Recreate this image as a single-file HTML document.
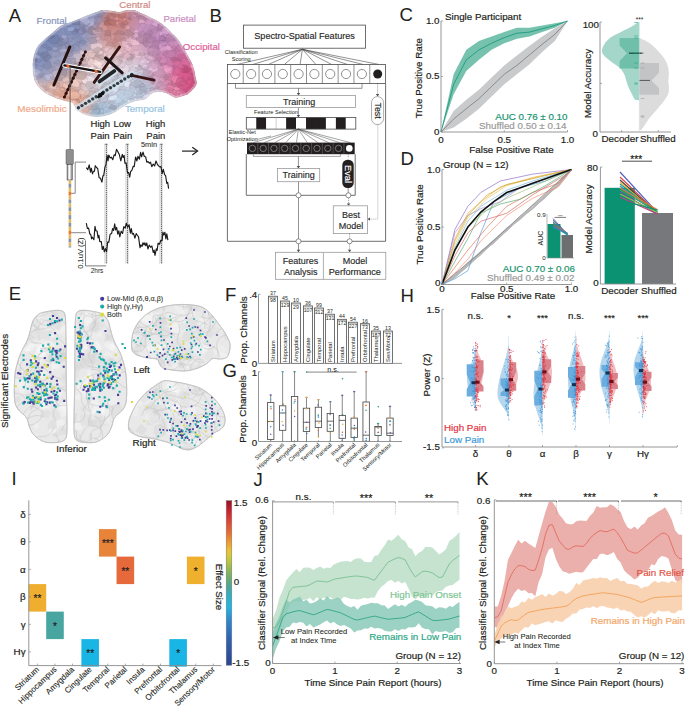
<!DOCTYPE html>
<html><head><meta charset="utf-8"><title>Figure</title>
<style>html,body{margin:0;padding:0;background:#fff;}svg{display:block;}text{font-family:"Liberation Sans", sans-serif;}</style>
</head><body>
<svg width="685" height="706" viewBox="0 0 685 706" font-family='"Liberation Sans", sans-serif'>
<rect width="685" height="706" fill="#fff"/>
<!-- p_b.panel_b -->
<text x="209.4" y="21.8" font-size="18.5" text-anchor="start" fill="#231f20" stroke="#231f20" stroke-width="0.05">B</text>
<line x1="182" y1="151.1" x2="197.3" y2="151.1" stroke="#222" stroke-width="1.2"/>
<path d="M192.3 147.2 L197.6 151.1 L192.3 155" fill="none" stroke="#222" stroke-width="1.2"/>
<rect x="243.4" y="25.1" width="122.2" height="23.1" fill="#fff" stroke="#4a4a4a" stroke-width="0.8"/>
<text x="304.6" y="39.2" font-size="9.1" text-anchor="middle" fill="#2a2a2a" stroke="#2a2a2a" stroke-width="0.158">Spectro-Spatial Features</text>
<text x="241.2" y="54" font-size="5.6" text-anchor="middle" fill="#231f20">Classification</text>
<text x="241.2" y="60.6" font-size="5.6" text-anchor="middle" fill="#231f20">Scoring</text>
<line x1="302.4" y1="49.3" x2="236.81" y2="64.5" stroke="#4a4a4a" stroke-width="0.6"/>
<line x1="302.4" y1="49.3" x2="252.63" y2="64.5" stroke="#4a4a4a" stroke-width="0.6"/>
<line x1="302.4" y1="49.3" x2="268.45" y2="64.5" stroke="#4a4a4a" stroke-width="0.6"/>
<line x1="302.4" y1="49.3" x2="284.27" y2="64.5" stroke="#4a4a4a" stroke-width="0.6"/>
<line x1="302.4" y1="49.3" x2="300.09" y2="64.5" stroke="#4a4a4a" stroke-width="0.6"/>
<line x1="302.4" y1="49.3" x2="315.91" y2="64.5" stroke="#4a4a4a" stroke-width="0.6"/>
<line x1="302.4" y1="49.3" x2="331.73" y2="64.5" stroke="#4a4a4a" stroke-width="0.6"/>
<line x1="302.4" y1="49.3" x2="347.55" y2="64.5" stroke="#4a4a4a" stroke-width="0.6"/>
<line x1="302.4" y1="49.3" x2="363.37" y2="64.5" stroke="#4a4a4a" stroke-width="0.6"/>
<line x1="302.4" y1="49.3" x2="379.19" y2="64.5" stroke="#4a4a4a" stroke-width="0.6"/>
<rect x="227.4" y="64.5" width="158.2" height="19" fill="#fff" stroke="#4a4a4a" stroke-width="0.8"/>
<line x1="243.22" y1="64.5" x2="243.22" y2="83.5" stroke="#4a4a4a" stroke-width="0.6"/>
<line x1="259.04" y1="64.5" x2="259.04" y2="83.5" stroke="#4a4a4a" stroke-width="0.6"/>
<line x1="274.86" y1="64.5" x2="274.86" y2="83.5" stroke="#4a4a4a" stroke-width="0.6"/>
<line x1="290.68" y1="64.5" x2="290.68" y2="83.5" stroke="#4a4a4a" stroke-width="0.6"/>
<line x1="306.5" y1="64.5" x2="306.5" y2="83.5" stroke="#4a4a4a" stroke-width="0.6"/>
<line x1="322.32" y1="64.5" x2="322.32" y2="83.5" stroke="#4a4a4a" stroke-width="0.6"/>
<line x1="338.14" y1="64.5" x2="338.14" y2="83.5" stroke="#4a4a4a" stroke-width="0.6"/>
<line x1="353.96" y1="64.5" x2="353.96" y2="83.5" stroke="#4a4a4a" stroke-width="0.6"/>
<line x1="369.78" y1="64.5" x2="369.78" y2="83.5" stroke="#4a4a4a" stroke-width="0.6"/>
<circle cx="235.31" cy="74" r="4.6" fill="#fff" stroke="#4a4a4a" stroke-width="0.6"/>
<circle cx="251.13" cy="74" r="4.6" fill="#fff" stroke="#4a4a4a" stroke-width="0.6"/>
<circle cx="266.95" cy="74" r="4.6" fill="#fff" stroke="#4a4a4a" stroke-width="0.6"/>
<circle cx="282.77" cy="74" r="4.6" fill="#fff" stroke="#4a4a4a" stroke-width="0.6"/>
<circle cx="298.59" cy="74" r="4.6" fill="#fff" stroke="#4a4a4a" stroke-width="0.6"/>
<circle cx="314.41" cy="74" r="4.6" fill="#fff" stroke="#4a4a4a" stroke-width="0.6"/>
<circle cx="330.23" cy="74" r="4.6" fill="#fff" stroke="#4a4a4a" stroke-width="0.6"/>
<circle cx="346.05" cy="74" r="4.6" fill="#fff" stroke="#4a4a4a" stroke-width="0.6"/>
<circle cx="361.87" cy="74" r="4.6" fill="#fff" stroke="#4a4a4a" stroke-width="0.6"/>
<circle cx="377.69" cy="74" r="4.5" fill="#231f20"/>
<path d="M227.4 83.5 L227.4 241.3 L385.6 241.3 L385.6 83.5" fill="none" stroke="#4a4a4a" stroke-width="0.8"/>
<path d="M235.5 83.5 L235.5 88.3 L362 88.3 L362 83.5" fill="none" stroke="#4a4a4a" stroke-width="0.6"/>
<line x1="298.5" y1="88.3" x2="298.5" y2="93.5" stroke="#4a4a4a" stroke-width="0.6"/>
<path d="M296.8 93 L300.2 93 L298.5 95.5 Z" fill="#4a4a4a"/>
<line x1="377.6" y1="83.5" x2="377.6" y2="94.5" stroke="#4a4a4a" stroke-width="0.6" stroke-dasharray="1 1"/>
<path d="M375.9 94 L379.3 94 L377.6 96.5 Z" fill="#4a4a4a"/>
<rect x="246.3" y="95.5" width="109.2" height="12" fill="#fff" stroke="#9a9a9a" stroke-width="0.8"/>
<text x="299.2" y="104.6" font-size="9" text-anchor="middle" fill="#2a2a2a" stroke="#2a2a2a" stroke-width="0.152">Training</text>
<text x="276" y="113.6" font-size="5.6" text-anchor="middle" fill="#231f20">Feature Selection</text>
<line x1="298.4" y1="107.5" x2="298.4" y2="115.5" stroke="#4a4a4a" stroke-width="0.6"/>
<path d="M296.7 115 L300.1 115 L298.4 117.4 Z" fill="#4a4a4a"/>
<rect x="246.3" y="117.4" width="9.95" height="11.7" fill="#fff"/>
<rect x="256.25" y="117.4" width="9.95" height="11.7" fill="#231f20"/>
<rect x="266.21" y="117.4" width="9.95" height="11.7" fill="#fff"/>
<rect x="276.16" y="117.4" width="9.95" height="11.7" fill="#fff"/>
<rect x="286.12" y="117.4" width="9.95" height="11.7" fill="#231f20"/>
<rect x="296.07" y="117.4" width="9.95" height="11.7" fill="#fff"/>
<rect x="306.03" y="117.4" width="9.95" height="11.7" fill="#231f20"/>
<rect x="315.98" y="117.4" width="9.95" height="11.7" fill="#231f20"/>
<rect x="325.94" y="117.4" width="9.95" height="11.7" fill="#fff"/>
<rect x="335.89" y="117.4" width="9.95" height="11.7" fill="#231f20"/>
<rect x="345.85" y="117.4" width="9.95" height="11.7" fill="#fff"/>
<rect x="246.3" y="117.4" width="109.5" height="11.7" fill="none" stroke="#4a4a4a" stroke-width="0.8"/>
<line x1="276.16" y1="117.4" x2="276.16" y2="129.1" stroke="#888" stroke-width="0.4"/>
<text x="242.2" y="134.4" font-size="5.6" text-anchor="middle" fill="#231f20">Elastic-Net</text>
<text x="242.2" y="140.6" font-size="5.6" text-anchor="middle" fill="#231f20">Optimization</text>
<line x1="298.4" y1="129.1" x2="253.38" y2="142.6" stroke="#4a4a4a" stroke-width="0.5"/>
<line x1="298.4" y1="129.1" x2="264.15" y2="142.6" stroke="#4a4a4a" stroke-width="0.5"/>
<line x1="298.4" y1="129.1" x2="274.93" y2="142.6" stroke="#4a4a4a" stroke-width="0.5"/>
<line x1="298.4" y1="129.1" x2="285.69" y2="142.6" stroke="#4a4a4a" stroke-width="0.5"/>
<line x1="298.4" y1="129.1" x2="296.46" y2="142.6" stroke="#4a4a4a" stroke-width="0.5"/>
<line x1="298.4" y1="129.1" x2="307.24" y2="142.6" stroke="#4a4a4a" stroke-width="0.5"/>
<line x1="298.4" y1="129.1" x2="318" y2="142.6" stroke="#4a4a4a" stroke-width="0.5"/>
<line x1="298.4" y1="129.1" x2="328.77" y2="142.6" stroke="#4a4a4a" stroke-width="0.5"/>
<line x1="298.4" y1="129.1" x2="339.55" y2="142.6" stroke="#4a4a4a" stroke-width="0.5"/>
<line x1="298.4" y1="129.1" x2="350.31" y2="142.6" stroke="#4a4a4a" stroke-width="0.5"/>
<line x1="257.2" y1="139.4" x2="271" y2="136" stroke="#4a4a4a" stroke-width="0.5"/>
<rect x="247" y="142.6" width="107.7" height="11.6" fill="#231f20"/>
<line x1="257.77" y1="142.6" x2="257.77" y2="154.2" stroke="#777" stroke-width="0.5"/>
<line x1="268.54" y1="142.6" x2="268.54" y2="154.2" stroke="#777" stroke-width="0.5"/>
<line x1="279.31" y1="142.6" x2="279.31" y2="154.2" stroke="#777" stroke-width="0.5"/>
<line x1="290.08" y1="142.6" x2="290.08" y2="154.2" stroke="#777" stroke-width="0.5"/>
<line x1="300.85" y1="142.6" x2="300.85" y2="154.2" stroke="#777" stroke-width="0.5"/>
<line x1="311.62" y1="142.6" x2="311.62" y2="154.2" stroke="#777" stroke-width="0.5"/>
<line x1="322.39" y1="142.6" x2="322.39" y2="154.2" stroke="#777" stroke-width="0.5"/>
<line x1="333.16" y1="142.6" x2="333.16" y2="154.2" stroke="#777" stroke-width="0.5"/>
<line x1="343.93" y1="142.6" x2="343.93" y2="154.2" stroke="#777" stroke-width="0.5"/>
<circle cx="252.38" cy="148.4" r="3.2" fill="none" stroke="#aaa" stroke-width="0.6"/>
<circle cx="263.15" cy="148.4" r="3.2" fill="none" stroke="#aaa" stroke-width="0.6"/>
<circle cx="273.93" cy="148.4" r="3.2" fill="none" stroke="#aaa" stroke-width="0.6"/>
<circle cx="284.69" cy="148.4" r="3.2" fill="none" stroke="#aaa" stroke-width="0.6"/>
<circle cx="295.46" cy="148.4" r="3.2" fill="none" stroke="#aaa" stroke-width="0.6"/>
<circle cx="306.24" cy="148.4" r="3.2" fill="none" stroke="#aaa" stroke-width="0.6"/>
<circle cx="317" cy="148.4" r="3.2" fill="none" stroke="#aaa" stroke-width="0.6"/>
<circle cx="327.77" cy="148.4" r="3.2" fill="none" stroke="#aaa" stroke-width="0.6"/>
<circle cx="338.55" cy="148.4" r="3.2" fill="none" stroke="#aaa" stroke-width="0.6"/>
<circle cx="349.31" cy="148.4" r="3.3" fill="#fff"/>
<path d="M246.3 154.2 L246.3 195.3 L355.2 195.3 L355.2 154.2" fill="none" stroke="#4a4a4a" stroke-width="0.8"/>
<path d="M253.3 154.2 L253.3 156.4 L340.4 156.4 L340.4 154.2" fill="none" stroke="#4a4a4a" stroke-width="0.5"/>
<line x1="298.4" y1="156.4" x2="298.4" y2="166.4" stroke="#4a4a4a" stroke-width="0.6"/>
<path d="M296.7 166 L300.1 166 L298.4 168.4 Z" fill="#4a4a4a"/>
<rect x="277.4" y="168.4" width="42.3" height="13.3" fill="#fff" stroke="#9a9a9a" stroke-width="0.8"/>
<text x="298.6" y="178.4" font-size="9" text-anchor="middle" fill="#2a2a2a" stroke="#2a2a2a" stroke-width="0.152">Training</text>
<line x1="348.2" y1="154.2" x2="348.2" y2="158" stroke="#4a4a4a" stroke-width="0.6" stroke-dasharray="1 1"/>
<rect x="342.3" y="159.8" width="11.4" height="28.2" fill="#231f20" rx="5.2"/>
<text x="348.4" y="177.16" font-size="9.2" text-anchor="middle" fill="#fff" transform="rotate(90 348.4 174)" stroke="#fff" stroke-width="0.164">Eval</text>
<line x1="348.2" y1="188" x2="348.2" y2="193" stroke="#4a4a4a" stroke-width="0.6"/>
<line x1="298.5" y1="181.7" x2="298.5" y2="250" stroke="#4a4a4a" stroke-width="0.6"/>
<path d="M296.8 249.8 L300.2 249.8 L298.5 252.3 Z" fill="#4a4a4a"/>
<line x1="348.6" y1="197.8" x2="348.6" y2="204" stroke="#4a4a4a" stroke-width="0.6" stroke-dasharray="1 1"/>
<path d="M346.9 203.4 L350.3 203.4 L348.6 205.8 Z" fill="#4a4a4a"/>
<rect x="333.3" y="205.8" width="34.3" height="27.8" fill="#fff" stroke="#9a9a9a" stroke-width="0.8"/>
<text x="350.9" y="218" font-size="9" text-anchor="middle" fill="#2a2a2a" stroke="#2a2a2a" stroke-width="0.152">Best</text>
<text x="350.9" y="228.8" font-size="9" text-anchor="middle" fill="#2a2a2a" stroke="#2a2a2a" stroke-width="0.152">Model</text>
<rect x="371.5" y="96.6" width="12.1" height="28" fill="#fff" stroke="#8a8a8a" stroke-width="0.7" rx="6"/>
<text x="377.6" y="113.63" font-size="8.8" text-anchor="middle" fill="#231f20" transform="rotate(90 377.6 110.6)" stroke="#231f20" stroke-width="0.139">Test</text>
<path d="M377.8 124.6 L377.8 219.1 L370 219.1" fill="none" stroke="#777" stroke-width="0.6" stroke-dasharray="1 1"/>
<path d="M370 217.4 L370 220.8 L367.6 219.1 Z" fill="#4a4a4a"/>
<line x1="349.6" y1="233.6" x2="349.6" y2="250" stroke="#4a4a4a" stroke-width="0.6" stroke-dasharray="1 1"/>
<path d="M347.9 249.8 L351.3 249.8 L349.6 252.3 Z" fill="#4a4a4a"/>
<circle cx="298.5" cy="195.3" r="2.5" fill="#fff" stroke="#4a4a4a" stroke-width="0.6"/>
<circle cx="348.4" cy="195.3" r="2.5" fill="#fff" stroke="#4a4a4a" stroke-width="0.6"/>
<circle cx="298.5" cy="241.3" r="2.5" fill="#fff" stroke="#4a4a4a" stroke-width="0.6"/>
<circle cx="349.6" cy="241.3" r="2.5" fill="#fff" stroke="#4a4a4a" stroke-width="0.6"/>
<rect x="275.5" y="252.3" width="110.3" height="27" fill="#fff" stroke="#9a9a9a" stroke-width="0.8"/>
<line x1="323.4" y1="252.3" x2="323.4" y2="279.3" stroke="#9a9a9a" stroke-width="0.8"/>
<text x="300.6" y="263.8" font-size="9" text-anchor="middle" fill="#2a2a2a" stroke="#2a2a2a" stroke-width="0.152">Features</text>
<text x="300.8" y="274.6" font-size="9" text-anchor="middle" fill="#2a2a2a" stroke="#2a2a2a" stroke-width="0.152">Analysis</text>
<text x="355" y="263.8" font-size="9" text-anchor="middle" fill="#2a2a2a" stroke="#2a2a2a" stroke-width="0.152">Model</text>
<text x="354.8" y="274.6" font-size="9.1" text-anchor="middle" fill="#2a2a2a" stroke="#2a2a2a" stroke-width="0.158">Performance</text>
<!-- p_cd.panel_c -->
<text x="399.5" y="20.8" font-size="18.5" text-anchor="start" fill="#231f20" stroke="#231f20" stroke-width="0.05">C</text>
<path d="M441 132 L453.65 110.91 L466.3 99.81 L478.95 89.82 L491.6 77.61 L504.25 65.4 L516.9 55.41 L529.55 45.64 L542.2 36.54 L554.85 28.33 L567.5 21 L567.5 21 L554.85 40.98 L542.2 52.08 L529.55 64.29 L516.9 74.28 L504.25 84.27 L491.6 96.48 L478.95 108.69 L466.3 118.68 L453.65 127.56 L441 132 Z" fill="#c9cacb"/>
<path d="M441 132 L453.65 119.01 L466.3 108.69 L478.95 98.7 L491.6 86.49 L504.25 74.28 L516.9 65.4 L529.55 54.86 L542.2 44.31 L554.85 34.32 L567.5 21" fill="none" stroke="#6f7072" stroke-width="0.7"/>
<path d="M441 132 L453.65 74.28 L466.3 49.86 L478.95 40.98 L491.6 36.54 L504.25 32.1 L516.9 27.66 L529.55 27.66 L542.2 25.44 L554.85 23.22 L567.5 21 L567.5 21 L554.85 27.66 L542.2 32.1 L529.55 36.54 L516.9 38.76 L504.25 43.2 L491.6 49.86 L478.95 59.85 L466.3 70.95 L453.65 94.26 L441 132 Z" fill="#77c1af"/>
<path d="M441 132 L453.65 84.27 L466.3 59.85 L478.95 49.86 L491.6 43.2 L504.25 37.65 L516.9 33.21 L529.55 32.1 L542.2 28.77 L554.85 25.44 L567.5 21" fill="none" stroke="#1c9c7d" stroke-width="0.9"/>
<path d="M441 21 L441 132 L567.5 132" fill="none" stroke="#8a8a8a" stroke-width="0.9"/>
<line x1="441" y1="132" x2="443" y2="132" stroke="#8a8a8a" stroke-width="0.7"/>
<line x1="441" y1="132" x2="441" y2="130" stroke="#8a8a8a" stroke-width="0.7"/>
<line x1="441" y1="76.5" x2="443" y2="76.5" stroke="#8a8a8a" stroke-width="0.7"/>
<line x1="504.25" y1="132" x2="504.25" y2="130" stroke="#8a8a8a" stroke-width="0.7"/>
<line x1="441" y1="21" x2="443" y2="21" stroke="#8a8a8a" stroke-width="0.7"/>
<line x1="567.5" y1="132" x2="567.5" y2="130" stroke="#8a8a8a" stroke-width="0.7"/>
<text x="439.5" y="24.27" font-size="9.8" text-anchor="end" fill="#231f20" stroke="#231f20" stroke-width="0.2">1.0</text>
<text x="439.5" y="78.57" font-size="9.8" text-anchor="end" fill="#231f20" stroke="#231f20" stroke-width="0.2">0.5</text>
<text x="439.5" y="134.57" font-size="9.8" text-anchor="end" fill="#231f20" stroke="#231f20" stroke-width="0.2">0</text>
<text x="441" y="142.87" font-size="9.8" text-anchor="middle" fill="#231f20" stroke="#231f20" stroke-width="0.2">0</text>
<text x="504.25" y="142.87" font-size="9.8" text-anchor="middle" fill="#231f20" stroke="#231f20" stroke-width="0.2">0.5</text>
<text x="567.5" y="142.87" font-size="9.8" text-anchor="middle" fill="#231f20" stroke="#231f20" stroke-width="0.2">1.0</text>
<text x="511.5" y="152.97" font-size="9.8" text-anchor="middle" fill="#231f20" stroke="#231f20" stroke-width="0.2">False Positive Rate</text>
<text x="418.7" y="81.57" font-size="9.8" text-anchor="middle" fill="#231f20" transform="rotate(-90 418.7 78.2)" stroke="#231f20" stroke-width="0.2">True Positive Rate</text>
<text x="445" y="19.97" font-size="9.8" text-anchor="start" fill="#231f20" stroke="#231f20" stroke-width="0.2">Single Participant</text>
<text x="567.5" y="119.67" font-size="9.8" text-anchor="end" fill="#17946f" stroke="#17946f" stroke-width="0.2">AUC 0.76 ± 0.10</text>
<text x="566.5" y="128.97" font-size="9.8" text-anchor="end" fill="#9a9a9a" stroke="#9a9a9a" stroke-width="0.2">Shuffled 0.50 ± 0.14</text>
<path d="M638 22.3 C636.95 23.02 634.53 25 631.7 26.6 C628.87 28.2 624.18 30.3 621 31.9 C617.82 33.5 614.9 34.78 612.6 36.2 C610.3 37.62 608.63 38.98 607.2 40.4 C605.77 41.82 604.87 43.1 604 44.7 C603.13 46.3 602.17 48.4 602 50 C601.83 51.6 602.13 52.88 603 54.3 C603.87 55.72 605.6 57.08 607.2 58.5 C608.8 59.92 610.47 61.2 612.6 62.8 C614.73 64.4 618.05 66.15 620 68.1 C621.95 70.05 623.23 72.37 624.3 74.5 C625.37 76.63 625.7 78.78 626.4 80.9 C627.1 83.02 627.62 85.08 628.5 87.2 C629.38 89.32 630.63 91.53 631.7 93.6 C632.77 95.67 633.63 98.45 634.9 99.6 C636.17 100.75 638.57 100.35 639.3 100.5 L639.3 100.5 L639.3 22 Z" fill="#a4d7ca"/>
<path d="M640.2 38.3 C641.62 39.02 646.03 40.83 648.7 42.6 C651.37 44.37 654 46.78 656.2 48.9 C658.4 51.02 660.23 53.17 661.9 55.3 C663.57 57.43 665.13 59.57 666.2 61.7 C667.27 63.83 667.85 65.97 668.3 68.1 C668.75 70.23 668.9 72.37 668.9 74.5 C668.9 76.63 668.3 78.78 668.3 80.9 C668.3 83.02 668.9 85.08 668.9 87.2 C668.9 89.32 669 91.47 668.3 93.6 C667.6 95.73 666.18 97.87 664.7 100 C663.22 102.13 661.18 104.27 659.4 106.4 C657.62 108.53 655.78 110.68 654 112.8 C652.22 114.92 650.28 116.98 648.7 119.1 C647.12 121.22 645.73 123.72 644.5 125.5 C643.27 127.28 642.17 128.88 641.3 129.8 C640.43 130.72 639.63 130.8 639.3 131 L639.3 131 L639.3 38.3 Z" fill="#dcdcdd"/>
<path d="M619.6 38 L639.3 38 L639.3 68.5 L619.6 68.5 L619.6 61 L627 53.2 L619.6 45.5 Z" fill="#6fbfaa"/>
<path d="M639.3 63 L659 63 L659 72.5 L651.5 80.4 L659 88.3 L659 94.7 L639.3 94.7 Z" fill="#c3c4c5"/>
<line x1="629" y1="53.2" x2="642.5" y2="53.2" stroke="#1d4d40" stroke-width="1.3"/>
<line x1="639.3" y1="80.4" x2="650" y2="80.4" stroke="#555" stroke-width="1"/>
<line x1="639.3" y1="22" x2="639.3" y2="131" stroke="#bfe0d7" stroke-width="0.3"/>
<line x1="634.3" y1="22.5" x2="637.8" y2="22.5" stroke="#1fa585" stroke-width="0.6"/>
<line x1="634.3" y1="36" x2="637.8" y2="36" stroke="#1fa585" stroke-width="0.6"/>
<line x1="634.3" y1="38" x2="637.8" y2="38" stroke="#1fa585" stroke-width="0.6"/>
<line x1="634.3" y1="53" x2="637.8" y2="53" stroke="#1fa585" stroke-width="0.6"/>
<line x1="634.3" y1="63" x2="637.8" y2="63" stroke="#1fa585" stroke-width="0.6"/>
<line x1="634.3" y1="68" x2="637.8" y2="68" stroke="#1fa585" stroke-width="0.6"/>
<line x1="634.3" y1="83" x2="637.8" y2="83" stroke="#1fa585" stroke-width="0.6"/>
<line x1="634.3" y1="84" x2="637.8" y2="84" stroke="#1fa585" stroke-width="0.6"/>
<line x1="640.8" y1="53" x2="644.3" y2="53" stroke="#8a8a8a" stroke-width="0.5"/>
<line x1="640.8" y1="63" x2="644.3" y2="63" stroke="#8a8a8a" stroke-width="0.5"/>
<line x1="640.8" y1="68" x2="644.3" y2="68" stroke="#8a8a8a" stroke-width="0.5"/>
<line x1="640.8" y1="98.5" x2="644.3" y2="98.5" stroke="#8a8a8a" stroke-width="0.5"/>
<line x1="640.8" y1="116" x2="644.3" y2="116" stroke="#8a8a8a" stroke-width="0.5"/>
<line x1="640.8" y1="117" x2="644.3" y2="117" stroke="#8a8a8a" stroke-width="0.5"/>
<path d="M600 22 L600 132 L671 132" fill="none" stroke="#8a8a8a" stroke-width="0.9"/>
<line x1="600" y1="22" x2="602" y2="22" stroke="#8a8a8a" stroke-width="0.7"/>
<line x1="600" y1="83.4" x2="602" y2="83.4" stroke="#8a8a8a" stroke-width="0.7"/>
<line x1="621.7" y1="132" x2="621.7" y2="130" stroke="#8a8a8a" stroke-width="0.7"/>
<line x1="658.3" y1="132" x2="658.3" y2="130" stroke="#8a8a8a" stroke-width="0.7"/>
<text x="599" y="27.87" font-size="9.8" text-anchor="end" fill="#231f20" stroke="#231f20" stroke-width="0.2">100</text>
<text x="598" y="136.67" font-size="9.8" text-anchor="end" fill="#231f20" stroke="#231f20" stroke-width="0.2">0</text>
<text x="587.9" y="86.87" font-size="9.8" text-anchor="middle" fill="#231f20" transform="rotate(-90 587.9 83.5)" stroke="#231f20" stroke-width="0.2">Model Accuracy</text>
<text x="601.5" y="142.07" font-size="9.8" text-anchor="start" fill="#231f20" stroke="#231f20" stroke-width="0.2">Decoder</text>
<text x="640" y="142.07" font-size="9.8" text-anchor="start" fill="#231f20" stroke="#231f20" stroke-width="0.2">Shuffled</text>
<text x="639.5" y="22.36" font-size="6.5" text-anchor="middle" fill="#231f20">***</text>
<!-- p_cd.panel_d -->
<text x="400.5" y="165.3" font-size="18.5" text-anchor="start" fill="#231f20" stroke="#231f20" stroke-width="0.05">D</text>
<path d="M442 284.5 L454.95 276.6 L467.9 265.82 L480.85 252.25 L493.8 243.15 L506.75 229.73 L519.7 218.93 L532.65 208.7 L545.6 195.34 L558.55 185.79 L571.5 169.5" fill="none" stroke="#b8b8b8" stroke-width="0.8"/>
<path d="M442 284.5 L454.95 276.15 L467.9 266.16 L480.85 254.57 L493.8 241.69 L506.75 228.52 L519.7 219.93 L532.65 208.02 L545.6 194.85 L558.55 182.02 L571.5 169.5" fill="none" stroke="#b8b8b8" stroke-width="0.8"/>
<path d="M442 284.5 L454.95 275.56 L467.9 264.8 L480.85 250.9 L493.8 243.25 L506.75 228.39 L519.7 219.25 L532.65 208.35 L545.6 196.96 L558.55 184.67 L571.5 169.5" fill="none" stroke="#b8b8b8" stroke-width="0.8"/>
<path d="M442 284.5 L454.95 274.57 L467.9 265.7 L480.85 252.54 L493.8 240.8 L506.75 230.4 L519.7 218.18 L532.65 208.69 L545.6 197.2 L558.55 185.09 L571.5 169.5" fill="none" stroke="#b8b8b8" stroke-width="0.8"/>
<path d="M442 284.5 L454.95 275.13 L467.9 264.67 L480.85 253.64 L493.8 241.02 L506.75 230.07 L519.7 219.2 L532.65 205.66 L545.6 194.55 L558.55 184.93 L571.5 169.5" fill="none" stroke="#b8b8b8" stroke-width="0.8"/>
<path d="M442 284.5 L454.95 275.57 L467.9 264.27 L480.85 251.32 L493.8 240.43 L506.75 230.75 L519.7 216.39 L532.65 208.46 L545.6 195.71 L558.55 182.81 L571.5 169.5" fill="none" stroke="#b8b8b8" stroke-width="0.8"/>
<path d="M442 284.5 L454.95 277.32 L467.9 264.42 L480.85 254.78 L493.8 240.68 L506.75 228.78 L519.7 218.07 L532.65 205.32 L545.6 196.15 L558.55 183.07 L571.5 169.5" fill="none" stroke="#b8b8b8" stroke-width="0.8"/>
<path d="M442 284.5 L454.95 275.48 L467.9 264.04 L480.85 253.06 L493.8 239.97 L506.75 228.03 L519.7 218.48 L532.65 206.2 L545.6 197.19 L558.55 183.04 L571.5 169.5" fill="none" stroke="#b8b8b8" stroke-width="0.8"/>
<path d="M442 284.5 L454.95 275.27 L467.9 262.33 L480.85 251.54 L493.8 242.27 L506.75 230.35 L519.7 217.68 L532.65 208.85 L545.6 195.53 L558.55 185.25 L571.5 169.5" fill="none" stroke="#b8b8b8" stroke-width="0.8"/>
<path d="M442 284.5 L454.95 277.46 L467.9 266.2 L480.85 251.76 L493.8 242.91 L506.75 230.92 L519.7 218.83 L532.65 205.34 L545.6 197.11 L558.55 184.09 L571.5 169.5" fill="none" stroke="#b8b8b8" stroke-width="0.8"/>
<path d="M442 284.5 L454.95 275.67 L467.9 262.79 L480.85 251.55 L493.8 239.87 L506.75 230.79 L519.7 218.73 L532.65 207.46 L545.6 193.78 L558.55 181.98 L571.5 169.5" fill="none" stroke="#b8b8b8" stroke-width="0.8"/>
<path d="M442 284.5 L454.95 277.32 L467.9 265.72 L480.85 253.98 L493.8 242.48 L506.75 229.94 L519.7 218.01 L532.65 207.86 L545.6 197.43 L558.55 184.21 L571.5 169.5" fill="none" stroke="#b8b8b8" stroke-width="0.8"/>
<path d="M442 284.5 L454.95 229.3 L467.9 206.3 L480.85 192.5 L500.27 181 L532.65 174.1 L571.5 169.5" fill="none" stroke="#7e57c2" stroke-width="0.6"/>
<path d="M442 284.5 L454.95 238.5 L467.9 213.2 L480.85 201.7 L500.27 186.75 L532.65 177.55 L571.5 169.5" fill="none" stroke="#f0a030" stroke-width="0.6"/>
<path d="M442 284.5 L454.95 244.25 L467.9 217.8 L487.32 198.25 L506.75 185.6 L539.12 176.4 L571.5 169.5" fill="none" stroke="#e8c040" stroke-width="0.6"/>
<path d="M442 284.5 L454.95 278.75 L467.9 270.7 L480.85 232.75 L493.8 201.7 L519.7 187.9 L545.6 181 L571.5 169.5" fill="none" stroke="#3a8fd0" stroke-width="0.6"/>
<path d="M442 284.5 L454.95 267.25 L467.9 250 L487.32 227 L506.75 206.3 L532.65 192.5 L558.55 183.3 L571.5 169.5" fill="none" stroke="#e06040" stroke-width="0.6"/>
<path d="M442 284.5 L454.95 261.5 L467.9 238.5 L480.85 213.2 L500.27 204 L519.7 199.4 L545.6 185.6 L571.5 169.5" fill="none" stroke="#40a060" stroke-width="0.6"/>
<path d="M442 284.5 L454.95 250 L467.9 227 L487.32 209.75 L506.75 198.25 L532.65 186.75 L571.5 169.5" fill="none" stroke="#90c060" stroke-width="0.6"/>
<path d="M442 284.5 L454.95 255.75 L467.9 232.75 L480.85 221.25 L506.75 213.2 L532.65 194.8 L565.02 175.25 L571.5 169.5" fill="none" stroke="#d05050" stroke-width="0.6"/>
<path d="M442 284.5 L454.95 247.7 L467.9 221.25 L480.85 206.3 L506.75 190.2 L532.65 181 L571.5 169.5" fill="none" stroke="#60b0e0" stroke-width="0.6"/>
<path d="M442 284.5 L454.95 273 L467.9 259.2 L480.85 240.8 L506.75 215.5 L532.65 198.25 L558.55 186.75 L567.62 175.25 L571.5 169.5" fill="none" stroke="#f08060" stroke-width="0.6"/>
<path d="M442 284.5 L454.95 232.75 L467.9 215.5 L480.85 208.6 L500.27 201.7 L519.7 187.9 L571.5 169.5" fill="none" stroke="#a080d0" stroke-width="0.6"/>
<path d="M442 284.5 L454.95 240.8 L467.9 215.5 L487.32 194.8 L506.75 184.45 L532.65 178.7 L571.5 169.5" fill="none" stroke="#c0a020" stroke-width="0.6"/>
<path d="M442 284.5 L454.95 250 L467.9 227 L480.85 212.05 L493.8 201.7 L506.75 192.5 L519.7 187.9 L532.65 183.3 L545.6 178.7 L558.55 174.1 L571.5 169.5" fill="none" stroke="#111" stroke-width="1.6"/>
<path d="M442 284.5 L480.85 252.3 L519.7 216.65 L571.5 169.5" fill="none" stroke="#888" stroke-width="0.8"/>
<path d="M442 169.5 L442 284.5 L571.5 284.5" fill="none" stroke="#8a8a8a" stroke-width="0.9"/>
<line x1="442" y1="284.5" x2="444" y2="284.5" stroke="#8a8a8a" stroke-width="0.7"/>
<line x1="442" y1="284.5" x2="442" y2="282.5" stroke="#8a8a8a" stroke-width="0.7"/>
<line x1="442" y1="227" x2="444" y2="227" stroke="#8a8a8a" stroke-width="0.7"/>
<line x1="506.75" y1="284.5" x2="506.75" y2="282.5" stroke="#8a8a8a" stroke-width="0.7"/>
<line x1="442" y1="169.5" x2="444" y2="169.5" stroke="#8a8a8a" stroke-width="0.7"/>
<line x1="571.5" y1="284.5" x2="571.5" y2="282.5" stroke="#8a8a8a" stroke-width="0.7"/>
<text x="440.5" y="172.77" font-size="9.8" text-anchor="end" fill="#231f20" stroke="#231f20" stroke-width="0.2">1.0</text>
<text x="440.5" y="229.87" font-size="9.8" text-anchor="end" fill="#231f20" stroke="#231f20" stroke-width="0.2">0.5</text>
<text x="440.5" y="286.17" font-size="9.8" text-anchor="end" fill="#231f20" stroke="#231f20" stroke-width="0.2">0</text>
<text x="442" y="291.57" font-size="9.8" text-anchor="middle" fill="#231f20" stroke="#231f20" stroke-width="0.2">0</text>
<text x="506.75" y="291.57" font-size="9.8" text-anchor="middle" fill="#231f20" stroke="#231f20" stroke-width="0.2">0.5</text>
<text x="571.5" y="291.57" font-size="9.8" text-anchor="middle" fill="#231f20" stroke="#231f20" stroke-width="0.2">1.0</text>
<text x="513" y="299.17" font-size="9.8" text-anchor="middle" fill="#231f20" stroke="#231f20" stroke-width="0.2">False Positive Rate</text>
<text x="419.2" y="227.87" font-size="9.8" text-anchor="middle" fill="#231f20" transform="rotate(-90 419.2 224.5)" stroke="#231f20" stroke-width="0.2">True Positive Rate</text>
<text x="443" y="167.57" font-size="9.8" text-anchor="start" fill="#231f20" stroke="#231f20" stroke-width="0.2">Group (N = 12)</text>
<rect x="547.5" y="224" width="13" height="34" fill="#0a9273"/>
<rect x="561.5" y="235" width="11.5" height="23" fill="#6d6e70"/>
<line x1="553" y1="218.45" x2="567.5" y2="234.34" stroke="#4050b0" stroke-width="0.8"/>
<line x1="553" y1="219.77" x2="567.5" y2="234.12" stroke="#6a5acd" stroke-width="0.8"/>
<line x1="553" y1="220.21" x2="567.5" y2="234.41" stroke="#d04040" stroke-width="0.8"/>
<line x1="553" y1="220.73" x2="567.5" y2="234.23" stroke="#3090d0" stroke-width="0.8"/>
<line x1="553" y1="222.03" x2="567.5" y2="234.9" stroke="#20a080" stroke-width="0.8"/>
<line x1="553" y1="222.34" x2="567.5" y2="233.73" stroke="#30a050" stroke-width="0.8"/>
<line x1="553" y1="223.19" x2="567.5" y2="234.94" stroke="#5070c0" stroke-width="0.8"/>
<line x1="553" y1="224.64" x2="567.5" y2="233.1" stroke="#e06040" stroke-width="0.8"/>
<line x1="553" y1="225.78" x2="567.5" y2="235.32" stroke="#2a8fd0" stroke-width="0.8"/>
<line x1="553" y1="226.3" x2="567.5" y2="234.48" stroke="#10a070" stroke-width="0.8"/>
<line x1="553" y1="226.66" x2="567.5" y2="233.04" stroke="#8060c0" stroke-width="0.8"/>
<line x1="553" y1="227.88" x2="567.5" y2="233.14" stroke="#2090b0" stroke-width="0.8"/>
<path d="M547 214 L547 258 L574 258" fill="none" stroke="#8a8a8a" stroke-width="0.6"/>
<text x="545.6" y="217.13" font-size="6.2" text-anchor="end" fill="#231f20">0.9</text>
<text x="545.6" y="260.43" font-size="6.2" text-anchor="end" fill="#231f20">0</text>
<text x="540.6" y="240.41" font-size="7" text-anchor="middle" fill="#231f20" transform="rotate(-90 540.6 238)" stroke="#231f20" stroke-width="0.03">AUC</text>
<line x1="554.5" y1="217.4" x2="566" y2="217.4" stroke="#222" stroke-width="0.6"/>
<text x="560.3" y="218.27" font-size="4" text-anchor="middle" fill="#231f20">***</text>
<text x="575" y="271.57" font-size="9.8" text-anchor="end" fill="#17946f" stroke="#17946f" stroke-width="0.2">AUC 0.70 ± 0.06</text>
<text x="574.5" y="280.97" font-size="9.8" text-anchor="end" fill="#9a9a9a" stroke="#9a9a9a" stroke-width="0.2">Shuffled 0.49 ± 0.02</text>
<rect x="604.6" y="187.8" width="30.2" height="96.2" fill="#0a9273"/>
<rect x="642" y="213" width="31" height="71" fill="#76787b"/>
<line x1="620" y1="172" x2="657.5" y2="212.61" stroke="#5060c0" stroke-width="1.15"/>
<line x1="620" y1="177" x2="657.5" y2="213.21" stroke="#e04040" stroke-width="1.15"/>
<line x1="620" y1="180" x2="657.5" y2="213.48" stroke="#444" stroke-width="1.15"/>
<line x1="620" y1="182" x2="657.5" y2="214.21" stroke="#f0b030" stroke-width="1.15"/>
<line x1="620" y1="184" x2="657.5" y2="213.2" stroke="#20a080" stroke-width="1.15"/>
<line x1="620" y1="186" x2="657.5" y2="214.11" stroke="#3090d0" stroke-width="1.15"/>
<line x1="620" y1="188" x2="657.5" y2="209.65" stroke="#e08030" stroke-width="1.15"/>
<line x1="620" y1="190" x2="657.5" y2="211.83" stroke="#40a060" stroke-width="1.15"/>
<line x1="620" y1="192" x2="657.5" y2="214.22" stroke="#7050b0" stroke-width="1.15"/>
<line x1="620" y1="194" x2="657.5" y2="212.74" stroke="#90c040" stroke-width="1.15"/>
<line x1="620" y1="197" x2="657.5" y2="214" stroke="#c04080" stroke-width="1.15"/>
<line x1="620" y1="200" x2="657.5" y2="210.07" stroke="#109070" stroke-width="1.15"/>
<path d="M600.4 167 L600.4 284 L676 284" fill="none" stroke="#8a8a8a" stroke-width="0.9"/>
<line x1="600.4" y1="167" x2="602.4" y2="167" stroke="#8a8a8a" stroke-width="0.7"/>
<text x="598" y="170.67" font-size="9.8" text-anchor="end" fill="#231f20" stroke="#231f20" stroke-width="0.2">80</text>
<text x="598.8" y="286.37" font-size="9.8" text-anchor="end" fill="#231f20" stroke="#231f20" stroke-width="0.2">0</text>
<text x="589" y="222.37" font-size="9.8" text-anchor="middle" fill="#231f20" transform="rotate(-90 589 219)" stroke="#231f20" stroke-width="0.2">Model Accuracy</text>
<text x="601.2" y="294.17" font-size="9.8" text-anchor="start" fill="#231f20" stroke="#231f20" stroke-width="0.2">Decoder</text>
<text x="641" y="294.17" font-size="9.8" text-anchor="start" fill="#231f20" stroke="#231f20" stroke-width="0.2">Shuffled</text>
<line x1="622" y1="161.2" x2="652" y2="161.2" stroke="#231f20" stroke-width="0.8"/>
<text x="636.3" y="163.08" font-size="10.2" text-anchor="middle" fill="#231f20" stroke="#231f20" stroke-width="0.2">***</text>
<!-- p_fgh.panel_f -->
<text x="225" y="301" font-size="18.5" text-anchor="start" fill="#231f20" stroke="#231f20" stroke-width="0.05">F</text>
<rect x="268.5" y="296.2" width="9" height="67.2" fill="#fff" stroke="#444" stroke-width="0.75"/>
<text x="273" y="295" font-size="5.2" text-anchor="middle" fill="#231f20">37</text>
<text x="273" y="301.8" font-size="5.2" text-anchor="middle" fill="#231f20">98</text>
<line x1="269.1" y1="297.3" x2="276.9" y2="297.3" stroke="#666" stroke-width="0.5"/>
<text x="274.8" y="361.9" font-size="5.8" fill="#231f20" transform="rotate(-90 274.8 361.9)">Striatum</text>
<rect x="280.5" y="301" width="9" height="62.4" fill="#fff" stroke="#444" stroke-width="0.75"/>
<text x="285" y="299.8" font-size="5.2" text-anchor="middle" fill="#231f20">45</text>
<text x="285" y="306.6" font-size="5.2" text-anchor="middle" fill="#231f20">129</text>
<line x1="281.1" y1="302.1" x2="288.9" y2="302.1" stroke="#666" stroke-width="0.5"/>
<text x="286.8" y="361.9" font-size="5.8" fill="#231f20" transform="rotate(-90 286.8 361.9)">Hippocampus</text>
<rect x="291.5" y="303" width="9" height="60.4" fill="#fff" stroke="#444" stroke-width="0.75"/>
<text x="296" y="301.8" font-size="5.2" text-anchor="middle" fill="#231f20">10</text>
<text x="296" y="308.6" font-size="5.2" text-anchor="middle" fill="#231f20">29</text>
<line x1="292.1" y1="304.1" x2="299.9" y2="304.1" stroke="#666" stroke-width="0.5"/>
<text x="297.8" y="361.9" font-size="5.8" fill="#231f20" transform="rotate(-90 297.8 361.9)">Amygdala</text>
<rect x="303.5" y="305.9" width="9" height="57.5" fill="#fff" stroke="#444" stroke-width="0.75"/>
<text x="308" y="304.7" font-size="5.2" text-anchor="middle" fill="#231f20">36</text>
<text x="308" y="311.5" font-size="5.2" text-anchor="middle" fill="#231f20">107</text>
<line x1="304.1" y1="307" x2="311.9" y2="307" stroke="#666" stroke-width="0.5"/>
<text x="309.8" y="361.9" font-size="5.8" fill="#231f20" transform="rotate(-90 309.8 361.9)">Cingulate</text>
<rect x="314.5" y="308" width="9" height="55.4" fill="#fff" stroke="#444" stroke-width="0.75"/>
<text x="319" y="306.8" font-size="5.2" text-anchor="middle" fill="#231f20">99</text>
<text x="319" y="313.6" font-size="5.2" text-anchor="middle" fill="#231f20">312</text>
<line x1="315.1" y1="309.1" x2="322.9" y2="309.1" stroke="#666" stroke-width="0.5"/>
<text x="320.8" y="361.9" font-size="5.8" fill="#231f20" transform="rotate(-90 320.8 361.9)">Temporal</text>
<rect x="325.5" y="314.2" width="9" height="49.2" fill="#fff" stroke="#444" stroke-width="0.75"/>
<text x="330" y="313" font-size="5.2" text-anchor="middle" fill="#231f20">37</text>
<text x="330" y="319.8" font-size="5.2" text-anchor="middle" fill="#231f20">131</text>
<line x1="326.1" y1="315.3" x2="333.9" y2="315.3" stroke="#666" stroke-width="0.5"/>
<text x="331.8" y="361.9" font-size="5.8" fill="#231f20" transform="rotate(-90 331.8 361.9)">Parietal</text>
<rect x="337.5" y="319.3" width="9" height="44.1" fill="#fff" stroke="#444" stroke-width="0.75"/>
<text x="342" y="318.1" font-size="5.2" text-anchor="middle" fill="#231f20">44</text>
<text x="342" y="324.9" font-size="5.2" text-anchor="middle" fill="#231f20">172</text>
<line x1="338.1" y1="320.4" x2="345.9" y2="320.4" stroke="#666" stroke-width="0.5"/>
<text x="343.8" y="361.9" font-size="5.8" fill="#231f20" transform="rotate(-90 343.8 361.9)">Insula</text>
<rect x="348.5" y="322.2" width="9" height="41.2" fill="#fff" stroke="#444" stroke-width="0.75"/>
<text x="353" y="321" font-size="5.2" text-anchor="middle" fill="#231f20">54</text>
<text x="353" y="327.8" font-size="5.2" text-anchor="middle" fill="#231f20">227</text>
<line x1="349.1" y1="323.3" x2="356.9" y2="323.3" stroke="#666" stroke-width="0.5"/>
<text x="354.8" y="361.9" font-size="5.8" fill="#231f20" transform="rotate(-90 354.8 361.9)">Prefrontal</text>
<rect x="360.5" y="323.7" width="9" height="39.7" fill="#fff" stroke="#444" stroke-width="0.75"/>
<text x="365" y="322.5" font-size="5.2" text-anchor="middle" fill="#231f20">16</text>
<text x="365" y="329.3" font-size="5.2" text-anchor="middle" fill="#231f20">73</text>
<line x1="361.1" y1="324.8" x2="368.9" y2="324.8" stroke="#666" stroke-width="0.5"/>
<text x="366.8" y="361.9" font-size="5.8" fill="#231f20" transform="rotate(-90 366.8 361.9)">Orbitofrontal</text>
<rect x="371.5" y="331" width="9" height="32.4" fill="#fff" stroke="#444" stroke-width="0.75"/>
<text x="376" y="329.8" font-size="5.2" text-anchor="middle" fill="#231f20">35</text>
<text x="376" y="336.6" font-size="5.2" text-anchor="middle" fill="#231f20">187</text>
<line x1="372.1" y1="332.1" x2="379.9" y2="332.1" stroke="#666" stroke-width="0.5"/>
<text x="377.8" y="361.9" font-size="5.8" fill="#231f20" transform="rotate(-90 377.8 361.9)">Thalamus</text>
<rect x="383.5" y="331" width="9" height="32.4" fill="#fff" stroke="#444" stroke-width="0.75"/>
<text x="388" y="329.8" font-size="5.2" text-anchor="middle" fill="#231f20">13</text>
<text x="388" y="336.6" font-size="5.2" text-anchor="middle" fill="#231f20">72</text>
<line x1="384.1" y1="332.1" x2="391.9" y2="332.1" stroke="#666" stroke-width="0.5"/>
<text x="389.8" y="361.9" font-size="5.8" fill="#231f20" transform="rotate(-90 389.8 361.9)">Sen/Motor</text>
<path d="M258.5 294.3 L258.5 363.4 L402 363.4" fill="none" stroke="#8a8a8a" stroke-width="0.9"/>
<line x1="258.5" y1="294.3" x2="260.5" y2="294.3" stroke="#8a8a8a" stroke-width="0.7"/>
<text x="257.3" y="298.37" font-size="9.8" text-anchor="end" fill="#231f20" stroke="#231f20" stroke-width="0.2">.4</text>
<text x="257.3" y="366.57" font-size="9.8" text-anchor="end" fill="#231f20" stroke="#231f20" stroke-width="0.2">0</text>
<text x="243.2" y="333.37" font-size="9.8" text-anchor="middle" fill="#231f20" transform="rotate(-90 243.2 330)" stroke="#231f20" stroke-width="0.2">Prop. Channels</text>
<!-- p_fgh.panel_g -->
<text x="222.5" y="377.2" font-size="18.5" text-anchor="start" fill="#231f20" stroke="#231f20" stroke-width="0.05">G</text>
<line x1="270.7" y1="395" x2="270.7" y2="402.6" stroke="#555" stroke-width="0.7"/>
<line x1="270.7" y1="439.5" x2="270.7" y2="441.5" stroke="#555" stroke-width="0.7"/>
<line x1="269.5" y1="395" x2="271.9" y2="395" stroke="#555" stroke-width="0.6"/>
<rect x="267.5" y="402.6" width="6.4" height="36.9" fill="none" stroke="#444" stroke-width="0.8"/>
<line x1="267.5" y1="421.5" x2="273.9" y2="421.5" stroke="#444" stroke-width="0.8"/>
<circle cx="270.89" cy="406.68" r="0.75" fill="#1f9e6e"/>
<circle cx="270.68" cy="426.84" r="0.75" fill="#3a7fd0"/>
<circle cx="270.99" cy="408.87" r="0.75" fill="#e06040"/>
<circle cx="270.71" cy="434.26" r="0.75" fill="#6a55b0"/>
<circle cx="270.44" cy="421.27" r="0.75" fill="#f0a030"/>
<circle cx="270.57" cy="399.74" r="0.75" fill="#40b0e0"/>
<circle cx="270.7" cy="441.5" r="0.8" fill="#f0a030"/>
<circle cx="270.7" cy="395" r="0.8" fill="#6a55b0"/>
<text x="272.5" y="445.3" font-size="5.8" fill="#231f20" text-anchor="end" transform="rotate(-44 272.5 445.3)">Striatum</text>
<line x1="282.63" y1="371.7" x2="282.63" y2="405.8" stroke="#555" stroke-width="0.7"/>
<line x1="282.63" y1="430.3" x2="282.63" y2="441.5" stroke="#555" stroke-width="0.7"/>
<line x1="281.43" y1="371.7" x2="283.83" y2="371.7" stroke="#555" stroke-width="0.6"/>
<rect x="279.43" y="405.8" width="6.4" height="24.5" fill="none" stroke="#444" stroke-width="0.8"/>
<line x1="279.43" y1="413" x2="285.83" y2="413" stroke="#444" stroke-width="0.8"/>
<circle cx="282.92" cy="404.91" r="0.75" fill="#1f9e6e"/>
<circle cx="282.36" cy="409.88" r="0.75" fill="#3a7fd0"/>
<circle cx="283.13" cy="404.09" r="0.75" fill="#e06040"/>
<circle cx="283.01" cy="425.33" r="0.75" fill="#6a55b0"/>
<circle cx="282.16" cy="421.58" r="0.75" fill="#f0a030"/>
<circle cx="282.63" cy="412.83" r="0.75" fill="#40b0e0"/>
<circle cx="282.63" cy="441.5" r="0.8" fill="#1f9e6e"/>
<circle cx="282.63" cy="371.7" r="0.8" fill="#40b0e0"/>
<text x="284.43" y="445.3" font-size="5.8" fill="#231f20" text-anchor="end" transform="rotate(-44 284.43 445.3)">Hippocampus</text>
<line x1="294.56" y1="371.7" x2="294.56" y2="396.5" stroke="#555" stroke-width="0.7"/>
<line x1="294.56" y1="441.5" x2="294.56" y2="441.5" stroke="#555" stroke-width="0.7"/>
<line x1="293.36" y1="371.7" x2="295.76" y2="371.7" stroke="#555" stroke-width="0.6"/>
<rect x="291.36" y="396.5" width="6.4" height="45" fill="none" stroke="#444" stroke-width="0.8"/>
<line x1="291.36" y1="441.5" x2="297.76" y2="441.5" stroke="#444" stroke-width="0.8"/>
<circle cx="294.43" cy="441.5" r="0.75" fill="#1f9e6e"/>
<circle cx="294.88" cy="401.4" r="0.75" fill="#3a7fd0"/>
<circle cx="294.99" cy="399.87" r="0.75" fill="#e06040"/>
<circle cx="294.61" cy="416.61" r="0.75" fill="#6a55b0"/>
<circle cx="294.54" cy="410.99" r="0.75" fill="#f0a030"/>
<circle cx="294.1" cy="403.03" r="0.75" fill="#40b0e0"/>
<circle cx="294.56" cy="441.5" r="0.8" fill="#3a7fd0"/>
<circle cx="294.56" cy="371.7" r="0.8" fill="#1f9e6e"/>
<text x="296.36" y="445.3" font-size="5.8" fill="#231f20" text-anchor="end" transform="rotate(-44 296.36 445.3)">Amygdala</text>
<line x1="306.49" y1="397.4" x2="306.49" y2="408.2" stroke="#555" stroke-width="0.7"/>
<line x1="306.49" y1="431.5" x2="306.49" y2="441.5" stroke="#555" stroke-width="0.7"/>
<line x1="305.29" y1="397.4" x2="307.69" y2="397.4" stroke="#555" stroke-width="0.6"/>
<rect x="303.29" y="408.2" width="6.4" height="23.3" fill="none" stroke="#444" stroke-width="0.8"/>
<line x1="303.29" y1="422.3" x2="309.69" y2="422.3" stroke="#444" stroke-width="0.8"/>
<circle cx="306.2" cy="428.06" r="0.75" fill="#1f9e6e"/>
<circle cx="306.88" cy="433.58" r="0.75" fill="#3a7fd0"/>
<circle cx="306.75" cy="427.32" r="0.75" fill="#e06040"/>
<circle cx="306.72" cy="422.22" r="0.75" fill="#6a55b0"/>
<circle cx="306.47" cy="408.79" r="0.75" fill="#f0a030"/>
<circle cx="306.19" cy="429.43" r="0.75" fill="#40b0e0"/>
<circle cx="306.49" cy="441.5" r="0.8" fill="#3a7fd0"/>
<circle cx="306.49" cy="397.4" r="0.8" fill="#f0a030"/>
<text x="308.29" y="445.3" font-size="5.8" fill="#231f20" text-anchor="end" transform="rotate(-44 308.29 445.3)">Cingulate</text>
<line x1="318.42" y1="399.7" x2="318.42" y2="407.2" stroke="#555" stroke-width="0.7"/>
<line x1="318.42" y1="427.4" x2="318.42" y2="437.1" stroke="#555" stroke-width="0.7"/>
<line x1="317.22" y1="399.7" x2="319.62" y2="399.7" stroke="#555" stroke-width="0.6"/>
<rect x="315.22" y="407.2" width="6.4" height="20.2" fill="none" stroke="#444" stroke-width="0.8"/>
<line x1="315.22" y1="421.2" x2="321.62" y2="421.2" stroke="#444" stroke-width="0.8"/>
<circle cx="318.29" cy="414.93" r="0.75" fill="#1f9e6e"/>
<circle cx="318.31" cy="416.02" r="0.75" fill="#3a7fd0"/>
<circle cx="318.31" cy="430.26" r="0.75" fill="#e06040"/>
<circle cx="318.01" cy="404.9" r="0.75" fill="#6a55b0"/>
<circle cx="318.91" cy="423.01" r="0.75" fill="#f0a030"/>
<circle cx="318.41" cy="417.2" r="0.75" fill="#40b0e0"/>
<circle cx="318.42" cy="437.1" r="0.8" fill="#f0a030"/>
<circle cx="318.42" cy="399.7" r="0.8" fill="#f0a030"/>
<text x="320.22" y="445.3" font-size="5.8" fill="#231f20" text-anchor="end" transform="rotate(-44 320.22 445.3)">Temporal</text>
<line x1="330.35" y1="401.7" x2="330.35" y2="413.4" stroke="#555" stroke-width="0.7"/>
<line x1="330.35" y1="431.3" x2="330.35" y2="441.3" stroke="#555" stroke-width="0.7"/>
<line x1="329.15" y1="401.7" x2="331.55" y2="401.7" stroke="#555" stroke-width="0.6"/>
<rect x="327.15" y="413.4" width="6.4" height="17.9" fill="none" stroke="#444" stroke-width="0.8"/>
<line x1="327.15" y1="421.2" x2="333.55" y2="421.2" stroke="#444" stroke-width="0.8"/>
<circle cx="330.07" cy="428.28" r="0.75" fill="#1f9e6e"/>
<circle cx="330.41" cy="424.95" r="0.75" fill="#3a7fd0"/>
<circle cx="330.03" cy="425.28" r="0.75" fill="#e06040"/>
<circle cx="330.2" cy="414.47" r="0.75" fill="#6a55b0"/>
<circle cx="330.2" cy="432.56" r="0.75" fill="#f0a030"/>
<circle cx="330.16" cy="424.67" r="0.75" fill="#40b0e0"/>
<circle cx="330.35" cy="441.3" r="0.8" fill="#1f9e6e"/>
<circle cx="330.35" cy="401.7" r="0.8" fill="#3a7fd0"/>
<text x="332.15" y="445.3" font-size="5.8" fill="#231f20" text-anchor="end" transform="rotate(-44 332.15 445.3)">Parietal</text>
<line x1="342.28" y1="395.4" x2="342.28" y2="415.5" stroke="#555" stroke-width="0.7"/>
<line x1="342.28" y1="438.3" x2="342.28" y2="441.3" stroke="#555" stroke-width="0.7"/>
<line x1="341.08" y1="395.4" x2="343.48" y2="395.4" stroke="#555" stroke-width="0.6"/>
<rect x="339.08" y="415.5" width="6.4" height="22.8" fill="none" stroke="#444" stroke-width="0.8"/>
<line x1="339.08" y1="420.4" x2="345.48" y2="420.4" stroke="#444" stroke-width="0.8"/>
<circle cx="342.59" cy="414.39" r="0.75" fill="#1f9e6e"/>
<circle cx="342.15" cy="434.88" r="0.75" fill="#3a7fd0"/>
<circle cx="342.46" cy="432.18" r="0.75" fill="#e06040"/>
<circle cx="342.74" cy="438.38" r="0.75" fill="#6a55b0"/>
<circle cx="342.77" cy="424.22" r="0.75" fill="#f0a030"/>
<circle cx="342.37" cy="440.19" r="0.75" fill="#40b0e0"/>
<circle cx="342.28" cy="441.3" r="0.8" fill="#e06040"/>
<circle cx="342.28" cy="395.4" r="0.8" fill="#6a55b0"/>
<text x="344.08" y="445.3" font-size="5.8" fill="#231f20" text-anchor="end" transform="rotate(-44 344.08 445.3)">Insula</text>
<line x1="354.21" y1="391.6" x2="354.21" y2="418.1" stroke="#555" stroke-width="0.7"/>
<line x1="354.21" y1="437.4" x2="354.21" y2="441.3" stroke="#555" stroke-width="0.7"/>
<line x1="353.01" y1="391.6" x2="355.41" y2="391.6" stroke="#555" stroke-width="0.6"/>
<rect x="351.01" y="418.1" width="6.4" height="19.3" fill="none" stroke="#444" stroke-width="0.8"/>
<line x1="351.01" y1="428.2" x2="357.41" y2="428.2" stroke="#444" stroke-width="0.8"/>
<circle cx="354.38" cy="427.91" r="0.75" fill="#1f9e6e"/>
<circle cx="353.96" cy="438.79" r="0.75" fill="#3a7fd0"/>
<circle cx="354.15" cy="429.31" r="0.75" fill="#e06040"/>
<circle cx="354.45" cy="425.41" r="0.75" fill="#6a55b0"/>
<circle cx="354" cy="416.55" r="0.75" fill="#f0a030"/>
<circle cx="354.37" cy="436.69" r="0.75" fill="#40b0e0"/>
<circle cx="354.21" cy="441.3" r="0.8" fill="#1f9e6e"/>
<circle cx="354.21" cy="391.6" r="0.8" fill="#6a55b0"/>
<text x="356.01" y="445.3" font-size="5.8" fill="#231f20" text-anchor="end" transform="rotate(-44 356.01 445.3)">Prefrontal</text>
<line x1="366.14" y1="371.7" x2="366.14" y2="402" stroke="#555" stroke-width="0.7"/>
<line x1="366.14" y1="441.3" x2="366.14" y2="441.3" stroke="#555" stroke-width="0.7"/>
<line x1="364.94" y1="371.7" x2="367.34" y2="371.7" stroke="#555" stroke-width="0.6"/>
<rect x="362.94" y="402" width="6.4" height="39.3" fill="none" stroke="#444" stroke-width="0.8"/>
<line x1="362.94" y1="435.2" x2="369.34" y2="435.2" stroke="#444" stroke-width="0.8"/>
<circle cx="366.03" cy="410.26" r="0.75" fill="#1f9e6e"/>
<circle cx="366.29" cy="438.43" r="0.75" fill="#3a7fd0"/>
<circle cx="365.79" cy="405.62" r="0.75" fill="#e06040"/>
<circle cx="365.69" cy="432" r="0.75" fill="#6a55b0"/>
<circle cx="366.29" cy="405.32" r="0.75" fill="#f0a030"/>
<circle cx="366.12" cy="440.29" r="0.75" fill="#40b0e0"/>
<circle cx="366.14" cy="441.3" r="0.8" fill="#3a7fd0"/>
<circle cx="366.14" cy="371.7" r="0.8" fill="#e06040"/>
<text x="367.94" y="445.3" font-size="5.8" fill="#231f20" text-anchor="end" transform="rotate(-44 367.94 445.3)">Orbitofrontal</text>
<line x1="378.07" y1="423.6" x2="378.07" y2="426.4" stroke="#555" stroke-width="0.7"/>
<line x1="378.07" y1="435.5" x2="378.07" y2="441.3" stroke="#555" stroke-width="0.7"/>
<line x1="376.87" y1="423.6" x2="379.27" y2="423.6" stroke="#555" stroke-width="0.6"/>
<rect x="374.87" y="426.4" width="6.4" height="9.1" fill="none" stroke="#444" stroke-width="0.8"/>
<line x1="374.87" y1="427" x2="381.27" y2="427" stroke="#444" stroke-width="0.8"/>
<circle cx="378.45" cy="435.41" r="0.75" fill="#1f9e6e"/>
<circle cx="378" cy="432.48" r="0.75" fill="#3a7fd0"/>
<circle cx="378.42" cy="432.18" r="0.75" fill="#e06040"/>
<circle cx="378.1" cy="428.05" r="0.75" fill="#6a55b0"/>
<circle cx="378.34" cy="427.57" r="0.75" fill="#f0a030"/>
<circle cx="378.26" cy="423.6" r="0.75" fill="#40b0e0"/>
<circle cx="378.07" cy="441.3" r="0.8" fill="#40b0e0"/>
<circle cx="378.07" cy="423.6" r="0.8" fill="#1f9e6e"/>
<text x="379.87" y="445.3" font-size="5.8" fill="#231f20" text-anchor="end" transform="rotate(-44 379.87 445.3)">Thalamus</text>
<line x1="390" y1="406.4" x2="390" y2="418.1" stroke="#555" stroke-width="0.7"/>
<line x1="390" y1="435.5" x2="390" y2="441.3" stroke="#555" stroke-width="0.7"/>
<line x1="388.8" y1="406.4" x2="391.2" y2="406.4" stroke="#555" stroke-width="0.6"/>
<rect x="386.8" y="418.1" width="6.4" height="17.4" fill="none" stroke="#444" stroke-width="0.8"/>
<line x1="386.8" y1="433.2" x2="393.2" y2="433.2" stroke="#444" stroke-width="0.8"/>
<circle cx="389.83" cy="421.29" r="0.75" fill="#1f9e6e"/>
<circle cx="390.46" cy="420.94" r="0.75" fill="#3a7fd0"/>
<circle cx="390.18" cy="424.95" r="0.75" fill="#e06040"/>
<circle cx="390.31" cy="432.69" r="0.75" fill="#6a55b0"/>
<circle cx="389.64" cy="418.34" r="0.75" fill="#f0a030"/>
<circle cx="389.69" cy="424.39" r="0.75" fill="#40b0e0"/>
<circle cx="390" cy="441.3" r="0.8" fill="#40b0e0"/>
<circle cx="390" cy="406.4" r="0.8" fill="#6a55b0"/>
<text x="391.8" y="445.3" font-size="5.8" fill="#231f20" text-anchor="end" transform="rotate(-44 391.8 445.3)">Sensory/Motor</text>
<circle cx="342.5" cy="378.7" r="0.8" fill="#1f9e6e"/>
<circle cx="378.3" cy="406.7" r="0.8" fill="#1f9e6e"/>
<line x1="306.7" y1="372.1" x2="356.7" y2="372.1" stroke="#555" stroke-width="0.7"/>
<circle cx="306.7" cy="372.1" r="0.8" fill="#1f9e6e"/>
<text x="333" y="371.78" font-size="7.2" text-anchor="middle" fill="#231f20" stroke="#231f20" stroke-width="0.042">n.s.</text>
<path d="M258.5 371.7 L258.5 441.5 L402 441.5" fill="none" stroke="#8a8a8a" stroke-width="0.9"/>
<line x1="258.5" y1="371.7" x2="260.5" y2="371.7" stroke="#8a8a8a" stroke-width="0.7"/>
<line x1="270.7" y1="441.5" x2="270.7" y2="440" stroke="#8a8a8a" stroke-width="0.6"/>
<line x1="282.63" y1="441.5" x2="282.63" y2="440" stroke="#8a8a8a" stroke-width="0.6"/>
<line x1="294.56" y1="441.5" x2="294.56" y2="440" stroke="#8a8a8a" stroke-width="0.6"/>
<line x1="306.49" y1="441.5" x2="306.49" y2="440" stroke="#8a8a8a" stroke-width="0.6"/>
<line x1="318.42" y1="441.5" x2="318.42" y2="440" stroke="#8a8a8a" stroke-width="0.6"/>
<line x1="330.35" y1="441.5" x2="330.35" y2="440" stroke="#8a8a8a" stroke-width="0.6"/>
<line x1="342.28" y1="441.5" x2="342.28" y2="440" stroke="#8a8a8a" stroke-width="0.6"/>
<line x1="354.21" y1="441.5" x2="354.21" y2="440" stroke="#8a8a8a" stroke-width="0.6"/>
<line x1="366.14" y1="441.5" x2="366.14" y2="440" stroke="#8a8a8a" stroke-width="0.6"/>
<line x1="378.07" y1="441.5" x2="378.07" y2="440" stroke="#8a8a8a" stroke-width="0.6"/>
<line x1="390" y1="441.5" x2="390" y2="440" stroke="#8a8a8a" stroke-width="0.6"/>
<text x="257.3" y="375.67" font-size="9.8" text-anchor="end" fill="#231f20" stroke="#231f20" stroke-width="0.2">1</text>
<text x="257.3" y="445.87" font-size="9.8" text-anchor="end" fill="#231f20" stroke="#231f20" stroke-width="0.2">0</text>
<text x="242.6" y="412.37" font-size="9.8" text-anchor="middle" fill="#231f20" transform="rotate(-90 242.6 409)" stroke="#231f20" stroke-width="0.2">Prop. Channels</text>
<!-- p_fgh.panel_h -->
<text x="400.5" y="302" font-size="18.5" text-anchor="start" fill="#231f20" stroke="#231f20" stroke-width="0.05">H</text>
<path d="M475.1 346.6 C475.1 347.13 475.16 348.73 475.1 349.79 C475.04 350.85 474.96 351.92 474.76 352.98 C474.56 354.04 474.22 355.11 473.89 356.17 C473.56 357.23 473.18 358.3 472.79 359.36 C472.4 360.42 471.97 361.49 471.55 362.55 C471.13 363.61 470.69 364.68 470.28 365.74 C469.88 366.8 469.46 367.87 469.1 368.93 C468.74 369.99 468.4 371.06 468.11 372.12 C467.83 373.18 467.59 374.25 467.41 375.31 C467.23 376.37 467.1 377.44 467.04 378.5 C466.99 379.56 466.98 380.63 467.06 381.69 C467.15 382.75 467.31 383.82 467.53 384.88 C467.75 385.94 468.05 387.01 468.39 388.07 C468.73 389.13 469.15 390.2 469.57 391.26 C469.99 392.32 470.46 393.39 470.92 394.45 C471.38 395.51 471.87 396.58 472.31 397.64 C472.75 398.7 473.2 399.77 473.59 400.83 C473.97 401.89 474.36 402.96 474.61 404.02 C474.86 405.08 475.02 406.15 475.1 407.21 C475.18 408.27 475.1 409.87 475.1 410.4 L475.5 410.4 L475.5 346.6 Z" fill="#b4d6ee"/>
<path d="M475.5 364.2 L466.7 364.2 L466.7 374.38 L470.2 382.7 L466.7 388.91 L466.7 396.5 L475.5 396.5 Z" fill="#6badde"/>
<path d="M475.9 341.8 C475.9 342.37 475.78 344.09 475.9 345.23 C476.02 346.37 476.29 347.52 476.61 348.66 C476.94 349.8 477.4 350.95 477.85 352.09 C478.31 353.23 478.83 354.38 479.33 355.52 C479.83 356.66 480.36 357.81 480.83 358.95 C481.3 360.09 481.77 361.24 482.14 362.38 C482.52 363.52 482.85 364.67 483.07 365.81 C483.3 366.95 483.43 368.1 483.49 369.24 C483.54 370.38 483.49 371.53 483.41 372.67 C483.34 373.81 483.22 374.96 483.06 376.1 C482.9 377.24 482.69 378.39 482.45 379.53 C482.21 380.67 481.93 381.82 481.63 382.96 C481.34 384.1 481 385.25 480.67 386.39 C480.33 387.53 479.97 388.68 479.62 389.82 C479.27 390.96 478.9 392.11 478.56 393.25 C478.22 394.39 477.88 395.54 477.57 396.68 C477.26 397.82 476.97 398.97 476.71 400.11 C476.46 401.25 476.19 402.4 476.06 403.54 C475.92 404.68 475.93 405.83 475.9 406.97 C475.87 408.11 475.9 409.83 475.9 410.4 L475.5 410.4 L475.5 341.8 Z" fill="#f1bcc0"/>
<path d="M475.5 360.3 L483.5 360.3 L483.5 372.35 L480 382.2 L483.5 386.43 L483.5 391.6 L475.5 391.6 Z" fill="#d9828b"/>
<path d="M474.8 350.9h0M474.5 390.9h0M472.9 352.5h0M475.2 396.1h0M473.9 362.8h0M474 381.3h0M472.9 377.9h0M475.3 370.4h0M475.2 403h0M473.6 382.9h0M472.9 357.3h0M473.3 404.2h0M475.4 368.9h0M470.7 371.4h0M475.5 406.7h0M472.9 399.5h0M474.1 357.7h0M475.1 398h0M473.1 402.5h0M475.2 383.9h0M474.9 406.1h0M471.8 393.7h0M475.2 393.1h0M474.5 350.9h0M474.1 392.6h0M473.9 397.5h0M474.9 389.8h0M474.7 398.3h0M474.2 360.1h0M472.9 386.6h0M475.4 372.1h0M474.2 391.6h0M475 385.6h0M475 370.9h0M474 379.6h0M474.4 375.6h0M474.8 378.3h0M475.1 348.5h0M475 393.1h0M474.2 350.5h0M474.8 357.4h0M475.3 363.4h0M475.2 377.7h0M473.4 346.9h0M474.5 377.4h0M472.7 398.2h0M474.8 368h0M473.8 352.7h0M473 372.8h0M472.1 400.9h0M475.2 360.1h0M472.5 349.7h0M473.9 379.2h0M475.1 354.6h0M475.5 393.5h0M475.3 367.9h0M471.3 405.6h0M474.9 407.3h0M472.6 350.6h0M471.2 381.7h0M472.6 385.2h0M474.9 388h0M475.1 387.6h0M472.8 391.1h0M474.4 384.4h0M472.9 352.9h0M472.4 379.8h0M475 374.4h0M471.8 378.8h0M474.7 384.7h0M474.1 367.7h0M474.7 398.8h0M474.7 407.3h0M474.2 387.9h0M474.7 391h0M475 390.9h0M474.5 389.4h0M473.4 353.1h0M475.2 391.5h0M473.8 388.1h0M475 393.4h0M474.7 397.2h0M475.1 409.8h0M474.3 367.7h0M474.6 379.9h0M474.9 396.8h0M475.4 405.4h0M472.5 360.5h0M474.9 400.4h0M473.8 391h0M474.2 388.7h0M475.3 389.8h0M475 371.2h0M471.9 398.8h0M475.2 402h0M475 363.5h0M474.2 369.1h0M472.8 391.4h0M474.5 407.4h0M474.2 397.3h0M474.4 385.8h0M474.4 401.6h0M475.2 406h0M473.8 371.5h0M472.1 405.4h0M475.1 351.2h0M471.5 378.1h0M474.6 407.4h0M473.7 358.2h0M470.5 402.8h0M475.1 353.2h0M473.2 371.2h0M475.4 363.2h0M475.1 397h0M474.7 401.6h0M472.2 367.4h0M474.8 360.8h0M472.8 367.3h0M475.1 396.9h0M474.5 375.3h0M474.9 404h0M475.4 363.4h0M473.6 398.8h0M473.6 349h0" stroke="#3d95d5" stroke-width="0.75" stroke-linecap="square" fill="none"/>
<path d="M478 365.7h0M476.9 370.4h0M476.1 410.2h0M475.7 378.7h0M476.5 373.7h0M477.3 392.6h0M476.8 367.5h0M475.8 380.7h0M476.1 400.2h0M477.8 383.8h0M475.8 370h0M476.5 365.8h0M476.6 381.5h0M477.7 391.2h0M476.1 379.4h0M478.6 401.6h0M476.8 368h0M477.2 376h0M476 364.6h0M475.5 374.9h0M475.7 351.1h0M478.9 361.6h0M476.1 366.8h0M476.2 389.8h0M476.9 368.1h0M476.5 407.7h0M475.5 382.4h0M476 371.6h0M478.1 362.1h0M475.5 402.6h0M476.8 382.8h0M475.6 396h0M475.8 377.1h0M476.2 345.3h0M476.8 360.9h0M476.9 374.7h0M477.3 356.8h0M475.7 357.7h0M477.6 346.5h0M476.9 380.8h0M476.7 389.6h0M478.3 405.7h0M475.9 350.3h0M475.8 355.8h0M476.2 399.9h0M478.6 392.2h0M475.8 396h0M476.4 389.7h0M475.8 367.6h0M476.1 398h0M476 343.4h0M475.9 345.5h0M477.1 367.3h0M475.8 380.7h0M477.3 389.1h0M476.1 373.4h0M481 385.2h0M476.6 367.7h0M477.8 390.1h0M477.2 394.8h0M475.7 374h0M476.5 360.5h0M477.4 381.3h0M476 395.1h0M476.8 398.6h0M476.1 384.7h0M476.3 408.1h0M476.7 387.1h0M480.2 406.8h0M477.6 359.6h0M475.9 407.4h0M477.7 382.6h0M476.3 407.9h0M477.5 344.2h0M476.1 380.4h0M476.9 359.9h0M476.9 366.5h0M476.9 405.4h0M476 396.3h0M476.8 394.1h0M476.3 379.2h0M479.1 399.5h0M478.3 388.2h0M476.4 396.9h0M477.9 399.9h0M476.7 366h0M477.4 348.1h0M476 359.6h0M477.8 396.4h0M477.8 347.2h0M476.8 391.1h0M477.4 392.2h0M476 357.2h0M478.7 382.3h0M478.1 399.6h0M476.8 350.6h0M476.1 389.1h0M477 356.5h0M476 409.8h0M477 409.8h0M476.1 396.9h0M477 357.3h0M476.8 401.1h0M476.2 381.4h0M475.5 342.6h0M476.1 384.7h0M475.6 379.1h0M476.3 383h0M475.8 351h0M478.3 372.4h0M475.7 387.8h0M476.1 367.5h0M480.2 405.4h0M475.9 400.6h0M475.9 381.7h0M477.2 373.3h0M478.8 360h0M476.7 350.6h0M478.5 376.3h0M478.1 398.5h0M476.8 391.2h0M475.6 391h0M476.9 359.2h0M475.5 382.8h0M477.4 374h0M476.7 389.6h0" stroke="#e0303c" stroke-width="0.75" stroke-linecap="square" fill="none"/>
<rect x="471.5" y="381.2" width="4.2" height="3" fill="#16324e"/>
<rect x="475.3" y="380.7" width="4.2" height="3" fill="#6e0f1b"/>
<text x="475.5" y="319.37" font-size="9.8" text-anchor="middle" fill="#231f20" stroke="#231f20" stroke-width="0.2">n.s.</text>
<text x="475.5" y="456.87" font-size="9.8" text-anchor="middle" fill="#231f20" stroke="#231f20" stroke-width="0.2">δ</text>
<line x1="475.5" y1="447" x2="475.5" y2="445" stroke="#8a8a8a" stroke-width="0.7"/>
<path d="M508.6 336 C508.6 336.7 508.63 338.8 508.6 340.2 C508.57 341.6 508.58 343 508.43 344.4 C508.29 345.8 508.02 347.2 507.75 348.6 C507.49 350 507.18 351.4 506.85 352.8 C506.52 354.2 506.15 355.6 505.76 357 C505.38 358.4 504.97 359.8 504.56 361.2 C504.14 362.6 503.71 364 503.28 365.4 C502.86 366.8 502.42 368.2 502 369.6 C501.59 371 501.17 372.4 500.79 373.8 C500.41 375.2 500.03 376.6 499.7 378 C499.36 379.4 499.05 380.8 498.78 382.2 C498.52 383.6 498.28 385 498.09 386.4 C497.9 387.8 497.76 389.2 497.66 390.6 C497.56 392 497.41 393.4 497.5 394.8 C497.59 396.2 497.75 397.6 498.21 399 C498.68 400.4 499.46 401.8 500.29 403.2 C501.12 404.6 502.21 406 503.18 407.4 C504.14 408.8 505.24 410.2 506.08 411.6 C506.92 413 507.8 414.4 508.22 415.8 C508.64 417.2 508.54 419.3 508.6 420 L509 420 L509 336 Z" fill="#b4d6ee"/>
<path d="M509 378.6 L500.5 378.6 L500.5 384.87 L504 390 L500.5 392.7 L500.5 396 L509 396 Z" fill="#6badde"/>
<path d="M509.4 349 C509.4 349.45 509.32 350.8 509.4 351.7 C509.48 352.6 509.62 353.5 509.86 354.4 C510.1 355.3 510.48 356.2 510.85 357.1 C511.23 358 511.67 358.9 512.11 359.8 C512.55 360.7 513.04 361.6 513.5 362.5 C513.96 363.4 514.45 364.3 514.89 365.2 C515.33 366.1 515.77 367 516.15 367.9 C516.52 368.8 516.87 369.7 517.14 370.6 C517.41 371.5 517.64 372.4 517.78 373.3 C517.92 374.2 518 375.1 518 376 C518 376.9 517.92 377.8 517.78 378.7 C517.64 379.6 517.41 380.5 517.14 381.4 C516.87 382.3 516.52 383.2 516.15 384.1 C515.77 385 515.33 385.9 514.89 386.8 C514.45 387.7 513.96 388.6 513.5 389.5 C513.04 390.4 512.55 391.3 512.11 392.2 C511.67 393.1 511.23 394 510.85 394.9 C510.48 395.8 510.1 396.7 509.86 397.6 C509.62 398.5 509.48 399.4 509.4 400.3 C509.32 401.2 509.4 402.55 509.4 403 L509 403 L509 349 Z" fill="#f1bcc0"/>
<path d="M509 362.3 L516.2 362.3 L516.2 371.81 L512.7 379.6 L516.2 384.6 L516.2 390.7 L509 390.7 Z" fill="#d9828b"/>
<path d="M507.7 386.2h0M508.7 378.3h0M509 388.3h0M508.3 400.1h0M508.6 395.7h0M507.6 384.4h0M507.9 396.8h0M508.6 399.4h0M505.2 371.5h0M506.2 409.8h0M508.3 393.8h0M507.9 385.9h0M508.2 394.7h0M507.4 384.9h0M504.9 369.2h0M506.1 401.6h0M507.4 367.7h0M508.9 419.8h0M506.6 404.8h0M507.7 392h0M508.1 412.2h0M507.2 374.3h0M506.5 390.8h0M507.2 398.6h0M507.8 386.6h0M507.9 359.2h0M506.9 395h0M507.1 376.1h0M507.1 400.8h0M507.9 386.3h0M506.6 386.1h0M508.2 376h0M509 396.1h0M507.9 402.5h0M508.6 398.8h0M508.5 408h0M505.7 400.3h0M508.9 396.4h0M508.4 398.4h0M505.4 372.5h0M508 414.7h0M508.5 408h0M507.7 415h0M508 403.7h0M508.8 370h0M507.5 400.5h0M508.8 381.9h0M508.6 385.1h0M508.3 390.4h0M508.7 382.2h0M506.4 375.2h0M508.3 384.6h0M507.4 384.9h0M505.5 381.9h0M508.4 397h0M506.9 409.4h0M507.5 391.5h0M508.1 393.2h0M507.8 380.2h0M507.3 385.8h0M507.6 387.8h0M507.9 362.2h0M504.9 366.2h0M506.2 408.2h0M507.4 395.1h0M509 369.6h0M507.5 371.9h0M506.1 389.2h0M508 377h0M508.4 403.9h0M506.7 393h0M508.7 369h0M508.8 386.4h0M508.5 359.5h0M506.1 359.6h0M508.8 384.8h0M508.5 378.7h0M508.9 378.5h0M508.9 401.9h0M507.9 393.5h0M508.6 398.7h0M509 392.6h0M508 365.1h0M508.4 408.4h0M507.3 387.6h0M507 382.1h0M508 415.4h0M506.2 374.4h0M505.4 384.3h0M507.9 399.6h0M508.8 388.3h0M506.1 406.7h0M506.3 404.8h0M505.8 405.5h0M507.7 383.1h0M506.5 396.3h0M508.2 366.7h0M508 381h0M507.7 376.1h0M506.5 382.1h0M506.8 384.4h0M508.5 402.1h0M508 394.7h0M507.6 390.3h0M508.9 387.1h0M508.5 389.6h0M506.8 408.3h0M507.2 390h0M508.9 381.7h0M509 388.1h0M508.4 394.1h0M507.5 373.3h0M508.7 396.6h0M506.7 385.4h0M507.6 383.8h0M504.3 379.1h0M508 402.5h0M506.3 396.5h0M508.9 401.7h0M506.2 390.1h0M506.6 401.3h0M508.9 383.1h0M508.1 386.8h0M508.7 390.8h0M507.3 383h0M508.8 376h0M508.9 371.1h0M505.9 399.8h0M506.6 378.3h0M508.5 374.6h0M507.2 400.2h0M505.3 387.3h0M507.4 393.8h0M507.6 396.8h0M505.7 406.5h0M508.9 387.8h0M507.4 383.1h0M506 386h0M508 390.8h0M507.6 401.1h0M508.2 362.4h0M506.3 379.2h0M507.5 384.2h0M507 382.6h0M508.8 382.1h0M507.7 361.1h0M508.9 390h0M508.3 371.3h0" stroke="#3d95d5" stroke-width="0.75" stroke-linecap="square" fill="none"/>
<path d="M509.8 402.1h0M511.1 352.4h0M510.5 376.2h0M510.3 397.1h0M509.3 378.8h0M509.7 381h0M509.2 369.3h0M509.3 392.1h0M510.5 355.6h0M510.1 367h0M509.1 368.8h0M509.7 377.6h0M510.5 392.4h0M510.1 384.8h0M511.1 383.1h0M509.4 379.6h0M512.1 399.6h0M509.7 375.9h0M513.2 376.4h0M510.5 382.8h0M510.6 368.9h0M510.7 367.4h0M509.7 370.7h0M510.6 356.3h0M510.2 381.5h0M509.5 393.1h0M509 349.2h0M510 364.4h0M509.5 393.8h0M511.4 387.4h0M513.8 384.4h0M510.6 362.8h0M510.7 382.1h0M510.4 398.5h0M510.2 352.4h0M509.5 374.8h0M510.6 400.9h0M510.4 366.4h0M511.4 390h0M510.9 370.1h0M510 384.7h0M509.7 372.1h0M511.5 370.2h0M509.2 387.1h0M509.6 376.2h0M509.9 394.2h0M513.1 385.7h0M511 387.2h0M509.8 390h0M509.1 383.7h0M512.4 368.8h0M509.4 373.3h0M509.4 352.9h0M513.2 388.9h0M509.5 387.5h0M509.6 349.5h0M512.9 391.5h0M510.9 381.9h0M512.3 393.7h0M512.7 364.6h0M510.4 372.4h0M509.1 385.4h0M509 379.5h0M509.6 385.6h0M510 391.7h0M509.7 350.4h0M510.2 392.9h0M511.1 385.2h0M512.6 376.8h0M509.3 381.5h0M509.1 398.5h0M511.1 350.6h0M510.6 394.2h0M510.3 361h0M510.1 381.5h0M509.4 369.5h0M509.7 349.5h0M509.1 370.5h0M511.3 364.1h0M510.9 392.5h0M510 365h0M509.7 360.9h0M510.2 386.3h0M511.9 374.8h0M510.1 400.5h0M509.7 373.6h0M510.3 362.2h0M512.4 385h0M513.1 351.4h0M510 377.7h0M510 358.5h0M510 393h0M510 360.3h0M510.5 369.6h0M510.4 395.4h0M509.5 386.1h0M509.1 397.6h0M510.8 390.7h0M511.1 386.1h0M510.8 390.6h0M510.8 379.2h0M509.5 357.2h0M509.2 356.6h0M512.1 382.9h0M510.3 378.5h0M510.4 395.4h0M510.1 357.5h0M511.1 395.1h0M509.4 387.8h0M510.2 360.4h0M511 374h0" stroke="#e0303c" stroke-width="0.75" stroke-linecap="square" fill="none"/>
<rect x="505" y="388.5" width="4.2" height="3" fill="#16324e"/>
<rect x="508.8" y="378.1" width="4.2" height="3" fill="#6e0f1b"/>
<text x="509" y="320.66" font-size="9.4" text-anchor="middle" fill="#231f20" stroke="#231f20" stroke-width="0.176">*</text>
<text x="509" y="456.87" font-size="9.8" text-anchor="middle" fill="#231f20" stroke="#231f20" stroke-width="0.2">θ</text>
<line x1="509" y1="447" x2="509" y2="445" stroke="#8a8a8a" stroke-width="0.7"/>
<path d="M542.1 341 C542.1 341.78 542.14 344.13 542.1 345.7 C542.06 347.27 542.02 348.83 541.84 350.4 C541.67 351.97 541.37 353.53 541.07 355.1 C540.77 356.67 540.43 358.23 540.07 359.8 C539.71 361.37 539.31 362.93 538.91 364.5 C538.51 366.07 538.09 367.63 537.69 369.2 C537.28 370.77 536.87 372.33 536.49 373.9 C536.1 375.47 535.73 377.03 535.4 378.6 C535.07 380.17 534.76 381.73 534.5 383.3 C534.25 384.87 534.03 386.43 533.87 388 C533.71 389.57 533.59 391.13 533.54 392.7 C533.49 394.27 533.47 395.83 533.58 397.4 C533.69 398.97 533.9 400.53 534.18 402.1 C534.47 403.67 534.87 405.23 535.3 406.8 C535.73 408.37 536.26 409.93 536.78 411.5 C537.3 413.07 537.88 414.63 538.42 416.2 C538.96 417.77 539.53 419.33 540.01 420.9 C540.5 422.47 540.98 424.03 541.33 425.6 C541.68 427.17 541.97 428.73 542.1 430.3 C542.23 431.87 542.1 434.22 542.1 435 L542.5 435 L542.5 341 Z" fill="#b4d6ee"/>
<path d="M542.5 370.8 L534.3 370.8 L534.3 380.81 L537.8 389 L534.3 396.47 L534.3 405.6 L542.5 405.6 Z" fill="#6badde"/>
<path d="M542.9 339.4 C542.9 340 542.78 341.82 542.9 343.02 C543.02 344.23 543.28 345.44 543.61 346.65 C543.94 347.86 544.41 349.07 544.88 350.27 C545.35 351.48 545.9 352.69 546.43 353.9 C546.96 355.11 547.55 356.32 548.08 357.52 C548.61 358.73 549.16 359.94 549.63 361.15 C550.1 362.36 550.55 363.57 550.89 364.77 C551.24 365.98 551.53 367.19 551.72 368.4 C551.9 369.61 551.99 370.82 552 372.02 C552.01 373.23 551.93 374.44 551.81 375.65 C551.68 376.86 551.48 378.07 551.24 379.27 C551 380.48 550.69 381.69 550.36 382.9 C550.02 384.11 549.62 385.32 549.22 386.52 C548.81 387.73 548.36 388.94 547.92 390.15 C547.48 391.36 547.01 392.57 546.57 393.77 C546.13 394.98 545.68 396.19 545.27 397.4 C544.87 398.61 544.47 399.82 544.14 401.02 C543.8 402.23 543.46 403.44 543.25 404.65 C543.05 405.86 542.96 407.07 542.9 408.27 C542.84 409.48 542.9 411.3 542.9 411.9 L542.5 411.9 L542.5 339.4 Z" fill="#f1bcc0"/>
<path d="M542.5 359.2 L551.2 359.2 L551.2 366.13 L547.7 371.8 L551.2 376.84 L551.2 383 L542.5 383 Z" fill="#d9828b"/>
<path d="M541.2 370.5h0M542 427.2h0M542.3 372.5h0M540.1 400.8h0M541.9 402h0M542 407.7h0M540.4 389h0M540.2 392.7h0M539.4 399.4h0M542.2 359.3h0M541.9 428.7h0M541.9 404.3h0M542.1 400h0M542.1 377.6h0M540.6 346.8h0M541.4 392.5h0M542.4 357.5h0M542.2 385.9h0M539.4 374.5h0M541.8 394h0M541.1 396.1h0M542.4 409.3h0M540.9 383.1h0M541 385.7h0M541 368.7h0M541.6 419.7h0M540.5 395.5h0M542.1 368.2h0M541.1 403.8h0M539.2 410.8h0M541.1 419.8h0M541.4 393.8h0M541.1 389.3h0M541.7 388.7h0M542.1 413.7h0M539.7 377.8h0M541.2 351.1h0M540.4 373.5h0M542.2 357.3h0M540.6 390h0M542.3 374.1h0M541.7 391.6h0M542 431.7h0M542 379.6h0M540.2 342.1h0M542 409.2h0M542.3 411.6h0M538.5 421.2h0M539.2 425.2h0M541.9 416.1h0M537 377.3h0M541.6 379.7h0M541.8 381.9h0M542.1 373.1h0M541.3 391.8h0M537.4 351.7h0M542.3 352.1h0M541.2 402.6h0M542.4 386.6h0M542.3 380.7h0M539.6 399.5h0M542.5 365.7h0M541.4 401.1h0M542.5 409.7h0M541.6 343.9h0M541.5 379.1h0M539.5 365.2h0M541.2 393.4h0M540.4 365.3h0M538.5 352.5h0M541.6 374h0M541.7 411.7h0M542.2 368.8h0M541.7 386.2h0M542.3 402.4h0M541.4 394.6h0M539.4 402.3h0M541.6 381.7h0M540.6 410.6h0M538.5 387.8h0M541.5 390.6h0M542.2 385.5h0M541.8 397.5h0M541.1 401.1h0M540.5 341.1h0M541.3 385.7h0M538.2 383.6h0M541.7 385.4h0M541.5 412.7h0M542 403.6h0M541.2 393.3h0M542.5 425.2h0M540.7 390.8h0M542.5 362.4h0M540.6 408.9h0M542.3 394.9h0M541.6 407.5h0M539.4 353.2h0M540.1 358.7h0M542.1 421h0M539.9 388.9h0M541.3 406.5h0M540.4 417.9h0M541.3 397.2h0M542.3 419h0M541.4 373.4h0M542.1 404.5h0M541.6 372.4h0M539.7 396.1h0M541.1 347.9h0M542 369.8h0M541.1 421.9h0M537.8 392.7h0M542 347.2h0M540 402.7h0M540.9 351.2h0M541.4 375.5h0M542.4 352.4h0M540.9 412.1h0M541.1 393.5h0M540.1 387.9h0M538.2 393.9h0M538.5 378.7h0M542.1 406.5h0M541.1 389.7h0M542 355.1h0M540.3 396.7h0M542.4 373.7h0M542.1 381h0M541.9 372.1h0M540.5 410.7h0M540.9 400.6h0M541.4 400.3h0M541.2 412.2h0M540.5 384.6h0" stroke="#3d95d5" stroke-width="0.75" stroke-linecap="square" fill="none"/>
<path d="M544.6 386.6h0M542.9 403.8h0M544.3 377.4h0M542.7 378.1h0M544.8 357.7h0M544.5 348.4h0M543.9 379.9h0M543.4 374.2h0M545.3 379.8h0M543.1 403h0M543.5 366.3h0M543.9 380.7h0M545.3 385.6h0M543.4 360.1h0M544 369.9h0M543.7 389.9h0M544.7 352h0M545.7 373.1h0M543.4 344.5h0M543.9 352.8h0M543 373h0M543.1 384.3h0M543.9 355.7h0M543.9 396.1h0M543.3 360h0M543 383.1h0M547 345.6h0M543.9 371.6h0M543.4 388.4h0M543.1 357h0M543.1 347.5h0M542.8 350.9h0M545.1 364.6h0M543.2 356.5h0M543.2 379.7h0M544.2 350h0M542.6 340.8h0M543.8 345.8h0M543.9 360.3h0M543.6 358.7h0M544.2 358.8h0M543.8 359.6h0M544.3 354.7h0M544.1 383.1h0M543.5 362h0M543.6 375.6h0M543.3 352.3h0M544.5 361.3h0M544.5 405.9h0M544.8 396.4h0M543.7 357h0M544.1 375.8h0M543.1 362.6h0M544.8 398.8h0M542.7 379h0M546.5 397h0M542.8 359.2h0M544.5 368h0M545.7 365.9h0M544.2 372.9h0M545.9 347h0M542.7 347.2h0M542.8 367.9h0M543.5 389.6h0M543.5 374.3h0M544 340.5h0M544.9 388.5h0M542.8 397.9h0M543.9 369.9h0M543 352.9h0M546.9 381.5h0M543.2 382.8h0M544.7 379.3h0M543.4 369.4h0M545.4 378.8h0M543.3 389.2h0M543.5 392.3h0M543 357.4h0M544.4 373.6h0M543.5 395.3h0M545.7 371.9h0M543.4 381h0M543.1 373.4h0M543.1 366.4h0M545.4 378.4h0M545.5 390.3h0M544.7 362.8h0M542.6 374.8h0M544.1 373.9h0M545.3 391.7h0M543.1 363.2h0M543.5 378.8h0M543 342.1h0M543.8 346h0M544 357.7h0M543.1 367.3h0M543 384.9h0M545 353h0M543 354.5h0M545.2 373.9h0M543.2 384.9h0M544.1 381.1h0M542.8 362.7h0M544.2 402.8h0M544.2 387.4h0M543.1 355.8h0M544.7 359.6h0M542.6 364.3h0M545 356.5h0M543 359.9h0M542.5 352.6h0M543.3 381h0M544.6 378h0M544.5 366.5h0M543.4 373h0M544.4 369.1h0M543.2 365.1h0M544 376.8h0M543 398.3h0M544.4 393.1h0M543.5 350.7h0M545.4 349h0M543.6 369.2h0M543 344.8h0M544.9 374.7h0M543 370.2h0M543.5 381.1h0M542.8 356.7h0M544.5 377.2h0M543.6 357.6h0M543.7 374.3h0M543.2 372.3h0M544.7 397.2h0M547.1 389.8h0M543.1 388.7h0M543.1 361.7h0M542.8 384.7h0M544.4 384.9h0M544.6 407.3h0M543 378.5h0M545.9 339.4h0M543.2 379.2h0M544.9 395.8h0M545.3 353.3h0M543.6 356.4h0" stroke="#e0303c" stroke-width="0.75" stroke-linecap="square" fill="none"/>
<rect x="538.5" y="387.5" width="4.2" height="3" fill="#16324e"/>
<rect x="542.3" y="370.3" width="4.2" height="3" fill="#6e0f1b"/>
<text x="542.5" y="320.66" font-size="9.4" text-anchor="middle" fill="#231f20" stroke="#231f20" stroke-width="0.176">***</text>
<text x="542.5" y="456.87" font-size="9.8" text-anchor="middle" fill="#231f20" stroke="#231f20" stroke-width="0.2">α</text>
<line x1="542.5" y1="447" x2="542.5" y2="445" stroke="#8a8a8a" stroke-width="0.7"/>
<path d="M575.6 331.6 C575.6 332.43 575.67 334.91 575.6 336.57 C575.53 338.23 575.42 339.88 575.2 341.54 C574.97 343.2 574.62 344.85 574.27 346.51 C573.92 348.17 573.51 349.82 573.11 351.48 C572.7 353.14 572.25 354.79 571.83 356.45 C571.41 358.11 570.97 359.76 570.57 361.42 C570.18 363.08 569.79 364.73 569.46 366.39 C569.14 368.05 568.84 369.7 568.61 371.36 C568.39 373.02 568.21 374.67 568.11 376.33 C568.01 377.99 567.98 379.64 568.01 381.3 C568.04 382.96 568.14 384.61 568.29 386.27 C568.45 387.93 568.66 389.58 568.92 391.24 C569.18 392.9 569.5 394.55 569.83 396.21 C570.17 397.87 570.56 399.52 570.95 401.18 C571.34 402.84 571.76 404.49 572.16 406.15 C572.56 407.81 572.98 409.46 573.36 411.12 C573.74 412.78 574.11 414.43 574.43 416.09 C574.75 417.75 575.08 419.4 575.27 421.06 C575.47 422.72 575.55 424.37 575.6 426.03 C575.65 427.69 575.6 430.17 575.6 431 L576 431 L576 331.6 Z" fill="#b4d6ee"/>
<path d="M576 367.1 L568 367.1 L568 376.73 L571.5 384.6 L568 390.54 L568 397.8 L576 397.8 Z" fill="#6badde"/>
<path d="M576.4 336 C576.4 336.6 576.35 338.4 576.4 339.6 C576.45 340.8 576.49 342 576.67 343.2 C576.85 344.4 577.16 345.6 577.47 346.8 C577.77 348 578.13 349.2 578.5 350.4 C578.87 351.6 579.28 352.8 579.69 354 C580.1 355.2 580.54 356.4 580.96 357.6 C581.38 358.8 581.82 360 582.22 361.2 C582.62 362.4 583.02 363.6 583.37 364.8 C583.72 366 584.05 367.2 584.33 368.4 C584.6 369.6 584.85 370.8 585.03 372 C585.21 373.2 585.35 374.4 585.42 375.6 C585.5 376.8 585.55 378 585.46 379.2 C585.38 380.4 585.19 381.6 584.91 382.8 C584.63 384 584.23 385.2 583.78 386.4 C583.33 387.6 582.77 388.8 582.22 390 C581.66 391.2 581.03 392.4 580.45 393.6 C579.87 394.8 579.25 396 578.73 397.2 C578.2 398.4 577.68 399.6 577.29 400.8 C576.9 402 576.55 403.2 576.4 404.4 C576.25 405.6 576.4 407.4 576.4 408 L576 408 L576 336 Z" fill="#f1bcc0"/>
<path d="M576 365.9 L585.3 365.9 L585.3 373.16 L581.8 379.1 L585.3 384.23 L585.3 390.5 L576 390.5 Z" fill="#d9828b"/>
<path d="M575.9 400.9h0M575.7 394.8h0M573.4 400.9h0M572.7 379.8h0M573.9 342.6h0M575.4 354.9h0M573.5 401h0M575.7 407.9h0M575.5 411.4h0M575.9 374.9h0M575.8 380.1h0M574.3 419.8h0M573.4 357.3h0M575.1 389.2h0M575.8 390.6h0M574.6 383.4h0M574.2 386.4h0M572.6 379h0M575.1 337.1h0M572.7 362h0M575.3 418.3h0M574.7 371.9h0M573.4 412.8h0M575.2 391.9h0M572.8 416.3h0M574.5 397.7h0M575.4 426.8h0M573.7 384.5h0M572.6 402.8h0M575.9 381.1h0M575.2 376.6h0M575 386.9h0M575.7 351.4h0M575 377.2h0M575.3 378.5h0M575 393.5h0M575.6 411.3h0M574.7 352.4h0M575.5 376.6h0M574.9 385.8h0M575.3 372.4h0M574.8 421.3h0M575.3 355h0M574.7 404.1h0M575.9 365.8h0M573.3 380.9h0M573.6 360.2h0M575.2 350.3h0M574.5 399.6h0M575.1 385.9h0M571.6 367.6h0M573.9 355.4h0M572.2 397.6h0M574.9 348h0M575.2 390.6h0M575.4 385h0M573 385h0M575.5 395.3h0M573.9 410.7h0M574.2 376.1h0M574.5 379h0M574.3 386.5h0M574.3 385.7h0M575 372h0M575.1 375.8h0M574.2 382.3h0M575.3 390.4h0M575.1 390.1h0M573.2 364h0M570.8 378.5h0M574.6 373.3h0M574.7 340.9h0M574.8 353.1h0M573.7 397.7h0M575 391.2h0M574.4 379.5h0M574.3 394.5h0M575.4 384.5h0M575 362.7h0M575.4 370.7h0M575.9 397.2h0M575.6 374.7h0M575.3 363.2h0M575.3 369h0M573.9 359.7h0M574.4 379.4h0M574.6 402.7h0M573.2 391.8h0M575.6 367.7h0M572.5 344h0M575.8 358.5h0M574.9 361h0M575.7 413.5h0M574.7 415.2h0M575.3 364.4h0M573.9 358.2h0M575.4 366.5h0M575.2 407.2h0M576 380.8h0M575.4 413.2h0M573.7 379.6h0M574.3 376.6h0M573.2 355.3h0M570.9 380.2h0M574.3 360.1h0M574.8 401.7h0M572.8 405.3h0M575.5 394.6h0M573.3 372.9h0M575.6 399.7h0M574.5 395.1h0M574.7 376.3h0M575 399.3h0M574.4 416h0M574.2 395.6h0M575.9 360.7h0M574.7 377.6h0M575.4 413.4h0M574.7 366.8h0M575.9 389.8h0M573.7 414.9h0M575.1 353.1h0M574.1 356.1h0M573.9 412.7h0M574.3 370h0M573.3 399.2h0M575.5 346.3h0M573.1 424h0M575.8 394.4h0M574.5 428.9h0M575.3 404h0M575.9 339.4h0M575.5 391.2h0M573.6 401.7h0M575.9 404.9h0M575.8 394.8h0M574.6 349.1h0M575.2 382.4h0M573 401.8h0M572.6 363.6h0M572.6 375.6h0M573.5 376.4h0M573.2 380.2h0M574.5 389.8h0M574.5 388.6h0M573.6 420.8h0" stroke="#3d95d5" stroke-width="0.75" stroke-linecap="square" fill="none"/>
<path d="M578.7 381.1h0M576.2 367.6h0M576.2 367.2h0M576.2 380.1h0M576.6 380.1h0M576.1 399h0M576.4 364.1h0M577 355.9h0M579.4 352.9h0M579.2 377.8h0M576.8 370.5h0M576.9 344.5h0M580 396.6h0M578.5 383.3h0M578.4 355.6h0M576.5 392.1h0M576.8 356.3h0M577 399.5h0M577.8 363.2h0M577.1 367.3h0M578.9 364h0M577.5 363.2h0M577 390.2h0M578.3 390.5h0M576.2 392.8h0M577.3 388.8h0M580.3 390h0M577.9 403.2h0M577.1 397.1h0M577.1 378.8h0M577.7 396.2h0M578.1 388h0M576.9 383.8h0M579.2 398.2h0M579 377.8h0M577.3 394.5h0M576.2 405.8h0M579.4 382.6h0M578.3 363.9h0M576.8 380.9h0M578.2 381.6h0M576.4 394.6h0M577.1 373.3h0M577.6 370.3h0M576.7 386.5h0M577.8 402.4h0M578.2 388h0M576.7 353.2h0M577.9 363.5h0M576.9 407.8h0M578.4 381.2h0M577 398.4h0M576.8 381h0M580.5 383h0M577.7 383.3h0M576.5 383h0M576.3 378.5h0M576.3 362.5h0M578 356.6h0M577.7 353h0M578.6 376.6h0M581.5 371.6h0M576.6 403.7h0M578.1 392.1h0M577.5 394.8h0M577.7 379.9h0M576.7 368.7h0M577 406.3h0M576.9 367.1h0M577.5 373.3h0M578 356h0M576.9 367.2h0M576.1 375.7h0M578.1 385.8h0M576.5 406.4h0M577.1 365.6h0M577.5 367.5h0M576 392.2h0M576.6 402.3h0M578.2 354.7h0M577.6 380.4h0M576.8 388.2h0M578.5 390.4h0M577.4 376.4h0M576.5 395.8h0M576.1 377.4h0M578.2 374.1h0M579.1 391.9h0M578.7 346h0M578 392.1h0M577.5 375.7h0M577.3 370.5h0M577.3 381.1h0M578 359.3h0M576.1 388.9h0M576.2 383.5h0M577.6 385.4h0M576.8 356.5h0M577.5 386.5h0M579.3 399.5h0M576.7 363.6h0M577.8 373.1h0M576.2 373.7h0M576.3 383h0M579.4 389.5h0M576.9 364.6h0M578.4 388.1h0M577.9 366.5h0M576.6 366.7h0M577.7 396.5h0M577.7 380.4h0M576 389.8h0M577.3 353.4h0M578.3 372.7h0M576.3 370.4h0M577.9 354.9h0M577 372.5h0M576.1 366.2h0M576.6 355.1h0M576.1 406h0M577.4 362.3h0M576.5 386.7h0M576.8 375.8h0M577.4 393.6h0M579.4 399.2h0M577.7 376.9h0M576.4 361.8h0M576.1 363.6h0M578.4 372.2h0M576.9 366.1h0M577.7 370.4h0M576.1 393.2h0M576 377.1h0M577.8 398.8h0M577.5 371.6h0M579.6 391.3h0M577.4 400.2h0M576.4 358.7h0M578.3 400.7h0" stroke="#e0303c" stroke-width="0.75" stroke-linecap="square" fill="none"/>
<rect x="572" y="383.1" width="4.2" height="3" fill="#16324e"/>
<rect x="575.8" y="377.6" width="4.2" height="3" fill="#6e0f1b"/>
<text x="576" y="319.37" font-size="9.8" text-anchor="middle" fill="#231f20" stroke="#231f20" stroke-width="0.2">n.s.</text>
<text x="576" y="456.87" font-size="9.8" text-anchor="middle" fill="#231f20" stroke="#231f20" stroke-width="0.2">β</text>
<line x1="576" y1="447" x2="576" y2="445" stroke="#8a8a8a" stroke-width="0.7"/>
<path d="M609.1 331 C609.1 331.77 609.23 334.09 609.1 335.63 C608.97 337.17 608.66 338.72 608.29 340.26 C607.93 341.8 607.43 343.35 606.93 344.89 C606.42 346.43 605.83 347.98 605.26 349.52 C604.68 351.06 604.06 352.61 603.49 354.15 C602.92 355.69 602.34 357.24 601.85 358.78 C601.36 360.32 600.9 361.87 600.54 363.41 C600.19 364.95 599.9 366.5 599.73 368.04 C599.56 369.58 599.5 371.13 599.5 372.67 C599.51 374.21 599.61 375.76 599.76 377.3 C599.91 378.84 600.12 380.39 600.39 381.93 C600.65 383.47 600.98 385.02 601.34 386.56 C601.7 388.1 602.12 389.65 602.54 391.19 C602.97 392.73 603.44 394.28 603.9 395.82 C604.36 397.36 604.85 398.91 605.3 400.45 C605.76 401.99 606.23 403.54 606.64 405.08 C607.06 406.62 607.47 408.17 607.82 409.71 C608.16 411.25 608.51 412.8 608.73 414.34 C608.94 415.88 609.04 417.43 609.1 418.97 C609.16 420.51 609.1 422.83 609.1 423.6 L609.5 423.6 L609.5 331 Z" fill="#b4d6ee"/>
<path d="M609.5 365 L601.5 365 L601.5 369.4 L605 373 L601.5 379.21 L601.5 386.8 L609.5 386.8 Z" fill="#6badde"/>
<path d="M609.9 345 C609.9 345.56 609.85 347.23 609.9 348.35 C609.95 349.47 610.02 350.58 610.2 351.7 C610.39 352.82 610.71 353.93 611.02 355.05 C611.33 356.17 611.69 357.28 612.06 358.4 C612.43 359.52 612.84 360.63 613.23 361.75 C613.62 362.87 614.04 363.98 614.43 365.1 C614.81 366.22 615.2 367.33 615.54 368.45 C615.88 369.57 616.2 370.68 616.46 371.8 C616.73 372.92 616.96 374.03 617.13 375.15 C617.29 376.27 617.41 377.38 617.46 378.5 C617.52 379.62 617.51 380.73 617.43 381.85 C617.36 382.97 617.2 384.08 616.99 385.2 C616.78 386.32 616.49 387.43 616.17 388.55 C615.85 389.67 615.46 390.78 615.07 391.9 C614.67 393.02 614.22 394.13 613.79 395.25 C613.36 396.37 612.91 397.48 612.49 398.6 C612.07 399.72 611.65 400.83 611.29 401.95 C610.93 403.07 610.57 404.18 610.33 405.3 C610.1 406.42 609.97 407.53 609.9 408.65 C609.83 409.77 609.9 411.44 609.9 412 L609.5 412 L609.5 345 Z" fill="#f1bcc0"/>
<path d="M609.5 373 L617.9 373 L617.9 377.68 L614.4 381.5 L617.9 384.88 L617.9 389 L609.5 389 Z" fill="#d9828b"/>
<path d="M609.4 358.2h0M608.8 349.4h0M609.1 336.1h0M608.5 387.9h0M605.7 345.3h0M605.4 355.1h0M606.9 374.5h0M607.6 380.3h0M607.7 405.1h0M608.4 359.7h0M606.4 345.7h0M607.5 362.5h0M608.1 359.1h0M609.1 371.9h0M606.7 361.1h0M607.7 384.7h0M608.9 358.6h0M609.4 386.7h0M605.6 371h0M608.2 382.3h0M608.9 352.7h0M608.3 383.6h0M607.3 343.1h0M609.5 366.3h0M607.4 369.1h0M609.5 377.3h0M609.1 381.2h0M606.8 399.3h0M608.1 379.1h0M608.6 346.5h0M609.4 341.8h0M609.5 361.6h0M609.5 361.8h0M607.7 350.6h0M607.8 377.2h0M608.8 417h0M608 352.9h0M607.2 369h0M608 378.1h0M607.3 379.5h0M606 357.3h0M608.2 406.4h0M607.6 377.9h0M606.7 364.7h0M608.3 382h0M606.5 373.9h0M606.7 365.9h0M609.3 374.7h0M607.9 383.1h0M607.6 365.3h0M609.1 375.7h0M608.5 352.4h0M608.7 383.3h0M609.4 361.7h0M608.9 382.1h0M607.8 396.4h0M608.6 371.5h0M608.4 363.9h0M608 363.5h0M609 355.8h0M606.8 405.2h0M609.2 352.6h0M607 380.3h0M607.5 406.9h0M607.4 371.5h0M607.8 354.8h0M607.7 367.2h0M608.9 381.7h0M608.1 352h0M609.1 381.7h0M608.5 388.1h0M607.2 404.5h0M606.4 412.1h0M605.3 357.1h0M609.3 384.7h0M606.8 375.8h0M606.6 368.5h0M609.3 357.1h0M608.7 397.3h0M605.6 400h0M609.1 357.9h0M608.3 345.7h0M608.1 391.4h0M608.1 343.7h0M609.2 347.5h0M608.8 412.9h0M608.6 374.2h0M606.8 366.3h0M607.1 388h0M609.4 362.4h0M606.1 388.1h0M609.3 374.6h0M608 371h0M609.1 373.8h0M607.3 355.3h0M608.5 386.3h0M605.6 393.3h0M608.9 379.3h0M609.4 383.9h0M608.6 393.1h0M607.9 361h0M606.9 409.8h0M608.4 367.4h0M607.3 386.6h0M607.8 383.5h0M605.8 369.5h0M607.8 385.4h0M607.9 405.2h0M608.8 364.4h0M607.6 368h0M608.5 388.3h0M607.4 374.9h0M608.9 363h0M608.1 352.9h0M607.6 382.6h0M607.7 373h0M607.1 365.9h0M609 376.4h0M609.5 352.6h0M608.3 370.6h0M608.8 403.1h0M608.6 367.3h0M608.3 343h0M605.8 374.2h0M607.2 372.6h0M609.4 377.4h0M608.9 393.5h0M608.4 363.4h0M609 405.3h0M608.7 393.9h0M608.8 372.3h0M607.2 366.3h0M609 375.1h0M605.6 400.5h0M607.4 352.7h0M607 388.9h0M607.8 383.9h0M609 395.7h0M608.5 389.6h0M606.7 356.3h0M608.2 344.5h0M608.9 374.6h0M609 391h0M607.5 361.8h0M609.3 382.6h0M609.3 383.9h0M609.3 375h0M608.5 353.9h0M609.2 394.5h0" stroke="#3d95d5" stroke-width="0.75" stroke-linecap="square" fill="none"/>
<path d="M609.8 387.9h0M610.7 387.6h0M610.1 402.5h0M609.9 393h0M610.4 385.7h0M610.3 386.7h0M612.2 390.6h0M610.4 367h0M610.3 383.2h0M612 392h0M610.6 385.1h0M609.6 376.8h0M609.6 392.8h0M611.1 388.7h0M610.9 387.2h0M609.8 371.6h0M609.9 391.4h0M610.4 380.2h0M610.4 386.4h0M609.5 398.1h0M609.9 379.4h0M609.7 376.9h0M610.3 392.2h0M609.8 379.3h0M610.7 364.7h0M610.1 380.6h0M610.7 361.1h0M610.1 380.7h0M612.1 391.8h0M609.8 384.5h0M611.4 349.5h0M610.8 379.8h0M610.3 371.5h0M609.7 391.9h0M611.8 391h0M612.5 398.6h0M611 385.3h0M611.3 359.7h0M609.8 380.9h0M612.2 366.3h0M610.7 390.2h0M609.9 400h0M610 383.1h0M611.5 376.9h0M612 355.9h0M610.3 362.8h0M612.9 381.2h0M610.2 372.9h0M610.6 384h0M610.3 368.4h0M611 395.4h0M611.4 354.2h0M610.2 397.9h0M612.2 372.7h0M610 369.1h0M610.1 372.5h0M611.3 375h0M611.3 384.1h0M612.4 370.1h0M609.9 381h0M609.9 384.2h0M611.7 392.2h0M612.5 376.8h0M610.7 375.8h0M611 384.5h0M611.3 390.8h0M613.8 384.1h0M609.8 407.2h0M610.1 373.9h0M610.3 375.4h0M610.8 378h0M610.5 395.2h0M609.9 380.4h0M610.5 374.3h0M612.1 371.5h0M609.7 351.7h0M610.9 378.4h0M609.5 380.5h0M610.4 402h0M610.9 384.1h0M610.2 404.4h0M609.5 389.2h0M612.2 379.6h0M611.4 381.7h0M612.9 383.5h0M610.6 378.1h0M611.4 378.8h0M610.9 365.7h0M609.7 380.3h0M610.2 375.9h0M610.5 376.8h0M610.3 374.5h0M609.6 396h0M609.7 395.3h0M609.8 369h0M611.3 362.3h0M610.3 379.5h0M610.5 371.1h0M609.5 373.4h0M610.2 375.2h0M609.7 371.9h0M610.7 381h0M610.2 391.1h0M611.1 354.5h0M609.6 376.3h0M609.6 369.6h0M610.3 369.4h0M610 384h0M612.4 400.7h0M610.8 377.7h0M609.6 366.8h0M611.2 375.6h0M611 378h0M610.1 382.6h0M610.4 392.4h0M609.5 401.7h0M611.4 390.8h0M610.5 401.2h0M611.3 379.7h0M611.8 374.7h0M611.7 397.8h0M610 364.8h0M612 394.1h0M610.8 381.9h0M611 382.6h0M609.8 372.7h0M609.6 379.2h0M610.5 389.7h0M610.3 360.4h0M609.5 376.7h0M609.5 367.7h0M611.3 393.6h0M609.7 389.2h0M610.2 381.2h0M610.6 401.6h0M610.7 387.9h0M611.2 395.8h0M611.3 364.6h0M609.6 390.2h0M611.1 385.7h0M610.5 351.6h0M612.3 381.8h0M610.6 383.1h0M610.4 360.7h0M610.9 398.9h0M610.2 399.9h0M611.9 381.4h0M611 369.6h0" stroke="#e0303c" stroke-width="0.75" stroke-linecap="square" fill="none"/>
<rect x="605.5" y="371.5" width="4.2" height="3" fill="#16324e"/>
<rect x="609.3" y="380" width="4.2" height="3" fill="#6e0f1b"/>
<text x="609.5" y="320.66" font-size="9.4" text-anchor="middle" fill="#231f20" stroke="#231f20" stroke-width="0.176">***</text>
<text x="609.5" y="456.87" font-size="9.8" text-anchor="middle" fill="#231f20" stroke="#231f20" stroke-width="0.2">γ</text>
<line x1="609.5" y1="447" x2="609.5" y2="445" stroke="#8a8a8a" stroke-width="0.7"/>
<path d="M642.6 331 C642.6 331.73 642.74 333.93 642.6 335.39 C642.46 336.85 642.12 338.32 641.74 339.78 C641.36 341.24 640.85 342.71 640.33 344.17 C639.81 345.63 639.2 347.1 638.63 348.56 C638.05 350.02 637.43 351.49 636.88 352.95 C636.33 354.41 635.77 355.88 635.32 357.34 C634.86 358.8 634.45 360.27 634.16 361.73 C633.86 363.19 633.66 364.66 633.56 366.12 C633.46 367.58 633.5 369.05 633.56 370.51 C633.62 371.97 633.75 373.44 633.93 374.9 C634.1 376.36 634.34 377.83 634.61 379.29 C634.88 380.75 635.21 382.22 635.56 383.68 C635.91 385.14 636.31 386.61 636.71 388.07 C637.11 389.53 637.55 391 637.97 392.46 C638.4 393.92 638.84 395.39 639.26 396.85 C639.67 398.31 640.09 399.78 640.46 401.24 C640.84 402.7 641.2 404.17 641.51 405.63 C641.82 407.09 642.14 408.56 642.32 410.02 C642.5 411.48 642.55 412.95 642.6 414.41 C642.65 415.87 642.6 418.07 642.6 418.8 L643 418.8 L643 331 Z" fill="#b4d6ee"/>
<path d="M643 362.2 L635 362.2 L635 366.82 L638.5 370.6 L635 377.08 L635 385 L643 385 Z" fill="#6badde"/>
<path d="M643.4 350 C643.4 350.52 643.35 352.07 643.4 353.1 C643.45 354.13 643.53 355.17 643.72 356.2 C643.91 357.23 644.24 358.27 644.55 359.3 C644.87 360.33 645.24 361.37 645.62 362.4 C645.99 363.43 646.4 364.47 646.8 365.5 C647.2 366.53 647.62 367.57 648.01 368.6 C648.4 369.63 648.78 370.67 649.12 371.7 C649.46 372.73 649.78 373.77 650.04 374.8 C650.3 375.83 650.52 376.87 650.68 377.9 C650.84 378.93 650.94 379.97 650.98 381 C651.02 382.03 651 383.07 650.9 384.1 C650.81 385.13 650.64 386.17 650.42 387.2 C650.2 388.23 649.91 389.27 649.58 390.3 C649.26 391.33 648.87 392.37 648.47 393.4 C648.08 394.43 647.63 395.47 647.21 396.5 C646.78 397.53 646.33 398.57 645.92 399.6 C645.51 400.63 645.1 401.67 644.75 402.7 C644.4 403.73 644.04 404.77 643.81 405.8 C643.59 406.83 643.47 407.87 643.4 408.9 C643.33 409.93 643.4 411.48 643.4 412 L643 412 L643 350 Z" fill="#f1bcc0"/>
<path d="M643 371.8 L651.5 371.8 L651.5 377.52 L648 382.2 L651.5 386.16 L651.5 391 L643 391 Z" fill="#d9828b"/>
<path d="M641.4 350.7h0M638.9 352.4h0M642.6 391.6h0M641.3 338.3h0M642.7 380.6h0M641.8 349.6h0M642.9 366.3h0M642.8 386.5h0M640.2 376.8h0M642.5 371.7h0M640.5 370.3h0M640 353.2h0M642.6 392.2h0M641.1 398.1h0M642.7 414.6h0M641 355.4h0M642.1 365.5h0M640.8 349.3h0M642.9 364.4h0M640 371.8h0M641 380.5h0M642.3 373.3h0M641.4 400.2h0M642 384.2h0M641.9 387.5h0M641.5 390h0M642.3 368.4h0M641.7 354.8h0M642.9 386.2h0M641.5 362.2h0M640.9 371h0M642.3 356.3h0M642 392.5h0M641.4 398.8h0M639.3 377.7h0M643 385.8h0M642.8 384.4h0M641.4 386h0M639.4 365.1h0M642.5 400.8h0M641.4 370h0M642.5 382.2h0M641 361.8h0M642.3 402.2h0M641.5 369.9h0M642.7 366.2h0M642.5 375.3h0M642.4 377.8h0M641.5 385.2h0M642 377.5h0M642.2 383.3h0M642.7 366.5h0M642.2 377.6h0M640.9 364.3h0M641.7 372.6h0M637.9 338.1h0M641.9 360.8h0M642.7 371.7h0M642 375.5h0M641.9 394.3h0M641.4 354.7h0M642.4 416.4h0M642.1 356.9h0M642.2 377.4h0M640 389.8h0M642.2 347.2h0M640.9 373.6h0M641.5 365.1h0M642.6 367h0M642.1 352.7h0M642.7 378.1h0M641.3 370.7h0M639.4 364.4h0M642 369.4h0M642.6 364.9h0M642.7 369.7h0M641.8 392.1h0M642.5 338.5h0M641.4 394.3h0M639.6 369.3h0M642.1 349.5h0M642.5 371.7h0M643 342.3h0M642.2 392.6h0M639.9 366.2h0M641.8 370.5h0M642.1 383.1h0M642.4 392.9h0M641.7 351.9h0M642.3 366.1h0M642.8 407.7h0M642.5 370.5h0M640.4 381.6h0M640.6 376h0M641.3 385.8h0M642.5 359.4h0M642.2 378h0M639.2 412.2h0M641.8 388h0M642.7 359.3h0M640.2 363h0M642.1 380h0M641.8 365h0M641.3 397.5h0M640.2 388.3h0M642.4 363.6h0M642.3 381.9h0M639.3 375.9h0M640.8 358.8h0M640.5 375.6h0M641.3 371.7h0M640.9 393.6h0M641.8 396.3h0M641.8 361.8h0M639.5 378.4h0M639.9 366h0M639.6 352.6h0M641.8 372.8h0M641.7 363.3h0M642.4 364h0M640.6 361.1h0M642.8 384.2h0M642.9 375.8h0M642.9 391.8h0M640.6 384.8h0M641.8 354.7h0M641.1 364.8h0M642.7 346.5h0M641.8 336.6h0M642.1 370.4h0M642.2 369.2h0M642.6 364.7h0M640.8 348.8h0M640.9 375h0M642.3 355h0M642.2 361.6h0M642.6 358.1h0M641.6 367.9h0M641 360.6h0M639.9 392.3h0M641.6 369.7h0M642.4 380.6h0M642.1 374h0M641.1 381.1h0M640.6 366.9h0M642.3 348.2h0M641.7 380.8h0M640.8 371.9h0" stroke="#3d95d5" stroke-width="0.75" stroke-linecap="square" fill="none"/>
<path d="M644.6 375h0M645.2 357.7h0M645.9 394.8h0M644.5 394.7h0M645.5 393h0M645 384.8h0M643.4 384.2h0M644.5 382.3h0M644.9 361.5h0M644.1 391.1h0M643.1 396.2h0M643.7 403.4h0M645.5 410.4h0M645.3 373.5h0M646.2 379.1h0M644.3 376.7h0M644.2 392.6h0M644.7 376.7h0M643.7 374h0M644.3 397.5h0M645.8 403.7h0M643.3 376.9h0M645.1 376.7h0M645.5 380.4h0M643.9 396.9h0M644.5 406.9h0M644 372.9h0M644.4 359.5h0M644.4 373.3h0M643.2 366.7h0M643.8 388.4h0M643.1 357.4h0M643.3 393h0M643.6 377h0M643.3 377.2h0M646.5 386h0M645 377.3h0M643.4 373.5h0M643.9 383.1h0M644.6 398.5h0M643.9 392.1h0M644.8 366h0M643.6 359.3h0M644.8 389.7h0M644.8 374.9h0M644.2 387.8h0M644.2 379.7h0M643.6 389.2h0M644.5 361.9h0M643.2 361h0M644.3 384.5h0M644.2 408.4h0M644.2 361.2h0M644.5 381.2h0M643.1 390.3h0M643.4 412h0M645.7 363.4h0M644.4 370.7h0M644.5 376h0M645.7 372.3h0M643.9 380.1h0M645.3 397.2h0M645.9 361.7h0M643.1 388h0M645 361.5h0M644.3 374.2h0M647.1 370.6h0M644 361.8h0M643.5 361.4h0M643.3 381.2h0M644.7 377.3h0M643.5 360.3h0M643.4 394.5h0M645.9 351.6h0M644.9 387.4h0M643.1 394.2h0M644.4 389h0M648.1 385.5h0M643.6 388.8h0M645 373.5h0M644.8 381h0M644.1 381h0M643.7 369.8h0M645 371.9h0M643.6 386.2h0M644.7 362.6h0M644.2 396.5h0M643.9 372.5h0M643.6 386.5h0M643.2 398h0M643.8 401.6h0M646.4 406.7h0M643.9 363.3h0M643.5 387.5h0M643.2 401.8h0M645.3 392.1h0M644 396.9h0M643.7 393h0M645.5 388.5h0M644.5 380.1h0M644.7 374.1h0M645.1 377.4h0M645.5 394.8h0M643.1 386.5h0M644.4 365.3h0M643.1 370.2h0M644.6 379.5h0M644.8 402.6h0M644 377.1h0M643.2 369.5h0M643.7 410.3h0M644.1 386.6h0M645.4 393.6h0M646.6 377.8h0M644.4 374.3h0M643.7 390.8h0M644.1 361.3h0M644.7 398.5h0M645.1 374.7h0M646.3 393.7h0M646.2 366.4h0M644.7 362.6h0M645.5 371.3h0M647.3 365.2h0M645.5 382.2h0M643.9 394.7h0M645.2 383h0M643.1 374.4h0M644.7 389h0M643.6 376.5h0M644.9 405h0M644.1 367.2h0M643.2 360.1h0M645.3 381.7h0M643.4 376.5h0M643.5 363.8h0M643.6 381.6h0M645.3 362.3h0M645.1 379.2h0M643.9 390.5h0M643.3 391.5h0M644 361.9h0M647.5 365h0M645.4 353.2h0" stroke="#e0303c" stroke-width="0.75" stroke-linecap="square" fill="none"/>
<rect x="639" y="369.1" width="4.2" height="3" fill="#16324e"/>
<rect x="642.8" y="380.7" width="4.2" height="3" fill="#6e0f1b"/>
<text x="643" y="320.66" font-size="9.4" text-anchor="middle" fill="#231f20" stroke="#231f20" stroke-width="0.176">***</text>
<text x="643" y="456.87" font-size="9.8" text-anchor="middle" fill="#231f20" stroke="#231f20" stroke-width="0.2">Hγ</text>
<line x1="643" y1="447" x2="643" y2="445" stroke="#8a8a8a" stroke-width="0.7"/>
<path d="M442 309.3 L442 447 L677.3 447" fill="none" stroke="#8a8a8a" stroke-width="0.9"/>
<line x1="677.3" y1="447" x2="677.3" y2="445" stroke="#8a8a8a" stroke-width="0.7"/>
<line x1="442" y1="309.3" x2="444" y2="309.3" stroke="#8a8a8a" stroke-width="0.7"/>
<line x1="442" y1="378.6" x2="444" y2="378.6" stroke="#8a8a8a" stroke-width="0.7"/>
<line x1="442" y1="447.9" x2="444" y2="447.9" stroke="#8a8a8a" stroke-width="0.7"/>
<text x="440" y="312.97" font-size="9.8" text-anchor="end" fill="#231f20" stroke="#231f20" stroke-width="0.2">1.5</text>
<text x="440" y="381.97" font-size="9.8" text-anchor="end" fill="#231f20" stroke="#231f20" stroke-width="0.2">0</text>
<text x="440" y="449.97" font-size="9.8" text-anchor="end" fill="#231f20" stroke="#231f20" stroke-width="0.2">-1.5</text>
<text x="427" y="378.37" font-size="9.8" text-anchor="middle" fill="#231f20" transform="rotate(-90 427 375)" stroke="#231f20" stroke-width="0.2">Power (Z)</text>
<text x="444" y="430.67" font-size="9.8" text-anchor="start" fill="#e5323f" stroke="#e5323f" stroke-width="0.2">High Pain</text>
<text x="444" y="442.67" font-size="9.8" text-anchor="start" fill="#3d9ad8" stroke="#3d9ad8" stroke-width="0.2">Low Pain</text>
<!-- p_ijk.panel_i -->
<text x="11.5" y="485" font-size="18.5" text-anchor="start" fill="#231f20" stroke="#231f20" stroke-width="0.05">I</text>
<rect x="98.97" y="529.1" width="17.59" height="27.5" fill="#e8833a"/>
<text x="107.76" y="547.07" font-size="10" text-anchor="middle" fill="#222" stroke="#222" stroke-width="0.2">***</text>
<rect x="116.56" y="556.6" width="17.59" height="27.5" fill="#e5693a"/>
<text x="125.35" y="574.57" font-size="10" text-anchor="middle" fill="#222" stroke="#222" stroke-width="0.2">**</text>
<rect x="186.91" y="556.6" width="17.59" height="27.5" fill="#efb02e"/>
<text x="195.71" y="574.57" font-size="10" text-anchor="middle" fill="#222" stroke="#222" stroke-width="0.2">*</text>
<rect x="28.6" y="584.1" width="17.59" height="27.5" fill="#efae2f"/>
<text x="37.4" y="602.07" font-size="10" text-anchor="middle" fill="#222" stroke="#222" stroke-width="0.2">**</text>
<rect x="46.19" y="611.6" width="17.59" height="27.5" fill="#48a5a0"/>
<text x="54.99" y="629.57" font-size="10" text-anchor="middle" fill="#222" stroke="#222" stroke-width="0.2">*</text>
<rect x="81.38" y="639.1" width="17.59" height="27.5" fill="#19b5e5"/>
<text x="90.17" y="657.07" font-size="10" text-anchor="middle" fill="#222" stroke="#222" stroke-width="0.2">**</text>
<rect x="169.32" y="639.1" width="17.59" height="27.5" fill="#19b5e5"/>
<text x="178.12" y="657.07" font-size="10" text-anchor="middle" fill="#222" stroke="#222" stroke-width="0.2">*</text>
<path d="M28.8 500.4 L28.8 665.6 L221.5 665.6" fill="none" stroke="#8a8a8a" stroke-width="0.9"/>
<line x1="28.8" y1="514.4" x2="30.8" y2="514.4" stroke="#8a8a8a" stroke-width="0.7"/>
<text x="25.6" y="517.77" font-size="9.8" text-anchor="end" fill="#231f20" stroke="#231f20" stroke-width="0.2">δ</text>
<line x1="28.8" y1="541.9" x2="30.8" y2="541.9" stroke="#8a8a8a" stroke-width="0.7"/>
<text x="25.6" y="545.27" font-size="9.8" text-anchor="end" fill="#231f20" stroke="#231f20" stroke-width="0.2">θ</text>
<line x1="28.8" y1="569.4" x2="30.8" y2="569.4" stroke="#8a8a8a" stroke-width="0.7"/>
<text x="25.6" y="572.77" font-size="9.8" text-anchor="end" fill="#231f20" stroke="#231f20" stroke-width="0.2">α</text>
<line x1="28.8" y1="596.9" x2="30.8" y2="596.9" stroke="#8a8a8a" stroke-width="0.7"/>
<text x="25.6" y="600.27" font-size="9.8" text-anchor="end" fill="#231f20" stroke="#231f20" stroke-width="0.2">β</text>
<line x1="28.8" y1="624.4" x2="30.8" y2="624.4" stroke="#8a8a8a" stroke-width="0.7"/>
<text x="25.6" y="627.77" font-size="9.8" text-anchor="end" fill="#231f20" stroke="#231f20" stroke-width="0.2">γ</text>
<line x1="28.8" y1="651.9" x2="30.8" y2="651.9" stroke="#8a8a8a" stroke-width="0.7"/>
<text x="25.6" y="655.27" font-size="9.8" text-anchor="end" fill="#231f20" stroke="#231f20" stroke-width="0.2">Hγ</text>
<line x1="37.4" y1="665.6" x2="37.4" y2="663.6" stroke="#8a8a8a" stroke-width="0.7"/>
<text x="39.6" y="670" font-size="8.1" fill="#231f20" text-anchor="end" transform="rotate(-44 39.6 670)" stroke="#231f20" stroke-width="0.097">Striatum</text>
<line x1="54.99" y1="665.6" x2="54.99" y2="663.6" stroke="#8a8a8a" stroke-width="0.7"/>
<text x="57.19" y="670" font-size="8.1" fill="#231f20" text-anchor="end" transform="rotate(-44 57.19 670)" stroke="#231f20" stroke-width="0.097">Hippocampus</text>
<line x1="72.58" y1="665.6" x2="72.58" y2="663.6" stroke="#8a8a8a" stroke-width="0.7"/>
<text x="74.78" y="670" font-size="8.1" fill="#231f20" text-anchor="end" transform="rotate(-44 74.78 670)" stroke="#231f20" stroke-width="0.097">Amygdala</text>
<line x1="90.17" y1="665.6" x2="90.17" y2="663.6" stroke="#8a8a8a" stroke-width="0.7"/>
<text x="92.37" y="670" font-size="8.1" fill="#231f20" text-anchor="end" transform="rotate(-44 92.37 670)" stroke="#231f20" stroke-width="0.097">Cingulate</text>
<line x1="107.76" y1="665.6" x2="107.76" y2="663.6" stroke="#8a8a8a" stroke-width="0.7"/>
<text x="109.96" y="670" font-size="8.1" fill="#231f20" text-anchor="end" transform="rotate(-44 109.96 670)" stroke="#231f20" stroke-width="0.097">Temporal</text>
<line x1="125.35" y1="665.6" x2="125.35" y2="663.6" stroke="#8a8a8a" stroke-width="0.7"/>
<text x="127.55" y="670" font-size="8.1" fill="#231f20" text-anchor="end" transform="rotate(-44 127.55 670)" stroke="#231f20" stroke-width="0.097">Parietal</text>
<line x1="142.94" y1="665.6" x2="142.94" y2="663.6" stroke="#8a8a8a" stroke-width="0.7"/>
<text x="145.14" y="670" font-size="8.1" fill="#231f20" text-anchor="end" transform="rotate(-44 145.14 670)" stroke="#231f20" stroke-width="0.097">Insula</text>
<line x1="160.53" y1="665.6" x2="160.53" y2="663.6" stroke="#8a8a8a" stroke-width="0.7"/>
<text x="162.73" y="670" font-size="8.1" fill="#231f20" text-anchor="end" transform="rotate(-44 162.73 670)" stroke="#231f20" stroke-width="0.097">Prefrontal</text>
<line x1="178.12" y1="665.6" x2="178.12" y2="663.6" stroke="#8a8a8a" stroke-width="0.7"/>
<text x="180.32" y="670" font-size="8.1" fill="#231f20" text-anchor="end" transform="rotate(-44 180.32 670)" stroke="#231f20" stroke-width="0.097">Orbitofrontal</text>
<line x1="195.71" y1="665.6" x2="195.71" y2="663.6" stroke="#8a8a8a" stroke-width="0.7"/>
<text x="197.91" y="670" font-size="8.1" fill="#231f20" text-anchor="end" transform="rotate(-44 197.91 670)" stroke="#231f20" stroke-width="0.097">Thalamus</text>
<line x1="213.3" y1="665.6" x2="213.3" y2="663.6" stroke="#8a8a8a" stroke-width="0.7"/>
<text x="215.5" y="670" font-size="8.1" fill="#231f20" text-anchor="end" transform="rotate(-44 215.5 670)" stroke="#231f20" stroke-width="0.097">Sensory/Motor</text>
<defs><linearGradient id="jet" x1="0" y1="1" x2="0" y2="0"><stop offset="0.000" stop-color="rgb(42, 69, 144)"/><stop offset="0.025" stop-color="rgb(43, 73, 149)"/><stop offset="0.050" stop-color="rgb(44, 78, 154)"/><stop offset="0.075" stop-color="rgb(45, 82, 160)"/><stop offset="0.100" stop-color="rgb(46, 87, 165)"/><stop offset="0.125" stop-color="rgb(47, 91, 170)"/><stop offset="0.150" stop-color="rgb(48, 96, 176)"/><stop offset="0.175" stop-color="rgb(47, 103, 181)"/><stop offset="0.200" stop-color="rgb(47, 111, 187)"/><stop offset="0.225" stop-color="rgb(47, 119, 193)"/><stop offset="0.250" stop-color="rgb(47, 127, 199)"/><stop offset="0.275" stop-color="rgb(46, 136, 205)"/><stop offset="0.300" stop-color="rgb(41, 151, 213)"/><stop offset="0.325" stop-color="rgb(36, 166, 221)"/><stop offset="0.350" stop-color="rgb(32, 181, 229)"/><stop offset="0.375" stop-color="rgb(37, 179, 218)"/><stop offset="0.400" stop-color="rgb(43, 177, 208)"/><stop offset="0.425" stop-color="rgb(50, 175, 195)"/><stop offset="0.450" stop-color="rgb(62, 170, 174)"/><stop offset="0.475" stop-color="rgb(75, 166, 152)"/><stop offset="0.500" stop-color="rgb(89, 168, 133)"/><stop offset="0.525" stop-color="rgb(105, 173, 115)"/><stop offset="0.550" stop-color="rgb(121, 178, 97)"/><stop offset="0.575" stop-color="rgb(139, 184, 85)"/><stop offset="0.600" stop-color="rgb(159, 190, 77)"/><stop offset="0.625" stop-color="rgb(180, 196, 68)"/><stop offset="0.650" stop-color="rgb(200, 200, 60)"/><stop offset="0.675" stop-color="rgb(222, 200, 52)"/><stop offset="0.700" stop-color="rgb(236, 192, 48)"/><stop offset="0.725" stop-color="rgb(238, 172, 48)"/><stop offset="0.750" stop-color="rgb(238, 152, 48)"/><stop offset="0.775" stop-color="rgb(236, 133, 48)"/><stop offset="0.800" stop-color="rgb(233, 113, 48)"/><stop offset="0.825" stop-color="rgb(230, 97, 49)"/><stop offset="0.850" stop-color="rgb(227, 82, 50)"/><stop offset="0.875" stop-color="rgb(224, 67, 52)"/><stop offset="0.900" stop-color="rgb(217, 53, 51)"/><stop offset="0.925" stop-color="rgb(208, 39, 49)"/><stop offset="0.950" stop-color="rgb(195, 29, 45)"/><stop offset="0.975" stop-color="rgb(174, 22, 38)"/><stop offset="1.000" stop-color="rgb(154, 16, 32)"/></linearGradient></defs>
<rect x="226.2" y="500.7" width="5.6" height="164.5" fill="url(#jet)" stroke="#777" stroke-width="0.5"/>
<text x="233.8" y="506.17" font-size="9.8" text-anchor="start" fill="#231f20" stroke="#231f20" stroke-width="0.2">1.5</text>
<text x="233.8" y="585.07" font-size="9.8" text-anchor="start" fill="#231f20" stroke="#231f20" stroke-width="0.2">0</text>
<text x="232.3" y="666.07" font-size="9.8" text-anchor="start" fill="#231f20" stroke="#231f20" stroke-width="0.2">-1.5</text>
<text x="219" y="590.37" font-size="9.8" text-anchor="middle" fill="#222" transform="rotate(90 219 587)" stroke="#222" stroke-width="0.2">Effect Size</text>
<!-- p_ijk.panel_j -->
<text x="253.6" y="486" font-size="18.5" text-anchor="start" fill="#231f20" stroke="#231f20" stroke-width="0.05">J</text>
<path d="M272.6 618.92 L276 610.72 L279.4 597.84 L282.79 590.28 L286.19 580.5 L289.59 576.29 L292.99 572.49 L296.39 569.08 L299.79 572.2 L303.18 567.76 L306.58 567.44 L309.98 567.72 L313.38 570.08 L316.78 567.9 L320.17 566.56 L323.57 568.77 L326.97 567.51 L330.37 568.03 L333.77 564.39 L337.17 563 L340.56 561.77 L343.96 561.33 L347.36 560.9 L350.76 561.93 L354.16 559.16 L357.55 558.19 L360.95 558.46 L364.35 561.87 L367.75 562.2 L371.15 562.1 L374.55 555.79 L377.94 555.16 L381.34 549.82 L384.74 545.3 L388.14 539.55 L391.54 540.63 L394.93 537.91 L398.33 534.74 L401.73 539.2 L405.13 540.91 L408.53 547.25 L411.93 548.93 L415.32 556.2 L418.72 552.71 L422.12 550.92 L425.52 546.8 L428.92 546.95 L432.31 547.38 L435.71 550.73 L439.11 554.56 L442.51 552.13 L445.91 549.3 L449.31 541.02 L452.7 538.71 L456.1 535.83 L459.5 532.1 L459.5 579.71 L456.1 582.34 L452.7 584.92 L449.31 585.45 L445.91 586.71 L442.51 590.62 L439.11 591 L435.71 592.13 L432.31 596.1 L428.92 592.84 L425.52 596.95 L422.12 595.94 L418.72 596.34 L415.32 599.16 L411.93 596.24 L408.53 588.54 L405.13 581.65 L401.73 583.39 L398.33 581.12 L394.93 582.83 L391.54 580.05 L388.14 581 L384.74 584.32 L381.34 586.82 L377.94 590.99 L374.55 597.85 L371.15 597.44 L367.75 598.42 L364.35 597.72 L360.95 599.11 L357.55 599.46 L354.16 598.98 L350.76 599.05 L347.36 597.74 L343.96 596.81 L340.56 599.94 L337.17 599.05 L333.77 599.77 L330.37 597.05 L326.97 598.59 L323.57 597.38 L320.17 600.27 L316.78 596.98 L313.38 601.13 L309.98 597.67 L306.58 599.81 L303.18 599.87 L299.79 602.6 L296.39 601.19 L292.99 602.05 L289.59 605.55 L286.19 615.73 L282.79 621.65 L279.4 634.04 L276 639.26 L272.6 640.49 Z" fill="#c6e3cf"/>
<path d="M272.6 633.05 L276 623.21 L279.4 616.21 L282.79 606.66 L286.19 599.5 L289.59 602.51 L292.99 599.61 L296.39 598.22 L299.79 596.45 L303.18 601.27 L306.58 599.64 L309.98 603.4 L313.38 602.82 L316.78 600.93 L320.17 598.52 L323.57 600.59 L326.97 596.13 L330.37 599.34 L333.77 599.15 L337.17 597.56 L340.56 599.06 L343.96 604.07 L347.36 606.04 L350.76 607.59 L354.16 605.99 L357.55 609.8 L360.95 605.74 L364.35 604.83 L367.75 603.97 L371.15 602.63 L374.55 603.32 L377.94 603.3 L381.34 605.33 L384.74 605.59 L388.14 608.9 L391.54 606.49 L394.93 604.25 L398.33 606.53 L401.73 604.79 L405.13 606.63 L408.53 603.84 L411.93 602.1 L415.32 599.63 L418.72 600.45 L422.12 601.91 L425.52 605.21 L428.92 605.63 L432.31 606.15 L435.71 608.92 L439.11 607.37 L442.51 607.45 L445.91 608.64 L449.31 605.91 L452.7 607.03 L456.1 604.3 L459.5 601.66 L459.5 627.85 L456.1 628.26 L452.7 632.27 L449.31 633.11 L445.91 630.97 L442.51 631.85 L439.11 632.1 L435.71 631.07 L432.31 634.44 L428.92 629.16 L425.52 628.9 L422.12 627.73 L418.72 623.33 L415.32 627.05 L411.93 627.53 L408.53 627.28 L405.13 629.39 L401.73 629.07 L398.33 631 L394.93 629.2 L391.54 631.56 L388.14 631.44 L384.74 630.64 L381.34 628.71 L377.94 628.05 L374.55 628.42 L371.15 626.78 L367.75 628.66 L364.35 628.54 L360.95 630.2 L357.55 630.42 L354.16 632.4 L350.76 628.42 L347.36 626.7 L343.96 625.07 L340.56 626.08 L337.17 624.38 L333.77 621.73 L330.37 623.57 L326.97 620.47 L323.57 622.2 L320.17 624.51 L316.78 626.04 L313.38 627.54 L309.98 624.03 L306.58 626.39 L303.18 622.68 L299.79 622.07 L296.39 623.13 L292.99 622.46 L289.59 626.81 L286.19 627.51 L282.79 631.7 L279.4 641.5 L276 648.63 L272.6 659.42 Z" fill="#86c8b6" fill-opacity="0.82"/>
<path d="M272.6 628.23 L276 626.58 L279.4 622.06 L282.79 612.19 L286.19 601.7 L289.59 590.94 L292.99 587.3 L296.39 586.97 L299.79 586.64 L303.18 586.32 L306.58 585.99 L309.98 584.61 L313.38 582.85 L316.78 581.09 L320.17 581.11 L323.57 581.58 L326.97 582.04 L330.37 580.82 L333.77 579.34 L337.17 578.64 L340.56 578.09 L343.96 577.53 L347.36 577.06 L350.76 576.59 L354.16 576.12 L357.55 576.06 L360.95 576.53 L364.35 577 L367.75 577.46 L371.15 579.17 L374.55 580.21 L377.94 575.64 L381.34 571.06 L384.74 566.49 L388.14 562.15 L391.54 560.49 L394.93 558.82 L398.33 557.53 L401.73 558.34 L405.13 559.88 L408.53 566.17 L411.93 572.46 L415.32 576.96 L418.72 574.32 L422.12 571.67 L425.52 571.14 L428.92 571.82 L432.31 572.91 L435.71 575.22 L439.11 577.54 L442.51 577.04 L445.91 570.49 L449.31 563.93 L452.7 560.44 L456.1 557.98 L459.5 555.51" fill="none" stroke="#62b67f" stroke-width="0.7"/>
<path d="M272.6 645.86 L276 636.82 L279.4 627.43 L282.79 617.4 L286.19 613.74 L289.59 612.82 L292.99 611.89 L296.39 610.97 L299.79 610.63 L303.18 611.68 L306.58 612.73 L309.98 613.78 L313.38 614.83 L316.78 613.66 L320.17 612.25 L323.57 610.83 L326.97 609.42 L330.37 610.03 L333.77 610.94 L337.17 611.86 L340.56 612.79 L343.96 614.45 L347.36 616.1 L350.76 617.76 L354.16 619.42 L357.55 620 L360.95 619.19 L364.35 618.37 L367.75 617.55 L371.15 616.74 L374.55 616.11 L377.94 616.92 L381.34 617.73 L384.74 618.53 L388.14 619.25 L391.54 618.92 L394.93 618.59 L398.33 618.26 L401.73 617.93 L405.13 617.45 L408.53 615.97 L411.93 614.49 L415.32 613.01 L418.72 611.88 L422.12 613.98 L425.52 616.08 L428.92 618.17 L432.31 620.27 L435.71 620.64 L439.11 620.27 L442.51 619.9 L445.91 619.53 L449.31 618.98 L452.7 617.99 L456.1 617 L459.5 616.02" fill="none" stroke="#22a07e" stroke-width="0.8"/>
<path d="M272.6 500.7 L272.6 663.5 L461 663.5" fill="none" stroke="#8a8a8a" stroke-width="0.9"/>
<line x1="272.6" y1="663.5" x2="272.6" y2="661.5" stroke="#8a8a8a" stroke-width="0.7"/>
<text x="272.6" y="673.67" font-size="9.8" text-anchor="middle" fill="#231f20" stroke="#231f20" stroke-width="0.2">0</text>
<line x1="334.9" y1="663.5" x2="334.9" y2="661.5" stroke="#8a8a8a" stroke-width="0.7"/>
<text x="334.9" y="673.67" font-size="9.8" text-anchor="middle" fill="#231f20" stroke="#231f20" stroke-width="0.2">1</text>
<line x1="397.2" y1="663.5" x2="397.2" y2="661.5" stroke="#8a8a8a" stroke-width="0.7"/>
<text x="397.2" y="673.67" font-size="9.8" text-anchor="middle" fill="#231f20" stroke="#231f20" stroke-width="0.2">2</text>
<line x1="459.5" y1="663.5" x2="459.5" y2="661.5" stroke="#8a8a8a" stroke-width="0.7"/>
<text x="459.5" y="673.67" font-size="9.8" text-anchor="middle" fill="#231f20" stroke="#231f20" stroke-width="0.2">3</text>
<line x1="272.6" y1="500.7" x2="274.6" y2="500.7" stroke="#8a8a8a" stroke-width="0.7"/>
<text x="268.8" y="502.97" font-size="9.8" text-anchor="end" fill="#231f20" stroke="#231f20" stroke-width="0.2">0.6</text>
<text x="270.6" y="665.87" font-size="9.8" text-anchor="end" fill="#231f20" stroke="#231f20" stroke-width="0.2">0</text>
<text x="373" y="686.17" font-size="9.8" text-anchor="middle" fill="#231f20" stroke="#231f20" stroke-width="0.2">Time Since Pain Report (hours)</text>
<text x="261.2" y="586.37" font-size="9.8" text-anchor="middle" fill="#231f20" transform="rotate(-90 261.2 583)" stroke="#231f20" stroke-width="0.2">Classifier Signal (Rel. Change)</text>
<path d="M272.6 501.9 L333.4 501.9 L333.4 503" fill="none" stroke="#8a8a8a" stroke-width="0.9"/>
<line x1="333.4" y1="503" x2="333.4" y2="514.6" stroke="#999" stroke-width="0.6" stroke-dasharray="0.8 0.8"/>
<path d="M335 501.9 L395.4 501.9 L395.4 503" fill="none" stroke="#8a8a8a" stroke-width="0.9"/>
<line x1="395.4" y1="503" x2="395.4" y2="514.6" stroke="#999" stroke-width="0.6" stroke-dasharray="0.8 0.8"/>
<path d="M398 501.9 L458 501.9 L458 503" fill="none" stroke="#8a8a8a" stroke-width="0.9"/>
<line x1="458" y1="503" x2="458" y2="514.6" stroke="#999" stroke-width="0.6" stroke-dasharray="0.8 0.8"/>
<text x="303.5" y="499.67" font-size="9.8" text-anchor="middle" fill="#231f20" stroke="#231f20" stroke-width="0.2">n.s.</text>
<text x="366.1" y="501.59" font-size="10.8" text-anchor="middle" fill="#231f20" stroke="#231f20" stroke-width="0.2">***</text>
<text x="429" y="501.89" font-size="10.8" text-anchor="middle" fill="#231f20" stroke="#231f20" stroke-width="0.2">**</text>
<text x="461.3" y="597.67" font-size="9.8" text-anchor="end" fill="#7ec596" stroke="#7ec596" stroke-width="0.2">High Pain Onset</text>
<text x="461.3" y="640.37" font-size="9.8" text-anchor="end" fill="#2ea886" stroke="#2ea886" stroke-width="0.2">Remains in Low Pain</text>
<text x="461" y="659.27" font-size="9.8" text-anchor="end" fill="#231f20" stroke="#231f20" stroke-width="0.2">Group (N = 12)</text>
<text x="314" y="633.91" font-size="7.6" text-anchor="middle" fill="#231f20" stroke="#231f20" stroke-width="0.067">Low Pain Recorded</text>
<text x="313.8" y="642.91" font-size="7.6" text-anchor="middle" fill="#231f20" stroke="#231f20" stroke-width="0.067">at Index Time</text>
<line x1="278" y1="637.5" x2="284.6" y2="637.5" stroke="#231f20" stroke-width="0.6"/>
<path d="M272.8 637.5 L278.4 635.2 L278.4 639.8 Z" fill="#222"/>
<!-- p_ijk.panel_k -->
<text x="476.2" y="485.2" font-size="18.5" text-anchor="start" fill="#231f20" stroke="#231f20" stroke-width="0.05">K</text>
<path d="M494.3 606.53 L497.71 606.55 L501.13 596.27 L504.54 581 L507.96 559.72 L511.37 553.08 L514.79 545.99 L518.2 539.79 L521.62 543.52 L525.03 540.63 L528.45 543.48 L531.86 545.78 L535.27 547.91 L538.69 535.84 L542.1 523.55 L545.52 511.61 L548.93 501.72 L552.35 501.99 L555.76 506.81 L559.18 514.56 L562.59 518.46 L566.01 523.16 L569.42 524.35 L572.83 524.16 L576.25 521.34 L579.66 520.4 L583.08 520.7 L586.49 520.96 L589.91 515.97 L593.32 512.4 L596.74 506.08 L600.15 507.66 L603.57 507.26 L606.98 507.3 L610.39 504.14 L613.81 506.04 L617.22 509.22 L620.64 512 L624.05 521.11 L627.47 527.17 L630.88 529.31 L634.3 526.51 L637.71 529.4 L641.13 525.43 L644.54 523.17 L647.95 517.71 L651.37 516.03 L654.78 513.66 L658.2 511.49 L661.61 509.79 L665.03 507.18 L668.44 513.04 L671.86 519.94 L675.27 530.54 L678.69 534.48 L682.1 534.69 L682.1 582.62 L678.69 582.79 L675.27 580.04 L671.86 569.51 L668.44 558.53 L665.03 556.73 L661.61 555.88 L658.2 559.11 L654.78 565.21 L651.37 564.21 L647.95 570.64 L644.54 571.59 L641.13 573.4 L637.71 577.64 L634.3 579.4 L630.88 576.24 L627.47 573.64 L624.05 570.31 L620.64 562.53 L617.22 559.12 L613.81 552.09 L610.39 553.93 L606.98 555.32 L603.57 553.85 L600.15 553.66 L596.74 558.96 L593.32 558.88 L589.91 563.26 L586.49 567.79 L583.08 572.3 L579.66 572.54 L576.25 571.77 L572.83 572.7 L569.42 573.7 L566.01 572.2 L562.59 571.29 L559.18 566.33 L555.76 558.81 L552.35 547.7 L548.93 549.62 L545.52 557.13 L542.1 574.32 L538.69 582.06 L535.27 596.22 L531.86 593.1 L528.45 593.13 L525.03 589.91 L521.62 590.97 L518.2 588.85 L514.79 592.38 L511.37 598.28 L507.96 606.25 L504.54 612.63 L501.13 624.64 L497.71 628.01 L494.3 626.61 Z" fill="#ebb0ab"/>
<path d="M494.3 635.23 L497.71 624.37 L501.13 616.72 L504.54 612.91 L507.96 606.53 L511.37 608.33 L514.79 606.81 L518.2 605.76 L521.62 601.57 L525.03 602.62 L528.45 597.74 L531.86 599.69 L535.27 597.28 L538.69 595.78 L542.1 594.01 L545.52 597.02 L548.93 593.5 L552.35 595.67 L555.76 594.1 L559.18 591.08 L562.59 591.15 L566.01 594.04 L569.42 592.25 L572.83 588.72 L576.25 583.1 L579.66 584.95 L583.08 580.4 L586.49 579.72 L589.91 579.09 L593.32 577.98 L596.74 578.72 L600.15 577.29 L603.57 578.21 L606.98 578.04 L610.39 581.04 L613.81 579.32 L617.22 577.89 L620.64 581.34 L624.05 580.74 L627.47 583.91 L630.88 583.63 L634.3 584.75 L637.71 585.14 L641.13 588.48 L644.54 586.63 L647.95 586.41 L651.37 583.28 L654.78 580.78 L658.2 582.95 L661.61 581.52 L665.03 581.73 L668.44 583.09 L671.86 580.69 L675.27 582.6 L678.69 580.64 L682.1 578.77 L682.1 610.6 L678.69 610.17 L675.27 613.37 L671.86 613.37 L668.44 610.81 L665.03 611.48 L661.61 611.55 L658.2 610.32 L654.78 614.28 L651.37 611.94 L647.95 615.17 L644.54 617.49 L641.13 616.32 L637.71 617.49 L634.3 615.04 L630.88 611.86 L627.47 611.4 L624.05 609.71 L620.64 610.44 L617.22 607.42 L613.81 608.92 L610.39 608.03 L606.98 607.51 L603.57 605.95 L600.15 606.35 L596.74 608.07 L593.32 606.32 L589.91 607.92 L586.49 607.51 L583.08 608.89 L579.66 609.51 L576.25 613.44 L572.83 613.39 L569.42 616.69 L566.01 618.77 L562.59 621.89 L559.18 621.56 L555.76 620.25 L552.35 623.43 L548.93 621.31 L545.52 622.03 L542.1 623.37 L538.69 624.21 L535.27 625.26 L531.86 623.5 L528.45 627.65 L525.03 627.1 L521.62 630.23 L518.2 633.65 L514.79 632.57 L511.37 634.69 L507.96 634.98 L504.54 636.71 L501.13 638.46 L497.71 641.27 L494.3 648.12 Z" fill="#f7d0ae" fill-opacity="0.92"/>
<path d="M494.3 617.81 L497.71 616.65 L501.13 610.87 L504.54 596.5 L507.96 582.13 L511.37 574.62 L514.79 569 L518.2 565.63 L521.62 565.63 L525.03 566.62 L528.45 569.19 L531.86 570.62 L535.27 570.06 L538.69 559.89 L542.1 548.64 L545.52 534.17 L548.93 525.24 L552.35 524.69 L555.76 532.87 L559.18 540.96 L562.59 544.9 L566.01 548.84 L569.42 549.27 L572.83 546.83 L576.25 545.84 L579.66 546.12 L583.08 546.4 L586.49 543.47 L589.91 538.41 L593.32 535.18 L596.74 532.52 L600.15 530.56 L603.57 531.37 L606.98 531.78 L610.39 530.41 L613.81 529.03 L617.22 532.77 L620.64 537.78 L624.05 543.88 L627.47 550.29 L630.88 551.82 L634.3 553.1 L637.71 552.82 L641.13 550.02 L644.54 547.23 L647.95 544.4 L651.37 541.54 L654.78 538.69 L658.2 536.02 L661.61 533.36 L665.03 533.24 L668.44 535.89 L671.86 545.06 L675.27 554.23 L678.69 558.08 L682.1 559.08" fill="none" stroke="#e0584a" stroke-width="0.7"/>
<path d="M494.3 641.3 L497.71 633.73 L501.13 626.15 L504.54 623.02 L507.96 621 L511.37 619.66 L514.79 620.55 L518.2 620 L521.62 617.28 L525.03 614.57 L528.45 612.41 L531.86 611.66 L535.27 610.92 L538.69 610.17 L542.1 609.43 L545.52 608.96 L548.93 608.54 L552.35 608.11 L555.76 607.69 L559.18 607.21 L562.59 606.74 L566.01 606.27 L569.42 604.2 L572.83 600.81 L576.25 598.5 L579.66 597.12 L583.08 595.87 L586.49 595.31 L589.91 594.75 L593.32 594.19 L596.74 593.64 L600.15 593.08 L603.57 592.79 L606.98 593.2 L610.39 593.6 L613.81 594.01 L617.22 594.53 L620.64 595.38 L624.05 596.23 L627.47 597.08 L630.88 598.16 L634.3 599.57 L637.71 600.98 L641.13 602.39 L644.54 601.22 L647.95 599.81 L651.37 598.39 L654.78 597.5 L658.2 597.29 L661.61 597.08 L665.03 596.86 L668.44 596.67 L671.86 596.49 L675.27 596.31 L678.69 596.13 L682.1 595.95" fill="none" stroke="#f0913c" stroke-width="0.7"/>
<path d="M494.3 499.8 L494.3 663.7 L684 663.7" fill="none" stroke="#8a8a8a" stroke-width="0.9"/>
<line x1="494.3" y1="663.7" x2="494.3" y2="661.7" stroke="#8a8a8a" stroke-width="0.7"/>
<text x="494.3" y="673.67" font-size="9.8" text-anchor="middle" fill="#231f20" stroke="#231f20" stroke-width="0.2">0</text>
<line x1="556.9" y1="663.7" x2="556.9" y2="661.7" stroke="#8a8a8a" stroke-width="0.7"/>
<text x="556.9" y="673.67" font-size="9.8" text-anchor="middle" fill="#231f20" stroke="#231f20" stroke-width="0.2">1</text>
<line x1="619.5" y1="663.7" x2="619.5" y2="661.7" stroke="#8a8a8a" stroke-width="0.7"/>
<text x="619.5" y="673.67" font-size="9.8" text-anchor="middle" fill="#231f20" stroke="#231f20" stroke-width="0.2">2</text>
<line x1="682.1" y1="663.7" x2="682.1" y2="661.7" stroke="#8a8a8a" stroke-width="0.7"/>
<text x="682.1" y="673.67" font-size="9.8" text-anchor="middle" fill="#231f20" stroke="#231f20" stroke-width="0.2">3</text>
<line x1="494.3" y1="499.8" x2="496.3" y2="499.8" stroke="#8a8a8a" stroke-width="0.7"/>
<text x="490.4" y="503.77" font-size="9.8" text-anchor="end" fill="#231f20" stroke="#231f20" stroke-width="0.2">0.6</text>
<text x="492" y="667.27" font-size="9.8" text-anchor="end" fill="#231f20" stroke="#231f20" stroke-width="0.2">0</text>
<text x="595" y="685.87" font-size="9.8" text-anchor="middle" fill="#231f20" stroke="#231f20" stroke-width="0.2">Time Since Pain Report (hours)</text>
<text x="482.6" y="586.37" font-size="9.8" text-anchor="middle" fill="#231f20" transform="rotate(-90 482.6 583)" stroke="#231f20" stroke-width="0.2">Classifier Signal (Rel. Change)</text>
<path d="M495.8 501 L556.5 501 L556.5 502" fill="none" stroke="#444" stroke-width="0.8"/>
<line x1="556.5" y1="502" x2="556.5" y2="514.6" stroke="#999" stroke-width="0.6" stroke-dasharray="0.8 0.8"/>
<path d="M557.8 501 L618.6 501 L618.6 502" fill="none" stroke="#444" stroke-width="0.8"/>
<line x1="618.6" y1="502" x2="618.6" y2="514.6" stroke="#999" stroke-width="0.6" stroke-dasharray="0.8 0.8"/>
<path d="M621 501 L681.2 501 L681.2 502" fill="none" stroke="#444" stroke-width="0.8"/>
<line x1="681.2" y1="502" x2="681.2" y2="514.6" stroke="#999" stroke-width="0.6" stroke-dasharray="0.8 0.8"/>
<text x="525.6" y="501.19" font-size="10.8" text-anchor="middle" fill="#231f20" stroke="#231f20" stroke-width="0.2">***</text>
<text x="589.6" y="501.19" font-size="10.8" text-anchor="middle" fill="#231f20" stroke="#231f20" stroke-width="0.2">***</text>
<text x="655.6" y="501.19" font-size="10.8" text-anchor="middle" fill="#231f20" stroke="#231f20" stroke-width="0.2">*</text>
<text x="684" y="575.87" font-size="9.8" text-anchor="end" fill="#e25545" stroke="#e25545" stroke-width="0.2">Pain Relief</text>
<text x="685" y="624.17" font-size="9.8" text-anchor="end" fill="#f4a668" stroke="#f4a668" stroke-width="0.2">Remains in High Pain</text>
<text x="684.4" y="658.87" font-size="9.8" text-anchor="end" fill="#231f20" stroke="#231f20" stroke-width="0.2">Group (N = 12)</text>
<text x="536.7" y="639.11" font-size="7.6" text-anchor="middle" fill="#231f20" stroke="#231f20" stroke-width="0.067">High Pain Recorded</text>
<text x="537" y="648.41" font-size="7.6" text-anchor="middle" fill="#231f20" stroke="#231f20" stroke-width="0.067">at Index Time</text>
<line x1="498.5" y1="642" x2="505.3" y2="642" stroke="#231f20" stroke-width="0.6"/>
<path d="M494.4 642 L499.6 639.7 L499.6 644.3 Z" fill="#222"/>
<!-- p_a.panel_a -->
<text x="8.8" y="21.6" font-size="18.5" text-anchor="start" fill="#231f20" stroke="#231f20" stroke-width="0.05">A</text>
<defs>
<clipPath id="brainclip"><path d="M32.9 64 C32.76 68.46 32.92 72.1 33.8 76.3 C34.68 80.5 35.2 81.86 37.3 85 C39.4 88.14 40.8 89.54 44.3 92 C47.8 94.46 50.6 95.54 54.8 97.3 C59 99.06 61.8 99.74 65.3 100.8 C68.8 101.86 70.2 101.2 72.3 102.6 C74.4 104 74.4 106.06 75.8 107.8 C77.2 109.54 77.2 109.9 79.3 111.3 C81.4 112.7 83.16 113.74 86.3 114.8 C89.44 115.86 91.5 116.42 95 116.6 C98.5 116.78 100.28 116.42 103.8 115.7 C107.32 114.98 109.44 114.4 112.6 113 C115.76 111.6 116.8 110.44 119.6 108.7 C122.4 106.96 123.44 105.88 126.6 104.3 C129.76 102.72 131.72 101.86 135.4 100.8 C139.08 99.74 141.88 100.42 145 99 C148.12 97.58 148.28 95.2 151 93.7 C153.72 92.2 155.76 91.72 158.6 91.5 C161.44 91.28 162.78 91.84 165.2 92.6 C167.62 93.36 168.52 94.32 170.7 95.3 C172.88 96.28 173.48 97.5 176.1 97.5 C178.72 97.5 181.38 96.06 183.8 95.3 C186.22 94.54 186.22 95.12 188.2 93.7 C190.18 92.28 192.06 90.18 193.7 88.2 C195.34 86.22 196.08 86.22 196.4 83.8 C196.72 81.38 196.06 79.82 195.3 76.1 C194.54 72.38 194.02 69.14 192.6 65.2 C191.18 61.26 189.96 59.68 188.2 56.4 C186.44 53.12 185.78 52.08 183.8 48.8 C181.82 45.52 180.34 42.76 178.3 40 C176.26 37.24 176 37.46 173.6 35 C171.2 32.54 169.22 30.32 166.3 27.7 C163.38 25.08 161.62 23.64 159 21.9 C156.38 20.16 155.82 20.32 153.2 19 C150.58 17.68 148.68 16.6 145.9 15.3 C143.12 14 141.64 13.46 139.3 12.5 C136.96 11.54 136.98 10.9 134.2 10.5 C131.42 10.1 128.32 10.14 125.4 10.5 C122.48 10.86 121.92 12.16 119.6 12.3 C117.28 12.44 116.14 11.56 113.8 11.2 C111.46 10.84 110.16 10.7 107.9 10.5 C105.64 10.3 104.88 9.8 102.5 10.2 C100.12 10.6 99.14 11.38 96 12.5 C92.86 13.62 90.48 14.36 86.8 15.8 C83.12 17.24 81.28 18.26 77.6 19.7 C73.92 21.14 71.82 21.68 68.4 23 C64.98 24.32 63.66 24.32 60.5 26.3 C57.34 28.28 55.76 30.28 52.6 32.9 C49.44 35.52 47.6 36.78 44.7 39.4 C41.8 42.02 40.14 43.08 38.1 46 C36.06 48.92 35.54 50.4 34.5 54 C33.46 57.6 33.04 59.54 32.9 64 Z"/></clipPath>
<filter id="bl6" x="-50%" y="-50%" width="200%" height="200%"><feGaussianBlur stdDeviation="6"/></filter>
<filter id="bl3" x="-50%" y="-50%" width="200%" height="200%"><feGaussianBlur stdDeviation="3"/></filter>
<filter id="bl1" x="-20%" y="-20%" width="140%" height="140%"><feGaussianBlur stdDeviation="0.6"/></filter>
</defs>
<g clip-path="url(#brainclip)">
<path d="M32.9 64 C32.76 68.46 32.92 72.1 33.8 76.3 C34.68 80.5 35.2 81.86 37.3 85 C39.4 88.14 40.8 89.54 44.3 92 C47.8 94.46 50.6 95.54 54.8 97.3 C59 99.06 61.8 99.74 65.3 100.8 C68.8 101.86 70.2 101.2 72.3 102.6 C74.4 104 74.4 106.06 75.8 107.8 C77.2 109.54 77.2 109.9 79.3 111.3 C81.4 112.7 83.16 113.74 86.3 114.8 C89.44 115.86 91.5 116.42 95 116.6 C98.5 116.78 100.28 116.42 103.8 115.7 C107.32 114.98 109.44 114.4 112.6 113 C115.76 111.6 116.8 110.44 119.6 108.7 C122.4 106.96 123.44 105.88 126.6 104.3 C129.76 102.72 131.72 101.86 135.4 100.8 C139.08 99.74 141.88 100.42 145 99 C148.12 97.58 148.28 95.2 151 93.7 C153.72 92.2 155.76 91.72 158.6 91.5 C161.44 91.28 162.78 91.84 165.2 92.6 C167.62 93.36 168.52 94.32 170.7 95.3 C172.88 96.28 173.48 97.5 176.1 97.5 C178.72 97.5 181.38 96.06 183.8 95.3 C186.22 94.54 186.22 95.12 188.2 93.7 C190.18 92.28 192.06 90.18 193.7 88.2 C195.34 86.22 196.08 86.22 196.4 83.8 C196.72 81.38 196.06 79.82 195.3 76.1 C194.54 72.38 194.02 69.14 192.6 65.2 C191.18 61.26 189.96 59.68 188.2 56.4 C186.44 53.12 185.78 52.08 183.8 48.8 C181.82 45.52 180.34 42.76 178.3 40 C176.26 37.24 176 37.46 173.6 35 C171.2 32.54 169.22 30.32 166.3 27.7 C163.38 25.08 161.62 23.64 159 21.9 C156.38 20.16 155.82 20.32 153.2 19 C150.58 17.68 148.68 16.6 145.9 15.3 C143.12 14 141.64 13.46 139.3 12.5 C136.96 11.54 136.98 10.9 134.2 10.5 C131.42 10.1 128.32 10.14 125.4 10.5 C122.48 10.86 121.92 12.16 119.6 12.3 C117.28 12.44 116.14 11.56 113.8 11.2 C111.46 10.84 110.16 10.7 107.9 10.5 C105.64 10.3 104.88 9.8 102.5 10.2 C100.12 10.6 99.14 11.38 96 12.5 C92.86 13.62 90.48 14.36 86.8 15.8 C83.12 17.24 81.28 18.26 77.6 19.7 C73.92 21.14 71.82 21.68 68.4 23 C64.98 24.32 63.66 24.32 60.5 26.3 C57.34 28.28 55.76 30.28 52.6 32.9 C49.44 35.52 47.6 36.78 44.7 39.4 C41.8 42.02 40.14 43.08 38.1 46 C36.06 48.92 35.54 50.4 34.5 54 C33.46 57.6 33.04 59.54 32.9 64 Z" fill="#ead0cc"/>
<g filter="url(#bl3)"><rect x="28" y="3" width="5.6" height="5.6" fill="#9d9bb8"/><rect x="28" y="8" width="5.6" height="5.6" fill="#9a9ab8"/><rect x="28" y="13" width="5.6" height="5.6" fill="#9798b8"/><rect x="28" y="18" width="5.6" height="5.6" fill="#9397b8"/><rect x="28" y="23" width="5.6" height="5.6" fill="#9096b8"/><rect x="28" y="28" width="5.6" height="5.6" fill="#8d94b8"/><rect x="28" y="33" width="5.6" height="5.6" fill="#8b94b9"/><rect x="28" y="38" width="5.6" height="5.6" fill="#8b94b9"/><rect x="28" y="43" width="5.6" height="5.6" fill="#8c96ba"/><rect x="28" y="48" width="5.6" height="5.6" fill="#8c96bc"/><rect x="28" y="53" width="5.6" height="5.6" fill="#8a96bc"/><rect x="28" y="58" width="5.6" height="5.6" fill="#8996bd"/><rect x="28" y="63" width="5.6" height="5.6" fill="#8d98bd"/><rect x="28" y="68" width="5.6" height="5.6" fill="#989dbc"/><rect x="28" y="73" width="5.6" height="5.6" fill="#a7a4bb"/><rect x="28" y="78" width="5.6" height="5.6" fill="#b7abb8"/><rect x="28" y="83" width="5.6" height="5.6" fill="#c4b0b6"/><rect x="28" y="88" width="5.6" height="5.6" fill="#cbb2b4"/><rect x="28" y="93" width="5.6" height="5.6" fill="#ccb3b3"/><rect x="28" y="98" width="5.6" height="5.6" fill="#ccb2b2"/><rect x="28" y="103" width="5.6" height="5.6" fill="#cbb1b1"/><rect x="28" y="108" width="5.6" height="5.6" fill="#cbb0b1"/><rect x="28" y="113" width="5.6" height="5.6" fill="#cbb0b1"/><rect x="28" y="118" width="5.6" height="5.6" fill="#cbb0b1"/><rect x="33" y="3" width="5.6" height="5.6" fill="#9c9ab8"/><rect x="33" y="8" width="5.6" height="5.6" fill="#9899b8"/><rect x="33" y="13" width="5.6" height="5.6" fill="#9497b8"/><rect x="33" y="18" width="5.6" height="5.6" fill="#9095b8"/><rect x="33" y="23" width="5.6" height="5.6" fill="#8b93b8"/><rect x="33" y="28" width="5.6" height="5.6" fill="#8791b8"/><rect x="33" y="33" width="5.6" height="5.6" fill="#8490b8"/><rect x="33" y="38" width="5.6" height="5.6" fill="#8590b8"/><rect x="33" y="43" width="5.6" height="5.6" fill="#8793ba"/><rect x="33" y="48" width="5.6" height="5.6" fill="#8894bc"/><rect x="33" y="53" width="5.6" height="5.6" fill="#8594bd"/><rect x="33" y="58" width="5.6" height="5.6" fill="#8393bd"/><rect x="33" y="63" width="5.6" height="5.6" fill="#8695bd"/><rect x="33" y="68" width="5.6" height="5.6" fill="#939cbe"/><rect x="33" y="73" width="5.6" height="5.6" fill="#a3a3bd"/><rect x="33" y="78" width="5.6" height="5.6" fill="#b8acb9"/><rect x="33" y="83" width="5.6" height="5.6" fill="#ccb4b5"/><rect x="33" y="88" width="5.6" height="5.6" fill="#d1b6b4"/><rect x="33" y="93" width="5.6" height="5.6" fill="#d0b5b3"/><rect x="33" y="98" width="5.6" height="5.6" fill="#cfb3b1"/><rect x="33" y="103" width="5.6" height="5.6" fill="#ceb1b0"/><rect x="33" y="108" width="5.6" height="5.6" fill="#cdb1af"/><rect x="33" y="113" width="5.6" height="5.6" fill="#cdb0af"/><rect x="33" y="118" width="5.6" height="5.6" fill="#cdb0b0"/><rect x="38" y="3" width="5.6" height="5.6" fill="#9a99b8"/><rect x="38" y="8" width="5.6" height="5.6" fill="#9698b8"/><rect x="38" y="13" width="5.6" height="5.6" fill="#9296b8"/><rect x="38" y="18" width="5.6" height="5.6" fill="#8c93b8"/><rect x="38" y="23" width="5.6" height="5.6" fill="#8791b7"/><rect x="38" y="28" width="5.6" height="5.6" fill="#818eb7"/><rect x="38" y="33" width="5.6" height="5.6" fill="#7d8cb7"/><rect x="38" y="38" width="5.6" height="5.6" fill="#7d8cb7"/><rect x="38" y="43" width="5.6" height="5.6" fill="#818fb8"/><rect x="38" y="48" width="5.6" height="5.6" fill="#8693bb"/><rect x="38" y="53" width="5.6" height="5.6" fill="#8493bd"/><rect x="38" y="58" width="5.6" height="5.6" fill="#8192bd"/><rect x="38" y="63" width="5.6" height="5.6" fill="#8494be"/><rect x="38" y="68" width="5.6" height="5.6" fill="#949dbf"/><rect x="38" y="73" width="5.6" height="5.6" fill="#9ca1c0"/><rect x="38" y="78" width="5.6" height="5.6" fill="#b4aaba"/><rect x="38" y="83" width="5.6" height="5.6" fill="#d2b6b4"/><rect x="38" y="88" width="5.6" height="5.6" fill="#d5b7b3"/><rect x="38" y="93" width="5.6" height="5.6" fill="#d3b6b2"/><rect x="38" y="98" width="5.6" height="5.6" fill="#d1b3b0"/><rect x="38" y="103" width="5.6" height="5.6" fill="#d0b1ae"/><rect x="38" y="108" width="5.6" height="5.6" fill="#d0b0ad"/><rect x="38" y="113" width="5.6" height="5.6" fill="#cfb0ad"/><rect x="38" y="118" width="5.6" height="5.6" fill="#ceb0ae"/><rect x="43" y="3" width="5.6" height="5.6" fill="#9998b8"/><rect x="43" y="8" width="5.6" height="5.6" fill="#9497b8"/><rect x="43" y="13" width="5.6" height="5.6" fill="#9095b8"/><rect x="43" y="18" width="5.6" height="5.6" fill="#8a92b8"/><rect x="43" y="23" width="5.6" height="5.6" fill="#848fb7"/><rect x="43" y="28" width="5.6" height="5.6" fill="#7d8cb7"/><rect x="43" y="33" width="5.6" height="5.6" fill="#7989b6"/><rect x="43" y="38" width="5.6" height="5.6" fill="#7889b6"/><rect x="43" y="43" width="5.6" height="5.6" fill="#7b8bb7"/><rect x="43" y="48" width="5.6" height="5.6" fill="#8592ba"/><rect x="43" y="53" width="5.6" height="5.6" fill="#8895bd"/><rect x="43" y="58" width="5.6" height="5.6" fill="#8695bd"/><rect x="43" y="63" width="5.6" height="5.6" fill="#8c98be"/><rect x="43" y="68" width="5.6" height="5.6" fill="#979fc1"/><rect x="43" y="73" width="5.6" height="5.6" fill="#99a0c1"/><rect x="43" y="78" width="5.6" height="5.6" fill="#ada8bb"/><rect x="43" y="83" width="5.6" height="5.6" fill="#d0b5b3"/><rect x="43" y="88" width="5.6" height="5.6" fill="#d4b6b2"/><rect x="43" y="93" width="5.6" height="5.6" fill="#d4b4af"/><rect x="43" y="98" width="5.6" height="5.6" fill="#d4b2ac"/><rect x="43" y="103" width="5.6" height="5.6" fill="#d3b0aa"/><rect x="43" y="108" width="5.6" height="5.6" fill="#d2b0aa"/><rect x="43" y="113" width="5.6" height="5.6" fill="#d1afab"/><rect x="43" y="118" width="5.6" height="5.6" fill="#d0b0ac"/><rect x="48" y="3" width="5.6" height="5.6" fill="#9798b8"/><rect x="48" y="8" width="5.6" height="5.6" fill="#9396b8"/><rect x="48" y="13" width="5.6" height="5.6" fill="#8e94b8"/><rect x="48" y="18" width="5.6" height="5.6" fill="#8992b8"/><rect x="48" y="23" width="5.6" height="5.6" fill="#838fb7"/><rect x="48" y="28" width="5.6" height="5.6" fill="#7c8bb6"/><rect x="48" y="33" width="5.6" height="5.6" fill="#7789b6"/><rect x="48" y="38" width="5.6" height="5.6" fill="#7688b6"/><rect x="48" y="43" width="5.6" height="5.6" fill="#7a8ab6"/><rect x="48" y="48" width="5.6" height="5.6" fill="#8793ba"/><rect x="48" y="53" width="5.6" height="5.6" fill="#929abd"/><rect x="48" y="58" width="5.6" height="5.6" fill="#959cbe"/><rect x="48" y="63" width="5.6" height="5.6" fill="#999fbe"/><rect x="48" y="68" width="5.6" height="5.6" fill="#9da1bf"/><rect x="48" y="73" width="5.6" height="5.6" fill="#a2a3be"/><rect x="48" y="78" width="5.6" height="5.6" fill="#baaab5"/><rect x="48" y="83" width="5.6" height="5.6" fill="#d4b2aa"/><rect x="48" y="88" width="5.6" height="5.6" fill="#d9b3a8"/><rect x="48" y="93" width="5.6" height="5.6" fill="#d8b2a8"/><rect x="48" y="98" width="5.6" height="5.6" fill="#d7b0a5"/><rect x="48" y="103" width="5.6" height="5.6" fill="#d6aea4"/><rect x="48" y="108" width="5.6" height="5.6" fill="#d5aea5"/><rect x="48" y="113" width="5.6" height="5.6" fill="#d4afa7"/><rect x="48" y="118" width="5.6" height="5.6" fill="#d2afaa"/><rect x="53" y="3" width="5.6" height="5.6" fill="#9697b8"/><rect x="53" y="8" width="5.6" height="5.6" fill="#9195b8"/><rect x="53" y="13" width="5.6" height="5.6" fill="#8d94b8"/><rect x="53" y="18" width="5.6" height="5.6" fill="#8992b8"/><rect x="53" y="23" width="5.6" height="5.6" fill="#8590b8"/><rect x="53" y="28" width="5.6" height="5.6" fill="#808db7"/><rect x="53" y="33" width="5.6" height="5.6" fill="#7b8bb6"/><rect x="53" y="38" width="5.6" height="5.6" fill="#7a8ab6"/><rect x="53" y="43" width="5.6" height="5.6" fill="#7f8eb7"/><rect x="53" y="48" width="5.6" height="5.6" fill="#8f98bb"/><rect x="53" y="53" width="5.6" height="5.6" fill="#9ba0bf"/><rect x="53" y="58" width="5.6" height="5.6" fill="#9fa3c1"/><rect x="53" y="63" width="5.6" height="5.6" fill="#a1a4c0"/><rect x="53" y="68" width="5.6" height="5.6" fill="#a8a5bd"/><rect x="53" y="73" width="5.6" height="5.6" fill="#b5a9b7"/><rect x="53" y="78" width="5.6" height="5.6" fill="#ccafad"/><rect x="53" y="83" width="5.6" height="5.6" fill="#dbb3a6"/><rect x="53" y="88" width="5.6" height="5.6" fill="#dcb2a4"/><rect x="53" y="93" width="5.6" height="5.6" fill="#dcaf9f"/><rect x="53" y="98" width="5.6" height="5.6" fill="#dcab9b"/><rect x="53" y="103" width="5.6" height="5.6" fill="#daab9c"/><rect x="53" y="108" width="5.6" height="5.6" fill="#d8aca0"/><rect x="53" y="113" width="5.6" height="5.6" fill="#d6aea4"/><rect x="53" y="118" width="5.6" height="5.6" fill="#d4afa8"/><rect x="58" y="3" width="5.6" height="5.6" fill="#9596b7"/><rect x="58" y="8" width="5.6" height="5.6" fill="#8f94b8"/><rect x="58" y="13" width="5.6" height="5.6" fill="#8a92b9"/><rect x="58" y="18" width="5.6" height="5.6" fill="#8691b9"/><rect x="58" y="23" width="5.6" height="5.6" fill="#8490b9"/><rect x="58" y="28" width="5.6" height="5.6" fill="#8490b8"/><rect x="58" y="33" width="5.6" height="5.6" fill="#8390b8"/><rect x="58" y="38" width="5.6" height="5.6" fill="#8490b8"/><rect x="58" y="43" width="5.6" height="5.6" fill="#8c95ba"/><rect x="58" y="48" width="5.6" height="5.6" fill="#989ebd"/><rect x="58" y="53" width="5.6" height="5.6" fill="#9fa3c1"/><rect x="58" y="58" width="5.6" height="5.6" fill="#a0a5c2"/><rect x="58" y="63" width="5.6" height="5.6" fill="#a2a5c2"/><rect x="58" y="68" width="5.6" height="5.6" fill="#ada8bd"/><rect x="58" y="73" width="5.6" height="5.6" fill="#c0aeb5"/><rect x="58" y="78" width="5.6" height="5.6" fill="#d1b1ac"/><rect x="58" y="83" width="5.6" height="5.6" fill="#dab1a4"/><rect x="58" y="88" width="5.6" height="5.6" fill="#dead9c"/><rect x="58" y="93" width="5.6" height="5.6" fill="#e1a68e"/><rect x="58" y="98" width="5.6" height="5.6" fill="#e1a58d"/><rect x="58" y="103" width="5.6" height="5.6" fill="#dea893"/><rect x="58" y="108" width="5.6" height="5.6" fill="#dbab9b"/><rect x="58" y="113" width="5.6" height="5.6" fill="#d8ada1"/><rect x="58" y="118" width="5.6" height="5.6" fill="#d5afa7"/><rect x="63" y="3" width="5.6" height="5.6" fill="#9496b7"/><rect x="63" y="8" width="5.6" height="5.6" fill="#8d94b8"/><rect x="63" y="13" width="5.6" height="5.6" fill="#8691b9"/><rect x="63" y="18" width="5.6" height="5.6" fill="#818fb9"/><rect x="63" y="23" width="5.6" height="5.6" fill="#808fb9"/><rect x="63" y="28" width="5.6" height="5.6" fill="#8290b9"/><rect x="63" y="33" width="5.6" height="5.6" fill="#8792b9"/><rect x="63" y="38" width="5.6" height="5.6" fill="#8d96ba"/><rect x="63" y="43" width="5.6" height="5.6" fill="#949abb"/><rect x="63" y="48" width="5.6" height="5.6" fill="#9da0be"/><rect x="63" y="53" width="5.6" height="5.6" fill="#a2a4c1"/><rect x="63" y="58" width="5.6" height="5.6" fill="#a1a5c2"/><rect x="63" y="63" width="5.6" height="5.6" fill="#a4a6c1"/><rect x="63" y="68" width="5.6" height="5.6" fill="#b6acbd"/><rect x="63" y="73" width="5.6" height="5.6" fill="#cdb5b7"/><rect x="63" y="78" width="5.6" height="5.6" fill="#d8b7b0"/><rect x="63" y="83" width="5.6" height="5.6" fill="#dcb1a4"/><rect x="63" y="88" width="5.6" height="5.6" fill="#e1a68f"/><rect x="63" y="93" width="5.6" height="5.6" fill="#e5a184"/><rect x="63" y="98" width="5.6" height="5.6" fill="#e4a287"/><rect x="63" y="103" width="5.6" height="5.6" fill="#e0a690"/><rect x="63" y="108" width="5.6" height="5.6" fill="#dcaa99"/><rect x="63" y="113" width="5.6" height="5.6" fill="#d9ada0"/><rect x="63" y="118" width="5.6" height="5.6" fill="#d6b0a7"/><rect x="68" y="3" width="5.6" height="5.6" fill="#9496b7"/><rect x="68" y="8" width="5.6" height="5.6" fill="#8d93b8"/><rect x="68" y="13" width="5.6" height="5.6" fill="#8591b9"/><rect x="68" y="18" width="5.6" height="5.6" fill="#7f8fb9"/><rect x="68" y="23" width="5.6" height="5.6" fill="#7d8eb9"/><rect x="68" y="28" width="5.6" height="5.6" fill="#7f8fb9"/><rect x="68" y="33" width="5.6" height="5.6" fill="#8793ba"/><rect x="68" y="38" width="5.6" height="5.6" fill="#8d96bb"/><rect x="68" y="43" width="5.6" height="5.6" fill="#939abc"/><rect x="68" y="48" width="5.6" height="5.6" fill="#9ea0bd"/><rect x="68" y="53" width="5.6" height="5.6" fill="#a7a6bf"/><rect x="68" y="58" width="5.6" height="5.6" fill="#aaa8c0"/><rect x="68" y="63" width="5.6" height="5.6" fill="#b2acbf"/><rect x="68" y="68" width="5.6" height="5.6" fill="#c8b5bb"/><rect x="68" y="73" width="5.6" height="5.6" fill="#dcbeb8"/><rect x="68" y="78" width="5.6" height="5.6" fill="#e2bfb7"/><rect x="68" y="83" width="5.6" height="5.6" fill="#e0b9ae"/><rect x="68" y="88" width="5.6" height="5.6" fill="#e1aa96"/><rect x="68" y="93" width="5.6" height="5.6" fill="#e3a389"/><rect x="68" y="98" width="5.6" height="5.6" fill="#e3a48b"/><rect x="68" y="103" width="5.6" height="5.6" fill="#e0a792"/><rect x="68" y="108" width="5.6" height="5.6" fill="#ddaa99"/><rect x="68" y="113" width="5.6" height="5.6" fill="#d9aea1"/><rect x="68" y="118" width="5.6" height="5.6" fill="#d6b0a8"/><rect x="73" y="3" width="5.6" height="5.6" fill="#9696b7"/><rect x="73" y="8" width="5.6" height="5.6" fill="#9095b8"/><rect x="73" y="13" width="5.6" height="5.6" fill="#8892b9"/><rect x="73" y="18" width="5.6" height="5.6" fill="#818fb9"/><rect x="73" y="23" width="5.6" height="5.6" fill="#7f8eb9"/><rect x="73" y="28" width="5.6" height="5.6" fill="#8190ba"/><rect x="73" y="33" width="5.6" height="5.6" fill="#8994ba"/><rect x="73" y="38" width="5.6" height="5.6" fill="#8a95bb"/><rect x="73" y="43" width="5.6" height="5.6" fill="#8d97bc"/><rect x="73" y="48" width="5.6" height="5.6" fill="#9d9fbd"/><rect x="73" y="53" width="5.6" height="5.6" fill="#b0aabe"/><rect x="73" y="58" width="5.6" height="5.6" fill="#bbb0bf"/><rect x="73" y="63" width="5.6" height="5.6" fill="#c5b5be"/><rect x="73" y="68" width="5.6" height="5.6" fill="#d5bcbc"/><rect x="73" y="73" width="5.6" height="5.6" fill="#e1c1b9"/><rect x="73" y="78" width="5.6" height="5.6" fill="#e4c2b8"/><rect x="73" y="83" width="5.6" height="5.6" fill="#e2bfb5"/><rect x="73" y="88" width="5.6" height="5.6" fill="#dfb3a5"/><rect x="73" y="93" width="5.6" height="5.6" fill="#e0aa96"/><rect x="73" y="98" width="5.6" height="5.6" fill="#e1a791"/><rect x="73" y="103" width="5.6" height="5.6" fill="#e1a892"/><rect x="73" y="108" width="5.6" height="5.6" fill="#ddab99"/><rect x="73" y="113" width="5.6" height="5.6" fill="#d9afa2"/><rect x="73" y="118" width="5.6" height="5.6" fill="#d4b2ab"/><rect x="78" y="3" width="5.6" height="5.6" fill="#9897b7"/><rect x="78" y="8" width="5.6" height="5.6" fill="#9397b9"/><rect x="78" y="13" width="5.6" height="5.6" fill="#8f95b9"/><rect x="78" y="18" width="5.6" height="5.6" fill="#8993b9"/><rect x="78" y="23" width="5.6" height="5.6" fill="#8792b9"/><rect x="78" y="28" width="5.6" height="5.6" fill="#8a93b9"/><rect x="78" y="33" width="5.6" height="5.6" fill="#8b95bb"/><rect x="78" y="38" width="5.6" height="5.6" fill="#8894bb"/><rect x="78" y="43" width="5.6" height="5.6" fill="#8b96bc"/><rect x="78" y="48" width="5.6" height="5.6" fill="#a2a1bd"/><rect x="78" y="53" width="5.6" height="5.6" fill="#c0b2bf"/><rect x="78" y="58" width="5.6" height="5.6" fill="#cdb9c0"/><rect x="78" y="63" width="5.6" height="5.6" fill="#d1bcc0"/><rect x="78" y="68" width="5.6" height="5.6" fill="#d8bfbf"/><rect x="78" y="73" width="5.6" height="5.6" fill="#dfc1bc"/><rect x="78" y="78" width="5.6" height="5.6" fill="#e1c2bb"/><rect x="78" y="83" width="5.6" height="5.6" fill="#dec1bb"/><rect x="78" y="88" width="5.6" height="5.6" fill="#ddb9b0"/><rect x="78" y="93" width="5.6" height="5.6" fill="#e0ac9a"/><rect x="78" y="98" width="5.6" height="5.6" fill="#e3a68e"/><rect x="78" y="103" width="5.6" height="5.6" fill="#e2a690"/><rect x="78" y="108" width="5.6" height="5.6" fill="#ddab99"/><rect x="78" y="113" width="5.6" height="5.6" fill="#d6b1a7"/><rect x="78" y="118" width="5.6" height="5.6" fill="#d1b5b1"/><rect x="83" y="3" width="5.6" height="5.6" fill="#9898b8"/><rect x="83" y="8" width="5.6" height="5.6" fill="#9499bb"/><rect x="83" y="13" width="5.6" height="5.6" fill="#9299bc"/><rect x="83" y="18" width="5.6" height="5.6" fill="#9297ba"/><rect x="83" y="23" width="5.6" height="5.6" fill="#9496b7"/><rect x="83" y="28" width="5.6" height="5.6" fill="#9597b7"/><rect x="83" y="33" width="5.6" height="5.6" fill="#9297ba"/><rect x="83" y="38" width="5.6" height="5.6" fill="#8f97bb"/><rect x="83" y="43" width="5.6" height="5.6" fill="#989cbc"/><rect x="83" y="48" width="5.6" height="5.6" fill="#bbaebe"/><rect x="83" y="53" width="5.6" height="5.6" fill="#d8bec0"/><rect x="83" y="58" width="5.6" height="5.6" fill="#dec2c1"/><rect x="83" y="63" width="5.6" height="5.6" fill="#dbc2c3"/><rect x="83" y="68" width="5.6" height="5.6" fill="#d9c4c5"/><rect x="83" y="73" width="5.6" height="5.6" fill="#dac5c6"/><rect x="83" y="78" width="5.6" height="5.6" fill="#dac7c8"/><rect x="83" y="83" width="5.6" height="5.6" fill="#d8c8ca"/><rect x="83" y="88" width="5.6" height="5.6" fill="#d9c3c1"/><rect x="83" y="93" width="5.6" height="5.6" fill="#ddb3a5"/><rect x="83" y="98" width="5.6" height="5.6" fill="#e1a893"/><rect x="83" y="103" width="5.6" height="5.6" fill="#dfa995"/><rect x="83" y="108" width="5.6" height="5.6" fill="#d7b0a4"/><rect x="83" y="113" width="5.6" height="5.6" fill="#ceb7b4"/><rect x="83" y="118" width="5.6" height="5.6" fill="#cababc"/><rect x="88" y="3" width="5.6" height="5.6" fill="#9798b9"/><rect x="88" y="8" width="5.6" height="5.6" fill="#919abe"/><rect x="88" y="13" width="5.6" height="5.6" fill="#8f9ac0"/><rect x="88" y="18" width="5.6" height="5.6" fill="#9299bd"/><rect x="88" y="23" width="5.6" height="5.6" fill="#9b98b5"/><rect x="88" y="28" width="5.6" height="5.6" fill="#a298b2"/><rect x="88" y="33" width="5.6" height="5.6" fill="#a39bb5"/><rect x="88" y="38" width="5.6" height="5.6" fill="#a5a0b9"/><rect x="88" y="43" width="5.6" height="5.6" fill="#b6aabc"/><rect x="88" y="48" width="5.6" height="5.6" fill="#d4bbbf"/><rect x="88" y="53" width="5.6" height="5.6" fill="#e4c4c0"/><rect x="88" y="58" width="5.6" height="5.6" fill="#e5c5c0"/><rect x="88" y="63" width="5.6" height="5.6" fill="#e1c7c5"/><rect x="88" y="68" width="5.6" height="5.6" fill="#ddc9cb"/><rect x="88" y="73" width="5.6" height="5.6" fill="#d9cbcf"/><rect x="88" y="78" width="5.6" height="5.6" fill="#d7ccd1"/><rect x="88" y="83" width="5.6" height="5.6" fill="#d7ccd1"/><rect x="88" y="88" width="5.6" height="5.6" fill="#d7cace"/><rect x="88" y="93" width="5.6" height="5.6" fill="#d7c0be"/><rect x="88" y="98" width="5.6" height="5.6" fill="#d6b6ae"/><rect x="88" y="103" width="5.6" height="5.6" fill="#ceb8b5"/><rect x="88" y="108" width="5.6" height="5.6" fill="#c2bfc5"/><rect x="88" y="113" width="5.6" height="5.6" fill="#bec1cb"/><rect x="88" y="118" width="5.6" height="5.6" fill="#c0c1cb"/><rect x="93" y="3" width="5.6" height="5.6" fill="#9998b7"/><rect x="93" y="8" width="5.6" height="5.6" fill="#919abe"/><rect x="93" y="13" width="5.6" height="5.6" fill="#8e9bc1"/><rect x="93" y="18" width="5.6" height="5.6" fill="#9399bc"/><rect x="93" y="23" width="5.6" height="5.6" fill="#a394ac"/><rect x="93" y="28" width="5.6" height="5.6" fill="#ae96a7"/><rect x="93" y="33" width="5.6" height="5.6" fill="#b59dad"/><rect x="93" y="38" width="5.6" height="5.6" fill="#bca5b3"/><rect x="93" y="43" width="5.6" height="5.6" fill="#cab1ba"/><rect x="93" y="48" width="5.6" height="5.6" fill="#dbbec0"/><rect x="93" y="53" width="5.6" height="5.6" fill="#e4c5c1"/><rect x="93" y="58" width="5.6" height="5.6" fill="#e5c7c3"/><rect x="93" y="63" width="5.6" height="5.6" fill="#e4cdcb"/><rect x="93" y="68" width="5.6" height="5.6" fill="#e2d1d2"/><rect x="93" y="73" width="5.6" height="5.6" fill="#dbd0d5"/><rect x="93" y="78" width="5.6" height="5.6" fill="#d7d1d8"/><rect x="93" y="83" width="5.6" height="5.6" fill="#d6cfd6"/><rect x="93" y="88" width="5.6" height="5.6" fill="#d6cdd3"/><rect x="93" y="93" width="5.6" height="5.6" fill="#d2c8cd"/><rect x="93" y="98" width="5.6" height="5.6" fill="#c7c4cb"/><rect x="93" y="103" width="5.6" height="5.6" fill="#b6c7d8"/><rect x="93" y="108" width="5.6" height="5.6" fill="#b0cade"/><rect x="93" y="113" width="5.6" height="5.6" fill="#b2c9dc"/><rect x="93" y="118" width="5.6" height="5.6" fill="#b8c6d6"/><rect x="98" y="3" width="5.6" height="5.6" fill="#a194ae"/><rect x="98" y="8" width="5.6" height="5.6" fill="#9b96b3"/><rect x="98" y="13" width="5.6" height="5.6" fill="#9a95b1"/><rect x="98" y="18" width="5.6" height="5.6" fill="#a98d9e"/><rect x="98" y="23" width="5.6" height="5.6" fill="#b78990"/><rect x="98" y="28" width="5.6" height="5.6" fill="#bc8f96"/><rect x="98" y="33" width="5.6" height="5.6" fill="#c39aa1"/><rect x="98" y="38" width="5.6" height="5.6" fill="#caa4aa"/><rect x="98" y="43" width="5.6" height="5.6" fill="#d2b0b5"/><rect x="98" y="48" width="5.6" height="5.6" fill="#dcbdbf"/><rect x="98" y="53" width="5.6" height="5.6" fill="#e2c6c6"/><rect x="98" y="58" width="5.6" height="5.6" fill="#e6cecd"/><rect x="98" y="63" width="5.6" height="5.6" fill="#ead7d5"/><rect x="98" y="68" width="5.6" height="5.6" fill="#e9d8d7"/><rect x="98" y="73" width="5.6" height="5.6" fill="#ddd5d9"/><rect x="98" y="78" width="5.6" height="5.6" fill="#d6d4dd"/><rect x="98" y="83" width="5.6" height="5.6" fill="#d5d4dd"/><rect x="98" y="88" width="5.6" height="5.6" fill="#d4d1d9"/><rect x="98" y="93" width="5.6" height="5.6" fill="#ceccd5"/><rect x="98" y="98" width="5.6" height="5.6" fill="#bfc9d7"/><rect x="98" y="103" width="5.6" height="5.6" fill="#b0cae0"/><rect x="98" y="108" width="5.6" height="5.6" fill="#adcbe2"/><rect x="98" y="113" width="5.6" height="5.6" fill="#afcae0"/><rect x="98" y="118" width="5.6" height="5.6" fill="#b4c8db"/><rect x="103" y="3" width="5.6" height="5.6" fill="#af8f9f"/><rect x="103" y="8" width="5.6" height="5.6" fill="#b08c99"/><rect x="103" y="13" width="5.6" height="5.6" fill="#ba8488"/><rect x="103" y="18" width="5.6" height="5.6" fill="#c47d77"/><rect x="103" y="23" width="5.6" height="5.6" fill="#c57e78"/><rect x="103" y="28" width="5.6" height="5.6" fill="#c58988"/><rect x="103" y="33" width="5.6" height="5.6" fill="#cc9798"/><rect x="103" y="38" width="5.6" height="5.6" fill="#d29e9f"/><rect x="103" y="43" width="5.6" height="5.6" fill="#d7a8a9"/><rect x="103" y="48" width="5.6" height="5.6" fill="#debcbe"/><rect x="103" y="53" width="5.6" height="5.6" fill="#e5cbcc"/><rect x="103" y="58" width="5.6" height="5.6" fill="#e8d1d2"/><rect x="103" y="63" width="5.6" height="5.6" fill="#ebd9d7"/><rect x="103" y="68" width="5.6" height="5.6" fill="#e9dad9"/><rect x="103" y="73" width="5.6" height="5.6" fill="#dad8df"/><rect x="103" y="78" width="5.6" height="5.6" fill="#d5d6df"/><rect x="103" y="83" width="5.6" height="5.6" fill="#d4d4de"/><rect x="103" y="88" width="5.6" height="5.6" fill="#d2d2db"/><rect x="103" y="93" width="5.6" height="5.6" fill="#cbced9"/><rect x="103" y="98" width="5.6" height="5.6" fill="#c0cbda"/><rect x="103" y="103" width="5.6" height="5.6" fill="#b4cbdf"/><rect x="103" y="108" width="5.6" height="5.6" fill="#afcbe1"/><rect x="103" y="113" width="5.6" height="5.6" fill="#b1cadf"/><rect x="103" y="118" width="5.6" height="5.6" fill="#b6c8db"/><rect x="108" y="3" width="5.6" height="5.6" fill="#bb8a92"/><rect x="108" y="8" width="5.6" height="5.6" fill="#bf8689"/><rect x="108" y="13" width="5.6" height="5.6" fill="#c4807d"/><rect x="108" y="18" width="5.6" height="5.6" fill="#c67c74"/><rect x="108" y="23" width="5.6" height="5.6" fill="#c77e77"/><rect x="108" y="28" width="5.6" height="5.6" fill="#c98a87"/><rect x="108" y="33" width="5.6" height="5.6" fill="#d29695"/><rect x="108" y="38" width="5.6" height="5.6" fill="#d69895"/><rect x="108" y="43" width="5.6" height="5.6" fill="#d79e9c"/><rect x="108" y="48" width="5.6" height="5.6" fill="#e0bbbc"/><rect x="108" y="53" width="5.6" height="5.6" fill="#e9ced1"/><rect x="108" y="58" width="5.6" height="5.6" fill="#e9d1d3"/><rect x="108" y="63" width="5.6" height="5.6" fill="#e5d4d7"/><rect x="108" y="68" width="5.6" height="5.6" fill="#dbd9df"/><rect x="108" y="73" width="5.6" height="5.6" fill="#d2dce6"/><rect x="108" y="78" width="5.6" height="5.6" fill="#d1d9e4"/><rect x="108" y="83" width="5.6" height="5.6" fill="#d0d5e0"/><rect x="108" y="88" width="5.6" height="5.6" fill="#cdd2de"/><rect x="108" y="93" width="5.6" height="5.6" fill="#c7cfdd"/><rect x="108" y="98" width="5.6" height="5.6" fill="#c1cddd"/><rect x="108" y="103" width="5.6" height="5.6" fill="#bbccdd"/><rect x="108" y="108" width="5.6" height="5.6" fill="#b7cadd"/><rect x="108" y="113" width="5.6" height="5.6" fill="#b7c9dc"/><rect x="108" y="118" width="5.6" height="5.6" fill="#bac8d9"/><rect x="113" y="3" width="5.6" height="5.6" fill="#c3888c"/><rect x="113" y="8" width="5.6" height="5.6" fill="#c68483"/><rect x="113" y="13" width="5.6" height="5.6" fill="#c9817d"/><rect x="113" y="18" width="5.6" height="5.6" fill="#c9817b"/><rect x="113" y="23" width="5.6" height="5.6" fill="#c9837f"/><rect x="113" y="28" width="5.6" height="5.6" fill="#cc8e8d"/><rect x="113" y="33" width="5.6" height="5.6" fill="#d49796"/><rect x="113" y="38" width="5.6" height="5.6" fill="#d69794"/><rect x="113" y="43" width="5.6" height="5.6" fill="#d79c99"/><rect x="113" y="48" width="5.6" height="5.6" fill="#dfb6b8"/><rect x="113" y="53" width="5.6" height="5.6" fill="#e7cccf"/><rect x="113" y="58" width="5.6" height="5.6" fill="#e8cfd2"/><rect x="113" y="63" width="5.6" height="5.6" fill="#e0d1d7"/><rect x="113" y="68" width="5.6" height="5.6" fill="#d7d7e0"/><rect x="113" y="73" width="5.6" height="5.6" fill="#d1dae5"/><rect x="113" y="78" width="5.6" height="5.6" fill="#ced7e4"/><rect x="113" y="83" width="5.6" height="5.6" fill="#cdd6e2"/><rect x="113" y="88" width="5.6" height="5.6" fill="#c8d3e0"/><rect x="113" y="93" width="5.6" height="5.6" fill="#c0d1e1"/><rect x="113" y="98" width="5.6" height="5.6" fill="#bdd0e1"/><rect x="113" y="103" width="5.6" height="5.6" fill="#bdcedf"/><rect x="113" y="108" width="5.6" height="5.6" fill="#bdcbdc"/><rect x="113" y="113" width="5.6" height="5.6" fill="#bdc9da"/><rect x="113" y="118" width="5.6" height="5.6" fill="#bec7d8"/><rect x="118" y="3" width="5.6" height="5.6" fill="#c6878a"/><rect x="118" y="8" width="5.6" height="5.6" fill="#ca8381"/><rect x="118" y="13" width="5.6" height="5.6" fill="#cc817a"/><rect x="118" y="18" width="5.6" height="5.6" fill="#cc817b"/><rect x="118" y="23" width="5.6" height="5.6" fill="#cb8684"/><rect x="118" y="28" width="5.6" height="5.6" fill="#cd9093"/><rect x="118" y="33" width="5.6" height="5.6" fill="#d39a9c"/><rect x="118" y="38" width="5.6" height="5.6" fill="#d79e9f"/><rect x="118" y="43" width="5.6" height="5.6" fill="#d9a6ab"/><rect x="118" y="48" width="5.6" height="5.6" fill="#ddb2ba"/><rect x="118" y="53" width="5.6" height="5.6" fill="#e0c0c7"/><rect x="118" y="58" width="5.6" height="5.6" fill="#e1cad1"/><rect x="118" y="63" width="5.6" height="5.6" fill="#decfd8"/><rect x="118" y="68" width="5.6" height="5.6" fill="#dad3dd"/><rect x="118" y="73" width="5.6" height="5.6" fill="#d3d5e1"/><rect x="118" y="78" width="5.6" height="5.6" fill="#ced6e3"/><rect x="118" y="83" width="5.6" height="5.6" fill="#ccd5e2"/><rect x="118" y="88" width="5.6" height="5.6" fill="#c4d2e1"/><rect x="118" y="93" width="5.6" height="5.6" fill="#bbd1e3"/><rect x="118" y="98" width="5.6" height="5.6" fill="#bad1e3"/><rect x="118" y="103" width="5.6" height="5.6" fill="#bccfe1"/><rect x="118" y="108" width="5.6" height="5.6" fill="#bfccdd"/><rect x="118" y="113" width="5.6" height="5.6" fill="#c0c9da"/><rect x="118" y="118" width="5.6" height="5.6" fill="#c1c7d7"/><rect x="123" y="3" width="5.6" height="5.6" fill="#c7888f"/><rect x="123" y="8" width="5.6" height="5.6" fill="#c98587"/><rect x="123" y="13" width="5.6" height="5.6" fill="#cb8280"/><rect x="123" y="18" width="5.6" height="5.6" fill="#cb8381"/><rect x="123" y="23" width="5.6" height="5.6" fill="#ca888c"/><rect x="123" y="28" width="5.6" height="5.6" fill="#cd929a"/><rect x="123" y="33" width="5.6" height="5.6" fill="#d39ea7"/><rect x="123" y="38" width="5.6" height="5.6" fill="#d9a7b2"/><rect x="123" y="43" width="5.6" height="5.6" fill="#dcadbb"/><rect x="123" y="48" width="5.6" height="5.6" fill="#ddafbd"/><rect x="123" y="53" width="5.6" height="5.6" fill="#ddb8c3"/><rect x="123" y="58" width="5.6" height="5.6" fill="#ddc7d1"/><rect x="123" y="63" width="5.6" height="5.6" fill="#e0d0db"/><rect x="123" y="68" width="5.6" height="5.6" fill="#e1d3dd"/><rect x="123" y="73" width="5.6" height="5.6" fill="#d9d3de"/><rect x="123" y="78" width="5.6" height="5.6" fill="#d0d3e0"/><rect x="123" y="83" width="5.6" height="5.6" fill="#cbd3e1"/><rect x="123" y="88" width="5.6" height="5.6" fill="#c3d1e1"/><rect x="123" y="93" width="5.6" height="5.6" fill="#bcd1e2"/><rect x="123" y="98" width="5.6" height="5.6" fill="#bbd1e2"/><rect x="123" y="103" width="5.6" height="5.6" fill="#bdcfe0"/><rect x="123" y="108" width="5.6" height="5.6" fill="#c0ccdd"/><rect x="123" y="113" width="5.6" height="5.6" fill="#c2c9d9"/><rect x="123" y="118" width="5.6" height="5.6" fill="#c3c6d6"/><rect x="128" y="3" width="5.6" height="5.6" fill="#c68a98"/><rect x="128" y="8" width="5.6" height="5.6" fill="#c68998"/><rect x="128" y="13" width="5.6" height="5.6" fill="#c58a9b"/><rect x="128" y="18" width="5.6" height="5.6" fill="#c58a9c"/><rect x="128" y="23" width="5.6" height="5.6" fill="#c78c9d"/><rect x="128" y="28" width="5.6" height="5.6" fill="#cb94a5"/><rect x="128" y="33" width="5.6" height="5.6" fill="#d19eaf"/><rect x="128" y="38" width="5.6" height="5.6" fill="#d8a9b8"/><rect x="128" y="43" width="5.6" height="5.6" fill="#dcaebd"/><rect x="128" y="48" width="5.6" height="5.6" fill="#ddafbe"/><rect x="128" y="53" width="5.6" height="5.6" fill="#dbb5c3"/><rect x="128" y="58" width="5.6" height="5.6" fill="#dcc5d1"/><rect x="128" y="63" width="5.6" height="5.6" fill="#dfd0db"/><rect x="128" y="68" width="5.6" height="5.6" fill="#e0d3dd"/><rect x="128" y="73" width="5.6" height="5.6" fill="#d5d3e0"/><rect x="128" y="78" width="5.6" height="5.6" fill="#ced3e1"/><rect x="128" y="83" width="5.6" height="5.6" fill="#c9d1e0"/><rect x="128" y="88" width="5.6" height="5.6" fill="#c4cfe0"/><rect x="128" y="93" width="5.6" height="5.6" fill="#c0cfe0"/><rect x="128" y="98" width="5.6" height="5.6" fill="#bfcee0"/><rect x="128" y="103" width="5.6" height="5.6" fill="#c0cdde"/><rect x="128" y="108" width="5.6" height="5.6" fill="#c2cadb"/><rect x="128" y="113" width="5.6" height="5.6" fill="#c4c7d8"/><rect x="128" y="118" width="5.6" height="5.6" fill="#c5c4d5"/><rect x="133" y="3" width="5.6" height="5.6" fill="#c58c9f"/><rect x="133" y="8" width="5.6" height="5.6" fill="#c48ca1"/><rect x="133" y="13" width="5.6" height="5.6" fill="#c38ca4"/><rect x="133" y="18" width="5.6" height="5.6" fill="#c38ca4"/><rect x="133" y="23" width="5.6" height="5.6" fill="#c58ea8"/><rect x="133" y="28" width="5.6" height="5.6" fill="#c894b1"/><rect x="133" y="33" width="5.6" height="5.6" fill="#cc9bb5"/><rect x="133" y="38" width="5.6" height="5.6" fill="#d3a4b9"/><rect x="133" y="43" width="5.6" height="5.6" fill="#d9abbc"/><rect x="133" y="48" width="5.6" height="5.6" fill="#daafbf"/><rect x="133" y="53" width="5.6" height="5.6" fill="#d9b5c5"/><rect x="133" y="58" width="5.6" height="5.6" fill="#d8c1d0"/><rect x="133" y="63" width="5.6" height="5.6" fill="#d9cbd9"/><rect x="133" y="68" width="5.6" height="5.6" fill="#d5d1de"/><rect x="133" y="73" width="5.6" height="5.6" fill="#cdd5e3"/><rect x="133" y="78" width="5.6" height="5.6" fill="#cbd5e3"/><rect x="133" y="83" width="5.6" height="5.6" fill="#c5d0e1"/><rect x="133" y="88" width="5.6" height="5.6" fill="#c0d0e2"/><rect x="133" y="93" width="5.6" height="5.6" fill="#c1cee0"/><rect x="133" y="98" width="5.6" height="5.6" fill="#c2ccde"/><rect x="133" y="103" width="5.6" height="5.6" fill="#c3c9db"/><rect x="133" y="108" width="5.6" height="5.6" fill="#c4c7d9"/><rect x="133" y="113" width="5.6" height="5.6" fill="#c5c4d6"/><rect x="133" y="118" width="5.6" height="5.6" fill="#c6c2d4"/><rect x="138" y="3" width="5.6" height="5.6" fill="#c58ea3"/><rect x="138" y="8" width="5.6" height="5.6" fill="#c48da4"/><rect x="138" y="13" width="5.6" height="5.6" fill="#c38ca5"/><rect x="138" y="18" width="5.6" height="5.6" fill="#c48da9"/><rect x="138" y="23" width="5.6" height="5.6" fill="#c591b5"/><rect x="138" y="28" width="5.6" height="5.6" fill="#c694bd"/><rect x="138" y="33" width="5.6" height="5.6" fill="#c896bc"/><rect x="138" y="38" width="5.6" height="5.6" fill="#cd9dbb"/><rect x="138" y="43" width="5.6" height="5.6" fill="#d2a4bd"/><rect x="138" y="48" width="5.6" height="5.6" fill="#d4abc0"/><rect x="138" y="53" width="5.6" height="5.6" fill="#d5b2c5"/><rect x="138" y="58" width="5.6" height="5.6" fill="#d4bbcd"/><rect x="138" y="63" width="5.6" height="5.6" fill="#d3c3d4"/><rect x="138" y="68" width="5.6" height="5.6" fill="#d0cadb"/><rect x="138" y="73" width="5.6" height="5.6" fill="#ccd0e0"/><rect x="138" y="78" width="5.6" height="5.6" fill="#c8d0e0"/><rect x="138" y="83" width="5.6" height="5.6" fill="#c2cee1"/><rect x="138" y="88" width="5.6" height="5.6" fill="#bfd0e2"/><rect x="138" y="93" width="5.6" height="5.6" fill="#c0cee0"/><rect x="138" y="98" width="5.6" height="5.6" fill="#c3c9dc"/><rect x="138" y="103" width="5.6" height="5.6" fill="#c5c5d8"/><rect x="138" y="108" width="5.6" height="5.6" fill="#c6c3d6"/><rect x="138" y="113" width="5.6" height="5.6" fill="#c7c1d4"/><rect x="138" y="118" width="5.6" height="5.6" fill="#c8bfd2"/><rect x="143" y="3" width="5.6" height="5.6" fill="#c58fa7"/><rect x="143" y="8" width="5.6" height="5.6" fill="#c58fa8"/><rect x="143" y="13" width="5.6" height="5.6" fill="#c58fab"/><rect x="143" y="18" width="5.6" height="5.6" fill="#c591b3"/><rect x="143" y="23" width="5.6" height="5.6" fill="#c693be"/><rect x="143" y="28" width="5.6" height="5.6" fill="#c693c1"/><rect x="143" y="33" width="5.6" height="5.6" fill="#c694bf"/><rect x="143" y="38" width="5.6" height="5.6" fill="#c897bd"/><rect x="143" y="43" width="5.6" height="5.6" fill="#cb9cbd"/><rect x="143" y="48" width="5.6" height="5.6" fill="#cfa2bf"/><rect x="143" y="53" width="5.6" height="5.6" fill="#d0aac3"/><rect x="143" y="58" width="5.6" height="5.6" fill="#d1b2c8"/><rect x="143" y="63" width="5.6" height="5.6" fill="#d0b8cd"/><rect x="143" y="68" width="5.6" height="5.6" fill="#cebbd0"/><rect x="143" y="73" width="5.6" height="5.6" fill="#ccbdd3"/><rect x="143" y="78" width="5.6" height="5.6" fill="#c6c5d9"/><rect x="143" y="83" width="5.6" height="5.6" fill="#c1cce0"/><rect x="143" y="88" width="5.6" height="5.6" fill="#c1cbdf"/><rect x="143" y="93" width="5.6" height="5.6" fill="#c3c8db"/><rect x="143" y="98" width="5.6" height="5.6" fill="#c6c3d7"/><rect x="143" y="103" width="5.6" height="5.6" fill="#c7c0d4"/><rect x="143" y="108" width="5.6" height="5.6" fill="#c8bed2"/><rect x="143" y="113" width="5.6" height="5.6" fill="#c9bcd0"/><rect x="143" y="118" width="5.6" height="5.6" fill="#c9bbcf"/><rect x="148" y="3" width="5.6" height="5.6" fill="#c691ab"/><rect x="148" y="8" width="5.6" height="5.6" fill="#c691ad"/><rect x="148" y="13" width="5.6" height="5.6" fill="#c691b1"/><rect x="148" y="18" width="5.6" height="5.6" fill="#c692b8"/><rect x="148" y="23" width="5.6" height="5.6" fill="#c693be"/><rect x="148" y="28" width="5.6" height="5.6" fill="#c693c0"/><rect x="148" y="33" width="5.6" height="5.6" fill="#c592be"/><rect x="148" y="38" width="5.6" height="5.6" fill="#c591bc"/><rect x="148" y="43" width="5.6" height="5.6" fill="#c793bc"/><rect x="148" y="48" width="5.6" height="5.6" fill="#ca99bd"/><rect x="148" y="53" width="5.6" height="5.6" fill="#cda0bf"/><rect x="148" y="58" width="5.6" height="5.6" fill="#cfa7c3"/><rect x="148" y="63" width="5.6" height="5.6" fill="#cfabc6"/><rect x="148" y="68" width="5.6" height="5.6" fill="#cfaac5"/><rect x="148" y="73" width="5.6" height="5.6" fill="#cfa6c2"/><rect x="148" y="78" width="5.6" height="5.6" fill="#ccaec8"/><rect x="148" y="83" width="5.6" height="5.6" fill="#c5c2d7"/><rect x="148" y="88" width="5.6" height="5.6" fill="#c7c0d5"/><rect x="148" y="93" width="5.6" height="5.6" fill="#c9bdd1"/><rect x="148" y="98" width="5.6" height="5.6" fill="#cabcd0"/><rect x="148" y="103" width="5.6" height="5.6" fill="#cabacf"/><rect x="148" y="108" width="5.6" height="5.6" fill="#cab9ce"/><rect x="148" y="113" width="5.6" height="5.6" fill="#cbb7cd"/><rect x="148" y="118" width="5.6" height="5.6" fill="#cbb6cc"/><rect x="153" y="3" width="5.6" height="5.6" fill="#c692af"/><rect x="153" y="8" width="5.6" height="5.6" fill="#c692b1"/><rect x="153" y="13" width="5.6" height="5.6" fill="#c692b5"/><rect x="153" y="18" width="5.6" height="5.6" fill="#c692b9"/><rect x="153" y="23" width="5.6" height="5.6" fill="#c592bc"/><rect x="153" y="28" width="5.6" height="5.6" fill="#c490bd"/><rect x="153" y="33" width="5.6" height="5.6" fill="#c28dbc"/><rect x="153" y="38" width="5.6" height="5.6" fill="#c18bbc"/><rect x="153" y="43" width="5.6" height="5.6" fill="#c38dbb"/><rect x="153" y="48" width="5.6" height="5.6" fill="#c891bb"/><rect x="153" y="53" width="5.6" height="5.6" fill="#cc95bb"/><rect x="153" y="58" width="5.6" height="5.6" fill="#ce9bbd"/><rect x="153" y="63" width="5.6" height="5.6" fill="#d0a1bf"/><rect x="153" y="68" width="5.6" height="5.6" fill="#d0a3bf"/><rect x="153" y="73" width="5.6" height="5.6" fill="#d1a0be"/><rect x="153" y="78" width="5.6" height="5.6" fill="#d0a3bf"/><rect x="153" y="83" width="5.6" height="5.6" fill="#ccb1c9"/><rect x="153" y="88" width="5.6" height="5.6" fill="#ccb8cc"/><rect x="153" y="93" width="5.6" height="5.6" fill="#ccb8cc"/><rect x="153" y="98" width="5.6" height="5.6" fill="#cdb6cc"/><rect x="153" y="103" width="5.6" height="5.6" fill="#cdb4ca"/><rect x="153" y="108" width="5.6" height="5.6" fill="#cdb3ca"/><rect x="153" y="113" width="5.6" height="5.6" fill="#cdb2c9"/><rect x="153" y="118" width="5.6" height="5.6" fill="#cdb2c8"/><rect x="158" y="3" width="5.6" height="5.6" fill="#c793b2"/><rect x="158" y="8" width="5.6" height="5.6" fill="#c792b4"/><rect x="158" y="13" width="5.6" height="5.6" fill="#c792b6"/><rect x="158" y="18" width="5.6" height="5.6" fill="#c692b9"/><rect x="158" y="23" width="5.6" height="5.6" fill="#c590bb"/><rect x="158" y="28" width="5.6" height="5.6" fill="#c38ebc"/><rect x="158" y="33" width="5.6" height="5.6" fill="#c18bbc"/><rect x="158" y="38" width="5.6" height="5.6" fill="#c08abb"/><rect x="158" y="43" width="5.6" height="5.6" fill="#c28bbb"/><rect x="158" y="48" width="5.6" height="5.6" fill="#c88cb9"/><rect x="158" y="53" width="5.6" height="5.6" fill="#cc8cb7"/><rect x="158" y="58" width="5.6" height="5.6" fill="#cf8fb7"/><rect x="158" y="63" width="5.6" height="5.6" fill="#d095b9"/><rect x="158" y="68" width="5.6" height="5.6" fill="#d19cbb"/><rect x="158" y="73" width="5.6" height="5.6" fill="#d19fbd"/><rect x="158" y="78" width="5.6" height="5.6" fill="#d1a1be"/><rect x="158" y="83" width="5.6" height="5.6" fill="#d2a5c0"/><rect x="158" y="88" width="5.6" height="5.6" fill="#d0aec5"/><rect x="158" y="93" width="5.6" height="5.6" fill="#cfb1c7"/><rect x="158" y="98" width="5.6" height="5.6" fill="#d0aec6"/><rect x="158" y="103" width="5.6" height="5.6" fill="#d0acc5"/><rect x="158" y="108" width="5.6" height="5.6" fill="#cfacc4"/><rect x="158" y="113" width="5.6" height="5.6" fill="#cfacc4"/><rect x="158" y="118" width="5.6" height="5.6" fill="#ceacc5"/><rect x="163" y="3" width="5.6" height="5.6" fill="#c793b4"/><rect x="163" y="8" width="5.6" height="5.6" fill="#c793b6"/><rect x="163" y="13" width="5.6" height="5.6" fill="#c792b8"/><rect x="163" y="18" width="5.6" height="5.6" fill="#c791ba"/><rect x="163" y="23" width="5.6" height="5.6" fill="#c690bb"/><rect x="163" y="28" width="5.6" height="5.6" fill="#c58ebc"/><rect x="163" y="33" width="5.6" height="5.6" fill="#c38dbc"/><rect x="163" y="38" width="5.6" height="5.6" fill="#c28bbb"/><rect x="163" y="43" width="5.6" height="5.6" fill="#c68aba"/><rect x="163" y="48" width="5.6" height="5.6" fill="#cb88b6"/><rect x="163" y="53" width="5.6" height="5.6" fill="#cd86b4"/><rect x="163" y="58" width="5.6" height="5.6" fill="#cf85b1"/><rect x="163" y="63" width="5.6" height="5.6" fill="#d187b0"/><rect x="163" y="68" width="5.6" height="5.6" fill="#d38eb2"/><rect x="163" y="73" width="5.6" height="5.6" fill="#d493b5"/><rect x="163" y="78" width="5.6" height="5.6" fill="#d793b4"/><rect x="163" y="83" width="5.6" height="5.6" fill="#dc8dae"/><rect x="163" y="88" width="5.6" height="5.6" fill="#de8bac"/><rect x="163" y="93" width="5.6" height="5.6" fill="#da94b2"/><rect x="163" y="98" width="5.6" height="5.6" fill="#d69cb9"/><rect x="163" y="103" width="5.6" height="5.6" fill="#d3a1bc"/><rect x="163" y="108" width="5.6" height="5.6" fill="#d2a3be"/><rect x="163" y="113" width="5.6" height="5.6" fill="#d1a5bf"/><rect x="163" y="118" width="5.6" height="5.6" fill="#d0a7c0"/><rect x="168" y="3" width="5.6" height="5.6" fill="#c893b5"/><rect x="168" y="8" width="5.6" height="5.6" fill="#c893b7"/><rect x="168" y="13" width="5.6" height="5.6" fill="#c892b9"/><rect x="168" y="18" width="5.6" height="5.6" fill="#c791bb"/><rect x="168" y="23" width="5.6" height="5.6" fill="#c791bc"/><rect x="168" y="28" width="5.6" height="5.6" fill="#c791be"/><rect x="168" y="33" width="5.6" height="5.6" fill="#c791bf"/><rect x="168" y="38" width="5.6" height="5.6" fill="#c790be"/><rect x="168" y="43" width="5.6" height="5.6" fill="#ca8bb9"/><rect x="168" y="48" width="5.6" height="5.6" fill="#cd86b5"/><rect x="168" y="53" width="5.6" height="5.6" fill="#cd84b3"/><rect x="168" y="58" width="5.6" height="5.6" fill="#d17dac"/><rect x="168" y="63" width="5.6" height="5.6" fill="#d47aa8"/><rect x="168" y="68" width="5.6" height="5.6" fill="#d57ca6"/><rect x="168" y="73" width="5.6" height="5.6" fill="#d780a8"/><rect x="168" y="78" width="5.6" height="5.6" fill="#db84a8"/><rect x="168" y="83" width="5.6" height="5.6" fill="#e182a6"/><rect x="168" y="88" width="5.6" height="5.6" fill="#e281a5"/><rect x="168" y="93" width="5.6" height="5.6" fill="#e085a8"/><rect x="168" y="98" width="5.6" height="5.6" fill="#db8eae"/><rect x="168" y="103" width="5.6" height="5.6" fill="#d795b4"/><rect x="168" y="108" width="5.6" height="5.6" fill="#d49ab8"/><rect x="168" y="113" width="5.6" height="5.6" fill="#d29eba"/><rect x="168" y="118" width="5.6" height="5.6" fill="#d1a1bc"/><rect x="173" y="3" width="5.6" height="5.6" fill="#c893b6"/><rect x="173" y="8" width="5.6" height="5.6" fill="#c892b8"/><rect x="173" y="13" width="5.6" height="5.6" fill="#c892b9"/><rect x="173" y="18" width="5.6" height="5.6" fill="#c891bb"/><rect x="173" y="23" width="5.6" height="5.6" fill="#c891bd"/><rect x="173" y="28" width="5.6" height="5.6" fill="#c892bf"/><rect x="173" y="33" width="5.6" height="5.6" fill="#c893c1"/><rect x="173" y="38" width="5.6" height="5.6" fill="#c892c0"/><rect x="173" y="43" width="5.6" height="5.6" fill="#ca8cba"/><rect x="173" y="48" width="5.6" height="5.6" fill="#ce84b3"/><rect x="173" y="53" width="5.6" height="5.6" fill="#d07dad"/><rect x="173" y="58" width="5.6" height="5.6" fill="#d572a3"/><rect x="173" y="63" width="5.6" height="5.6" fill="#d670a0"/><rect x="173" y="68" width="5.6" height="5.6" fill="#d96b9a"/><rect x="173" y="73" width="5.6" height="5.6" fill="#da6c99"/><rect x="173" y="78" width="5.6" height="5.6" fill="#db749d"/><rect x="173" y="83" width="5.6" height="5.6" fill="#df7ba1"/><rect x="173" y="88" width="5.6" height="5.6" fill="#e17ea3"/><rect x="173" y="93" width="5.6" height="5.6" fill="#df81a5"/><rect x="173" y="98" width="5.6" height="5.6" fill="#dc86a9"/><rect x="173" y="103" width="5.6" height="5.6" fill="#d88cae"/><rect x="173" y="108" width="5.6" height="5.6" fill="#d692b2"/><rect x="173" y="113" width="5.6" height="5.6" fill="#d497b6"/><rect x="173" y="118" width="5.6" height="5.6" fill="#d29bb8"/><rect x="178" y="3" width="5.6" height="5.6" fill="#c993b7"/><rect x="178" y="8" width="5.6" height="5.6" fill="#c992b8"/><rect x="178" y="13" width="5.6" height="5.6" fill="#c992b9"/><rect x="178" y="18" width="5.6" height="5.6" fill="#c991bb"/><rect x="178" y="23" width="5.6" height="5.6" fill="#c891bd"/><rect x="178" y="28" width="5.6" height="5.6" fill="#c892bf"/><rect x="178" y="33" width="5.6" height="5.6" fill="#c892c0"/><rect x="178" y="38" width="5.6" height="5.6" fill="#c891bf"/><rect x="178" y="43" width="5.6" height="5.6" fill="#cb8bb9"/><rect x="178" y="48" width="5.6" height="5.6" fill="#d080af"/><rect x="178" y="53" width="5.6" height="5.6" fill="#d475a5"/><rect x="178" y="58" width="5.6" height="5.6" fill="#d66fa1"/><rect x="178" y="63" width="5.6" height="5.6" fill="#d8699a"/><rect x="178" y="68" width="5.6" height="5.6" fill="#dc5d8e"/><rect x="178" y="73" width="5.6" height="5.6" fill="#dc5d8e"/><rect x="178" y="78" width="5.6" height="5.6" fill="#db6391"/><rect x="178" y="83" width="5.6" height="5.6" fill="#db6491"/><rect x="178" y="88" width="5.6" height="5.6" fill="#dc6a96"/><rect x="178" y="93" width="5.6" height="5.6" fill="#dc749c"/><rect x="178" y="98" width="5.6" height="5.6" fill="#da7ca2"/><rect x="178" y="103" width="5.6" height="5.6" fill="#d884a8"/><rect x="178" y="108" width="5.6" height="5.6" fill="#d68bad"/><rect x="178" y="113" width="5.6" height="5.6" fill="#d491b1"/><rect x="178" y="118" width="5.6" height="5.6" fill="#d396b5"/><rect x="183" y="3" width="5.6" height="5.6" fill="#c993b7"/><rect x="183" y="8" width="5.6" height="5.6" fill="#c992b8"/><rect x="183" y="13" width="5.6" height="5.6" fill="#c991b9"/><rect x="183" y="18" width="5.6" height="5.6" fill="#c991ba"/><rect x="183" y="23" width="5.6" height="5.6" fill="#c990bc"/><rect x="183" y="28" width="5.6" height="5.6" fill="#c991bd"/><rect x="183" y="33" width="5.6" height="5.6" fill="#c990be"/><rect x="183" y="38" width="5.6" height="5.6" fill="#ca8ebc"/><rect x="183" y="43" width="5.6" height="5.6" fill="#cd88b5"/><rect x="183" y="48" width="5.6" height="5.6" fill="#d17eac"/><rect x="183" y="53" width="5.6" height="5.6" fill="#d475a5"/><rect x="183" y="58" width="5.6" height="5.6" fill="#d66e9f"/><rect x="183" y="63" width="5.6" height="5.6" fill="#da6394"/><rect x="183" y="68" width="5.6" height="5.6" fill="#dd5a8b"/><rect x="183" y="73" width="5.6" height="5.6" fill="#dd5a8b"/><rect x="183" y="78" width="5.6" height="5.6" fill="#da5a8b"/><rect x="183" y="83" width="5.6" height="5.6" fill="#da5687"/><rect x="183" y="88" width="5.6" height="5.6" fill="#da598a"/><rect x="183" y="93" width="5.6" height="5.6" fill="#da6491"/><rect x="183" y="98" width="5.6" height="5.6" fill="#d9719b"/><rect x="183" y="103" width="5.6" height="5.6" fill="#d87ca2"/><rect x="183" y="108" width="5.6" height="5.6" fill="#d685a9"/><rect x="183" y="113" width="5.6" height="5.6" fill="#d58cae"/><rect x="183" y="118" width="5.6" height="5.6" fill="#d492b1"/><rect x="188" y="3" width="5.6" height="5.6" fill="#ca93b7"/><rect x="188" y="8" width="5.6" height="5.6" fill="#ca92b7"/><rect x="188" y="13" width="5.6" height="5.6" fill="#ca91b8"/><rect x="188" y="18" width="5.6" height="5.6" fill="#ca90b9"/><rect x="188" y="23" width="5.6" height="5.6" fill="#ca90ba"/><rect x="188" y="28" width="5.6" height="5.6" fill="#ca8fba"/><rect x="188" y="33" width="5.6" height="5.6" fill="#ca8eba"/><rect x="188" y="38" width="5.6" height="5.6" fill="#cc8bb7"/><rect x="188" y="43" width="5.6" height="5.6" fill="#ce85b2"/><rect x="188" y="48" width="5.6" height="5.6" fill="#d17dab"/><rect x="188" y="53" width="5.6" height="5.6" fill="#d476a4"/><rect x="188" y="58" width="5.6" height="5.6" fill="#d76e9d"/><rect x="188" y="63" width="5.6" height="5.6" fill="#da6494"/><rect x="188" y="68" width="5.6" height="5.6" fill="#dc5d8e"/><rect x="188" y="73" width="5.6" height="5.6" fill="#db5c8d"/><rect x="188" y="78" width="5.6" height="5.6" fill="#da5889"/><rect x="188" y="83" width="5.6" height="5.6" fill="#da5587"/><rect x="188" y="88" width="5.6" height="5.6" fill="#d95788"/><rect x="188" y="93" width="5.6" height="5.6" fill="#d95f8e"/><rect x="188" y="98" width="5.6" height="5.6" fill="#d96b97"/><rect x="188" y="103" width="5.6" height="5.6" fill="#d8779f"/><rect x="188" y="108" width="5.6" height="5.6" fill="#d680a5"/><rect x="188" y="113" width="5.6" height="5.6" fill="#d588ab"/><rect x="188" y="118" width="5.6" height="5.6" fill="#d48eaf"/><rect x="193" y="3" width="5.6" height="5.6" fill="#ca93b6"/><rect x="193" y="8" width="5.6" height="5.6" fill="#ca92b7"/><rect x="193" y="13" width="5.6" height="5.6" fill="#ca91b7"/><rect x="193" y="18" width="5.6" height="5.6" fill="#cb90b8"/><rect x="193" y="23" width="5.6" height="5.6" fill="#cb8fb8"/><rect x="193" y="28" width="5.6" height="5.6" fill="#cb8db8"/><rect x="193" y="33" width="5.6" height="5.6" fill="#cc8bb7"/><rect x="193" y="38" width="5.6" height="5.6" fill="#cd88b4"/><rect x="193" y="43" width="5.6" height="5.6" fill="#cf83b0"/><rect x="193" y="48" width="5.6" height="5.6" fill="#d17daa"/><rect x="193" y="53" width="5.6" height="5.6" fill="#d477a4"/><rect x="193" y="58" width="5.6" height="5.6" fill="#d6709e"/><rect x="193" y="63" width="5.6" height="5.6" fill="#d96897"/><rect x="193" y="68" width="5.6" height="5.6" fill="#da6393"/><rect x="193" y="73" width="5.6" height="5.6" fill="#da6090"/><rect x="193" y="78" width="5.6" height="5.6" fill="#da5c8c"/><rect x="193" y="83" width="5.6" height="5.6" fill="#d9598a"/><rect x="193" y="88" width="5.6" height="5.6" fill="#d95b8b"/><rect x="193" y="93" width="5.6" height="5.6" fill="#d9618f"/><rect x="193" y="98" width="5.6" height="5.6" fill="#d86b96"/><rect x="193" y="103" width="5.6" height="5.6" fill="#d7759e"/><rect x="193" y="108" width="5.6" height="5.6" fill="#d67ea4"/><rect x="193" y="113" width="5.6" height="5.6" fill="#d585a9"/><rect x="193" y="118" width="5.6" height="5.6" fill="#d48cad"/><rect x="198" y="3" width="5.6" height="5.6" fill="#ca92b6"/><rect x="198" y="8" width="5.6" height="5.6" fill="#cb91b6"/><rect x="198" y="13" width="5.6" height="5.6" fill="#cb90b6"/><rect x="198" y="18" width="5.6" height="5.6" fill="#cb8fb6"/><rect x="198" y="23" width="5.6" height="5.6" fill="#cc8eb6"/><rect x="198" y="28" width="5.6" height="5.6" fill="#cc8cb6"/><rect x="198" y="33" width="5.6" height="5.6" fill="#cd8ab4"/><rect x="198" y="38" width="5.6" height="5.6" fill="#ce87b2"/><rect x="198" y="43" width="5.6" height="5.6" fill="#d083ae"/><rect x="198" y="48" width="5.6" height="5.6" fill="#d27eaa"/><rect x="198" y="53" width="5.6" height="5.6" fill="#d478a5"/><rect x="198" y="58" width="5.6" height="5.6" fill="#d673a0"/><rect x="198" y="63" width="5.6" height="5.6" fill="#d76d9b"/><rect x="198" y="68" width="5.6" height="5.6" fill="#d86897"/><rect x="198" y="73" width="5.6" height="5.6" fill="#d96593"/><rect x="198" y="78" width="5.6" height="5.6" fill="#d96190"/><rect x="198" y="83" width="5.6" height="5.6" fill="#d9608f"/><rect x="198" y="88" width="5.6" height="5.6" fill="#d96190"/><rect x="198" y="93" width="5.6" height="5.6" fill="#d86693"/><rect x="198" y="98" width="5.6" height="5.6" fill="#d86e98"/><rect x="198" y="103" width="5.6" height="5.6" fill="#d7769e"/><rect x="198" y="108" width="5.6" height="5.6" fill="#d67ea4"/><rect x="198" y="113" width="5.6" height="5.6" fill="#d584a8"/><rect x="198" y="118" width="5.6" height="5.6" fill="#d48aac"/></g>
<g stroke="#6a3a6a" stroke-opacity="0.2" stroke-width="0.5"><path d="M141.9 9.5L136.8 10L136.4 8L137.8 5.3L142.3 6.9Z" fill="#ca91a7" fill-opacity="0.60"/><path d="M104.6 34.2L111 35.8L110.1 37.9L103.3 40.9L99.9 36Z" fill="#cc9697" fill-opacity="0.79"/><path d="M91.4 66.9L93.3 65.1L97.2 66L98.8 69.2L94.1 72.2L91 70.4Z" fill="#cbb9b9" fill-opacity="0.78"/><path d="M142.5 77.4L138 76.6L137.1 73.7L140.8 73.4L142.3 74.1Z" fill="#b8bcca" fill-opacity="0.52"/><path d="M187.2 106.7L187.5 105.6L189.2 103.8L192.5 102.9L192.9 105.2L192.1 108L190.9 107.4Z" fill="#b86688" fill-opacity="0.67"/><path d="M163 52.7L164.5 51.1L166.1 52.8L167.3 54.4L165.4 55.1L164.2 54.9L162.4 54.8Z" fill="#d48cbb" fill-opacity="0.79"/><path d="M160.6 62.1L161.5 63.3L160.1 65.9L157.4 64.7L157.7 63.3L157.6 61.1Z" fill="#e3aecf" fill-opacity="0.53"/><path d="M72.7 68.8L73.4 69.2L72 71.4L71 72.3L67.9 71.2L68.3 69.5L70.2 68.6Z" fill="#cdb9c0" fill-opacity="0.58"/><path d="M181.5 58.5L180.9 56.4L184.4 55.4L185.6 59.1Z" fill="#b36089" fill-opacity="0.53"/><path d="M143.9 31.5L142.1 31.6L141.2 29.5L143.3 28.3L145.2 27.7L146.4 28.3L145 30.7Z" fill="#ad81a8" fill-opacity="0.64"/><path d="M49.7 26.4L50.4 22.9L59.2 25.6L54.1 29.9Z" fill="#727da0" fill-opacity="0.62"/><path d="M69.5 51L67.2 52.5L65.3 53.1L63.7 51.6L64.7 50.5L65.7 50L67.6 50.3Z" fill="#9193ae" fill-opacity="0.47"/><path d="M113.9 109.5L111.9 114.3L108.3 111.7L111.1 108.1Z" fill="#b8cadd" fill-opacity="0.67"/><path d="M101.7 74.7L98.2 74.9L97.6 71.9L100.9 70L105.1 68.9L103.7 73.3Z" fill="#ccbebf" fill-opacity="0.54"/><path d="M187.6 110.6L181.7 108.8L185.3 102.8L190.6 102.1L192.6 106.3L191.2 109.2Z" fill="#f098bd" fill-opacity="0.71"/><path d="M56.9 39.2L53.8 39.6L54.6 36.7L55.6 35.6L57.9 34.9L58.8 38Z" fill="#8091be" fill-opacity="0.64"/><path d="M100.4 5.1L102.2 4.8L105.6 5L104.1 8.2L101.2 7Z" fill="#958396" fill-opacity="0.49"/><path d="M164.9 105.4L164.2 108.5L161.5 108.7L158.5 105.2L161.7 103.6Z" fill="#d9aec9" fill-opacity="0.54"/><path d="M59.2 82.6L59.6 87.1L54.8 87L54.4 84.9Z" fill="#c9a498" fill-opacity="0.75"/><path d="M193.5 34.1L195.1 32.6L199 35.7L196 39.1L194.1 40.2L190.4 38.6L191.5 35.7Z" fill="#e6a9d2" fill-opacity="0.52"/><path d="M35.6 58.4L34 54.4L39.1 51.7L40.9 54.2L39.8 57.6Z" fill="#7886ac" fill-opacity="0.49"/><path d="M97.3 111.1L101.7 110.1L106.6 113.3L102 116.7L98.3 114.7Z" fill="#a7c3d9" fill-opacity="0.77"/><path d="M166.6 25.7L165.5 26.8L164.1 25.3L163.7 22.9L165.9 22.7L167.9 24.1Z" fill="#cd95c2" fill-opacity="0.58"/><path d="M97.8 17.5L102.5 23.1L96.6 26.7L94.4 22.2Z" fill="#988da6" fill-opacity="0.64"/><path d="M121.6 38.5L126.4 37.6L130.7 39.9L129.1 42.2L128.2 45L121.8 44.6L120.7 41.8Z" fill="#b78e97" fill-opacity="0.55"/><path d="M78.3 43.6L74.5 44.5L72.1 41.1L74.6 37.9L81 40.3Z" fill="#a9b4d9" fill-opacity="0.46"/><path d="M178.5 75L175.5 71.2L177 68.1L181.9 68.7L183.4 70.1L183.1 73.5Z" fill="#ee7ba8" fill-opacity="0.70"/><path d="M178.8 108.2L177.3 113.5L168.5 111.9L169.3 107.9Z" fill="#cc90ad" fill-opacity="0.57"/><path d="M180.6 39.7L173 40.6L173 36.3L178 32.2L184.3 32.2L183 35.8L183.4 38.4Z" fill="#cc96c5" fill-opacity="0.65"/><path d="M63.7 81.6L69.1 82.9L72.5 85L66.9 89.6L62.6 86.5Z" fill="#f9d1c5" fill-opacity="0.52"/><path d="M132.1 99.2L134.1 101.7L132.2 102.4L129 102.6L126.7 100.5L130.2 98.9Z" fill="#ddecfd" fill-opacity="0.67"/><path d="M168.4 83.3L171.7 82.8L174.2 85.7L175.3 88.4L170.7 89.2L166.8 86.8Z" fill="#e684a9" fill-opacity="0.57"/><path d="M115 38.5L117.4 42.2L118.9 44.3L114 46L109.3 43.2L111.4 39.6Z" fill="#cf928e" fill-opacity="0.73"/><path d="M42.8 27.4L48.4 25.8L50.2 30.5L48.1 33.1L44.1 34.6L40.1 31.1Z" fill="#9eacd5" fill-opacity="0.69"/><path d="M65.3 90.2L64.5 91.5L61.3 91.5L60.6 90.6L59.4 87.7L64.4 87.4Z" fill="#be9180" fill-opacity="0.45"/><path d="M77.7 61.9L75 60.8L78.6 57L82.6 59.3Z" fill="#e1d3dd" fill-opacity="0.48"/><path d="M72.6 65.4L76.1 68.3L74.2 71.8L69.8 72.6L67.7 68.5Z" fill="#c9b7be" fill-opacity="0.54"/><path d="M48.5 32.5L45.3 34.9L39.3 34.3L39.7 30.4L46.9 29.4Z" fill="#7d8cb8" fill-opacity="0.68"/><path d="M191.5 53.1L192.1 55.1L186.4 56.8L185.6 54.1L188.1 50.2Z" fill="#ef98c5" fill-opacity="0.63"/><path d="M113.9 13.1L115.5 12.6L116.3 14.9L116.1 15.6L112.6 15.8L112.2 14.4L112.1 13.3Z" fill="#b37573" fill-opacity="0.80"/><path d="M100.9 103.1L99 97.9L101.3 95.5L107.5 93.7L109.3 96.7L109.1 99.6L103.9 102.8Z" fill="#c0c6d3" fill-opacity="0.80"/><path d="M138.1 66.8L141.2 65.5L144 66.1L145.9 69.4L140.8 69.1Z" fill="#d3c5d7" fill-opacity="0.73"/><path d="M152.4 42.5L150.8 41.9L148.7 41.6L148.5 40.3L148.9 39.1L151.8 39.7L152.6 40.3Z" fill="#e0afd8" fill-opacity="0.63"/><path d="M177.6 105.8L176.1 105.6L177.7 102.1L180.4 101.3L182.2 103L183.3 105L181.3 107.3Z" fill="#f0a1c2" fill-opacity="0.79"/><path d="M76.4 51.1L71.5 52.8L66.6 53.3L65.1 48.4L65.5 47.4L71.4 43.8L75.6 47.6Z" fill="#979bb8" fill-opacity="0.61"/><path d="M155.9 54L151.8 55.4L149.1 53.5L151.1 48.7L157.5 50.4Z" fill="#e3b3d6" fill-opacity="0.62"/><path d="M124.9 76.3L124.5 77.7L119.9 77.6L118 75.7L119.1 74.2L123 74Z" fill="#b7b7c2" fill-opacity="0.64"/><path d="M123.5 94.8L128.1 94.4L129 97.3L124.3 98Z" fill="#d7eafb" fill-opacity="0.61"/><path d="M82.1 67.3L80 69.5L77.9 70.3L77.2 67.6L77.5 66.6L79.7 65.8Z" fill="#ad9b9e" fill-opacity="0.74"/><path d="M103.7 3.9L99.2 10.8L92.3 9.5L94.3 3.6Z" fill="#8a87a2" fill-opacity="0.71"/><path d="M162.5 82.4L162.2 85L158.8 83.9L158.3 81.5Z" fill="#b78ea7" fill-opacity="0.50"/><path d="M123.4 113L126.9 116.6L123.1 119.4L120.4 120.9L116.2 117.9L120.2 113.1Z" fill="#e0e8f8" fill-opacity="0.79"/><path d="M167.6 50.6L162.6 46.2L166.8 42.7L172.8 47.1Z" fill="#c184b1" fill-opacity="0.67"/><path d="M186.8 39.8L193 41.3L192.9 43.9L187.3 43.6Z" fill="#b67aa2" fill-opacity="0.64"/><path d="M90.3 44L95.9 42.1L102 43.8L102.8 47.4L100 50.7L95.4 51.6L90.7 47.7Z" fill="#ecd3d8" fill-opacity="0.68"/><path d="M46.5 38.5L39.4 39.6L35.1 41.5L35.9 35.6L38.3 32.3L43.2 31.6L46.6 34.1Z" fill="#98a5cc" fill-opacity="0.66"/><path d="M77.4 112.4L82 116.3L80.5 122.3L77.3 121.9L72.1 120.2L73.6 116.5Z" fill="#cca9a0" fill-opacity="0.58"/><path d="M131.4 54.4L134.2 56.3L132.8 59.8L128 56.8Z" fill="#bb9ea9" fill-opacity="0.70"/><path d="M109.1 109.1L105 110.7L101.9 108.1L103.4 106.1L107.1 105.7Z" fill="#c9e2f6" fill-opacity="0.68"/><path d="M163.4 85.9L164.2 88.2L162.2 89.5L159.7 90.8L157.8 88.2L158.8 87.4L160.4 85.2Z" fill="#c39cb4" fill-opacity="0.50"/><path d="M34.6 116.3L36.9 111.5L42.6 112.9L42.2 116.8Z" fill="#c9aba8" fill-opacity="0.50"/><path d="M114.4 103.6L111.4 105.2L108.1 102.8L109.5 100.4L113 99.6L114.2 102.1Z" fill="#acb9c8" fill-opacity="0.72"/><path d="M184.7 44.8L187 44L188.9 45.3L188.1 47L184.7 47.4Z" fill="#dfa0c9" fill-opacity="0.65"/><path d="M42.6 9.2L46.8 10.1L46.4 13.1L42.5 12.4Z" fill="#8688a6" fill-opacity="0.69"/><path d="M114.4 81.2L114 83.6L112.1 83.1L111.1 83L111.1 81.3L112.2 80.4L114.3 80.1Z" fill="#c0c8d3" fill-opacity="0.59"/><path d="M159 52.9L158.6 57.3L155.1 56.9L152 53.2Z" fill="#cd95bb" fill-opacity="0.74"/><path d="M183 16.4L183.5 10.8L188.6 10.4L192.4 14.8L186.7 18.3Z" fill="#dca9cd" fill-opacity="0.57"/><path d="M195.2 80.7L190.1 80.3L190.3 77.6L195.5 77.7Z" fill="#e45f92" fill-opacity="0.61"/><path d="M189.6 68.1L191.6 69.5L188.9 72.5L185.3 73.2L182.6 69.7L183.6 66.4Z" fill="#ba4c76" fill-opacity="0.75"/><path d="M172 73L172.8 72.1L177.7 74L179.6 76.1L176.6 78.6L172.9 79.2L172.5 75.9Z" fill="#dd6e9b" fill-opacity="0.46"/><path d="M147 120.5L146.3 116.9L149.2 115.6L153.8 118L152.2 121.5Z" fill="#b6a4b7" fill-opacity="0.75"/><path d="M191.6 73.8L196.3 72.7L196.6 75.3L192.2 75.5Z" fill="#cc5986" fill-opacity="0.73"/><path d="M165.1 79.3L171.3 79.9L173.7 85.6L164.8 84.1Z" fill="#bd7694" fill-opacity="0.48"/><path d="M171.9 12.6L177 15.3L177.8 19.8L167.5 18.9Z" fill="#cf97c0" fill-opacity="0.47"/><path d="M92.9 84.2L98.1 83.9L97.7 91.7L93.3 92.7L86.8 89.7L86.5 84.2Z" fill="#d0c6cb" fill-opacity="0.60"/><path d="M61.5 28.9L57 31.9L55.1 29.6L54.1 27.9L56.5 24.6L60.4 26.8Z" fill="#a2aed4" fill-opacity="0.74"/><path d="M175.2 112.7L178.7 110.6L182.8 108.9L184.8 110.9L183.5 112.5L180.3 115.3L178.6 115Z" fill="#cc87a6" fill-opacity="0.45"/><path d="M47.4 36.3L45 38.1L38.7 36.1L36.3 34.6L42.2 32L45.5 31.5L48.1 32.7Z" fill="#7b8bb7" fill-opacity="0.53"/><path d="M103.1 82.2L100.2 83.3L98.9 82.6L97.8 80.1L100.4 80.2L102.9 80.7Z" fill="#dedde6" fill-opacity="0.67"/><path d="M159.2 92.1L158.6 87.3L164 88.1L163.5 90.3Z" fill="#d9aec8" fill-opacity="0.78"/><path d="M34.9 31.7L32.1 25.9L36.8 23.8L42.8 29.5Z" fill="#717999" fill-opacity="0.68"/><path d="M77.3 94.3L80.1 95.8L81.5 97.6L78.7 100.1L75 98.6L71.7 97.6L73.8 95.4Z" fill="#be8f7e" fill-opacity="0.68"/><path d="M80.6 77.8L76.9 74.9L78.1 71.8L83.4 72.6L85.3 73.3L85.7 76.2L82 76.4Z" fill="#dcc2c0" fill-opacity="0.72"/><path d="M33 14.1L30.9 13L33.8 9.3L37.4 10.1L40.4 13L39.3 17.4Z" fill="#7c7e98" fill-opacity="0.52"/><path d="M116.7 108.2L120.8 108.3L120 110.1L119.1 111.3L115.2 111.7L114.8 108.9Z" fill="#deecfc" fill-opacity="0.68"/><path d="M153.7 65.9L154.6 68.9L151.6 69.9L149.6 69.9L148.6 67.8L149.5 66.2Z" fill="#e3c2da" fill-opacity="0.64"/><path d="M130.1 13.8L130.7 12.5L135.6 12.7L137 14.5L136.7 17.3L134 16.9L131.1 15.9Z" fill="#deaac0" fill-opacity="0.47"/><path d="M54.2 21L53 23.7L51.5 24.2L48.8 22.8L48.8 21.1L50.6 20.3Z" fill="#8791b7" fill-opacity="0.65"/><path d="M63.3 72.5L62.8 76L61.3 81.1L54.8 80.8L52.8 76.8L56.2 72.6Z" fill="#b09da2" fill-opacity="0.78"/><path d="M108.5 98L108.4 95.3L112.5 94.9L116.3 97.4L114.1 100.4L111.2 101.9Z" fill="#becad8" fill-opacity="0.49"/><path d="M74.3 20.3L69.9 21.3L68.2 18.6L69.2 16.3L74.5 16.6Z" fill="#7d8bb4" fill-opacity="0.63"/><path d="M113.1 40L113.8 39.6L115.5 38.4L116.9 40L117.3 41.5L115.5 42.6L112.7 41.8Z" fill="#c78d89" fill-opacity="0.59"/><path d="M123.6 29.7L124.7 24.2L129.5 26L130.3 29Z" fill="#e9aeb6" fill-opacity="0.65"/><path d="M89 22.4L89 19.2L93.1 18L95.8 20.3L95.1 22.9L91.5 25.6L90.1 24.2Z" fill="#adb3d3" fill-opacity="0.64"/><path d="M149.3 43.2L143.6 40.3L148.9 35.2L152.9 36.7L157.7 40L152.5 42.3Z" fill="#a4799d" fill-opacity="0.62"/><path d="M120.8 90.2L117.1 90.3L115.8 90.3L113.3 86.9L117.5 83.4L124.7 85.2L122.6 88.4Z" fill="#aeb7c2" fill-opacity="0.52"/><path d="M89.4 80.2L88.6 83.8L82.9 84.3L81.8 81.3L81.1 78.2L85.6 78.5Z" fill="#f6e4e4" fill-opacity="0.79"/><path d="M159.1 90.7L157 86.2L155.9 84.5L160.3 81.1L166.9 83.8L164.9 87.3L164.4 89.5Z" fill="#c397b0" fill-opacity="0.60"/><path d="M75.7 59.6L76 61.6L73.9 62.6L70.6 61.1L70.9 59.5L74.1 58.6Z" fill="#c8c2d3" fill-opacity="0.45"/><path d="M118.8 113.2L120.2 110L124.5 110L126.9 110.3L128.1 113.5L123.8 114L121.5 113.4Z" fill="#dce7f7" fill-opacity="0.80"/><path d="M100.2 57.8L105.5 61.9L100.6 67.5L93.2 65L91.3 58.9L96.2 58.7Z" fill="#c4adab" fill-opacity="0.51"/><path d="M109 32.1L111.3 33.3L109.8 37L107.5 36.1L105.8 34.8L105.8 33.6Z" fill="#b88585" fill-opacity="0.54"/><path d="M65.9 89.7L69.5 88.1L75.3 89.9L76.5 93.1L67.9 97.2L63.7 93.4Z" fill="#e5a991" fill-opacity="0.78"/><path d="M95.2 34.8L91.1 34.9L86.9 32.2L88.7 28.3L90.1 25.4L95.9 28.7L99.3 30.5Z" fill="#8c8093" fill-opacity="0.65"/><path d="M41.6 70.9L36.9 70.4L35.5 66.4L40.6 65.9L44 66.6Z" fill="#8a96bc" fill-opacity="0.65"/><path d="M145.7 38.9L146.2 39.8L146.9 41.8L143.4 41.3L142.9 40.2L142.6 38.9Z" fill="#d39fc6" fill-opacity="0.79"/><path d="M134.3 53.5L131.9 51.7L140.5 50.1L143.6 51.7L144.8 55.2L145.8 57.6L135.8 57.9Z" fill="#f4cfe2" fill-opacity="0.61"/><path d="M152.6 56.1L148 53.9L148.7 51.7L154.6 51L154.2 54.7Z" fill="#b488a7" fill-opacity="0.49"/><path d="M37.3 77.1L29.8 73.8L36.3 71.1L39.5 74.7Z" fill="#bbbed9" fill-opacity="0.65"/><path d="M127.7 98.4L123.6 94.5L124 89.4L134.8 92L132 96.4Z" fill="#b9c9da" fill-opacity="0.79"/><path d="M188.3 79.1L192.6 78.6L194.3 82.2L190.4 85.1L187.8 84.3L185.2 81.8Z" fill="#d55585" fill-opacity="0.59"/><path d="M74.3 40.9L75.3 42.5L74.9 44.6L72.6 44.3L70.6 43.7L71.1 42.2L73.3 41.3Z" fill="#adb6da" fill-opacity="0.46"/><path d="M192.1 114.7L191.4 116.1L190.3 117.1L187.8 117.5L187 116L188.1 113.9L190.4 113.5Z" fill="#df90b4" fill-opacity="0.56"/><path d="M63.6 39.3L67.2 40.3L65.9 41.9L63.6 42.7L62.1 40.8Z" fill="#acb5d7" fill-opacity="0.57"/><path d="M155.3 61.5L155 59.7L158.2 56.5L166.1 59.4L165.9 62.2L164.1 64.5L159.4 63.6Z" fill="#b27d9e" fill-opacity="0.67"/><path d="M39 24.1L38.6 22L40.5 21.2L42.2 21L44 21.8L42.8 23.5L41.2 24.9Z" fill="#a4abce" fill-opacity="0.77"/><path d="M46.1 15.1L49.3 14.9L50.6 16.9L49.4 18.3L45.4 17.6Z" fill="#787d9b" fill-opacity="0.80"/><path d="M138.1 8.6L138.4 6.3L142.7 5.6L145.3 8.4L143.9 10L141.1 10.8L135.8 9.8Z" fill="#bd889e" fill-opacity="0.47"/><path d="M43.4 114.1L39.3 113.4L41.1 106.3L47.5 110.9Z" fill="#ceaeaa" fill-opacity="0.65"/><path d="M173.1 78.6L178.2 81.4L176.8 84.1L176.8 86.5L172.5 86.5L170.5 82.5L172.6 81.2Z" fill="#c86f92" fill-opacity="0.80"/><path d="M115.2 49.7L110.2 48.8L109.6 47L108.8 43.8L114.4 42.7L117.4 43.3L121.2 45.8Z" fill="#cd9593" fill-opacity="0.72"/><path d="M51.2 16.1L47.2 18.6L45.1 15.8L42.7 14.6L46.1 12.1L49.6 13.3L51.7 14.3Z" fill="#7d82a0" fill-opacity="0.54"/><path d="M73.9 22.5L73.5 21.1L76 19.5L77.2 20.8L79.1 22.9L75.9 24.1Z" fill="#9ba8cf" fill-opacity="0.57"/><path d="M84.5 103.2L82.7 98.8L85.1 95.4L92.4 96.7L90.8 102.9Z" fill="#cc9f8f" fill-opacity="0.55"/><path d="M158.1 44.1L165.9 41.4L170.3 46.6L165.6 50.4L157.4 49.8Z" fill="#daa4cf" fill-opacity="0.59"/><path d="M114.8 76.2L117.9 77.4L117.4 79.3L112.6 79.9L111.1 77.5Z" fill="#c1cad5" fill-opacity="0.76"/><path d="M119.5 76.8L122.5 76L123.3 79.2L120.5 80.9L119.8 78.8Z" fill="#bac0cb" fill-opacity="0.63"/><path d="M114.7 74.5L115 71.2L117.2 68.5L119.3 67.5L122.7 69.3L121.2 73.7L119.4 75.7Z" fill="#d1d1db" fill-opacity="0.57"/><path d="M45.2 89.9L42.9 86.3L47.9 86L49.2 89.5Z" fill="#b89e9a" fill-opacity="0.51"/><path d="M122.3 113.8L125.4 112.5L128.1 114.6L127 115.7L126.4 116.9L122.7 117.3L121.4 115.3Z" fill="#bec5d6" fill-opacity="0.58"/><path d="M58.5 17.1L61.4 14.6L65.2 13.7L69.3 17.2L66.5 20.2L63.4 20.6L61.6 20.3Z" fill="#7984a9" fill-opacity="0.51"/><path d="M144.4 62.6L148.8 60L150.8 64L150 65.6L145.3 66.8Z" fill="#d1b1ca" fill-opacity="0.75"/><path d="M194.7 60.2L193.8 62.2L191.1 62.9L190.7 61.9L189.5 60L190.1 58.9L192.4 58.6Z" fill="#e072a4" fill-opacity="0.72"/><path d="M120.6 17L122.8 16.5L125.5 16.3L125.5 18.6L123.5 19.3L121.5 20.1Z" fill="#ac6d68" fill-opacity="0.75"/><path d="M51.9 96.8L53.5 99.1L50.4 101.1L47.9 100.1L47.7 98L49.9 96.5Z" fill="#d5afa6" fill-opacity="0.78"/><path d="M124.5 108.3L118.9 113.6L114.5 113.2L111.3 107.5L119.4 103.9Z" fill="#c2d2e3" fill-opacity="0.62"/><path d="M131.7 38.1L129.4 39.2L124.5 38.4L124.4 35.9L125.4 32.9L129.4 34.1L132.3 35.6Z" fill="#d9a4b2" fill-opacity="0.75"/><path d="M160.3 51.3L163.9 47.6L171.9 48.5L169.9 54.8L165.5 55.7Z" fill="#e1a3ce" fill-opacity="0.46"/><path d="M188.5 25.3L186.1 24.9L184.8 22.6L186.1 21.2L188.3 19.3L190.7 21.3L192.5 24Z" fill="#b380a6" fill-opacity="0.68"/><path d="M146.4 3.5L149.4 2.4L154.5 4L150.5 8L147.8 6.7Z" fill="#dbaac2" fill-opacity="0.49"/><path d="M91.2 37.8L94.8 37L95.8 39.5L93.6 42.6L88.5 39.6Z" fill="#a699ad" fill-opacity="0.53"/><path d="M180.6 23.1L179.5 21.6L180.2 19.7L183.2 19.5L184.1 20.9L185.1 22.7L183.7 23Z" fill="#b07fa4" fill-opacity="0.59"/><path d="M134.8 96.3L138.3 91.2L146.7 93.4L142.3 97.4L137 98.7Z" fill="#b3c0d1" fill-opacity="0.69"/><path d="M155.6 114.1L164.9 111.3L163.6 116.3L155.7 118.4Z" fill="#c3a4bb" fill-opacity="0.59"/><path d="M138.1 68.3L136.5 65.6L139.8 64.6L141.5 68.2Z" fill="#b2a8b5" fill-opacity="0.69"/><path d="M156 101L156 103.8L152.4 102.8L152.8 101.4Z" fill="#a896a8" fill-opacity="0.62"/><path d="M93.6 68L86.5 69.4L85.5 64L87.6 61.3L90.3 59.9L92.7 64.6Z" fill="#d7bcbb" fill-opacity="0.58"/><path d="M116.6 67.4L118.3 68.2L119.3 71.3L115.4 72L110.7 71.8L110.5 68.6Z" fill="#b3b2ba" fill-opacity="0.73"/><path d="M149 81.1L148.9 79.5L153 77.7L155.1 80.1L150.9 83.5Z" fill="#ad8ea5" fill-opacity="0.61"/><path d="M81.6 101.7L80.6 104.2L77.1 104.9L74.1 103.4L73.7 101.2L78 100L79.2 99.9Z" fill="#c9947f" fill-opacity="0.57"/><path d="M172.5 100.6L177.3 105.6L170.6 109.7L165.3 103.7Z" fill="#ba7e99" fill-opacity="0.55"/><path d="M34.6 26.5L38.6 28.9L43.9 29.9L42.5 33.7L36.8 37.2L34.1 33.9L30.9 30.5Z" fill="#8894bd" fill-opacity="0.71"/><path d="M85 37.4L83.4 38L82.3 36.1L83.5 34.1L86.3 35.5Z" fill="#aab1d3" fill-opacity="0.48"/><path d="M167.2 42.7L160.6 40.4L166.3 37.6L173 38.3Z" fill="#ab7ba4" fill-opacity="0.78"/><path d="M172.1 69L172.3 65.5L178.4 69.2L175.3 71.9Z" fill="#da6e9e" fill-opacity="0.68"/><path d="M134.8 33.7L128.3 37.5L122.5 33.7L127 29.6Z" fill="#ae838f" fill-opacity="0.77"/><path d="M101.7 86.4L104.5 85.8L106.3 88.5L106 90.1L104.1 91.2L101.4 89.5L100.6 88.1Z" fill="#bbbac2" fill-opacity="0.76"/><path d="M124.1 78L119.6 81.5L114.2 76.7L118.8 74.5Z" fill="#bec4cf" fill-opacity="0.53"/><path d="M179.2 93.6L182 93.3L183.3 93.2L185.4 94.4L185.4 95.3L183 96.7L180.4 95.3Z" fill="#f089b1" fill-opacity="0.75"/><path d="M63.9 69.6L63.8 76.2L59.8 76.2L53.2 74.2L55.9 71.5L59.8 70.3Z" fill="#a298a5" fill-opacity="0.53"/><path d="M120.5 1.9L126.7 6.4L121.9 7.8L115.7 6.5L114 3.4Z" fill="#b87e81" fill-opacity="0.48"/><path d="M149.5 83.7L144.3 80.7L147.8 77.7L150.3 76.6L155.7 80.9L151.6 83.5Z" fill="#c9b4cd" fill-opacity="0.51"/><path d="M84.6 84.2L82.1 86.9L79.9 85.5L82 81.5Z" fill="#c4ada9" fill-opacity="0.65"/><path d="M186.6 24.9L184.1 18.4L189.8 16.7L192.2 20.1L193.7 24.1Z" fill="#bb85ac" fill-opacity="0.73"/><path d="M156.4 10.7L155.8 12.3L153.4 13.3L148.4 11.8L149.7 9.7L149.2 7.8L153.6 8.1Z" fill="#e3b1ce" fill-opacity="0.48"/><path d="M53.8 51.3L55.2 45.9L62.3 44.9L61.9 49.4Z" fill="#848bac" fill-opacity="0.79"/><path d="M96.9 66.4L102 64.6L103.5 68.6L102.8 70.6L95.4 72.4L95.5 68.9Z" fill="#cebebc" fill-opacity="0.67"/><path d="M193.9 59.3L194.4 58.1L196 57.7L197.2 58.5L198.2 59.8L196.6 61.5L195.4 61.7Z" fill="#b56087" fill-opacity="0.68"/><path d="M162 50L167.2 48.6L172.5 52.5L169.1 56.2L165.1 57.3Z" fill="#d48bbb" fill-opacity="0.63"/><path d="M185.3 99.3L178.5 100.5L179.8 96.2L181.5 92.2L188.7 94.4Z" fill="#dc6f9a" fill-opacity="0.74"/><path d="M78.8 112.2L69.6 112.8L71.4 107.7L77.7 106.2Z" fill="#efc0b0" fill-opacity="0.49"/><path d="M58.3 69.2L58.1 73L52 71.9L53.1 67.3Z" fill="#a8a6be" fill-opacity="0.46"/><path d="M80.3 23L79.9 24.9L72.7 24.8L72 23.7L73.6 20L76.9 17.6L80.3 18Z" fill="#6f7b9f" fill-opacity="0.79"/><path d="M102.4 99.1L106.1 97.8L107.8 98.4L107.5 100.2L105.9 101.6L103.7 101.9L102 100.1Z" fill="#bfc9d8" fill-opacity="0.51"/><path d="M176 28L177.5 26L181.3 27.5L179.6 29.1Z" fill="#ba88b1" fill-opacity="0.66"/><path d="M57.5 107L57.2 104.4L58.1 103.5L64.2 102.4L63.7 104.7L62.3 107.2Z" fill="#e2aa96" fill-opacity="0.63"/><path d="M181.7 114.5L181 116.2L177.5 119.3L172.8 118.8L172.6 116.8L173.9 114.3L177.5 112.1Z" fill="#e8b0cc" fill-opacity="0.59"/><path d="M43.8 62.5L47.3 60.3L50.2 61.7L51.3 64.6L47.6 68.6L44.3 65.3Z" fill="#8a95b9" fill-opacity="0.53"/><path d="M37 99.3L42.8 98.6L44.1 101.7L42.8 104.8L39.5 107.8L36.3 107.6L34.2 104Z" fill="#e3c7c5" fill-opacity="0.77"/><path d="M142.6 68.1L138.5 62.8L143.7 57.8L149.9 61.6L148.3 64.6Z" fill="#e9d2e5" fill-opacity="0.60"/><path d="M184.1 44.2L186.7 47.8L185.7 50L179.7 52L177.6 49.3L175.1 47.3L179 45.5Z" fill="#c17ea9" fill-opacity="0.65"/><path d="M184.8 54.8L187.7 56.6L186.2 59.1L182 58.7L181.5 56Z" fill="#df77aa" fill-opacity="0.48"/><path d="M133 79.8L132.1 77.7L131.7 75L135.2 74.7L137.5 77.4L136.9 79.5L135.6 80.3Z" fill="#ccd5e3" fill-opacity="0.51"/><path d="M167.7 39.8L168.2 37.2L170.7 37.5L174.1 38.9L172.6 39.9L168.9 41.1Z" fill="#a4779d" fill-opacity="0.63"/><path d="M54.1 83.5L58.1 85.7L53.5 90.8L50.9 91.3L46.5 88.2L46.6 84.6L48.8 82.5Z" fill="#d9b4aa" fill-opacity="0.56"/><path d="M139.3 81.8L140.6 79.7L144.4 79.2L146.3 81.7L142.3 84.5Z" fill="#b7bdce" fill-opacity="0.59"/><path d="M56.2 72.9L50.1 67.4L54.4 65.6L55.9 63.8L60.9 66.7L61.9 68.4L57.5 71.7Z" fill="#9e9fb7" fill-opacity="0.48"/><path d="M56.6 11.6L58.3 8.3L59 6.8L63.3 7.7L61.4 11.2L59 11.7Z" fill="#8589aa" fill-opacity="0.49"/><path d="M100.7 52.9L103.1 54.7L105.1 58.7L99.9 61.1L93.1 60.9L94 56.9L95 54.6Z" fill="#bda4a2" fill-opacity="0.69"/><path d="M174 117.8L172.9 118.7L169.9 118L170 116L171.2 114.4L173.9 115.5L175.6 116.5Z" fill="#b3849d" fill-opacity="0.68"/><path d="M74.7 49.1L71.2 46.9L67.4 45.2L67.9 43.1L69.9 40.8L74.6 42.1L77.1 44.3Z" fill="#8e96b9" fill-opacity="0.58"/><path d="M171.8 15.4L167.9 17.5L167.4 16.5L164.9 14.7L167.3 10.7L171.5 11.5L173 13.8Z" fill="#cb95bb" fill-opacity="0.61"/><path d="M84.2 103.2L83.1 99.9L85.1 98.1L88.5 97.4L92.4 97L92.9 101.9L89.7 102.5Z" fill="#f6cabb" fill-opacity="0.62"/><path d="M165.3 88.7L170.1 87.6L174.1 89.9L173 91.5L167.6 93.6L165.3 91.4Z" fill="#d87b9d" fill-opacity="0.68"/><path d="M188.3 19.6L195.5 17.4L196.4 22.5L192 24.3Z" fill="#ac7a9d" fill-opacity="0.68"/><path d="M139.7 42.8L139.3 45.3L130.8 45.7L129.5 45L127 39.8L129.9 37.7L137.7 38.6Z" fill="#f4c8d7" fill-opacity="0.67"/><path d="M67 74.8L65.8 78.2L64 79.5L60.4 77.8L61.2 75.3L65.4 74Z" fill="#d2b7b8" fill-opacity="0.76"/><path d="M118 106.3L121.5 103.7L123.5 106.6L120.8 108.3Z" fill="#d4e5f5" fill-opacity="0.69"/><path d="M81.9 93.3L79.6 93.7L78.7 92.5L77.6 90.9L78.6 90.1L81.6 90.5L83.3 91.8Z" fill="#caa69c" fill-opacity="0.64"/><path d="M36 31.1L37.7 33.6L35.8 36.5L30.7 38.4L29.7 35.7L28.9 32.9L29.5 31.1Z" fill="#8089ac" fill-opacity="0.60"/><path d="M130.6 20L128.9 23L121.5 23.2L119 19.4L121.4 16.7L126.3 18.1Z" fill="#d28681" fill-opacity="0.63"/><path d="M189.5 66.2L189.1 63.3L194.1 61.5L198.9 64.4L194.1 70.2Z" fill="#ed84b0" fill-opacity="0.79"/><path d="M34.9 81.6L33 85.7L29.2 84.4L26.5 81.1L32.5 79.3Z" fill="#d2c4cd" fill-opacity="0.61"/><path d="M40.8 106.7L38 109.6L34.8 109.8L36.9 105.5Z" fill="#c4a8a6" fill-opacity="0.49"/><path d="M119 80.8L121.4 81.4L125 84.2L128.7 86.7L122.5 90.5L119 89.1L114.8 86.1Z" fill="#c2cad7" fill-opacity="0.46"/><path d="M145 62.5L150.5 65.3L145.8 70.7L141.2 66.8Z" fill="#dac5da" fill-opacity="0.60"/><path d="M100.7 83.6L94.2 84.4L92.6 81.1L98.2 77.4L100.7 80.3Z" fill="#f3eff7" fill-opacity="0.64"/><path d="M122.7 18.4L123.6 17.1L125.1 17.7L126.6 19L125.9 19.7L124 20.4L122.7 20.7Z" fill="#e39e99" fill-opacity="0.75"/><path d="M188.6 121.5L184.9 118.2L188.9 117.2L191.1 120.1Z" fill="#d58fb0" fill-opacity="0.77"/><path d="M81.3 53.8L88.9 54L88 56.6L84.9 60.8L81.3 58.9L78.8 56.6Z" fill="#c4aeb0" fill-opacity="0.62"/><path d="M107.7 97.7L102.8 94.6L104.3 91.8L108.5 93.7Z" fill="#adaeb7" fill-opacity="0.46"/><path d="M116 6.4L120.6 5.7L120.9 9.9L118.5 11.2L112.7 11L113 8.2L114 6.9Z" fill="#b87c7c" fill-opacity="0.45"/><path d="M69.7 112.5L76.8 114.8L72 119L64.7 119.9L63.4 115.7Z" fill="#c19b8f" fill-opacity="0.54"/><path d="M64.8 83.5L65.1 81.8L67.3 78.1L72.7 80.4L73.7 83.5L70.3 84.7Z" fill="#d2b1a9" fill-opacity="0.66"/><path d="M178.7 14L182 11.7L185.6 12.9L184.8 14.8L182.3 16.6Z" fill="#b181a3" fill-opacity="0.52"/><path d="M90.1 88.4L89.8 86L92.9 85.5L93.7 87.5L92.9 89.4Z" fill="#b8b0b4" fill-opacity="0.63"/><path d="M177.6 21.8L181 19.2L184.7 20.9L182.6 23.3L180.1 23.7Z" fill="#c18cb5" fill-opacity="0.53"/><path d="M97.4 19.6L103.1 17.7L102.8 21.9L100.7 23.8L96.7 23.9Z" fill="#c4acbd" fill-opacity="0.69"/><path d="M173 72.9L173.3 75.8L167.9 75.7L167.1 73.4Z" fill="#dc83ab" fill-opacity="0.60"/><path d="M101 110.1L98.2 108.7L95.8 104.5L100 103.3L101.8 102L106.9 103.2L107.4 107.4Z" fill="#a6bfd3" fill-opacity="0.52"/><path d="M147.1 95.7L151.9 92.8L154.7 95.3L149.9 98.5Z" fill="#c6b9cd" fill-opacity="0.65"/><path d="M130.5 120L130.8 117.4L134.7 116.7L138.3 119L134.4 122.6Z" fill="#c9c7d9" fill-opacity="0.71"/><path d="M102.6 84.8L105.3 83.1L107.5 83.9L108.4 87.2L104.4 87.1Z" fill="#d4d4de" fill-opacity="0.48"/><path d="M79.2 45.8L80.6 49.1L77.5 51.2L72.7 50.7L69.3 49.1L73.1 44.4L74.8 43.5Z" fill="#8f96b7" fill-opacity="0.69"/><path d="M137.3 81.5L135.5 85.5L131.9 83L132.6 79.8Z" fill="#e5eefc" fill-opacity="0.64"/><path d="M157.9 67.9L158.3 71.8L152.2 71.9L150.4 70L150.1 67.9L156.5 65.9Z" fill="#edc5e0" fill-opacity="0.76"/><path d="M163.3 68.7L168.4 67.5L171.2 67.9L171.5 70.1L172.9 73.2L165.5 74.7L165 73.2Z" fill="#f1a5cb" fill-opacity="0.63"/><path d="M29.2 101.6L30.3 99.2L33.5 99.4L33 102.2Z" fill="#d5baba" fill-opacity="0.78"/><path d="M63.6 88.2L65.6 90.5L62.6 91.4L58.8 89.5L61.1 87.4Z" fill="#e9b4a0" fill-opacity="0.64"/><path d="M41.7 59.1L40.7 60.7L38.3 63.9L35 64.2L32.9 62L32.3 57.7L36 57.5Z" fill="#9eaed6" fill-opacity="0.72"/><path d="M105.5 17L110.1 16.8L111.1 19.4L108.9 21.2L105 21.6L103.5 18.7Z" fill="#ae6e68" fill-opacity="0.70"/><path d="M90.6 101.3L94.6 100.6L96.7 103.3L93.9 105.1L90.1 104.9Z" fill="#beb8bd" fill-opacity="0.45"/><path d="M102.1 16L106.8 19.5L104.1 22.7L99.3 24.3L96.3 21.3L97.5 18.2Z" fill="#b08690" fill-opacity="0.78"/><path d="M71.5 6.1L74.9 5.8L76.4 6.7L74.5 9.1L72.4 9.2Z" fill="#8d8fb0" fill-opacity="0.78"/><path d="M172.9 74.4L176.9 75.4L181.4 76.2L182.3 79.5L178.6 82.2L173.7 83.4L171.5 79.5Z" fill="#f88bb6" fill-opacity="0.59"/><path d="M64.6 7L64.5 8.8L62.3 12.5L58.2 8.5L56.3 5.1L60.6 4.6Z" fill="#7e819f" fill-opacity="0.68"/><path d="M177.9 42L178.7 39.9L180.8 37.5L183.6 40.3L183 43.1L180.1 42.3Z" fill="#e5b1dd" fill-opacity="0.64"/><path d="M126.2 56.7L127.3 54.3L133.1 54.4L134.3 56.3L133.3 58.6L129.5 62.3L127.2 60.4Z" fill="#b49aa5" fill-opacity="0.77"/><path d="M192 58L192.6 59.4L192.5 61L191.8 61.7L188.9 61.2L189.5 60L189.9 58.4Z" fill="#e98bb6" fill-opacity="0.66"/><path d="M144.5 37.1L143.1 34.9L148.2 33.3L151.2 35L151.1 36.6L148 39Z" fill="#a87da2" fill-opacity="0.54"/><path d="M154.5 88.4L151.7 90.9L148.7 90.2L149.6 88L152.8 87.2Z" fill="#b3acbf" fill-opacity="0.59"/><path d="M124.8 23.4L127 26.2L124.7 29.6L120.3 28.2L115.5 26.6L117.9 21.1Z" fill="#c38281" fill-opacity="0.69"/><path d="M83.1 39.6L87 42L83.5 44.5L76.8 41.8Z" fill="#7b85a7" fill-opacity="0.60"/><path d="M32.3 94.1L36.9 95.6L36.1 97.9L34.1 98.6L30.6 99.7L26.7 94.9L30.9 94.4Z" fill="#d1b6b5" fill-opacity="0.70"/><path d="M165.3 17.8L167.3 19.4L167.8 21.2L163.6 21.6L161.2 20.3L162.7 18.4Z" fill="#b886ab" fill-opacity="0.71"/><path d="M81.6 101.3L77.1 104.5L71.4 103.1L74.3 97.9L79.7 95.6Z" fill="#f2bda9" fill-opacity="0.53"/><path d="M153.8 84.5L151.6 83.3L148.9 81.3L148.3 79.1L151.2 76.6L154.5 79.1L155.9 80.7Z" fill="#ab8aa1" fill-opacity="0.67"/><path d="M101.4 61.8L99.3 65.2L91.1 64L92.2 59.6L95.6 58.2L101.1 58.9Z" fill="#f8ddda" fill-opacity="0.73"/><path d="M40.7 73.5L42.5 77.1L38.6 78.7L35.4 74.9Z" fill="#9ca0be" fill-opacity="0.78"/><path d="M123.3 65.8L126.7 64.7L130.1 69.5L126.8 72.9L120.9 73.3L119.9 67.9Z" fill="#fff2fc" fill-opacity="0.75"/><path d="M96.9 75.7L102.5 72.8L106.4 75L104.1 80.1L97.8 83.1L94.8 79.1Z" fill="#f8f3fa" fill-opacity="0.56"/><path d="M84 25.9L86.2 32.3L80 34.8L75.7 31.1Z" fill="#7880a0" fill-opacity="0.54"/><path d="M184.9 35.3L180.4 36.5L178.9 34.2L178.7 31.8L181.7 30.6L183.7 32.9Z" fill="#d098c7" fill-opacity="0.65"/><path d="M48.1 7.7L49.6 11.5L43.7 16.4L38.2 13.3L40.1 10.5L42.4 8.1Z" fill="#9395b6" fill-opacity="0.56"/><path d="M153.7 22.6L152.8 24L147.8 25.2L145.1 25L144.1 21L146.2 19.8L151 18.8Z" fill="#cf9ac4" fill-opacity="0.62"/><path d="M64.6 53.5L59.1 51.3L60.3 48.6L65.3 48.2L68.6 51Z" fill="#b3b6d1" fill-opacity="0.51"/><path d="M85.2 99.7L87.3 97L91.9 97.4L93.4 100.8L89.4 102.4Z" fill="#eecbc1" fill-opacity="0.55"/><path d="M91.8 97.3L90.7 99.4L87.7 100L85.9 97.8L86.7 96.4L88.3 94.6L89.6 95.8Z" fill="#c6a399" fill-opacity="0.73"/><path d="M139.7 13.1L132.3 13.5L131.1 10.7L137.8 8.6Z" fill="#e3adc1" fill-opacity="0.63"/><path d="M152.2 111.7L148 109.1L148.4 106.3L153.9 107.5Z" fill="#afa0b3" fill-opacity="0.57"/><path d="M91.6 74.2L93.6 77.3L92.5 78.2L89.3 78.6L86.4 76.5L87.5 75.7Z" fill="#f6e9ec" fill-opacity="0.66"/><path d="M133.5 32.6L134.7 30L138.2 29.1L138.7 31.7L137.7 33.6Z" fill="#e2b2cf" fill-opacity="0.77"/><path d="M100 114.2L98.7 110.1L103.5 105L109.4 107.9L106.9 111.8Z" fill="#a5c1d7" fill-opacity="0.78"/><path d="M185.5 113.6L180.9 114.2L179.4 112.2L180.3 109.8L184.9 110.6Z" fill="#ce86a7" fill-opacity="0.63"/><path d="M130.1 87.5L129 85.3L132.3 84.6L136.4 85.1L136 89.1L135.5 89.9L129 88.9Z" fill="#bfc9d9" fill-opacity="0.56"/><path d="M105.1 30.8L110.6 30.3L110.7 35.3L104.7 35.7Z" fill="#a97979" fill-opacity="0.49"/><path d="M101 105.7L106.8 101.7L111.1 104.8L112 108.1L105.7 111Z" fill="#afc2d5" fill-opacity="0.60"/><path d="M131.3 11.6L132.6 9.2L138 8.3L137.8 12.5L134.3 13.3Z" fill="#bb8599" fill-opacity="0.76"/><path d="M182 104.2L183.6 105.6L184.7 106.3L183.4 108.2L180.6 108.4L178.9 106.1Z" fill="#c97a9c" fill-opacity="0.58"/><path d="M164.4 112.7L159.2 112.5L155.6 107.6L160.4 107.4L166.5 110.1Z" fill="#aa8da1" fill-opacity="0.72"/><path d="M29.5 60.7L34.9 60.1L35.7 64.2L30.4 66Z" fill="#7a87ab" fill-opacity="0.67"/><path d="M166.5 27.2L172.6 27.6L172 31L167.8 30.5Z" fill="#ad7ea5" fill-opacity="0.69"/><path d="M137.9 84.4L138 87.2L130.6 88.2L129.5 82.1L134.9 82.4Z" fill="#c0c9d9" fill-opacity="0.49"/><path d="M175.4 40.9L179.8 41.4L178.3 45.1L174.1 46.3L173 42.1Z" fill="#c991bf" fill-opacity="0.56"/><path d="M116.1 117.4L121 116.4L122 120.2L120.3 121.4L116.9 121.3Z" fill="#d5dcea" fill-opacity="0.71"/><path d="M63 78.4L62.3 75.4L66.9 72.5L68.8 76.9Z" fill="#bca6a7" fill-opacity="0.45"/><path d="M148.4 39.7L150 46.9L145 46.4L143 43.5Z" fill="#c192b5" fill-opacity="0.75"/><path d="M184.7 53.8L187.4 59.8L180.3 62.5L177.2 54.7Z" fill="#c66896" fill-opacity="0.79"/><path d="M71.6 6.8L80.4 3.6L82.9 8.4L81.9 11.5L74.3 11.3Z" fill="#8d8faf" fill-opacity="0.78"/><path d="M67.9 38.1L69.3 39.5L66.4 41.3L64 38.7Z" fill="#8a92b6" fill-opacity="0.72"/><path d="M57.2 108.3L50.7 106.2L51.3 103.9L58.2 100.9L61.3 104.8Z" fill="#b99286" fill-opacity="0.72"/><path d="M155.8 10.7L151.8 7.6L155.1 5L159.4 6.1L160.2 10.5Z" fill="#af819c" fill-opacity="0.57"/><path d="M80 20.5L85.2 17.5L86.1 19.4L86.6 23L84.6 23.8L79.6 23.9Z" fill="#aeb3d4" fill-opacity="0.67"/><path d="M149.5 53.7L152.2 56L148.8 58.6L146.6 59.5L143.9 55.8L144.8 53.9Z" fill="#d6adc9" fill-opacity="0.61"/><path d="M74.6 27.9L74.9 33.7L68.1 34.7L65.9 33.9L64.4 29.2L67.7 25.9Z" fill="#808fba" fill-opacity="0.49"/><path d="M43 98.8L46.4 94.8L50.2 96.5L52.7 99.5L49.4 101.8L43.2 101Z" fill="#f3d2cb" fill-opacity="0.65"/><path d="M88.5 82.1L91.1 84.1L88.6 86.3L85.7 85Z" fill="#cabfc3" fill-opacity="0.66"/><path d="M142.8 73.4L144.2 68.7L150.7 70.4L150.2 72.5L150.5 76.5L144.3 77.5Z" fill="#b4a1b5" fill-opacity="0.69"/><path d="M90.4 69.5L89.2 74.9L83.4 75.3L77.5 73.2L81 68.5L86 65Z" fill="#b29fa0" fill-opacity="0.65"/><path d="M196.2 19.9L193.4 18.1L195.8 15.1L199.6 17.7Z" fill="#b17ea1" fill-opacity="0.58"/><path d="M188.7 102.3L185.4 103.2L183.4 101.1L186 99.5L189.6 100.7Z" fill="#eb8db2" fill-opacity="0.66"/><path d="M100 28L98.2 26.2L100.7 22.2L103.6 21.6L105 25.2L106.3 26.6L103 29Z" fill="#dca5a5" fill-opacity="0.48"/><path d="M147.9 68.2L149.4 63.4L157.5 60.5L159.5 63.3L156.6 68.6L154.2 69.2Z" fill="#e2bad5" fill-opacity="0.61"/><path d="M113.6 60.8L111.5 60.1L114.6 56.3L118.8 56.1L122.1 57.4L122.2 60.9L119.5 63.1Z" fill="#bfaaad" fill-opacity="0.62"/><path d="M56.8 17L51.7 16.7L46.5 15.7L47.3 11.7L53.7 11L56.8 13.5Z" fill="#a9aece" fill-opacity="0.75"/><path d="M90 13.3L91.3 15.1L88.1 16.3L85 15.6L86.3 13.8Z" fill="#aab3d5" fill-opacity="0.47"/><path d="M105.6 61.5L103.9 58.8L108 55.8L113.4 59.2L109.4 63.2Z" fill="#c2adaf" fill-opacity="0.77"/><path d="M137.4 116.9L134.8 114.6L136.9 111.7L141 112.6L141.7 114.4L139.5 117Z" fill="#c3bfd2" fill-opacity="0.69"/><path d="M169.9 4.4L172.8 5.7L171.9 7.6L168.3 7.2Z" fill="#b182a1" fill-opacity="0.66"/><path d="M48.4 116.3L49.2 114.2L50.5 113.7L53.4 114.5L52.4 116.5Z" fill="#f3cfc8" fill-opacity="0.72"/><path d="M152.4 84.9L145.9 84.9L141.1 83.5L144.4 79L150.9 77.2L151.6 81.9Z" fill="#bfbbd0" fill-opacity="0.50"/><path d="M159.1 28L163.2 28L166.8 30L164.8 32.5L158 33.5L156.2 32.4L157 27.6Z" fill="#bf8ab7" fill-opacity="0.78"/><path d="M106.1 55.7L115.9 51.5L120.4 56.7L112.5 59.8Z" fill="#dbc1c3" fill-opacity="0.67"/><path d="M197.6 17.2L192.7 17.9L190.5 17.7L188.3 14.4L194.2 12L195.4 14.1Z" fill="#cc92ba" fill-opacity="0.71"/><path d="M49 28.6L51.2 23.9L58.1 25.6L55.8 29.1L54.2 31.8Z" fill="#6c7799" fill-opacity="0.49"/><path d="M166.5 79.8L171.1 81.1L171.7 83.8L165.3 83.7L164.8 81.1Z" fill="#dc8eb0" fill-opacity="0.77"/><path d="M170.2 12.8L172.5 17.8L167 18.8L164.5 13.4Z" fill="#cc95bd" fill-opacity="0.56"/><path d="M196.3 69.5L197.7 70.5L197.7 73.2L194.1 72.7L194.5 70.4Z" fill="#b9547c" fill-opacity="0.75"/><path d="M137 94.8L134.2 96.2L132.7 96L132 94L132.8 93.6L134.4 92.8L135.5 93.7Z" fill="#c6d4e6" fill-opacity="0.66"/><path d="M151.4 76.9L149.4 75.7L150.4 74.1L153.8 74L154.9 75.1L152.6 76.9Z" fill="#b78fa8" fill-opacity="0.73"/><path d="M147.2 118.3L144.7 118.4L142.2 115.7L147.8 113.6L148.8 115.4Z" fill="#c6b8cc" fill-opacity="0.51"/><path d="M34.7 62.6L37.1 62.9L37.3 65.5L34.4 65.4L31.9 63.5Z" fill="#7c8ab1" fill-opacity="0.53"/><path d="M110.7 63.9L105.6 63.1L105.6 58.8L111.3 57.1L115.9 59.7Z" fill="#d3bdbf" fill-opacity="0.49"/><path d="M114.2 50.3L113.7 55.6L109.2 58.3L105.6 52.7L108.3 49.3Z" fill="#ffe8ea" fill-opacity="0.66"/><path d="M172.5 40.1L165.6 37.3L170 32.5L174.1 35L177 39.8Z" fill="#c28ebb" fill-opacity="0.60"/><path d="M92.5 99.9L93.6 94.6L100.6 98.2L99.4 101.8Z" fill="#aca8af" fill-opacity="0.62"/><path d="M85.8 85.3L81.9 89.1L75.8 85.4L81.8 83.3Z" fill="#dec3bf" fill-opacity="0.58"/><path d="M146.6 63.5L149.3 63.6L150.3 66.7L147.5 68.6L144.9 67.3L144.4 66.3Z" fill="#c7acc2" fill-opacity="0.46"/><path d="M96 82.2L88.7 83L86.5 77.6L92.7 75.1L96.5 78.9Z" fill="#f0e7ec" fill-opacity="0.63"/><path d="M99.3 11.4L99.5 8.7L102.4 9L105.9 9.8L105.4 13.4L101.9 13.1L99.2 13Z" fill="#877c91" fill-opacity="0.76"/><path d="M80.8 115.7L79.1 117.6L77.1 116.2L76.7 113.1L79.4 113.2L80.7 114.8Z" fill="#bd9a8f" fill-opacity="0.46"/><path d="M162.6 103.2L162.1 99.8L166.9 97.1L169.3 99.5L171.3 101.9L167.2 103.5Z" fill="#cf95b1" fill-opacity="0.79"/><path d="M163.5 10.1L163 11.7L162 13.4L156.9 11.8L158.3 10.6L160.3 7.6L162 8.2Z" fill="#af819f" fill-opacity="0.70"/><path d="M140.8 117.5L142.8 115.6L144.1 116.1L145.5 117.1L146.2 118.3L142.3 119.2L140.8 118.5Z" fill="#b6acbe" fill-opacity="0.78"/><path d="M196 72.9L193.9 72L195.2 70.3L197.1 69.4L198.6 69.9L198.7 71.6L197.8 73.4Z" fill="#ea80ab" fill-opacity="0.52"/><path d="M48.9 101.9L44.6 106.3L39.3 104.5L42.9 98.6Z" fill="#c8a8a3" fill-opacity="0.59"/><path d="M33.9 42L36.7 44.9L33.1 46.7L29.7 47.6L28 45.9L28.6 43.9L31 42.8Z" fill="#858fb3" fill-opacity="0.75"/><path d="M204.6 15.4L198.8 17.2L192.1 15.8L193.2 13.1L194 8.9L197.8 7L202.8 12.2Z" fill="#c88fb4" fill-opacity="0.61"/><path d="M36.3 6.9L35.1 8.4L32.7 6L31.8 4.1L34.5 2.7L36 3.1L37.2 5Z" fill="#a09ebd" fill-opacity="0.79"/><path d="M170.3 45.5L174.9 50.1L167.8 50.6L164.8 46.4Z" fill="#e6a6d2" fill-opacity="0.57"/><path d="M78.8 62.8L85.3 65.7L81.2 71.2L75.5 68.4L73.5 63.3Z" fill="#b09ea3" fill-opacity="0.65"/><path d="M170.6 2.3L172.8 5.1L174 9L168.3 9.6L164.4 7.4L167.1 3.5Z" fill="#ce98bb" fill-opacity="0.73"/><path d="M102.9 109.5L103.5 111.9L99.1 111.9L98.7 109.8L100.9 109.1Z" fill="#c4e0f5" fill-opacity="0.53"/><path d="M175.4 23.5L173.6 22L172.8 20.6L176.4 19.7L179 20.7Z" fill="#c891bb" fill-opacity="0.61"/><path d="M185.4 6.7L188.8 9.4L185 12.2L180.4 10.8Z" fill="#e6b1d5" fill-opacity="0.78"/><path d="M84.2 24.5L88.7 20.3L94.2 21.6L93.6 25L89.2 27.1Z" fill="#b5b6d5" fill-opacity="0.77"/><path d="M171 59.8L171.5 57.2L176.1 56.8L181.4 59.5L175.9 62.1Z" fill="#b6648e" fill-opacity="0.72"/><path d="M147.5 69.3L148.8 67.2L151 68L153 68.8L151.5 70.9L147.8 70.6Z" fill="#ebcbe3" fill-opacity="0.58"/><path d="M29 83.2L27.8 81.7L31.8 80L37.8 80L38.5 81.3L35.6 85.4L30.1 84.6Z" fill="#d6c7cf" fill-opacity="0.70"/><path d="M78.8 82.7L81.5 85L81.3 90.6L77.2 89.5L74.6 88.3L74.3 85.6Z" fill="#fcdad2" fill-opacity="0.46"/><path d="M160 99.6L157.3 103.6L152.9 101.4L155.4 96.8Z" fill="#e0ccdf" fill-opacity="0.52"/><path d="M143.4 60L146.9 61.5L143.5 63L141.2 64.3L140.5 61.7L139.7 59.7Z" fill="#e5cddf" fill-opacity="0.76"/><path d="M54.3 55.5L55.6 52.2L58.6 52.1L61.2 53.8L61.2 55.3L57.8 57.3L55.7 57.6Z" fill="#9094af" fill-opacity="0.46"/><path d="M38.3 98.9L42.5 101.4L37.6 103L34.8 101.4Z" fill="#bea3a1" fill-opacity="0.48"/><path d="M149.5 104.9L146.8 107L144.8 105.3L145.2 103.3L148.6 103.6Z" fill="#bbb3c6" fill-opacity="0.65"/><path d="M162.1 15.7L164.5 14.3L170.2 14.6L174 16.9L172 19.5L166.2 19.4Z" fill="#b585a8" fill-opacity="0.65"/><path d="M161.1 74.9L169.9 73.3L170.4 78.2L162.5 80Z" fill="#c283a2" fill-opacity="0.68"/><path d="M81.5 49.9L84.8 50.5L86.1 51.5L86.2 54.6L82.6 54.6L80.1 54.4L79.5 51.4Z" fill="#dbcedb" fill-opacity="0.70"/><path d="M41.8 30.3L38.3 30.2L37.9 27L39.4 25.3L44.6 27.8Z" fill="#7681a4" fill-opacity="0.66"/><path d="M99.5 15.9L101.6 18.7L99.1 19.8L97.7 19.1L97.3 16.7Z" fill="#9594b3" fill-opacity="0.68"/><path d="M39.4 84.2L41.2 92.2L34.4 91L34.6 86.1Z" fill="#eed4d2" fill-opacity="0.70"/><path d="M47.6 16.1L55.7 15.1L57.7 19.1L54.7 22.5Z" fill="#8087a9" fill-opacity="0.65"/><path d="M97.4 92.7L94.8 92.9L94.3 90.6L94.2 88.9L96.2 88.6L98.6 90.2L99.9 91.9Z" fill="#b8b1b7" fill-opacity="0.62"/><path d="M96.5 36.8L96.9 43.2L90.7 43.9L86.8 38.4Z" fill="#a397aa" fill-opacity="0.73"/><path d="M57.6 106.7L52.3 108.1L47.1 108.9L44.7 107.4L45.6 103.7L48.7 99.8L55.7 101.2Z" fill="#c29d94" fill-opacity="0.48"/><path d="M162.9 56.8L167.6 59.4L166.8 62.6L163.4 66.2L158.4 63.5L159.1 61.6Z" fill="#d28db6" fill-opacity="0.67"/><path d="M164.2 22.7L159.4 21.1L162.6 17.6L167 18.1L167.7 20.8L167.2 23.3Z" fill="#b282a7" fill-opacity="0.69"/><path d="M168.9 98.5L167.6 96.3L169 96.1L171.6 94.7L172.3 96.1L172.7 97.8L170.4 98.4Z" fill="#e088aa" fill-opacity="0.66"/><path d="M58.8 115.4L54 117.6L53.1 115L54.9 112.3Z" fill="#eac5bc" fill-opacity="0.54"/><path d="M155.1 46.9L158.4 46.5L159.8 48.8L158.3 51.1L152.6 50.9Z" fill="#b884ae" fill-opacity="0.69"/><path d="M110 5.8L109.7 7.6L107.1 7.5L106.1 6.4L106.9 4.3L108.6 4.1Z" fill="#ba8f9a" fill-opacity="0.73"/><path d="M150.1 99.6L148.3 98.2L149.1 97.4L150.3 96L152 97.5L152.9 98.1L151.8 98.9Z" fill="#a89cae" fill-opacity="0.49"/><path d="M175.7 104.7L174.1 101.9L171.8 99.5L175.6 96.1L181 99.1L183.8 102L179.8 103.3Z" fill="#bd708f" fill-opacity="0.53"/><path d="M38.7 38.1L36 40L32.1 36.9L30.3 34.9L33.5 32.3L37.3 31.9L42 35.2Z" fill="#9faace" fill-opacity="0.65"/><path d="M137.1 28.5L141.7 24L150.3 31.1L143.9 34.6Z" fill="#cb97c4" fill-opacity="0.59"/><path d="M136.6 115.1L131.2 118.8L125.3 117L127.6 112.7L133.3 111.1Z" fill="#e0e5f5" fill-opacity="0.80"/><path d="M184.7 94.2L186.6 97.6L183.5 98L182 96.4Z" fill="#eb86ad" fill-opacity="0.59"/><path d="M31.9 31.8L30.7 30.8L29.3 27.6L32 26L35.1 26.1L37.1 29.6L36.5 31.7Z" fill="#858db1" fill-opacity="0.65"/><path d="M98.8 93.2L98 89.4L103.9 87.7L107.3 91.9L102 96.1Z" fill="#bfbdc4" fill-opacity="0.60"/><path d="M183 58.5L186.3 58.4L187.3 61.4L183.6 62L181.6 60.3Z" fill="#de73a6" fill-opacity="0.73"/><path d="M93.1 74.5L88.2 75.5L84.3 70.3L93.4 68.8Z" fill="#d2c1c4" fill-opacity="0.68"/><path d="M140.2 40.7L131 38.9L133 33.7L137.2 32.7L141.8 36.2Z" fill="#c091ac" fill-opacity="0.68"/><path d="M156.3 85.6L158.3 87.4L159.1 88.3L157.1 91.3L155.6 90L154.1 88.2Z" fill="#b7a2b5" fill-opacity="0.74"/><path d="M177 68L174.4 68.9L173.6 67.8L173.5 66.7L175.1 65.4L177.8 65.9L177.7 66.8Z" fill="#ed8cb8" fill-opacity="0.60"/><path d="M105.1 62.6L101.5 66.4L95.8 64.2L97.7 61.9L97.9 59.1L103.3 60.1Z" fill="#ebd4d3" fill-opacity="0.76"/><path d="M47.4 74.3L51.3 73.7L53.5 75.8L51.9 79.4L48.8 81L46.8 77.7L44.5 75.8Z" fill="#c2c3dc" fill-opacity="0.74"/><path d="M139.3 86.8L146.5 87L150.2 89.1L146.6 92.8L139.9 90Z" fill="#aab5c6" fill-opacity="0.47"/><path d="M33.9 108.9L30.4 107.6L30.3 105.9L33.8 103.7L37.4 106.9Z" fill="#dfc6c5" fill-opacity="0.72"/><path d="M124.8 104.1L131.3 106.5L126.7 110.6L118.1 109.1Z" fill="#dcebfb" fill-opacity="0.74"/><path d="M39.9 15L40.9 19.3L35.4 19.2L33.1 16.6L34.3 13.3Z" fill="#8b8faf" fill-opacity="0.60"/><path d="M160.7 36.5L155.8 33.8L157.8 30.8L162.9 29.4L164.6 32.9L166.1 36.6Z" fill="#dcaad6" fill-opacity="0.78"/><path d="M123.8 86.4L115.6 86.1L111 86.7L113.9 82.8L117.6 78.5L123.2 79.4L123.9 82Z" fill="#d4ddeb" fill-opacity="0.68"/><path d="M117.3 36.6L122.7 37.3L120.9 39.9L119.4 42L114.6 40.3L115.1 37.9Z" fill="#c58e8d" fill-opacity="0.73"/><path d="M146.8 94.7L138.7 97L136.3 92.2L140 89.8Z" fill="#bbcadc" fill-opacity="0.71"/><path d="M56.4 12.8L53.5 8.9L52.4 7.6L57.4 4.6L60.9 4.7L61.6 8.9Z" fill="#999cbf" fill-opacity="0.61"/><path d="M193.7 102.5L191 95.3L198 93L201.8 95.7L201.2 102.4Z" fill="#c95f88" fill-opacity="0.48"/><path d="M149.5 101.3L149 98.7L153.2 99.3L151.9 102.6Z" fill="#c9bacf" fill-opacity="0.67"/><path d="M200.3 81.1L203.7 84L204.5 88.4L200.6 87.6L194 87.5L194.8 82.2L198.6 79.5Z" fill="#cd5986" fill-opacity="0.49"/><path d="M126.6 11.3L125.4 10.4L125.9 7.9L128.6 8.2L129.2 9.1L128.1 10.8Z" fill="#c5858b" fill-opacity="0.47"/><path d="M40.6 59.3L40.9 61.5L38.4 62.8L36.1 62.5L33.4 61L34.1 58.6L38.1 58Z" fill="#7382a9" fill-opacity="0.59"/><path d="M119.4 110.6L124.9 110.5L127.9 115.2L126.7 117.9L120.9 119.8L118.2 115.4Z" fill="#bfc8d8" fill-opacity="0.52"/><path d="M112.8 107.5L112 110.5L109.6 109.1L108.8 107.4L111.2 106.2Z" fill="#d6e7f8" fill-opacity="0.57"/><path d="M61.4 10L58.6 9.6L57.7 7.6L58.6 5.2L61.9 4.4L63.3 7.1L64.3 8.9Z" fill="#8689a8" fill-opacity="0.59"/><path d="M90.9 48.8L84.3 52.3L78.2 46.4L85.9 44.7Z" fill="#a3a1ba" fill-opacity="0.47"/><path d="M32.1 82.3L28.9 78.1L36.5 74.3L38.9 78Z" fill="#aea9bd" fill-opacity="0.52"/><path d="M186.8 46.9L194.1 45.1L201.4 45.6L200.7 52L193 53.8Z" fill="#c97ca7" fill-opacity="0.66"/><path d="M170.7 47.8L174.1 46.1L175.9 48.1L174.3 50.2L170.4 50.1Z" fill="#c280ac" fill-opacity="0.66"/><path d="M190.6 37.7L193.7 37.6L196.4 40.7L194.4 44.5L190.7 43.8L187.5 41.2Z" fill="#a87094" fill-opacity="0.45"/><path d="M60.1 64.5L62.5 67.7L65.6 68.8L60.9 73L57 73.1L55.1 68.7L54.4 66.7Z" fill="#acabc5" fill-opacity="0.45"/><path d="M109.3 109.3L111.6 112.2L110.5 115.6L106.4 114.3L104.3 110.4Z" fill="#95a8b9" fill-opacity="0.62"/><path d="M151.6 75.5L150 75.9L147.5 75.6L148.1 74.3L148.8 72.9L150.3 72.5L152.5 74.8Z" fill="#d7b0cc" fill-opacity="0.55"/><path d="M173.5 4.9L177.7 3.3L181.6 8.7L178.1 12.4L171.9 10.4L168.1 7.2Z" fill="#c38fb2" fill-opacity="0.47"/><path d="M150.9 14L145.5 10.4L150 7.5L153.4 4.6L156.7 9L156.5 10.6L154.1 13Z" fill="#bc8aa6" fill-opacity="0.46"/><path d="M169.8 114.3L165.3 116.1L158.5 111.2L165.1 108.1L171.1 110.8Z" fill="#d0a3bd" fill-opacity="0.48"/><path d="M39.9 5.7L44 8.5L39.9 10.6L38 9Z" fill="#b2b3d0" fill-opacity="0.59"/><path d="M129.9 53.5L134.1 49.4L141.1 51.4L138.3 55.7Z" fill="#d9b0bf" fill-opacity="0.49"/><path d="M35 84.4L35.9 88.8L30.7 89.4L29.2 87.5L29.6 84Z" fill="#c4aeb0" fill-opacity="0.68"/><path d="M93.5 74.2L89.5 73.9L86.2 70.8L89.4 69L96.3 71.7Z" fill="#d0c0c2" fill-opacity="0.52"/><path d="M66.4 113.6L60.4 113.1L58.9 107.9L61.9 106.5L66 107.1L70.4 111.5Z" fill="#d6a492" fill-opacity="0.77"/><path d="M138.1 88.7L134.4 86.4L136.2 83.3L141.4 83L141.2 84.6Z" fill="#a7b1c0" fill-opacity="0.55"/><path d="M67.1 71.2L64.5 75.4L57 74.2L61.7 69.5Z" fill="#a197a3" fill-opacity="0.54"/><path d="M46.3 102.5L45 99.8L48.1 98.6L49.4 102.2Z" fill="#caa9a2" fill-opacity="0.70"/><path d="M51.2 108.2L47.1 108.1L48.5 106L50.8 105L53.4 106.4Z" fill="#c4a097" fill-opacity="0.47"/><path d="M168.1 108.8L162.7 107.4L158.7 105.5L162.1 101.9L166.3 101.4L169.4 103.2L170.7 107.9Z" fill="#cd9cb7" fill-opacity="0.54"/><path d="M98.1 114.2L95 112.1L96.9 108L103.1 108.9Z" fill="#9bb6ca" fill-opacity="0.48"/><path d="M153.7 37.3L158.4 35.9L162.9 38.3L159.8 41.4L155.8 41Z" fill="#c38cbe" fill-opacity="0.58"/><path d="M45.5 100L46.8 101.7L44 104.3L40.4 101.6Z" fill="#e7c9c4" fill-opacity="0.69"/><path d="M84.2 85.7L78.2 90.3L73.5 90.4L70.7 85.4L73.4 81.2L78.5 82.1Z" fill="#c8a9a1" fill-opacity="0.71"/><path d="M109.4 59.6L112.9 61.8L116.5 65.4L114.4 66.9L109.2 67.7L107.1 65.3L108.3 62.5Z" fill="#f8e7e9" fill-opacity="0.74"/><path d="M88.6 50.2L92.2 51.2L91.3 53.1L88 58.2L84.5 57L82.7 52.7L84.3 51.1Z" fill="#f5dcdd" fill-opacity="0.47"/><path d="M93.7 58.3L96.5 57.7L99.3 58.9L98.4 59.8L95.6 62L94.4 61.6L92.3 59.6Z" fill="#d5b8b5" fill-opacity="0.45"/><path d="M88.8 111.9L82.3 112.3L81.6 107.6L88.4 106.9Z" fill="#ddb2a4" fill-opacity="0.51"/><path d="M128.2 42.3L125.9 42.2L125.2 39.4L127.8 37.8L129.5 38.7L130.3 40.9L129.1 42.6Z" fill="#e0aebc" fill-opacity="0.70"/><path d="M76.3 78.5L76.7 73.2L83.6 71.5L86.6 74.6L84.1 79.9Z" fill="#c1a8a3" fill-opacity="0.76"/><path d="M123.8 80.4L123.4 82.3L120.1 83.2L119.2 81.2L120.5 80.4Z" fill="#abb2bd" fill-opacity="0.46"/><path d="M139.4 80L140.4 81L141.1 84.6L138 85.6L135.9 85L133.5 81.5Z" fill="#abb4c2" fill-opacity="0.74"/><path d="M174.8 26.1L171.1 25.8L171.7 23.6L174.6 24Z" fill="#ce96c3" fill-opacity="0.76"/><path d="M119.4 56.7L118 54.7L123.2 54.7L121.8 56.9Z" fill="#bea4aa" fill-opacity="0.60"/><path d="M197.9 46.5L196 43.7L197.1 41.9L200.5 42.9Z" fill="#cc83ae" fill-opacity="0.52"/><path d="M67.1 70.8L59.3 69.4L63.2 64.2L71.5 65.8Z" fill="#9897ae" fill-opacity="0.67"/><path d="M41.1 105.7L39.5 110.1L38.1 110.6L32.9 108.7L33.6 105.3L37.4 103.6L39.3 104Z" fill="#e8ccca" fill-opacity="0.56"/><path d="M172.5 61.7L170.1 59.7L172.3 58.3L176.6 58.7L178.9 60L176.6 61.6L175.2 62.7Z" fill="#b8648e" fill-opacity="0.52"/><path d="M35.7 108.4L40.8 108.8L42.5 112L38 113.8L36.2 115.5L33.1 112.3L31.7 108.6Z" fill="#d2b4b2" fill-opacity="0.54"/><path d="M141.8 88.1L143.4 85.5L148.8 86L152.9 87.9L150.1 88.6L147.2 91.9L144.3 90.6Z" fill="#b7c0d3" fill-opacity="0.61"/><path d="M55.9 31.3L53.1 28.4L56.3 24L60.6 26L60.9 29.3Z" fill="#8490b9" fill-opacity="0.60"/><path d="M52.6 117.4L52.5 113.8L55.9 112.4L58.4 112.5L60.7 114.2L58.8 116.7L55.4 116.9Z" fill="#f1cac0" fill-opacity="0.45"/><path d="M181.4 88.4L179.9 89.9L177.1 91.9L175.1 90.5L173.3 88.3L174.8 87.3L176.9 86.8Z" fill="#f99bbe" fill-opacity="0.70"/><path d="M114.8 57.1L118.9 59.5L118.8 64.9L111.7 63.2Z" fill="#e9d1d5" fill-opacity="0.54"/><path d="M110.8 84L107.3 85.5L103.8 84.8L105.6 82.1L108.7 80.5Z" fill="#bdbfc8" fill-opacity="0.56"/><path d="M194.9 77.1L197 80L198.5 82.3L194.2 83L191.6 83.2L192.5 79.8Z" fill="#bd4f79" fill-opacity="0.62"/><path d="M45.2 92L47.4 90.7L48.9 92.8L49 96L46.3 96.2L45.2 96L43.4 93.4Z" fill="#eed0cb" fill-opacity="0.59"/><path d="M140.5 77.4L137 79.5L131.3 78.1L135.6 74.2L141.1 72.3Z" fill="#d0dae8" fill-opacity="0.73"/><path d="M33.6 25.3L38.5 25.5L40.6 26.5L43.9 29.8L38 34.1L33.2 32.6L33.8 30.2Z" fill="#7c86aa" fill-opacity="0.57"/><path d="M52.1 57.2L46.1 61.9L43.2 59.7L43.2 53.8L49.6 53.9Z" fill="#717c9b" fill-opacity="0.67"/><path d="M195.4 41.9L191.9 45.3L184.4 42.2L188.3 37.6Z" fill="#e9a9d4" fill-opacity="0.62"/><path d="M141.8 86.9L139.4 86.2L140 84.1L140.6 83.3L143.5 83.6L145.2 85.6L143.8 86.7Z" fill="#a5afc0" fill-opacity="0.68"/><path d="M72.7 31.5L67.3 31.3L67.3 27.6L75.2 26.4Z" fill="#9faed7" fill-opacity="0.68"/><path d="M147.7 114L142 115.2L139.2 113.6L137.7 111L141.5 108.2L145.2 107.8L148.9 110.8Z" fill="#b1aabc" fill-opacity="0.49"/><path d="M43.5 12L51.7 14.7L46.8 17.2L43.4 19L38.9 12.7Z" fill="#8489a8" fill-opacity="0.58"/><path d="M150.5 97.9L144.3 100.4L142.1 96.9L145 94.3L149.2 94.1Z" fill="#dbdef0" fill-opacity="0.74"/><path d="M34.2 44.9L32.6 41.2L35.8 37.6L40.9 41.2Z" fill="#737da0" fill-opacity="0.70"/><path d="M177.9 111.6L175 114.3L170.3 113.3L172.9 111.3Z" fill="#c78daa" fill-opacity="0.60"/><path d="M106.2 45L110.3 41.5L113.2 45.3L109.1 47.8Z" fill="#eab5b3" fill-opacity="0.75"/><path d="M147.2 58.6L147.9 56L151.7 55.4L154.2 58.1L151.8 60Z" fill="#e6bdd9" fill-opacity="0.58"/><path d="M198.3 84.4L196 85.9L194.7 81.7L199.6 81.7Z" fill="#cd5683" fill-opacity="0.46"/><path d="M67.3 58L75.1 58.5L76.3 63.5L70.5 64.2L66.6 61.8Z" fill="#9391a4" fill-opacity="0.48"/><path d="M110.6 79.5L115 80.2L116.3 83.6L109.4 84.2Z" fill="#bcc4cf" fill-opacity="0.49"/><path d="M80.7 88.8L81 83.2L86.6 84.4L90.8 88.2L85.7 91.7Z" fill="#e2d0d1" fill-opacity="0.52"/><path d="M146.8 18.5L145.3 22.1L138.5 19.9L136.1 16.2L142.2 15.5Z" fill="#b28199" fill-opacity="0.79"/><path d="M56.3 120.3L53.9 116.6L57.4 113.8L63.5 115.6L61.6 120Z" fill="#d3aba1" fill-opacity="0.52"/><path d="M47.9 100.9L45.8 101.6L44.4 98.7L47.1 97.1L49.3 98.6Z" fill="#d8b5ae" fill-opacity="0.51"/><path d="M101.9 114L108.9 109.6L111.1 111.7L111 117.3L104.9 116.5Z" fill="#9aafc1" fill-opacity="0.80"/><path d="M103 11.8L99.7 7.8L102.7 3.6L106.9 8.8Z" fill="#c0a9bb" fill-opacity="0.55"/><path d="M46.5 115.3L49.6 118.7L45.8 119.1L43.4 117.4Z" fill="#bd9f9a" fill-opacity="0.54"/><path d="M47.7 13.4L44.6 12.6L43.7 10.4L44.8 9.1L47.4 7.6L49 9.5L49.6 11.1Z" fill="#b2b5d4" fill-opacity="0.67"/><path d="M89.8 90.1L96.5 92L97.4 93.7L95.4 98.7L91.3 97.3L86.7 95.6L89 93.4Z" fill="#b4a8aa" fill-opacity="0.48"/><path d="M157.6 114.7L152.9 114.7L152 111.9L155.6 112.6Z" fill="#c6aec4" fill-opacity="0.69"/><path d="M143.4 64.2L147.4 64.8L146.4 67.5L142.3 67.9Z" fill="#e5d0e4" fill-opacity="0.76"/><path d="M118.8 71.6L121.5 73.1L123.3 77.3L117.8 77.9L115.8 75.8Z" fill="#b4b6c0" fill-opacity="0.77"/><path d="M71.4 70.1L66.8 67.4L73.6 61.9L78.4 69.7Z" fill="#baadb9" fill-opacity="0.76"/><path d="M185.8 110.3L186.1 106.2L192.4 105.7L192.3 109.2Z" fill="#d0789d" fill-opacity="0.48"/><path d="M119.6 23.1L118.9 24.1L116.8 25.2L115.4 23.3L115.4 21L117 21.2L118.7 21.9Z" fill="#e3a09b" fill-opacity="0.70"/><path d="M49.3 36.3L50.4 36.2L51 38.3L50.3 39.6L47 39.7L45.8 38.7L47.1 36.2Z" fill="#97a7d2" fill-opacity="0.75"/><path d="M97.4 18.4L94.7 18.4L94.8 16L97.4 16.8Z" fill="#8a95b9" fill-opacity="0.55"/><path d="M43 58.7L40.3 54.3L42.6 51.9L48 51.3L48.2 55.8Z" fill="#7682a5" fill-opacity="0.80"/><path d="M128.8 79.2L128.7 77.4L130.9 75L133.6 77.8L131.2 81.1Z" fill="#b9bcc8" fill-opacity="0.60"/><path d="M40.5 55.7L38.4 54L40.1 53L43.2 53.7Z" fill="#7682a7" fill-opacity="0.62"/><path d="M183.3 17.9L181.6 17.3L183.5 14.8L185.5 14.8L187.4 16.1L187.4 17.5L185.5 18.4Z" fill="#e2aed4" fill-opacity="0.50"/><path d="M157.5 21L151.7 20.2L152.3 17.4L158.2 15.7L159.4 18.1Z" fill="#bb8aae" fill-opacity="0.70"/><path d="M186.5 89.2L184.5 94.1L183 97.7L178.8 94L175.9 90.3L180.1 89.8Z" fill="#d96893" fill-opacity="0.73"/><path d="M149.1 92.6L144.7 91L146.1 88.5L150.1 88.6Z" fill="#c9cde2" fill-opacity="0.76"/><path d="M163.6 61.6L160.7 57.8L161 55.8L164.4 54.6L170.9 57.8L169.1 60.3Z" fill="#d088b6" fill-opacity="0.54"/><path d="M169.2 65.2L171.6 64.8L171.5 66L170.8 67.7L168.5 67.9L168.3 67.3Z" fill="#dc80af" fill-opacity="0.55"/><path d="M73.2 2L78.4 5.5L73.9 9.6L69.5 7.5Z" fill="#8284a1" fill-opacity="0.67"/><path d="M173.5 51.5L172.9 50.8L174.9 48.3L177.2 47.2L178.3 50L178.8 51.1L176.9 53.6Z" fill="#ad6f96" fill-opacity="0.48"/><path d="M68.8 104.7L75.4 108L72.7 112.7L65.1 112.3Z" fill="#f9c8b7" fill-opacity="0.50"/><path d="M160.4 30.4L167.9 37.4L158.9 38.4L153.9 35.7Z" fill="#dba8d6" fill-opacity="0.74"/><path d="M78.9 58.6L82.2 58.1L86.1 59.4L85.8 61.7L82.4 62.3L79.2 61.3Z" fill="#bba7ab" fill-opacity="0.76"/><path d="M91.3 105.8L96.6 103.4L99.9 105.5L96.5 112Z" fill="#98a9b8" fill-opacity="0.47"/><path d="M53.2 52L58.4 51.7L58 55L53.9 56.9L51.4 53.7Z" fill="#9fa4c5" fill-opacity="0.48"/><path d="M29.2 114.6L27.8 111.7L29 110.4L32.6 112L33.8 113.6Z" fill="#b19a9b" fill-opacity="0.58"/><path d="M81.6 51.9L86 49.1L87.9 51L89.1 54.5L86 56.4L83.6 58L78.5 54.8Z" fill="#dfcdd5" fill-opacity="0.53"/><path d="M43.5 47.9L41.3 45.4L47 44.3L46.2 47.9Z" fill="#7987b0" fill-opacity="0.74"/><path d="M124.2 110L127.7 113.7L124.3 113.9L120.3 112.4L121.2 109.5Z" fill="#a2abb9" fill-opacity="0.74"/><path d="M179.6 11.6L173.7 8.8L177.8 6.5L182.8 8.4Z" fill="#c18db0" fill-opacity="0.70"/><path d="M105.9 80.2L103.4 79.8L103.2 77.9L108 78.2Z" fill="#d2d4dc" fill-opacity="0.74"/><path d="M189.1 61.3L192.4 64.6L186.4 66.2L184.6 65.9L179.7 61.5L184.4 60.6L188 59.3Z" fill="#db6c9d" fill-opacity="0.59"/><path d="M96.1 12.8L92 14.1L91.9 12.3L93 10L95.4 8.1L97.6 9.4L96.9 12Z" fill="#818bac" fill-opacity="0.79"/><path d="M130.6 69.9L122.3 73.6L121.7 67.5L126.8 66.2Z" fill="#d1c3cd" fill-opacity="0.50"/><path d="M141.1 42.5L145.9 39L148.3 43.8L146.2 47.8Z" fill="#ab829f" fill-opacity="0.67"/><path d="M191.5 28.6L195.5 31.1L193.6 34.4L189.8 33.9L189.4 31Z" fill="#e2aad2" fill-opacity="0.60"/><path d="M186.4 94.2L182.9 97.7L180 95.5L179.2 92.3L183.8 91.1Z" fill="#f48db5" fill-opacity="0.62"/><path d="M107.1 26.3L103.3 24.6L107.4 22.1L111.6 24.6Z" fill="#c97e76" fill-opacity="0.50"/><path d="M48.2 71.2L49 70.1L51.5 68.1L53.1 69.1L52.8 71L50.6 72.4Z" fill="#9fa3c0" fill-opacity="0.68"/><path d="M159.8 35.5L150.1 35.8L151 29.5L160.2 31.5Z" fill="#bb89b5" fill-opacity="0.64"/><path d="M172.5 17L170.8 19L166 19.4L167.4 15.4Z" fill="#c08cb2" fill-opacity="0.55"/><path d="M36 26.1L31.2 22.7L35.4 20.2L38.8 21.9L39.4 26.3Z" fill="#9097bd" fill-opacity="0.54"/><path d="M139.8 15.9L138.5 16L136.5 15.4L135 15.2L136 12.7L138.3 13.2L140.5 14.5Z" fill="#bf89a1" fill-opacity="0.72"/><path d="M197.7 50.3L200.3 53.1L197.3 57.4L193.3 60.6L187.9 57.8L190.7 54.2L192.9 49.6Z" fill="#cd73a0" fill-opacity="0.56"/><path d="M168.6 83.2L164.6 85.2L162.5 82.5L164.9 80.7Z" fill="#de99b9" fill-opacity="0.72"/><path d="M134.1 29.7L132.7 31.2L129.6 31L129.5 28.2L132.8 27.7Z" fill="#be8a9e" fill-opacity="0.57"/><path d="M126.4 63.5L123.8 67.8L118.4 66.8L120.2 61Z" fill="#e1d1db" fill-opacity="0.70"/><path d="M189.6 107L191.6 109.9L188.4 111.3L188 108.4Z" fill="#cd799d" fill-opacity="0.65"/><path d="M36.1 36.3L40.7 38.7L38.1 41.3L32.1 41L31.7 36.4Z" fill="#7c87ad" fill-opacity="0.78"/><path d="M160.4 65.9L160.9 63.4L162.1 61.9L163.1 60.4L166.3 63.5L164.4 65.2Z" fill="#b57a9d" fill-opacity="0.65"/><path d="M105.6 66.7L106.8 67.6L104.5 70.7L101.9 71.6L101.1 70.1L99.8 67.6L101.7 65.7Z" fill="#ffefed" fill-opacity="0.67"/><path d="M77.9 69.3L72.3 71.5L68.1 68.4L74.1 63.9L78 64.2Z" fill="#ead7dc" fill-opacity="0.67"/><path d="M161 29.2L156.5 25.7L161.4 22.5L166.5 23L166.2 29Z" fill="#c48fba" fill-opacity="0.49"/><path d="M108.3 74.9L104.7 74.1L106.4 73L108.7 71.8L110.6 72.6L110.3 74.2Z" fill="#f1f2f9" fill-opacity="0.67"/><path d="M104.7 20.7L107.9 21.5L111.1 24.4L106.4 25.1L104 24Z" fill="#a96a63" fill-opacity="0.66"/><path d="M122.9 61.8L125 65.5L119.3 69.6L116.4 66L120.2 61.2Z" fill="#dbcbd4" fill-opacity="0.55"/><path d="M159.2 60.5L160.6 64.2L156.5 64.2L153.4 64.3L153.5 62.7L154.6 59.5L157.3 58.7Z" fill="#ba8baa" fill-opacity="0.56"/><path d="M46.7 50L46.3 49L47.5 46.8L50.5 46.8L52 50.1L49 50.4Z" fill="#717da1" fill-opacity="0.56"/><path d="M163 46.9L162.9 46L163.5 44.5L167.1 44.8L166.6 46.6L165 48Z" fill="#a8769e" fill-opacity="0.55"/><path d="M128 104L136.1 101.9L136.9 107.3L131.7 109.1Z" fill="#afb6c6" fill-opacity="0.49"/><path d="M102.2 73L109.4 69.9L110.7 74.6L107.9 77.2L101.8 76.3Z" fill="#b5b5ba" fill-opacity="0.68"/><path d="M40.2 19.4L37.5 17.1L38.2 13.4L43.3 12.2L49 15.3L46.3 17.4Z" fill="#9196b9" fill-opacity="0.46"/><path d="M39.7 5.2L41.1 5.9L38.6 8.6L37 7.1L36.5 5.8L38 4.9Z" fill="#818099" fill-opacity="0.56"/><path d="M75.2 87L71.6 85.7L69.6 81.4L74.4 78.8L77.3 80.8L79.9 82.7L78.8 87.5Z" fill="#ffdfd6" fill-opacity="0.56"/><path d="M152.9 28.1L156.3 28.8L157.4 32.4L155.9 33L152.2 33.2L151.4 30.4Z" fill="#be8cb7" fill-opacity="0.57"/><path d="M168.1 89.5L171.6 90.5L170.5 94.5L168.6 96.9L164.2 93.2L166.1 90.9Z" fill="#cb7796" fill-opacity="0.51"/><path d="M79.3 106.3L78.6 102.9L84.6 102L86.1 106.3L83.2 108.6Z" fill="#d19a85" fill-opacity="0.52"/><path d="M98 57.4L94.4 55.4L94.3 54L96.6 51.9L99.3 52.5L101.4 54.7L98.7 56.4Z" fill="#bda4a2" fill-opacity="0.46"/><path d="M77.2 11.6L77.1 13.2L74 14.6L73.3 12.7L73.6 10.9Z" fill="#9198be" fill-opacity="0.55"/><path d="M31.7 21.4L34.2 22.2L35.6 26L34.6 31.2L28 29.9L24.2 29.7L27.7 23.8Z" fill="#969dc1" fill-opacity="0.45"/><path d="M88.6 60L89.2 58.2L91.1 58.1L92 60.7L90.2 61.5Z" fill="#d3b5b1" fill-opacity="0.62"/><path d="M88.1 70.7L83.8 66.2L88.8 63.2L94 65.7L95.1 67.4L90.2 70Z" fill="#fce6e6" fill-opacity="0.75"/><path d="M138.9 19.6L142 19.1L145.8 21.7L144.4 23.2L138.8 23.3Z" fill="#e0adca" fill-opacity="0.80"/><path d="M182.8 22.3L182.8 27.5L181.8 29L174.7 28.5L173.6 23.9L179.9 19.9Z" fill="#b584ab" fill-opacity="0.79"/><path d="M110.6 83.8L113.2 81.1L117.2 82L117.2 85.4L113 85.5Z" fill="#c7cfdb" fill-opacity="0.45"/><path d="M88.5 102.9L87.3 100L89.5 99.7L92.8 99.8L91.8 102.2Z" fill="#b6978e" fill-opacity="0.53"/><path d="M106.7 46.2L106 45L108.3 41.9L113.7 43.2L116.6 45.8L113.6 47.6L109.4 49.1Z" fill="#b68785" fill-opacity="0.65"/><path d="M140.2 69.6L137.1 70.9L134.6 69.6L131.9 67.3L134.3 64.7L137 64.5L139.1 66.7Z" fill="#f0e7f4" fill-opacity="0.73"/><path d="M131.5 49.3L129 51.3L124.6 49.7L126 46.6L126.5 43.5L131.4 44.8Z" fill="#f1c6d4" fill-opacity="0.65"/><path d="M146.6 102.4L149.3 104.4L147.5 106.6L144.9 105.5Z" fill="#cfc5db" fill-opacity="0.78"/><path d="M169.1 76.8L167.6 78.4L163.2 76.8L166.9 75.2Z" fill="#b77a98" fill-opacity="0.59"/><path d="M200.8 94.9L202.3 99.4L199.1 102.1L193.2 102.9L190.9 100.8L194.1 95.9Z" fill="#c45f87" fill-opacity="0.68"/><path d="M189 63.4L189.8 60.7L191 59.6L194.7 58.1L197.5 59.4L196.5 64L192 64.8Z" fill="#b95d86" fill-opacity="0.76"/><path d="M106.1 7.4L104.8 6.1L107.5 3.6L110.9 5L108.9 7.6Z" fill="#bf939f" fill-opacity="0.56"/><path d="M100.5 109.9L100.3 112.9L96.6 113.3L92.7 112.3L92.1 109.4L96.2 108L97.5 106.2Z" fill="#9bb4c8" fill-opacity="0.68"/><path d="M118.9 83.4L117.5 85.9L112.4 85.9L112.4 81.6L114.5 80.3Z" fill="#b0b7c2" fill-opacity="0.75"/><path d="M46.7 90.5L45.8 96.7L39.2 93.9L39.7 90.2Z" fill="#c0a5a2" fill-opacity="0.52"/><path d="M64.6 99.7L57.8 101.2L54.4 99.4L56.4 94.5L61.8 97Z" fill="#e4ad99" fill-opacity="0.79"/><path d="M151.4 64.9L154.4 63.5L155.6 65.1L155.2 67.4L152.9 67.1Z" fill="#e2bbd5" fill-opacity="0.55"/><path d="M53.6 32.5L50.7 34.6L46.9 35.2L46.2 31.8L48.8 28.9L53.1 28.6Z" fill="#707fa7" fill-opacity="0.67"/><path d="M119.4 105.7L124.1 103.3L126 106.5L124.3 110.3L119.4 111.1L118.7 108.8Z" fill="#d3e2f2" fill-opacity="0.65"/><path d="M139.4 101.9L135.7 103.4L130.7 105.9L130.3 101.8L129.2 98.7L136.2 97.7Z" fill="#b0baca" fill-opacity="0.75"/><path d="M192.7 6.5L195.3 5.6L197.3 6L196.4 8.9L194.3 8.6Z" fill="#c08bae" fill-opacity="0.76"/><path d="M198.6 46.3L199.8 47.4L197.5 50L195.9 48.5L193.3 46.9L195.5 46.4L196.6 45.2Z" fill="#bc759d" fill-opacity="0.56"/><path d="M128.9 105.4L132.7 103.7L138.5 107.7L133 111.5L127.8 108.5Z" fill="#c8d1e3" fill-opacity="0.78"/><path d="M161.1 40.9L158.3 39.3L161.2 35.3L163.5 34L167.4 39.2L166 41.4Z" fill="#a576a1" fill-opacity="0.70"/><path d="M162.6 7.8L164.5 7.7L166.4 8L165.6 10.2L165.1 11.5L161.4 11.4L161.9 9.2Z" fill="#b0819f" fill-opacity="0.51"/><path d="M107.3 10.7L106.9 12.6L103.4 14L101.5 11.9L100.7 9L104.8 8.2Z" fill="#c4afc2" fill-opacity="0.71"/><path d="M172.1 66.2L173.4 69.6L168.8 71.8L163.3 73L163.4 67.2L162.5 64.5Z" fill="#f0a6cc" fill-opacity="0.48"/><path d="M75.4 67.6L74.7 69.8L71.1 68.8L68.8 68.4L69.8 64.8L72.4 65.7L73.7 66Z" fill="#b3a6b0" fill-opacity="0.67"/><path d="M123.7 54.8L121.3 52.3L125.9 49.4L127.6 53Z" fill="#dfb3c0" fill-opacity="0.50"/><path d="M136.1 12.4L132.7 11.8L133 8.5L138.6 10.5Z" fill="#a27385" fill-opacity="0.75"/><path d="M173.7 68.8L172.6 66.7L174.1 65.6L176.6 67L175.9 69.1Z" fill="#b9618a" fill-opacity="0.56"/><path d="M159.9 43.1L161.9 42.4L166.9 40.5L167.5 42L165.8 46L162.1 46Z" fill="#c18aba" fill-opacity="0.57"/><path d="M65.1 101L63.5 100.1L66.5 98.8L68.9 100.4L67.8 102.3Z" fill="#f9bca3" fill-opacity="0.63"/><path d="M37.8 62.6L35 59.2L35 56.1L37.9 56.6L43.3 58L44.4 60L40.3 61.2Z" fill="#8091bb" fill-opacity="0.48"/><path d="M91.2 63.8L89.4 61.6L88.3 59.7L90.1 58.4L93 58.9L93.9 59.4L93.5 61.6Z" fill="#debfbb" fill-opacity="0.76"/><path d="M67.1 27.4L60.5 28.3L61.1 25.9L62.6 22.4L66.5 25.3Z" fill="#9eacd2" fill-opacity="0.77"/><path d="M181.3 42.6L187.6 44.9L187.4 48.5L183.4 49.1L180.1 45.8Z" fill="#c080ac" fill-opacity="0.61"/><path d="M172.1 35L175.9 37.7L174.1 39.3L169.4 41.1L168.4 37.8Z" fill="#ae7fa7" fill-opacity="0.70"/><path d="M75.2 96.4L73.6 94L75.5 92.5L77.5 92.1L80.1 91.8L81.2 95.4L79.1 95.9Z" fill="#dead9c" fill-opacity="0.67"/><path d="M45 38.2L46.3 36.2L47.8 36.5L49 37.3L49.1 39L46.1 39.1Z" fill="#7788b6" fill-opacity="0.46"/><path d="M181.8 65.2L184.5 67.2L183.3 68.6L180.7 68.7L179.2 68.8L179 65.8L180.4 65.2Z" fill="#f183b0" fill-opacity="0.80"/><path d="M153.8 16.6L157.4 17.7L154.7 21.5L151.9 18.2Z" fill="#cb96bc" fill-opacity="0.76"/><path d="M38.6 20.9L32 20.1L32.6 15.8L34.6 12L38.3 14L41.4 17Z" fill="#8084a1" fill-opacity="0.62"/><path d="M54.9 77.4L53.3 79.3L50.8 79L50.1 76.9L53.4 76.3Z" fill="#b6abba" fill-opacity="0.51"/><path d="M77.4 31.6L79.2 30.1L80.9 28.3L84.9 31L84.1 32.4L82.4 33.8L79.4 34.8Z" fill="#8e97bd" fill-opacity="0.57"/><path d="M95 17.8L96.8 16.4L102.4 17.9L102.5 20.6L99.6 23.4L94.6 23L94.2 20.9Z" fill="#9092b1" fill-opacity="0.53"/><path d="M135.2 9.7L139.3 6.4L141.6 10L139.2 12L134.3 12.4Z" fill="#a6778a" fill-opacity="0.70"/><path d="M181.7 93.1L184.5 89.9L188.3 94.1L183.3 97.2Z" fill="#c85882" fill-opacity="0.53"/><path d="M154.8 111.4L156.2 113.4L154.9 114.2L152 112.9Z" fill="#aa95a8" fill-opacity="0.71"/><path d="M169.7 45.8L172.4 49.5L171 51L164.9 51.2L164.2 48.8L166.3 45.2Z" fill="#e3a4cf" fill-opacity="0.72"/><path d="M104 93L100.7 92.3L98 91.7L100.1 88.6L103.7 88.1L103.9 89.4L105.2 91.3Z" fill="#c5c3cb" fill-opacity="0.64"/><path d="M49 26.3L52 27.9L55 31.3L52 34.6L45.5 36.4L44.2 30.9L42.8 27Z" fill="#7988b2" fill-opacity="0.74"/><path d="M158.5 14L155.3 13.1L157.1 10.8L159.6 8.1L163 10.2L163.9 11.9L162.1 14.6Z" fill="#c28faf" fill-opacity="0.75"/><path d="M197.2 15.2L197.6 13.2L201.1 12.4L201 15.2Z" fill="#b17e9f" fill-opacity="0.73"/><path d="M118.6 90.2L115.3 94.9L112.4 93.9L108.3 91.5L109.3 90.4L112.6 87.1L116.2 89.7Z" fill="#cad2df" fill-opacity="0.62"/><path d="M67.7 46.5L63.6 45.4L59.3 41L64.3 38.7L69 41.8Z" fill="#8b91b3" fill-opacity="0.48"/><path d="M135.8 74.7L133.1 73.1L136 71.2L138.9 72.4L137.1 75.2Z" fill="#d2d6e4" fill-opacity="0.52"/><path d="M131.5 19.6L127.2 17.3L128.5 14.7L132.5 15.5L133.9 18.5Z" fill="#c98da0" fill-opacity="0.62"/><path d="M62.8 93.9L60.3 97.7L52.5 99.2L53.8 90.8Z" fill="#d3a18f" fill-opacity="0.62"/><path d="M79.4 94.1L78.2 92.4L79.4 89.8L83.8 89.8L85.3 92.4L84.4 94.3L81.6 94.7Z" fill="#eecbc1" fill-opacity="0.69"/><path d="M128.4 53.3L127.6 56.5L121.6 57.4L123.4 53.3Z" fill="#ceabb5" fill-opacity="0.78"/><path d="M201.7 27.3L200.3 29.6L195.5 28.4L196.4 26.8L200 25.8Z" fill="#d191bc" fill-opacity="0.54"/><path d="M141.7 117L140.8 120.6L133.8 121.3L133.8 118.6L133.2 114.7L135.7 111.5L138.2 113.1Z" fill="#dddaeb" fill-opacity="0.47"/><path d="M141 11.5L141 13.5L137 13.5L135 12.1L136.5 10L139.8 9.8Z" fill="#b8849a" fill-opacity="0.74"/><path d="M141.7 8.9L147.3 10.7L146.7 14.7L139.6 16.5L139.4 13Z" fill="#b6839b" fill-opacity="0.57"/><path d="M128.8 87L128.1 87.7L124.4 86.5L123.8 85.3L124.6 82.2L129.9 81.4L131 83.3Z" fill="#e8eefc" fill-opacity="0.75"/><path d="M155.9 88.2L158.3 88.1L161.3 89L159.4 91.1L156.2 91.9L153.9 91.2L153.4 89.1Z" fill="#c4aec2" fill-opacity="0.67"/><path d="M175.3 14L169.8 13.6L166.9 10.1L164.6 7L170.7 4.4L174.5 5.8L175.7 8.8Z" fill="#b484a4" fill-opacity="0.77"/><path d="M114.6 76.4L117.7 75.6L121.4 75.5L120.3 78.2L120 79.7L116.7 79.5L114.4 77.8Z" fill="#c7cfda" fill-opacity="0.52"/><path d="M33.2 95.7L37.1 96.1L37.4 98.3L37.8 100.5L33 102L30.9 98.2L30.8 96.9Z" fill="#cdb2b1" fill-opacity="0.66"/><path d="M60.3 23.7L59.9 26.8L57.1 25.8L55.7 23.2L57.6 21.8Z" fill="#808bb1" fill-opacity="0.68"/><path d="M64.8 26.5L60.8 26.4L62.7 22.7L65.6 22.8L67.9 25.4Z" fill="#8594bf" fill-opacity="0.77"/><path d="M139.2 104.3L140.6 98.3L147.3 97.4L145.9 104.2Z" fill="#c1c2d5" fill-opacity="0.57"/><path d="M143.9 115.1L146.4 116.6L144.9 118.7L142.6 117.4L142.1 116.3Z" fill="#bfb4c7" fill-opacity="0.57"/><path d="M139.9 52.2L142.9 52.6L144.4 53.2L145 55.1L141.7 56.8L138.6 55.2L138.9 53.2Z" fill="#b696a7" fill-opacity="0.63"/><path d="M143.5 8.8L143.8 4.9L146.4 1.7L150.1 2.9L152.6 6.8L147.9 8.7L146.9 9.7Z" fill="#cf96b1" fill-opacity="0.75"/><path d="M44.4 11L41.1 8.1L39.3 5.7L41.8 2L49.2 3L48.8 5.9Z" fill="#8b8ba7" fill-opacity="0.74"/><path d="M120.2 26.4L119.9 23L125.4 24.8L124.2 27.9Z" fill="#ae7372" fill-opacity="0.50"/><path d="M111.5 104.9L116.7 105.4L117.3 107.3L116.8 108.7L114.8 111.2L109.9 109.3L109.2 106.9Z" fill="#9facbb" fill-opacity="0.77"/><path d="M157.4 52.4L160.2 52.7L159.4 54.5L157 55.4L155.2 54.9L156 53.1Z" fill="#c98fb8" fill-opacity="0.53"/><path d="M187.5 40.4L183.5 36L186.4 33.8L191.1 33.5L193 37.3Z" fill="#ca8ebb" fill-opacity="0.79"/><path d="M84.4 32.4L82.3 31.4L81.8 29.9L83.7 28.8L85.7 29.5L86.8 30.9Z" fill="#7e829f" fill-opacity="0.75"/><path d="M115.9 68.8L111.8 66.9L112.4 65.6L112.6 63.8L115.7 64.5L117.9 65.4L117.7 67.1Z" fill="#c2b7bc" fill-opacity="0.57"/><path d="M101.6 119.1L103.6 118.3L105.7 118.3L105.2 119.6L103 121.3L102.3 120.5Z" fill="#c8dced" fill-opacity="0.71"/><path d="M102.6 48.7L103.6 53.5L99.7 56.1L95.3 55.2L94.1 52.5L93.3 49.2L97.5 46.9Z" fill="#c0a7a7" fill-opacity="0.76"/><path d="M96.3 2.8L99.8 1.8L101.8 4.1L102.3 6L98.4 9.5L95.5 9.2L94.5 5.3Z" fill="#9d97b4" fill-opacity="0.51"/><path d="M137.8 78.9L143.9 83.6L135.5 87L128.8 84.5Z" fill="#aeb7c5" fill-opacity="0.78"/><path d="M187.4 44.1L182.2 42.8L186.3 38.7L188.9 41.6Z" fill="#cb8cb9" fill-opacity="0.57"/><path d="M190.8 22.4L184.8 27.2L183.8 22.7L186.4 20.8Z" fill="#d095c1" fill-opacity="0.49"/><path d="M159.2 79.8L161.1 75.5L164.8 78.9L164.5 83.2Z" fill="#d49fbd" fill-opacity="0.60"/><path d="M162.2 12.5L167.9 15.5L164.7 20.3L157.8 18.3Z" fill="#be8cb0" fill-opacity="0.70"/><path d="M156.6 94L155.7 92.6L154.7 90.8L156.7 88.8L161.4 90.4L162 92.5L159 94.2Z" fill="#d4bcd2" fill-opacity="0.69"/><path d="M57.3 96.2L58.9 98.4L57.2 98.7L54.8 99.3L53.8 96.8L54.9 95.2Z" fill="#facbbb" fill-opacity="0.68"/><path d="M131.9 60.8L133 62.8L130.7 64.5L127.7 65L126.9 63.9L125 61.3L129.9 59.1Z" fill="#cdbcc7" fill-opacity="0.61"/><path d="M184.6 106.6L192.2 107.7L188 111.9L179.8 112.5L181.5 108.4Z" fill="#ea9dbe" fill-opacity="0.61"/><path d="M117.7 30L123.3 31.1L124.5 34.2L117.9 35.8L112.5 34.5Z" fill="#af7d7f" fill-opacity="0.77"/><path d="M115.2 12.6L115.9 10.7L118.4 10.4L120.2 10.5L121.2 12.5L120.3 14.2L117 14.6Z" fill="#ac6f6c" fill-opacity="0.76"/><path d="M167 26.6L166.7 30.2L161.9 31.4L157.4 30.1L156.8 26.5L159.9 23.2L165.6 23.8Z" fill="#a87aa0" fill-opacity="0.71"/><path d="M54.4 7L58.8 3.2L63.2 2.3L67.6 3.9L64.9 6.4L63.1 9.1L57.7 10.2Z" fill="#8e90b0" fill-opacity="0.69"/><path d="M190 33.2L184.3 32.2L181.5 30.6L186.3 25.3L191.3 25.7L193.9 28.1Z" fill="#c28ab5" fill-opacity="0.75"/><path d="M82.7 19.6L85.8 21.7L85.3 23.8L81 24.1L79.1 21.5L80 19.9Z" fill="#a6adcf" fill-opacity="0.52"/><path d="M139.7 37.3L138.8 32.9L143.9 30.5L145.5 36.3Z" fill="#b184aa" fill-opacity="0.56"/><path d="M112.2 83.9L114.6 88.8L109.4 90.7L108.9 88.2Z" fill="#bec3ce" fill-opacity="0.64"/><path d="M102.2 39.9L101.6 37.2L105.5 35.5L107.7 38.1Z" fill="#cc9a9c" fill-opacity="0.72"/><path d="M76.4 68.9L71 67.6L73.2 64L77.8 64.6Z" fill="#ac9fa8" fill-opacity="0.56"/><path d="M68.3 48.1L66.7 48.1L66.1 45.6L67.9 44.5L71.6 46.2L71.5 47.1Z" fill="#7d819c" fill-opacity="0.63"/><path d="M163.4 93.1L168.7 92.9L170.7 95.2L167 97.8L163.1 98.6L160.9 95.4Z" fill="#ebabc7" fill-opacity="0.60"/><path d="M72 54.1L79.9 53.1L83.4 59.2L77.2 59.6L73.6 57.6Z" fill="#cfc6d5" fill-opacity="0.46"/><path d="M65.8 52.5L69.1 52.3L72.5 54.5L68.8 56.9L66.4 55.3Z" fill="#8d8ea5" fill-opacity="0.56"/><path d="M48.8 60.5L52.2 66.6L47.2 69.8L41.6 66.2Z" fill="#848cac" fill-opacity="0.78"/><path d="M67.8 47L65.7 48.3L65.6 46.8L64.9 45.4L66.5 43.7L68 43.2L69.8 45.6Z" fill="#9297b7" fill-opacity="0.51"/><path d="M65.1 110.3L71.8 112.3L69.5 114.5L67 116.7L61.6 116.8L59.8 111.1Z" fill="#ca9f91" fill-opacity="0.78"/><path d="M172.1 59.5L165.8 57.2L164.8 54.6L172.4 49.6L176.1 50.6L175.7 55.4Z" fill="#c881af" fill-opacity="0.50"/><path d="M112.9 7.4L113 10.4L110.7 13.9L104.6 9L108.8 7Z" fill="#d6a5a9" fill-opacity="0.49"/><path d="M59.8 60.7L59.9 63.6L57.1 63.8L53.4 63.3L54.6 61.9L57.7 59.6Z" fill="#8b8ea8" fill-opacity="0.46"/><path d="M188.1 14.6L182.1 19.9L175.1 15.3L179.4 11.8Z" fill="#e3afd4" fill-opacity="0.54"/><path d="M77.4 66.9L83.3 63.8L92.2 64.8L86.2 70Z" fill="#b8a5a6" fill-opacity="0.59"/><path d="M179.8 14.5L183.7 16L183.6 19.4L179.5 19.9L178 17Z" fill="#ad7da0" fill-opacity="0.71"/><path d="M176.6 88.9L180.8 92.8L174.2 94.7L169.4 91.3Z" fill="#f79dbe" fill-opacity="0.52"/><path d="M174.6 117.8L176 113.8L179.8 114.7L180.1 118L178.3 120.2Z" fill="#e5adc9" fill-opacity="0.61"/><path d="M51.9 104.7L45.7 106.2L43.1 106.3L41.1 103L44.6 98.7L49.9 100.8Z" fill="#f3d1ca" fill-opacity="0.48"/><path d="M179.8 65.9L175.8 66.2L173 62.1L177.3 60.2L180.4 61.2Z" fill="#d26d9e" fill-opacity="0.69"/><path d="M198.5 22.7L201.9 22.5L203.2 24.9L199.9 25.8L196.7 26.1Z" fill="#bf86ac" fill-opacity="0.59"/><path d="M119.7 55.2L118 56.6L113.6 54.7L115.4 50.2L118.8 50.6L123.2 51.8Z" fill="#ecc8ce" fill-opacity="0.73"/><path d="M187.6 36.8L184.6 33.4L187.7 28.7L192.7 28.3L195.6 33.1L196.5 35.5L191.1 35.4Z" fill="#ad799f" fill-opacity="0.56"/><path d="M47.2 80.9L44.9 78.1L44 74.3L46.6 74.8L50.7 76L50.1 78L49.9 79.9Z" fill="#b9bdd9" fill-opacity="0.69"/><path d="M168.2 94.3L163.3 93.5L162.9 90.6L166.9 90.5Z" fill="#b87893" fill-opacity="0.49"/><path d="M156.8 98.9L161.7 98.5L166 99.7L164.4 105L160.1 105.4L154.3 103.6Z" fill="#e5c4db" fill-opacity="0.62"/><path d="M138.9 70L134.1 72.3L131.9 74.6L128.6 71.4L129.9 67.2L134.5 66.2L136 66.9Z" fill="#d1c7d3" fill-opacity="0.61"/><path d="M173.8 7.3L177 5.5L180.9 7.3L179.8 11.7L176.2 11.6L173.9 10.5L174.1 8.2Z" fill="#bf8caf" fill-opacity="0.47"/><path d="M108.1 121.5L105.6 120.4L104.6 117.3L110.2 116.5L111.4 118.8Z" fill="#bed1e5" fill-opacity="0.74"/><path d="M66.8 99L70.1 98.9L71 101.8L66.5 102Z" fill="#fcbfa6" fill-opacity="0.71"/><path d="M195.6 41.2L195.2 43.3L193.5 44.4L191.8 43.1L190.2 40.8L192.8 40.5Z" fill="#d48dba" fill-opacity="0.64"/><path d="M96.3 109.5L97.4 108.5L99.1 110.2L98.3 112L97.5 113.2L94.6 112.2Z" fill="#a5c1d7" fill-opacity="0.73"/><path d="M57.6 35L60.3 38.8L58.1 43.2L53.3 44.8L47.8 40.4L47.5 36.4L54 35.5Z" fill="#7080a9" fill-opacity="0.77"/><path d="M186.7 44.2L185.7 40.9L187.2 38.7L193.4 41.3L191.1 43.2Z" fill="#e1a5ce" fill-opacity="0.53"/><path d="M85.2 86.3L86.6 81.7L94.3 81L95.4 86.6L88.7 88.8Z" fill="#c6bcc0" fill-opacity="0.75"/><path d="M53 82L55.3 81.6L58 82.3L56.5 84.4L55.4 85.3L53.3 84.2Z" fill="#d5b0a6" fill-opacity="0.76"/><path d="M193.3 20.5L195.2 22.8L191.3 23.8L189.3 24.4L187.5 21.7L190.8 17.7Z" fill="#e9b1d9" fill-opacity="0.74"/><path d="M38.4 114.9L33.4 115.1L30.1 114.1L30.8 110.8L33.9 108.5L41.1 110.2Z" fill="#c7abaa" fill-opacity="0.51"/><path d="M94.1 34.5L91.9 30L101.4 29.2L102.3 32.6Z" fill="#d6b4bf" fill-opacity="0.64"/><path d="M32.3 48.5L32.5 49.6L31.9 50.5L28.4 50.6L28.4 48.8L30.6 47.3Z" fill="#a9b2d5" fill-opacity="0.51"/><path d="M58.1 98.9L57.2 101L53.7 99.3L54.6 97.4Z" fill="#bf9688" fill-opacity="0.48"/><path d="M67.6 22.5L66.5 24.7L63.5 26.4L59.2 24.4L57.8 20.9L62.4 19.7Z" fill="#7985ac" fill-opacity="0.77"/><path d="M188.6 93.7L190.3 101.8L182.6 101.5L182.1 94.9Z" fill="#c55f87" fill-opacity="0.50"/><path d="M157.5 40.1L155 37.9L159.4 35.7L164.7 36.6L165 39.6L161.6 40.6L157.6 41.2Z" fill="#bf8abb" fill-opacity="0.77"/><path d="M126.1 79.2L120.3 80.8L116.6 76.3L124.6 75.2Z" fill="#b6bac5" fill-opacity="0.58"/><path d="M150.4 109.1L150.7 110.3L148.3 110.9L146.9 109.4L148.1 107.3Z" fill="#a699ab" fill-opacity="0.53"/><path d="M171.2 95.3L172.2 99L174.2 103.2L166.7 104.7L161.9 103.8L163.9 99.4L167.2 95.3Z" fill="#c485a1" fill-opacity="0.69"/><path d="M102.1 50.1L103.7 53L100.9 54.9L98.3 53.4L99.1 51.3Z" fill="#f8dcde" fill-opacity="0.62"/><path d="M67.9 42L65.2 44.8L58.9 45.9L55.8 43.1L58.8 39.7L60.8 37.1Z" fill="#7881a3" fill-opacity="0.63"/><path d="M37 57.8L37.6 61.1L34.7 61.6L33.4 59.5Z" fill="#6c7a9e" fill-opacity="0.78"/><path d="M162.6 26.6L160.3 28.6L158.8 28.6L158.6 25.9L159 23.9L162.1 25.5Z" fill="#c791bd" fill-opacity="0.57"/><path d="M150 6.9L153.8 5.5L155.2 7.4L153.3 9.7L148.5 9.5Z" fill="#b5859f" fill-opacity="0.46"/><path d="M181.1 82.6L183.5 82.4L185.3 84.5L183 85.5Z" fill="#f47ba9" fill-opacity="0.78"/><path d="M143 35.1L145.8 38.2L140.7 40.8L136.3 39.7L136 37.1L135.2 35.1L141.4 34.6Z" fill="#b589a8" fill-opacity="0.51"/><path d="M152.3 54.9L154.5 52.5L158.8 54.6L155.6 57Z" fill="#c08cb0" fill-opacity="0.71"/><path d="M102.8 47.7L106.8 46.7L110.3 49.8L107.1 52.7L104 52.1L101.2 48.9Z" fill="#ceacae" fill-opacity="0.56"/><path d="M94.1 62.4L94 59.7L92.5 58L95.3 56.3L99.1 57.3L101.7 59.3L99.8 61.9Z" fill="#ceb3b0" fill-opacity="0.71"/><path d="M127.9 24.6L122.5 25.3L121.9 22L126.5 20.1L128.2 22.5Z" fill="#ac7172" fill-opacity="0.47"/><path d="M37.2 106.1L37.8 110.5L37.7 115.2L29.9 115.5L26.8 109.9L31 106.4Z" fill="#b9a0a0" fill-opacity="0.49"/><path d="M126.9 110.3L125.2 110.9L123.4 109.4L123.6 107.7L123.3 106.4L126.9 107.6L128.7 107.4Z" fill="#b7c5d6" fill-opacity="0.62"/><path d="M164.7 71.1L165.6 77.2L157.9 76.8L152.3 73.5L157.8 70L159.5 68.6Z" fill="#c494b0" fill-opacity="0.50"/><path d="M196.1 99.9L192.7 97.7L195.1 93.2L200.9 91.3L202.5 94.9L203.4 99.5Z" fill="#f285b0" fill-opacity="0.46"/><path d="M82.4 27L78.8 26.9L80.1 21.6L84 21.9L90.3 23.3L89 25.2Z" fill="#8388a8" fill-opacity="0.52"/><path d="M107.3 45.6L114.8 47.1L114.2 50.1L110.1 54L106.6 52.4L103.5 49.6Z" fill="#f8d2d3" fill-opacity="0.48"/><path d="M148.2 41.2L143.4 44L138.9 42.2L143.1 39.5Z" fill="#ab829e" fill-opacity="0.70"/><path d="M158.7 49.1L149.2 47.4L153.7 41.4L159.6 40.5Z" fill="#ab7ba5" fill-opacity="0.71"/><path d="M39.3 16.6L42.3 11.6L48.1 14.4L45.2 20.6Z" fill="#8c90b2" fill-opacity="0.70"/><path d="M106.9 89.9L109.6 86.3L114.5 88.8L111.6 91.2Z" fill="#d9dde9" fill-opacity="0.52"/><path d="M172.2 90L174.7 90.1L177.5 90.5L176.9 93.2L175 95L172.7 94.5L172.3 92.5Z" fill="#d07698" fill-opacity="0.71"/><path d="M137.1 99.4L137 101.1L134.8 101.1L133.7 99.4L132.4 98.2L134.8 96.9L137 97.6Z" fill="#cbd7e9" fill-opacity="0.56"/><path d="M197.4 23L204.7 24.9L200.1 30L195.5 27.3Z" fill="#b07a9e" fill-opacity="0.71"/><path d="M91.9 115.7L90.3 113.4L95.5 108.7L99.6 109.5L99.1 114.5L96.7 117.6Z" fill="#9cb1c3" fill-opacity="0.62"/><path d="M57.9 105.2L51.3 104L49.5 99.6L53.7 95.4L59.6 97.4L61.3 101.7Z" fill="#c59786" fill-opacity="0.78"/><path d="M165.2 51.9L167.5 51.2L168.9 52.6L168.2 53.9L165.9 54L164.5 53.2Z" fill="#a96f95" fill-opacity="0.58"/><path d="M69.7 110.4L72.5 110.4L77.5 113.6L74.7 118.1L69.3 117L66.2 113.3Z" fill="#dbad9e" fill-opacity="0.73"/><path d="M65.8 70.9L70.9 67L75.7 65.9L79.5 71.7L75.5 73.1L67.5 73.5Z" fill="#b7a5a9" fill-opacity="0.50"/><path d="M172.1 13.6L171.6 11.3L175.6 8.8L176.9 13.1Z" fill="#deaccf" fill-opacity="0.68"/><path d="M191.8 71.4L196 73.1L193.3 76.2L190.8 74.4Z" fill="#bd517b" fill-opacity="0.46"/><path d="M141.9 91.1L142.3 91.9L142.8 93.2L140.7 94.5L139.7 94.5L138.2 93.1L139.6 91.9Z" fill="#a0adbd" fill-opacity="0.56"/><path d="M105.5 19.5L109.1 18.1L113.6 19.4L116.6 20.1L116 25.1L112.5 25.9L108.7 23.4Z" fill="#a76862" fill-opacity="0.50"/><path d="M121.7 112.5L120.4 115.1L117.7 115.3L116 113.3L115.7 111.4L120.5 111.2Z" fill="#a3adbb" fill-opacity="0.77"/><path d="M77.5 34L74.3 35.3L70.9 32.1L76.9 29.6Z" fill="#7985aa" fill-opacity="0.71"/><path d="M148.6 8.3L146.9 9.3L143.8 10.3L139.5 8.3L137.6 5.7L143.5 2.4L146.6 5.1Z" fill="#a27589" fill-opacity="0.67"/><path d="M138.6 37.7L135.2 37.9L133.6 36.5L133.7 34.8L135.7 32.5L138.3 33.7L138.3 35.3Z" fill="#e0b3cc" fill-opacity="0.71"/><path d="M182 24.6L182.5 28.7L182.2 30.4L175.6 31.6L174.2 28.6L176.5 26Z" fill="#af7fa6" fill-opacity="0.57"/><path d="M118.7 87.7L118.6 90.6L115.1 92.9L111 88.7L109.1 85.8L114.5 83.7L119.8 84.4Z" fill="#e8f0fc" fill-opacity="0.56"/><path d="M92 72.2L93.3 68.8L96.6 68.4L96.4 71.1Z" fill="#c0b2b3" fill-opacity="0.50"/><path d="M113 116.8L103 116.9L103.5 110.8L104.5 107.5L114.4 109.2Z" fill="#b7d0e6" fill-opacity="0.55"/><path d="M34.5 71.4L32.3 71.1L32.4 68.9L34 67.4L37 70.3Z" fill="#afb7d7" fill-opacity="0.70"/><path d="M155.5 27.1L154.5 31.2L152.3 30.9L148.8 28.3L149.9 25.9L153.8 25.7Z" fill="#b385ad" fill-opacity="0.48"/><path d="M89.7 96.7L93.6 95.7L95.7 99L95 101.9L91.1 102L87.4 98.8Z" fill="#cbb7b6" fill-opacity="0.64"/><path d="M89.4 57.7L85.9 53L90.2 52.5L96.5 52.9L94.2 57.6Z" fill="#e0c0bc" fill-opacity="0.74"/><path d="M58.4 94.5L60.5 98L57.5 98.9L55.1 97.5L54.6 94.9Z" fill="#e7b29f" fill-opacity="0.69"/><path d="M160.1 60.6L162.8 58.6L167.2 59.7L166.1 62.5L164.2 63.2L160.5 63Z" fill="#d78db9" fill-opacity="0.76"/><path d="M192.5 93.7L197.6 95.9L196.2 101L192.5 98.1Z" fill="#c55a84" fill-opacity="0.52"/><path d="M172.7 82.7L173.1 84.3L171.2 84.9L169.4 84.7L168.3 82.9L170 82.2L171.3 82.1Z" fill="#cc7899" fill-opacity="0.46"/><path d="M144.8 105.5L148.4 100.9L152.4 103.7L149.8 107.3Z" fill="#aa9fb1" fill-opacity="0.54"/><path d="M41.3 33.6L45.8 30.5L51.7 31.2L45.8 36.4Z" fill="#7382ac" fill-opacity="0.45"/><path d="M56.1 104.9L53.1 109L48 107.8L48.1 104.7L49.3 101.9L53 99.3L55.8 101.2Z" fill="#cca59a" fill-opacity="0.69"/><path d="M199.5 14.7L194.6 17.5L192.7 15.7L190.7 12L196.5 11.8Z" fill="#c18aaf" fill-opacity="0.70"/><path d="M182.2 17.8L183.1 15.1L187.9 16.1L186.6 18.3Z" fill="#b683a7" fill-opacity="0.65"/><path d="M99.2 12.8L100.9 10.9L101.8 10.8L104.1 11.8L103.6 14.6L100.5 14.7Z" fill="#bfb3cc" fill-opacity="0.68"/><path d="M131.1 19.6L128.5 19.5L127.5 17.7L129.2 16.5L131.3 16.9Z" fill="#ab757f" fill-opacity="0.77"/><path d="M174.2 97.7L174.1 95.4L177 95.7L179.6 95.9L179.8 97.3L177.8 99.9L175.8 98.7Z" fill="#df82a6" fill-opacity="0.59"/><path d="M142.9 114.5L136.7 115.5L131.6 116.9L130.5 113.5L133.3 108.6L135.7 108.4L143 111.2Z" fill="#c8c8da" fill-opacity="0.71"/><path d="M55.1 75L53.9 71.5L59.6 72.2L58.3 75.9Z" fill="#aba2b1" fill-opacity="0.73"/><path d="M190 39.1L190.3 41.8L184.8 43.2L181.6 41.6L181.6 37.7L185 37.2Z" fill="#cf92c1" fill-opacity="0.79"/><path d="M123.1 75.6L123.5 76.9L120.6 77.4L117.9 77.3L118.6 75.2L121 74.4Z" fill="#d2d5e1" fill-opacity="0.68"/><path d="M63.5 80L59.3 77.9L56.7 75L58.3 71.8L64.2 72.7L67.7 76.4Z" fill="#b4a1a7" fill-opacity="0.76"/><path d="M170.6 47L169.9 49L168.2 50.6L164.5 49.1L163.3 47.1L167.3 45.3Z" fill="#e7a8d4" fill-opacity="0.64"/><path d="M174.6 64.8L170.1 66.6L167.7 65.3L166.2 63.5L169.6 61.9L172.4 62.7Z" fill="#cf7aa7" fill-opacity="0.54"/><path d="M166.3 112.3L165.4 116.2L159.3 112.1L160.3 109.6L166.7 108Z" fill="#ecc5dd" fill-opacity="0.57"/><path d="M70.9 10.7L68.1 9.2L65.6 6.9L71.5 3.2L73.4 7.7Z" fill="#8285a4" fill-opacity="0.59"/><path d="M72.2 79.9L64 76.1L70.1 71.1L75.3 70.7L76.1 76.8Z" fill="#bfa49f" fill-opacity="0.76"/><path d="M174.9 92.9L172.9 92.1L172.3 91.5L173.8 89.8L175.5 90.3L177.4 91.2Z" fill="#e783a8" fill-opacity="0.51"/><path d="M99.1 32.2L95.6 31.2L94 29.4L97.9 27L102.4 28.3L101.6 31.1Z" fill="#ab8892" fill-opacity="0.62"/><path d="M151.7 111.8L151.2 109.7L151.5 107.9L154.6 108L154.8 109.4L153.9 110.7Z" fill="#b5a2b5" fill-opacity="0.70"/><path d="M59.9 78L57.9 79.9L52.6 78.6L53.4 74.9L56.9 73.2L58.9 74.2Z" fill="#bdadb9" fill-opacity="0.72"/><path d="M194.5 113.1L193.8 114.4L192.1 114.7L190.5 115.6L190.1 113.5L190.2 111.2L193.1 111.8Z" fill="#f1a3c6" fill-opacity="0.54"/><path d="M26.9 102.4L30.3 99.7L35.6 104.1L31.1 106.9Z" fill="#dfc7c7" fill-opacity="0.61"/><path d="M105.7 84.5L108.8 84.6L113.3 87.7L107.1 90.1L103 87.9Z" fill="#cecfd9" fill-opacity="0.79"/><path d="M190.5 42.5L194 43.6L193.6 46.9L191.9 48.6L188.8 49.2L186.4 46.6L187.1 44.1Z" fill="#b5759c" fill-opacity="0.46"/><path d="M102.5 77.2L104.7 76.8L106.7 79L104.1 80.4L101.4 78.5Z" fill="#cbcad2" fill-opacity="0.47"/><path d="M186.4 112.6L184.7 105.4L188.5 105L196.2 105.7L199 107.7L191.2 111.1Z" fill="#c67295" fill-opacity="0.56"/><path d="M118.8 7.1L116.7 8.1L114.2 7.8L114 5.8L115.4 4L118.9 4.8Z" fill="#ce8d90" fill-opacity="0.60"/><path d="M122.6 80.6L118 85.4L112.6 81.1L116 77.9Z" fill="#b4bcc8" fill-opacity="0.67"/><path d="M79 29.4L77.9 32.4L74.8 31.3L75.5 28.3Z" fill="#6b7698" fill-opacity="0.47"/><path d="M175.7 37.8L173.1 35.7L175.6 31.8L180.6 34.4Z" fill="#ba89b4" fill-opacity="0.61"/><path d="M190.1 69.8L194.7 67.9L196.2 70.8L196.2 74.6L192.3 73.5L188.9 72Z" fill="#d55c8c" fill-opacity="0.62"/><path d="M154.2 46.1L160.5 50.6L159.5 55.1L151.8 54.7L147.7 53.7L148 48Z" fill="#bf8db2" fill-opacity="0.57"/><path d="M45 21.8L47.7 23.9L43.3 27.8L40.1 23.6Z" fill="#7b84a7" fill-opacity="0.62"/><path d="M196.7 112.5L197.5 110.3L200 109.3L202.2 111.6L202.1 114.6Z" fill="#b06987" fill-opacity="0.64"/><path d="M118 14.3L118.5 20.6L108.9 19.2L110 12.7L114.9 12.8Z" fill="#e19f9c" fill-opacity="0.57"/><path d="M37.7 68.7L44.4 74.3L35.5 76.8L31.3 69.7Z" fill="#b2b8d5" fill-opacity="0.55"/><path d="M38.4 75.1L40.8 72.6L44.1 74.1L41.3 77.9Z" fill="#8c92b0" fill-opacity="0.68"/><path d="M164.7 49.9L170.8 50.8L175.6 51.3L174.1 57.4L166.8 58L163.4 53.7Z" fill="#bc7aa5" fill-opacity="0.53"/><path d="M116.6 49.7L116 53.2L112.2 55.1L106.3 55.8L107.9 50.6L112.7 47.3Z" fill="#d6b8ba" fill-opacity="0.70"/><path d="M84 17.3L86.5 18.6L87.6 20.1L87.3 20.9L84.6 22.5L83.9 22L81.6 20Z" fill="#8488a8" fill-opacity="0.52"/><path d="M60.6 7.9L61.6 7.9L62.6 10.2L61.5 10.7L58.6 10.6L58.5 9Z" fill="#adb2d3" fill-opacity="0.80"/><path d="M130.1 75.8L132.9 72L136.9 73.9L135.6 78.4Z" fill="#e2e7f4" fill-opacity="0.62"/><path d="M183.8 111L185.4 115L174.7 115.9L173.4 110.7L178.4 109.2Z" fill="#be7e9c" fill-opacity="0.53"/><path d="M171.5 32.4L169.8 34.2L167.6 33L169.8 30.5Z" fill="#c992c0" fill-opacity="0.56"/><path d="M124.9 9.5L133.2 4.9L138.3 8.4L137.6 13.8L131 15.1Z" fill="#b57f90" fill-opacity="0.54"/><path d="M114.5 19.3L109.9 20.4L106.4 15.8L110 12.9L116.7 13.3L115.6 16.8Z" fill="#ab6e6a" fill-opacity="0.49"/><path d="M191.4 113.8L191.8 115.8L188.2 116.2L186.9 115.6L188 113.9L190.4 113.2Z" fill="#c87fa0" fill-opacity="0.52"/><path d="M195.5 87.3L190.9 93.3L183 90L191.3 84.6Z" fill="#c94f7d" fill-opacity="0.59"/><path d="M160.7 20L154.9 19.4L153.2 18.3L155 14.7L160.7 14.2L162.4 16.1L161.5 18.2Z" fill="#a57a98" fill-opacity="0.61"/><path d="M25.8 41.5L35.8 41.6L37.6 43.6L34.1 49.9L30 49.2L22.4 46.6Z" fill="#919bc1" fill-opacity="0.57"/><path d="M136.2 12.6L133.7 11L132 5.4L138.2 4.3L143.3 6.9L142.7 10.5Z" fill="#e4adc1" fill-opacity="0.79"/><path d="M95.8 63.8L94.3 66.8L88.4 65.5L87.3 62.5L87.8 61.4L90.5 57.5L94.1 59.8Z" fill="#f6dad7" fill-opacity="0.53"/><path d="M78.9 98.6L80.2 103.1L75.5 104.3L72.9 99.4Z" fill="#bc8b78" fill-opacity="0.77"/><path d="M105.1 82.4L99.4 83.4L98 79.1L103.1 79.4Z" fill="#bab8c0" fill-opacity="0.78"/><path d="M179.7 30.7L183.6 32.2L186.2 33.8L183.3 36.9L178.6 33.7Z" fill="#e8b3df" fill-opacity="0.45"/><path d="M114 37.3L117.5 32.9L123 35L125.7 38.1L117.8 40.6Z" fill="#bf8a8a" fill-opacity="0.67"/><path d="M184.5 85.6L182.9 88.7L180.1 89.1L177.2 87.5L177.7 85.5L180.2 84.5L182 84.8Z" fill="#cd5b86" fill-opacity="0.79"/><path d="M77 16.9L78.2 17L79.3 18.8L75.4 19.7L75 18Z" fill="#8894bc" fill-opacity="0.69"/><path d="M102.2 31.3L102.9 26L106.3 25.3L108.1 27.3L106.6 30.4Z" fill="#dea19e" fill-opacity="0.47"/><path d="M110.7 40L107.9 41.7L104 38.7L105 36L109.4 35.1L111.5 37.3Z" fill="#c6908e" fill-opacity="0.51"/><path d="M65.4 107.4L69 107.5L69.4 109.1L67.7 110.4L65.2 110.3Z" fill="#d8a592" fill-opacity="0.56"/><path d="M100.1 17.6L92 11.6L98.5 7.4L104.7 12.9Z" fill="#8185a3" fill-opacity="0.62"/><path d="M118.1 22L118.8 20.9L121.2 21.2L122.2 22.5L121.3 23.7L118.6 23.7L118.1 23Z" fill="#cd837e" fill-opacity="0.76"/><path d="M81.9 103.1L84.9 100.6L88.7 101.4L88.9 105.7L84.2 106Z" fill="#ffc8b3" fill-opacity="0.48"/><path d="M147.1 119.7L144.1 118.6L143.8 115.7L147 114.2L148.8 117.4Z" fill="#baadc0" fill-opacity="0.53"/><path d="M55.2 99.3L49.8 102.2L45.1 100.8L48.4 94.8L52.5 94.6Z" fill="#b6968d" fill-opacity="0.65"/><path d="M191.1 36.2L191.4 38.3L185.5 39.7L184.4 37.6L185.2 35.2L186.6 34.8Z" fill="#dfaad3" fill-opacity="0.52"/><path d="M84.5 13.3L81.1 15.5L75.4 13L76.9 9.7L82.1 10.4Z" fill="#888cac" fill-opacity="0.51"/><path d="M38.8 27.6L36.9 28L31.5 29L30.4 24.9L33.5 20.8L41 21.2L43.2 25.5Z" fill="#acb4d8" fill-opacity="0.76"/><path d="M61.1 118.5L58.2 122.2L55.2 121.9L52.2 117.8L55.5 116.8Z" fill="#c6a39c" fill-opacity="0.64"/><path d="M189.7 103.9L188.7 106.7L186.6 108.1L184.5 105.5L186.2 103.9Z" fill="#d4779e" fill-opacity="0.53"/><path d="M51.6 112.2L48.1 109.5L51 107.2L55.3 108.6Z" fill="#ecc7be" fill-opacity="0.52"/><path d="M161.6 28.5L169.1 26.7L170 30.4L168.3 34.6L162.6 33.4Z" fill="#d8a7d1" fill-opacity="0.72"/><path d="M143.8 108L144.4 103L149 99.3L153.5 105Z" fill="#c5bbcf" fill-opacity="0.58"/><path d="M168.9 90.3L164.7 94.5L161.3 93.3L159.4 90L163.8 87.2Z" fill="#d594b1" fill-opacity="0.55"/><path d="M116.4 92.9L117.3 91.5L119.7 92.1L121.7 92.6L119.4 95.2L117.6 94.5Z" fill="#c6d9ea" fill-opacity="0.55"/><path d="M57 49.6L55.1 50.7L52.6 49.6L53.6 47.3L54 46.4L56.8 47.5L58 48.1Z" fill="#a4aed2" fill-opacity="0.65"/><path d="M137.5 96.4L133.1 97L132.8 95.5L135.4 93.3L136.8 95Z" fill="#c9d6e9" fill-opacity="0.79"/><path d="M134.6 67.9L138.9 65.9L141.8 66.5L143.7 69.4L137.8 70.2Z" fill="#b7afbd" fill-opacity="0.65"/><path d="M148 90.3L145.7 92L140.3 89.7L139.3 87.3L144.8 86.3Z" fill="#a0abbb" fill-opacity="0.59"/><path d="M191.3 76.3L192.6 76.8L192.6 78.8L190.3 79.4L187.1 78.1L188.8 77.3Z" fill="#cc5583" fill-opacity="0.59"/><path d="M78.7 35.5L82 39L78.1 42.9L71.5 38.3Z" fill="#848fb4" fill-opacity="0.74"/><path d="M42.2 83.9L41.2 86.4L38.7 83.9L40.4 82.3Z" fill="#e7cfcf" fill-opacity="0.49"/><path d="M158.1 100.3L149.4 101.3L149.1 95.2L156 93.8Z" fill="#cebacf" fill-opacity="0.52"/><path d="M69.1 51.9L67.7 53.2L62.8 52.2L63.9 48.9L68.8 50.4Z" fill="#bfc1dd" fill-opacity="0.75"/><path d="M167.6 87.2L161.3 89.7L157.4 88.6L161.8 85.6Z" fill="#d59eba" fill-opacity="0.77"/><path d="M71.9 52.5L68.4 51.1L69.1 47.9L70.7 46.1L73.6 45L74.1 47.6L73.8 49.6Z" fill="#8386a1" fill-opacity="0.63"/><path d="M161.6 40.8L158.9 39.6L159.9 35.7L163.4 36.2L165.9 38Z" fill="#a677a2" fill-opacity="0.53"/><path d="M79.8 43.2L79 44.7L76.6 46L74.1 44.2L75.3 42.6L77 42.1Z" fill="#838eb2" fill-opacity="0.73"/><path d="M34.5 85.3L36.4 82.5L38.4 82.3L40.3 84.9L38.1 87.2Z" fill="#d8bdbd" fill-opacity="0.59"/><path d="M150.7 14.7L143.5 16.6L140.6 12.4L143.3 9.4L152.4 10Z" fill="#bb88a2" fill-opacity="0.65"/><path d="M181 79.2L177.6 78.3L178.8 71.3L185.7 72.8L190.3 73.9L186.9 81.1Z" fill="#d85989" fill-opacity="0.59"/><path d="M70 80.6L63.8 82.5L61.9 79.1L68 75.5Z" fill="#eacec9" fill-opacity="0.55"/><path d="M53.9 5.3L61.8 1.9L67.5 4.5L65.6 9.1L59.9 10.6L55.1 9.2Z" fill="#9396b8" fill-opacity="0.71"/><path d="M147.2 120.7L143.4 120.6L141.4 119L141.9 115.4L147.9 115.4L150.3 118.1Z" fill="#e6daed" fill-opacity="0.76"/><path d="M48.2 106.9L42.8 101.9L48.2 97.8L54.7 98.7L52.6 103.5Z" fill="#b69790" fill-opacity="0.72"/><path d="M192.4 11.2L192.2 8.3L194.7 5.4L197.8 7L196.9 10.3Z" fill="#e4afd2" fill-opacity="0.71"/><path d="M176 117.9L177.5 120.2L170.5 121.2L165.4 118.9L167.1 115.6L173.1 113.3Z" fill="#c895b1" fill-opacity="0.54"/><path d="M161.9 47L164.1 45.6L166.4 46.5L166.8 50.9L163.5 51.3L161 52.2L158.9 50.2Z" fill="#dba3cc" fill-opacity="0.59"/><path d="M52.3 71.4L58.2 69.4L58.3 71.5L57.9 75.8L54.1 77.5L52.4 74Z" fill="#c4bfd2" fill-opacity="0.72"/><path d="M117.6 11.8L119.9 14.4L119.9 16.1L114.8 17.5L110.4 15.1L112.1 11.5Z" fill="#af726f" fill-opacity="0.67"/><path d="M60.2 70.8L64 69.6L66.9 71.2L66.6 73.1L66.4 75.1L59.9 74.3L59.6 71.8Z" fill="#9d94a1" fill-opacity="0.50"/><path d="M33.8 91.8L39.3 94.2L40 97.4L38.2 99.7L33.6 101.9L29.2 97.7L30.7 94.6Z" fill="#c5acab" fill-opacity="0.48"/><path d="M52.6 114.6L48.7 114.2L50.3 110.9L55.5 109.4L55 112.4Z" fill="#ba978e" fill-opacity="0.58"/><path d="M71.1 56.7L66.4 56.4L63.8 54.6L64.5 50.7L67.7 50.8L74.1 54.1Z" fill="#9596af" fill-opacity="0.50"/><path d="M93.9 65.3L94.2 59.1L102.7 62.8L100.4 69.1Z" fill="#fee8e6" fill-opacity="0.71"/><path d="M118.9 63.6L114.4 69.4L110.5 63.7L115.8 60.5Z" fill="#feecf0" fill-opacity="0.60"/><path d="M128.4 49.1L122.4 46.2L121 42.2L123 40.8L128.1 41.5L132.9 41.7L129.5 46.2Z" fill="#edc3d0" fill-opacity="0.66"/><path d="M147.8 54.8L152.3 51.4L157.8 52.7L155.3 58.1Z" fill="#be90b0" fill-opacity="0.45"/><path d="M123.6 19.2L118.3 17.3L119.4 11.5L125.4 11.3L125.8 15Z" fill="#b7746f" fill-opacity="0.65"/><path d="M158.5 66.8L154.2 68.9L151.1 65.4L151.9 60.8L157.3 62.1Z" fill="#d0a3c1" fill-opacity="0.55"/><path d="M125.7 5L124.6 8L120.9 8.2L120.6 5.1Z" fill="#b3787b" fill-opacity="0.79"/><path d="M137.1 37L143.8 37.4L142.7 43.4L136.4 40.9Z" fill="#bd90ad" fill-opacity="0.51"/><path d="M179.8 50L183 48.6L184.5 50.3L184.7 53.8L179.9 53.3Z" fill="#d17dad" fill-opacity="0.62"/><path d="M118.9 103.1L120.6 100.9L123.5 100.4L127.4 102.6L126.6 105.4L124.7 106.7L118.1 106.3Z" fill="#aec2d2" fill-opacity="0.69"/><path d="M175.1 84.3L176.5 80.8L176.8 78.8L182.8 76.6L184.8 79.8L186.9 83.6L181 85.8Z" fill="#c05880" fill-opacity="0.57"/><path d="M167.1 34.5L173.6 36.6L174.5 40.3L167.1 43.3L165.3 39Z" fill="#ba86b2" fill-opacity="0.54"/><path d="M146.6 108.7L148.8 109.6L148.1 111.4L146 112.1L144.2 111.4L143.3 109.3Z" fill="#aba1b2" fill-opacity="0.75"/><path d="M185.5 19.1L185.2 17.1L189.4 14L194 14.1L193.6 18.4L191.2 19.3Z" fill="#b884a8" fill-opacity="0.67"/><path d="M183.2 105.1L180.9 110.2L173.6 109.8L177.4 104.7Z" fill="#b3728f" fill-opacity="0.74"/><path d="M67.4 42L66.2 42.3L63.5 41.5L61.7 39.9L65.4 38.6L67.8 38.4L67.8 39.8Z" fill="#8e97bb" fill-opacity="0.78"/><path d="M58.9 104.1L59.6 106.7L53.4 109.5L50.7 106.7L52.7 102.6L56.8 101.7Z" fill="#d3a596" fill-opacity="0.55"/><path d="M46.8 103.6L47.1 100.2L52.5 99.2L57.2 100.9L55.6 103.5L51.7 105.4Z" fill="#c39d92" fill-opacity="0.75"/><path d="M49.1 85.7L53.8 82.4L56.4 83.3L56.5 87L56.3 89.8L48.5 88.3Z" fill="#eecabe" fill-opacity="0.60"/><path d="M90.9 22.4L86 25.2L79.1 20.2L86.6 15.3Z" fill="#afb4d5" fill-opacity="0.74"/><path d="M164.8 106.6L163.9 104L167.5 103.2L167.9 105.3Z" fill="#cf9bb7" fill-opacity="0.67"/><path d="M89 75.1L93.2 73.1L99.7 74.5L98.9 79.6L95.4 78.7Z" fill="#cac2c7" fill-opacity="0.63"/><path d="M157.9 23L157.3 27.2L153.7 25.6L151 24.1L154.5 21.4Z" fill="#dfaed5" fill-opacity="0.68"/><path d="M138.3 75.7L137.8 77.8L134.9 77.8L134.7 75.1Z" fill="#c0c9d6" fill-opacity="0.70"/><path d="M139.8 26L140.9 23.6L144.1 23.5L146.9 25.7L145.3 27L141.7 27.8Z" fill="#ca96bf" fill-opacity="0.61"/><path d="M187.8 71.1L183 72.9L181.4 72.2L178.3 69.8L180.6 66.3L183.8 64.7L187.4 65.3Z" fill="#b64c75" fill-opacity="0.51"/><path d="M58 109.2L63.3 113.7L59.7 118.7L53.5 117.6L51.9 113.9Z" fill="#bb978e" fill-opacity="0.68"/><path d="M146.9 35.1L144.3 33.7L148.3 29.3L152.3 31.9L152.2 34.8Z" fill="#a3799e" fill-opacity="0.57"/><path d="M174.1 68.9L177 65.9L182.4 69.8L181.6 71.5L179.8 73.7L174.9 77L171.2 72.4Z" fill="#d46290" fill-opacity="0.49"/><path d="M116.8 109.4L111.5 109.2L109.3 107.7L113.4 106.2L115.2 106.9Z" fill="#9daab8" fill-opacity="0.72"/><path d="M108 97.8L110.8 96L115.9 94.6L117.6 96.7L118.2 99.6L113.7 100.7L108.2 100.5Z" fill="#e1effe" fill-opacity="0.72"/><path d="M62.5 34.1L65 35.3L67.5 34.9L66.9 37.4L64.6 40.3L62.6 37.9L60.9 37.6Z" fill="#a2abce" fill-opacity="0.71"/><path d="M131.1 47L128.7 45.9L127.1 44.1L128.9 42.8L130.9 43.3L132.2 45.4Z" fill="#bc94a1" fill-opacity="0.59"/><path d="M139.6 90.9L136.7 90.9L135.9 88.9L137.3 86.8L139 88.1Z" fill="#b4c4d5" fill-opacity="0.50"/><path d="M65.1 21.9L59.8 22.4L55.5 22L57.4 17.3L59.2 16.2L62.8 16.4L64.3 17.8Z" fill="#8994bc" fill-opacity="0.68"/><path d="M82.5 65.9L79.8 66.5L77.6 64.7L80.6 62.8L82.1 63.6L83.7 65.1Z" fill="#ae9c9f" fill-opacity="0.74"/><path d="M63.2 99.3L68.8 99.8L67 104.3L63.4 107.3L59 106.7L59.2 101.4Z" fill="#c08b76" fill-opacity="0.79"/><path d="M46.8 35.8L50.1 34.6L53 35.5L54.7 36.7L51.4 38.6L48.3 38Z" fill="#66759c" fill-opacity="0.66"/><path d="M107.9 68.2L113.3 67.2L113.5 69.5L112.6 70.7L108.9 71.1Z" fill="#f6f1f6" fill-opacity="0.57"/><path d="M74.5 107.8L70.7 105.4L73.7 99.1L79.6 103.4Z" fill="#fac5b0" fill-opacity="0.67"/><path d="M89.7 109.8L90.4 106.4L96.5 105.9L96.2 109.5Z" fill="#a2a8b1" fill-opacity="0.73"/><path d="M109.3 3.6L110 5.1L107.4 7.3L106.9 5.1Z" fill="#ac848e" fill-opacity="0.72"/><path d="M40.8 22.5L45.5 21.3L50.1 22.8L43.3 26.9Z" fill="#818bb0" fill-opacity="0.52"/><path d="M35.7 54.1L39.3 55.8L41.2 58.1L38.8 58.5L36.9 58.8L35.6 58L34.6 56.3Z" fill="#a0afd6" fill-opacity="0.69"/><path d="M108.8 85.7L109.2 88.8L103.8 88L100.6 87.3L103.4 83.3L105 82.7L109.9 82.9Z" fill="#b2b3bb" fill-opacity="0.65"/><path d="M123.2 99.9L121.2 102.7L115.8 103.7L116.5 102.1L114.6 99.5L118.6 96.9L122 99.4Z" fill="#c3daed" fill-opacity="0.54"/><path d="M65.5 92.1L70.4 90.5L72.6 91.4L72.6 94.5L70.1 97L66.3 95Z" fill="#fcc1a9" fill-opacity="0.72"/><path d="M120.9 64.2L117.2 61.9L119.2 59.8L122.6 60.9Z" fill="#bfadb3" fill-opacity="0.53"/><path d="M77.7 14.2L76.1 12L75.4 8.8L78.9 8.1L81.3 9.6L82.9 12.7Z" fill="#7b7e9b" fill-opacity="0.74"/><path d="M80.4 107.2L74.5 110.9L71.9 108.4L71.2 105.2L76.9 104.4Z" fill="#f2c0ad" fill-opacity="0.67"/><path d="M45.9 117.3L39.9 112.3L47.4 106.8L50.5 111.6Z" fill="#b39690" fill-opacity="0.79"/><path d="M198.4 87.3L197.5 92.3L191.6 93L191 90.4L190.6 86.9L194.9 86.3Z" fill="#d45685" fill-opacity="0.77"/><path d="M129.7 54.8L131.4 56.1L128 58.3L123.3 58.3L123.9 56.1L125 53.5L128 51.9Z" fill="#e1bac7" fill-opacity="0.78"/><path d="M118.5 58.8L120.9 62.5L119.8 65.5L113.6 66.3L110.8 62.6L113.7 61.3Z" fill="#d3bfc4" fill-opacity="0.70"/><path d="M78.2 98.3L73.7 99.1L69.2 98.6L69.1 94L70.4 92.1L76.3 91.4L80.3 94.8Z" fill="#f3bfac" fill-opacity="0.68"/><path d="M96.6 37L98.6 37.4L100.2 38.2L99.7 39.5L97.7 39.9L96.1 40.1L96 38.6Z" fill="#e0c2cd" fill-opacity="0.57"/><path d="M164 101.2L159.6 102.3L155.9 102L156.9 99.1L160.6 96.2Z" fill="#c2a6bc" fill-opacity="0.50"/><path d="M195 66.5L195.8 63.4L202.6 64.8L199.4 69.4Z" fill="#c8638e" fill-opacity="0.71"/></g>
<path d="M32.9 64 C32.76 68.46 32.92 72.1 33.8 76.3 C34.68 80.5 35.2 81.86 37.3 85 C39.4 88.14 40.8 89.54 44.3 92 C47.8 94.46 50.6 95.54 54.8 97.3 C59 99.06 61.8 99.74 65.3 100.8 C68.8 101.86 70.2 101.2 72.3 102.6 C74.4 104 74.4 106.06 75.8 107.8 C77.2 109.54 77.2 109.9 79.3 111.3 C81.4 112.7 83.16 113.74 86.3 114.8 C89.44 115.86 91.5 116.42 95 116.6 C98.5 116.78 100.28 116.42 103.8 115.7 C107.32 114.98 109.44 114.4 112.6 113 C115.76 111.6 116.8 110.44 119.6 108.7 C122.4 106.96 123.44 105.88 126.6 104.3 C129.76 102.72 131.72 101.86 135.4 100.8 C139.08 99.74 141.88 100.42 145 99 C148.12 97.58 148.28 95.2 151 93.7 C153.72 92.2 155.76 91.72 158.6 91.5 C161.44 91.28 162.78 91.84 165.2 92.6 C167.62 93.36 168.52 94.32 170.7 95.3 C172.88 96.28 173.48 97.5 176.1 97.5 C178.72 97.5 181.38 96.06 183.8 95.3 C186.22 94.54 186.22 95.12 188.2 93.7 C190.18 92.28 192.06 90.18 193.7 88.2 C195.34 86.22 196.08 86.22 196.4 83.8 C196.72 81.38 196.06 79.82 195.3 76.1 C194.54 72.38 194.02 69.14 192.6 65.2 C191.18 61.26 189.96 59.68 188.2 56.4 C186.44 53.12 185.78 52.08 183.8 48.8 C181.82 45.52 180.34 42.76 178.3 40 C176.26 37.24 176 37.46 173.6 35 C171.2 32.54 169.22 30.32 166.3 27.7 C163.38 25.08 161.62 23.64 159 21.9 C156.38 20.16 155.82 20.32 153.2 19 C150.58 17.68 148.68 16.6 145.9 15.3 C143.12 14 141.64 13.46 139.3 12.5 C136.96 11.54 136.98 10.9 134.2 10.5 C131.42 10.1 128.32 10.14 125.4 10.5 C122.48 10.86 121.92 12.16 119.6 12.3 C117.28 12.44 116.14 11.56 113.8 11.2 C111.46 10.84 110.16 10.7 107.9 10.5 C105.64 10.3 104.88 9.8 102.5 10.2 C100.12 10.6 99.14 11.38 96 12.5 C92.86 13.62 90.48 14.36 86.8 15.8 C83.12 17.24 81.28 18.26 77.6 19.7 C73.92 21.14 71.82 21.68 68.4 23 C64.98 24.32 63.66 24.32 60.5 26.3 C57.34 28.28 55.76 30.28 52.6 32.9 C49.44 35.52 47.6 36.78 44.7 39.4 C41.8 42.02 40.14 43.08 38.1 46 C36.06 48.92 35.54 50.4 34.5 54 C33.46 57.6 33.04 59.54 32.9 64 Z" fill="none" stroke="#ffffff" stroke-width="3.5" stroke-opacity="0.35"/>
</g>
<path d="M32.9 64 C32.76 68.46 32.92 72.1 33.8 76.3 C34.68 80.5 35.2 81.86 37.3 85 C39.4 88.14 40.8 89.54 44.3 92 C47.8 94.46 50.6 95.54 54.8 97.3 C59 99.06 61.8 99.74 65.3 100.8 C68.8 101.86 70.2 101.2 72.3 102.6 C74.4 104 74.4 106.06 75.8 107.8 C77.2 109.54 77.2 109.9 79.3 111.3 C81.4 112.7 83.16 113.74 86.3 114.8 C89.44 115.86 91.5 116.42 95 116.6 C98.5 116.78 100.28 116.42 103.8 115.7 C107.32 114.98 109.44 114.4 112.6 113 C115.76 111.6 116.8 110.44 119.6 108.7 C122.4 106.96 123.44 105.88 126.6 104.3 C129.76 102.72 131.72 101.86 135.4 100.8 C139.08 99.74 141.88 100.42 145 99 C148.12 97.58 148.28 95.2 151 93.7 C153.72 92.2 155.76 91.72 158.6 91.5 C161.44 91.28 162.78 91.84 165.2 92.6 C167.62 93.36 168.52 94.32 170.7 95.3 C172.88 96.28 173.48 97.5 176.1 97.5 C178.72 97.5 181.38 96.06 183.8 95.3 C186.22 94.54 186.22 95.12 188.2 93.7 C190.18 92.28 192.06 90.18 193.7 88.2 C195.34 86.22 196.08 86.22 196.4 83.8 C196.72 81.38 196.06 79.82 195.3 76.1 C194.54 72.38 194.02 69.14 192.6 65.2 C191.18 61.26 189.96 59.68 188.2 56.4 C186.44 53.12 185.78 52.08 183.8 48.8 C181.82 45.52 180.34 42.76 178.3 40 C176.26 37.24 176 37.46 173.6 35 C171.2 32.54 169.22 30.32 166.3 27.7 C163.38 25.08 161.62 23.64 159 21.9 C156.38 20.16 155.82 20.32 153.2 19 C150.58 17.68 148.68 16.6 145.9 15.3 C143.12 14 141.64 13.46 139.3 12.5 C136.96 11.54 136.98 10.9 134.2 10.5 C131.42 10.1 128.32 10.14 125.4 10.5 C122.48 10.86 121.92 12.16 119.6 12.3 C117.28 12.44 116.14 11.56 113.8 11.2 C111.46 10.84 110.16 10.7 107.9 10.5 C105.64 10.3 104.88 9.8 102.5 10.2 C100.12 10.6 99.14 11.38 96 12.5 C92.86 13.62 90.48 14.36 86.8 15.8 C83.12 17.24 81.28 18.26 77.6 19.7 C73.92 21.14 71.82 21.68 68.4 23 C64.98 24.32 63.66 24.32 60.5 26.3 C57.34 28.28 55.76 30.28 52.6 32.9 C49.44 35.52 47.6 36.78 44.7 39.4 C41.8 42.02 40.14 43.08 38.1 46 C36.06 48.92 35.54 50.4 34.5 54 C33.46 57.6 33.04 59.54 32.9 64 Z" fill="none" stroke="#b8a8b8" stroke-width="0.4" stroke-opacity="0.6"/>
<line x1="114.3" y1="71" x2="99.5" y2="81.5" stroke="#d6e8f1" stroke-width="7.5" stroke-linecap="round" stroke-opacity="0.7"/>
<line x1="131.9" y1="74.5" x2="78.4" y2="107.8" stroke="#d3e6f0" stroke-width="7" stroke-linecap="round" stroke-opacity="0.75"/><circle cx="131.9" cy="74.5" r="1.7" fill="#363c44"/><circle cx="128.33" cy="76.72" r="1.7" fill="#363c44"/><circle cx="124.77" cy="78.94" r="1.7" fill="#363c44"/><circle cx="121.2" cy="81.16" r="1.7" fill="#363c44"/><circle cx="117.63" cy="83.38" r="1.7" fill="#363c44"/><circle cx="114.07" cy="85.6" r="1.7" fill="#363c44"/><circle cx="110.5" cy="87.82" r="1.7" fill="#363c44"/><circle cx="106.93" cy="90.04" r="1.7" fill="#363c44"/><circle cx="103.37" cy="92.26" r="1.7" fill="#363c44"/><circle cx="99.8" cy="94.48" r="1.7" fill="#363c44"/><circle cx="96.23" cy="96.7" r="1.7" fill="#363c44"/><circle cx="92.67" cy="98.92" r="1.7" fill="#363c44"/><circle cx="89.1" cy="101.14" r="1.7" fill="#363c44"/><circle cx="85.53" cy="103.36" r="1.7" fill="#363c44"/><circle cx="81.97" cy="105.58" r="1.7" fill="#363c44"/><circle cx="78.4" cy="107.8" r="1.7" fill="#363c44"/>
<circle cx="100.3" cy="95.5" r="2" fill="#111"/>
<circle cx="102.5" cy="93.5" r="1.8" fill="#111"/>
<line x1="98.5" y1="97" x2="102.5" y2="93" stroke="#111" stroke-width="2.6" stroke-linecap="round"/>
<line x1="69.8" y1="47" x2="53.9" y2="85" stroke="#24100f" stroke-width="3" stroke-linecap="round"/>
<line x1="85.4" y1="51.8" x2="64.4" y2="97" stroke="#3a1010" stroke-width="2" stroke-opacity="0.85"/>
<circle cx="85.4" cy="51.8" r="1.55" fill="#2a1212"/><circle cx="83.65" cy="55.57" r="1.55" fill="#2a1212"/><circle cx="81.9" cy="59.33" r="1.55" fill="#2a1212"/><circle cx="80.15" cy="63.1" r="1.55" fill="#2a1212"/><circle cx="78.4" cy="66.87" r="1.55" fill="#2a1212"/><circle cx="76.65" cy="70.63" r="1.55" fill="#2a1212"/><circle cx="74.9" cy="74.4" r="1.55" fill="#2a1212"/><circle cx="73.15" cy="78.17" r="1.55" fill="#2a1212"/><circle cx="71.4" cy="81.93" r="1.55" fill="#2a1212"/><circle cx="69.65" cy="85.7" r="1.55" fill="#2a1212"/><circle cx="67.9" cy="89.47" r="1.55" fill="#2a1212"/><circle cx="66.15" cy="93.23" r="1.55" fill="#2a1212"/><circle cx="64.4" cy="97" r="1.55" fill="#2a1212"/>
<line x1="119.6" y1="47" x2="94.2" y2="82.4" stroke="#351414" stroke-width="2.9" stroke-linecap="round"/>
<line x1="105.6" y1="57.9" x2="122.2" y2="72.8" stroke="#1c1416" stroke-width="3" stroke-linecap="round"/>
<line x1="114.3" y1="71" x2="99.5" y2="81.5" stroke="#26262a" stroke-width="3.8" stroke-linecap="round"/>
<line x1="131.9" y1="75.4" x2="154" y2="80.1" stroke="#3a1418" stroke-width="2.8" stroke-linecap="round"/>
<circle cx="131.5" cy="75.5" r="1.9" fill="#1e2226"/>
<line x1="64.4" y1="65.4" x2="100.3" y2="71.9" stroke="#ffffff" stroke-width="4.4" stroke-linecap="round"/>
<line x1="64.4" y1="65.4" x2="100.3" y2="71.9" stroke="#1c1416" stroke-width="2.4" stroke-linecap="round"/>
<circle cx="67.9" cy="66.1" r="1.6" fill="#f0652a"/>
<circle cx="96" cy="71.4" r="1.6" fill="#f0652a"/>
<line x1="70.1" y1="67" x2="70.1" y2="149.6" stroke="#5a5a5a" stroke-width="1"/>
<rect x="104" y="144" width="3.7" height="119.7" fill="#e3e4e5"/>
<line x1="106.45" y1="144.5" x2="106.45" y2="263.7" stroke="#222" stroke-width="0.8" stroke-dasharray="0.9 1"/>
<line x1="104.85" y1="144.2" x2="107.65" y2="144.2" stroke="#333" stroke-width="0.6"/>
<rect x="124.9" y="144" width="4" height="119.7" fill="#e3e4e5"/>
<line x1="127.5" y1="144.5" x2="127.5" y2="263.7" stroke="#222" stroke-width="0.8" stroke-dasharray="0.9 1"/>
<line x1="125.9" y1="144.2" x2="128.7" y2="144.2" stroke="#333" stroke-width="0.6"/>
<rect x="158.9" y="144" width="4" height="119.7" fill="#e3e4e5"/>
<line x1="161.5" y1="144.5" x2="161.5" y2="263.7" stroke="#222" stroke-width="0.8" stroke-dasharray="0.9 1"/>
<line x1="159.9" y1="144.2" x2="162.7" y2="144.2" stroke="#333" stroke-width="0.6"/>
<path d="M86.3 167.7L87.8 169.7L89.2 164.9L90.5 172.1L91.3 168.2L92.5 173.8L93.5 171.4L94.4 171.3L95.3 165.7L96.7 167.8L97.7 168.5L99.1 177.7L100.4 178.1L101.9 182.1L102.9 175.8L103.7 175.7L105 166.9L106 164.4L107.1 155.4L108 161L108.8 155L110.1 158L111.3 157.1L112.8 159.7L114.1 154.8L115.2 155.6L116.5 149.4L117.9 151.8L119.4 154.8L120.8 160.8L122.3 154.3L123.2 157.5L124.1 155.4L124.9 163.2L126.1 162.9L127.5 172.6L128.6 172.5L129.7 177.2L130.6 171.6L132 170.1L133.1 166.3L134.2 166.6L135.6 157L136.9 161L137.9 156.4L139.4 159.1L140.6 152.4L141.6 156.8L143 152.1L144.3 156.5L145.6 156.7L146.8 162.1L148.1 161.6L149.3 163.2L150.5 162.2L151.8 166.7L153.2 164.1L154.6 166L156 161L157.4 164.4L158.6 165.9L159.7 166.9L161 166.6L162.2 173.6L163.3 169.4L164.6 174.6L165.6 175.7L166.8 183.3L167.7 182.4L168.6 188.7" fill="none" stroke="#1a1a1a" stroke-width="1.15" stroke-linejoin="round"/>
<path d="M86.3 223.2L87.4 228.5L88.6 228.1L89.7 233.7L90.8 234.7L91.6 238.8L92.4 237.2L93.9 239.7L95 226.3L95.9 230.8L97.1 231.1L98.1 237.9L98.9 235.3L99.8 241.6L101.3 241.5L102.3 249.5L103.3 246.3L104.3 251.9L105.5 248.6L106.6 251.8L107.7 242L108.8 242.3L110.1 234.3L111.6 233.6L112.6 228.5L113.6 230.4L114.7 223.8L115.6 230L116.6 227.4L117.8 234.2L118.8 230.8L119.8 236.8L121.2 231.2L122.6 233.5L123.8 226.7L125.2 228.2L126.3 223.2L127.7 227.3L129.1 224.8L130.4 233.2L131.3 228.6L132.3 234.1L133.5 233.4L134.9 238.2L136.2 233.6L137.7 235.8L138.5 236.6L140 247.7L140.9 244.9L142.1 246.4L143 242.7L144.1 244.9L144.9 242.8L145.8 245.8L146.8 243L147.9 249L149.2 245.1L150.6 247.3L151.9 246L153.2 252.5L154.1 250.1L155 255.3L156.3 248.8L157.1 250.5L158.1 243.2L159.5 244.2L160.8 240.3L162.1 240.7L162.9 232.1L163.8 235L164.9 232.3L165.9 238.9L166.8 233.9L167.9 240.1" fill="none" stroke="#1a1a1a" stroke-width="1.15" stroke-linejoin="round"/>
<rect x="66" y="149.5" width="7.4" height="14.8" fill="#8f8f90" stroke="#555" stroke-width="0.5" rx="0.8"/>
<defs><linearGradient id="cyl" x1="0" x2="1"><stop offset="0" stop-color="#9a9a9a"/><stop offset="0.45" stop-color="#ffffff"/><stop offset="1" stop-color="#8a8a8a"/></linearGradient></defs>
<rect x="67.1" y="164.3" width="5.1" height="15.7" fill="url(#cyl)" stroke="#333" stroke-width="0.6"/>
<rect x="68.6" y="180" width="2.6" height="3.9" fill="#e2ba62"/>
<rect x="68.6" y="183.9" width="2.6" height="3.9" fill="#8a93a3"/>
<rect x="68.6" y="187.8" width="2.6" height="3.9" fill="#e2ba62"/>
<rect x="68.6" y="191.7" width="2.6" height="3.9" fill="#e8782a"/>
<rect x="68.6" y="195.6" width="2.6" height="3.9" fill="#e2ba62"/>
<rect x="68.6" y="199.5" width="2.6" height="3.9" fill="#8a93a3"/>
<rect x="68.6" y="203.4" width="2.6" height="3.9" fill="#e2ba62"/>
<rect x="68.6" y="207.3" width="2.6" height="3.9" fill="#8a93a3"/>
<rect x="68.6" y="211.2" width="2.6" height="3.9" fill="#e2ba62"/>
<rect x="68.6" y="215.1" width="2.6" height="3.9" fill="#8a93a3"/>
<rect x="68.6" y="219" width="2.6" height="3.9" fill="#e2ba62"/>
<rect x="68.6" y="222.9" width="2.6" height="3.9" fill="#8a93a3"/>
<rect x="68.6" y="226.8" width="2.6" height="3.9" fill="#e2ba62"/>
<rect x="68.6" y="230.7" width="2.6" height="3.9" fill="#e8782a"/>
<rect x="68.6" y="234.6" width="2.6" height="3.9" fill="#e2ba62"/>
<rect x="68.6" y="238.5" width="2.6" height="3.9" fill="#8a93a3"/>
<rect x="68.6" y="242.4" width="2.6" height="3.9" fill="#e2ba62"/>
<rect x="68.6" y="246.3" width="2.6" height="1.2" fill="#8a93a3"/>
<path d="M71.2 193.3 L75.2 193.3 L75.2 162.1 L86 162.1" fill="none" stroke="#555" stroke-width="0.7"/>
<line x1="71.2" y1="232.7" x2="86" y2="232.7" stroke="#555" stroke-width="0.7"/>
<path d="M85.5 240.4 L85.5 265.9 L106.2 265.9" fill="none" stroke="#444" stroke-width="0.7"/>
<text x="80.7" y="255.58" font-size="7.5" text-anchor="middle" fill="#231f20" transform="rotate(-90 80.7 253)" stroke="#231f20" stroke-width="0.061">0.1uV (Z)</text>
<text x="97" y="272.8" font-size="6.5" text-anchor="middle" fill="#231f20">2hrs</text>
<text x="90.6" y="127.3" font-size="9.5" text-anchor="start" fill="#231f20" stroke="#231f20" stroke-width="0.182">High</text>
<text x="113.5" y="127.3" font-size="9.5" text-anchor="start" fill="#231f20" stroke="#231f20" stroke-width="0.182">Low</text>
<text x="145.8" y="127.3" font-size="9.5" text-anchor="start" fill="#231f20" stroke="#231f20" stroke-width="0.182">High</text>
<text x="90.6" y="139.1" font-size="9.5" text-anchor="start" fill="#231f20" stroke="#231f20" stroke-width="0.182">Pain</text>
<text x="113.2" y="139.1" font-size="9.5" text-anchor="start" fill="#231f20" stroke="#231f20" stroke-width="0.182">Pain</text>
<text x="146.3" y="139.1" font-size="9.5" text-anchor="start" fill="#231f20" stroke="#231f20" stroke-width="0.182">Pain</text>
<text x="141" y="146.5" font-size="7.4" text-anchor="start" fill="#231f20" stroke="#231f20" stroke-width="0.055">5min</text>
<text x="36.6" y="24" font-size="9.7" text-anchor="start" fill="#8594bb" stroke="#8594bb" stroke-width="0.194">Frontal</text>
<text x="119.3" y="7.6" font-size="9.7" text-anchor="start" fill="#cf8a84" stroke="#cf8a84" stroke-width="0.194">Central</text>
<text x="163.4" y="21.9" font-size="9.6" text-anchor="start" fill="#cc8dbf" stroke="#cc8dbf" stroke-width="0.188">Parietal</text>
<text x="182.8" y="49.9" font-size="9.7" text-anchor="start" fill="#e0609a" stroke="#e0609a" stroke-width="0.194">Occipital</text>
<text x="17.3" y="112.2" font-size="9.9" text-anchor="start" fill="#f0aa8c" stroke="#f0aa8c" stroke-width="0.2">Mesolimbic</text>
<text x="124.9" y="112.2" font-size="9.7" text-anchor="start" fill="#96c3e1" stroke="#96c3e1" stroke-width="0.194">Temporal</text>
<!-- p_e.panel_e -->
<text x="8.8" y="300.4" font-size="18.5" text-anchor="start" fill="#231f20" stroke="#231f20" stroke-width="0.05">E</text>
<path d="M35.5 317 C36.7 315.68 38.59 314.04 40.5 313.2 C42.41 312.36 46.03 311.82 48.2 311.4 C50.38 310.98 53.08 310.52 55 310.4 C56.92 310.28 59.59 310.21 61 310.6 C62.41 310.99 63.71 311.59 64.4 313 C65.09 314.41 65.36 315.95 65.6 320 C65.84 324.05 65.89 330.25 66 340 C66.11 349.75 66.15 373.15 66.3 385 C66.45 396.85 66.97 411.35 67 419 C67.03 426.65 67.1 432.7 66.5 436 C65.9 439.3 64.72 440.01 63 441 C61.27 441.99 57.59 442.42 55 442.6 C52.41 442.78 48.25 442.81 45.7 442.2 C43.15 441.58 40.05 439.95 38 438.5 C35.95 437.05 33.38 434.52 32 432.5 C30.62 430.48 29.5 427.02 28.8 425 C28.1 422.98 28.1 420.57 27.3 419 C26.5 417.43 24.82 415.85 23.5 414.5 C22.18 413.15 19.73 411.57 18.5 410 C17.27 408.43 15.93 406.25 15.3 404 C14.67 401.75 14.44 397.85 14.3 395 C14.17 392.15 14.25 388.45 14.4 385 C14.55 381.55 14.81 375.45 15.3 372 C15.79 368.55 16.84 364.93 17.7 362 C18.55 359.07 19.91 355.05 21 352.5 C22.09 349.95 23.91 347.25 25 345 C26.09 342.75 27.48 339.82 28.3 337.5 C29.12 335.18 29.87 331.82 30.5 329.5 C31.13 327.18 31.75 323.88 32.5 322 C33.25 320.12 34.3 318.32 35.5 317 Z" fill="#e9e9e9" stroke="#c2c2c2" stroke-width="0.7"/>
<defs><clipPath id="cl101"><path d="M35.5 317 C36.7 315.68 38.59 314.04 40.5 313.2 C42.41 312.36 46.03 311.82 48.2 311.4 C50.38 310.98 53.08 310.52 55 310.4 C56.92 310.28 59.59 310.21 61 310.6 C62.41 310.99 63.71 311.59 64.4 313 C65.09 314.41 65.36 315.95 65.6 320 C65.84 324.05 65.89 330.25 66 340 C66.11 349.75 66.15 373.15 66.3 385 C66.45 396.85 66.97 411.35 67 419 C67.03 426.65 67.1 432.7 66.5 436 C65.9 439.3 64.72 440.01 63 441 C61.27 441.99 57.59 442.42 55 442.6 C52.41 442.78 48.25 442.81 45.7 442.2 C43.15 441.58 40.05 439.95 38 438.5 C35.95 437.05 33.38 434.52 32 432.5 C30.62 430.48 29.5 427.02 28.8 425 C28.1 422.98 28.1 420.57 27.3 419 C26.5 417.43 24.82 415.85 23.5 414.5 C22.18 413.15 19.73 411.57 18.5 410 C17.27 408.43 15.93 406.25 15.3 404 C14.67 401.75 14.44 397.85 14.3 395 C14.17 392.15 14.25 388.45 14.4 385 C14.55 381.55 14.81 375.45 15.3 372 C15.79 368.55 16.84 364.93 17.7 362 C18.55 359.07 19.91 355.05 21 352.5 C22.09 349.95 23.91 347.25 25 345 C26.09 342.75 27.48 339.82 28.3 337.5 C29.12 335.18 29.87 331.82 30.5 329.5 C31.13 327.18 31.75 323.88 32.5 322 C33.25 320.12 34.3 318.32 35.5 317 Z"/></clipPath></defs>
<g clip-path="url(#cl101)"><path d="M36.9 337.4L41.8 330.5L50.5 331.5L53.7 338.4L44.3 341.8Z" fill="#cfcfcf" fill-opacity="0.22"/><path d="M35.2 356.3L35.5 348.9L42 348.6L46.5 354.2L40.4 358.6Z" fill="#ffffff" fill-opacity="0.30"/><path d="M34.6 429.7L33.8 423.1L38.3 423.1L39.3 427.5Z" fill="#ffffff" fill-opacity="0.29"/><path d="M56.4 363.7L47.7 362.1L46.9 355.3L53.5 353.8L59 357Z" fill="#cfcfcf" fill-opacity="0.24"/><path d="M59.9 395.3L62.2 398.7L61.7 405.5L55.3 406.6L52.7 400.9L52.7 395.5Z" fill="#ffffff" fill-opacity="0.26"/><path d="M49.2 353.9L52.7 354.3L53.7 358.5L49.9 361.3L47.6 357.2Z" fill="#cfcfcf" fill-opacity="0.19"/><path d="M8.6 360.5L14.6 356.1L20.1 359.2L20 365.8L15.5 369.3L9 365.9Z" fill="#ffffff" fill-opacity="0.19"/><path d="M19.8 333.3L16.4 333.9L13.2 329.5L17 326.8L21.1 328.1Z" fill="#ffffff" fill-opacity="0.21"/><path d="M27.8 422.6L31.5 425.4L30.2 429.6L25.2 429.9L24.8 425.4Z" fill="#cfcfcf" fill-opacity="0.27"/><path d="M57.4 317.9L50.7 315.4L54.3 307.1L59.5 304.3L66.2 308.7L65.3 316.3Z" fill="#cfcfcf" fill-opacity="0.18"/><path d="M48.9 369.2L47.4 362.3L55 362.7L56.3 368.8Z" fill="#cfcfcf" fill-opacity="0.19"/><path d="M23.7 432.2L26.9 438.9L25.1 447.1L19.6 446.1L13.9 442.9L17.6 434.1Z" fill="#ffffff" fill-opacity="0.26"/><path d="M57.9 393.1L57.7 389.2L61.9 388.3L63.5 391.5L61.4 395.2Z" fill="#ffffff" fill-opacity="0.32"/><path d="M60.7 403.7L67.7 406.4L68.5 414.7L60.6 417.2L56.7 410.4Z" fill="#ffffff" fill-opacity="0.33"/><path d="M37.3 316.3L32.2 320.6L27 317.6L28.7 311.4L34.6 311.1Z" fill="#cfcfcf" fill-opacity="0.32"/><path d="M20.9 399.8L19 402.5L15.1 401.7L13.7 398.7L15.9 396.5L19.8 396.3Z" fill="#cfcfcf" fill-opacity="0.30"/><path d="M35 353.2L44.7 356.4L40.2 367L31.4 362.6Z" fill="#ffffff" fill-opacity="0.26"/><path d="M46.2 313.3L48.6 306.6L56.5 306L58.7 313.9L51.6 318.1Z" fill="#cfcfcf" fill-opacity="0.16"/><path d="M51.8 351.2L46.1 350.8L44.9 344.4L50.5 340.8L55.5 345Z" fill="#ffffff" fill-opacity="0.30"/><path d="M47 316.3L43 316.3L40.1 312.3L42.5 307.9L46.7 309.1L48.7 311.8Z" fill="#cfcfcf" fill-opacity="0.25"/><path d="M61.1 336.3L61.9 332.5L67 330.6L68.4 335.3L66 338.2Z" fill="#cfcfcf" fill-opacity="0.18"/><path d="M50 434.9L48.6 428.4L54.4 427.1L56.4 432.4Z" fill="#ffffff" fill-opacity="0.34"/><path d="M72.4 330.2L71.1 338L63.5 336.9L58.5 332.4L62.2 327L69 323.3Z" fill="#ffffff" fill-opacity="0.31"/><path d="M24.6 395.4L25 389.4L30 385.3L35.8 388.4L36.1 394.1L30.6 397.2Z" fill="#cfcfcf" fill-opacity="0.19"/><path d="M58.4 418.2L63.7 420L66.5 427.8L58.4 429.6L55.3 423.8Z" fill="#ffffff" fill-opacity="0.33"/><path d="M48.5 359.8L49 353.6L53.3 354L53.3 358.3Z" fill="#cfcfcf" fill-opacity="0.19"/><path d="M69.2 381.2L64.4 384.4L60.5 380.7L61.1 376.1L65.5 375.1L69.7 376.8Z" fill="#cfcfcf" fill-opacity="0.24"/><path d="M18.2 357.3L7.8 352.1L17 343.4L23.6 350.7Z" fill="#ffffff" fill-opacity="0.29"/><path d="M35.6 349.8L40.3 343.1L49.3 346.7L43.3 352.8Z" fill="#ffffff" fill-opacity="0.24"/><path d="M49.5 366.1L52.3 361.7L56.1 365.4L52.9 370.9Z" fill="#ffffff" fill-opacity="0.33"/><path d="M65.1 359L55.3 362.7L55 349.9L64.1 348.9Z" fill="#cfcfcf" fill-opacity="0.28"/><path d="M34.5 392.7L38.9 396.2L39.4 400.6L36.5 403.7L30.9 402.5L29.9 396.8Z" fill="#cfcfcf" fill-opacity="0.25"/><path d="M33.6 376.1L38.4 376.4L41.9 381.1L39 384.9L33.8 385.3L30.5 381.6Z" fill="#cfcfcf" fill-opacity="0.29"/><path d="M24.5 340.6L17.8 340.5L17.9 335L24.8 333.5Z" fill="#cfcfcf" fill-opacity="0.30"/><path d="M29.9 346.3L31 350.8L26.9 352L22.8 350.4L24.9 346Z" fill="#ffffff" fill-opacity="0.32"/><path d="M33.5 313.2L33.5 323.4L23.1 320.8L25.1 311.4Z" fill="#cfcfcf" fill-opacity="0.31"/><path d="M47.6 409.5L42.8 410.5L40.3 406.7L42.6 402L46.2 402.1L49.3 405.6Z" fill="#ffffff" fill-opacity="0.24"/><path d="M26.1 350.9L25.5 345.6L28.8 343L34.6 345.1L32.9 351Z" fill="#ffffff" fill-opacity="0.28"/><path d="M71.8 355.8L67.9 358.7L63 357.4L61 353.9L65.4 351L69.6 351.4Z" fill="#cfcfcf" fill-opacity="0.29"/><path d="M57 431.4L59.8 436L53.8 437.6L51 433.7Z" fill="#cfcfcf" fill-opacity="0.31"/><path d="M69.5 374L69.4 378.8L63 379.6L61.1 374.6L65.1 370.7Z" fill="#cfcfcf" fill-opacity="0.23"/><path d="M44.8 319.1L45 327.9L39.3 334.4L33.5 327.4L36.2 318.5Z" fill="#cfcfcf" fill-opacity="0.18"/><path d="M59 386.2L65.5 385L65.8 391.8L60.2 391.4Z" fill="#cfcfcf" fill-opacity="0.32"/><path d="M39 369.7L45.2 369.6L48.2 373.5L43.8 377.5L38.1 375.2Z" fill="#ffffff" fill-opacity="0.22"/><path d="M41.4 404L40.5 399.1L44.7 396.1L48.7 399.9L45.7 404.6Z" fill="#ffffff" fill-opacity="0.33"/><path d="M34 339.9L25.8 348.3L20.4 339.4L26.5 333.2Z" fill="#cfcfcf" fill-opacity="0.16"/><path d="M51 412.6L48.1 418.6L42.2 416.9L39.9 413.9L41.9 409.7L47.2 408.2Z" fill="#cfcfcf" fill-opacity="0.32"/><path d="M51.6 368.8L53 362.2L60.1 363.8L58.3 369.7Z" fill="#ffffff" fill-opacity="0.30"/><path d="M61.8 363.7L56.7 358.2L58.5 352.4L62.6 351.7L67.3 352.9L67.7 359.1Z" fill="#cfcfcf" fill-opacity="0.35"/><path d="M18 347.6L10 344.1L10.2 335.9L17.3 334.5L20.2 340.5Z" fill="#ffffff" fill-opacity="0.29"/><path d="M57.9 338.4L50.1 339L50.8 331.8L58.7 330.1Z" fill="#ffffff" fill-opacity="0.29"/><path d="M44.8 308.5L39.5 319.7L28 314.6L33.3 305.3Z" fill="#ffffff" fill-opacity="0.32"/><path d="M67 434.4L58.4 435.3L58.6 426.3L65.4 425.2Z" fill="#cfcfcf" fill-opacity="0.31"/><path d="M56.7 317L62.6 323.1L58.9 330.3L50.4 325.3Z" fill="#cfcfcf" fill-opacity="0.32"/><path d="M37.6 347.1L28.5 346.7L28.7 338.5L37 338.2Z" fill="#ffffff" fill-opacity="0.29"/><path d="M56.4 389.7L60.8 393.8L60.1 402.4L52.3 401.6L47.2 397.4L49.6 391.5Z" fill="#ffffff" fill-opacity="0.26"/><path d="M35.8 371.1L44.2 373.9L40.8 384.2L32.7 380.5Z" fill="#ffffff" fill-opacity="0.30"/><path d="M22.3 395.8L26.6 385.5L34 391.2L32.2 398.5Z" fill="#cfcfcf" fill-opacity="0.19"/><path d="M48.3 325.5L45.9 329.3L40.1 328.9L39.7 325.1L41.1 320.6L45.8 320.2Z" fill="#ffffff" fill-opacity="0.21"/><path d="M35.7 350.5L41.9 343.5L47.1 348.2L44 356.2Z" fill="#ffffff" fill-opacity="0.25"/><path d="M56.2 401L58.8 395.4L63.8 398.1L61.6 404.4Z" fill="#cfcfcf" fill-opacity="0.20"/><path d="M41.8 408.5L30.4 408.5L29.9 395.7L40.9 397.2Z" fill="#cfcfcf" fill-opacity="0.21"/><path d="M50 410L44.8 411.1L40.7 409L41.7 402.9L46.8 401.3L50.7 405.3Z" fill="#ffffff" fill-opacity="0.20"/><path d="M61.9 413.2L59.9 420.3L54 420.7L50.6 415.3L51.8 408.4L58.3 409.6Z" fill="#cfcfcf" fill-opacity="0.18"/><path d="M36.5 340.9L43.6 338.6L48.8 341.2L48.9 348.9L44.3 353.7L36.3 348.2Z" fill="#ffffff" fill-opacity="0.24"/><path d="M37 403.4L41.1 399L47.1 402.9L44.2 407L39.2 409.2Z" fill="#ffffff" fill-opacity="0.27"/><path d="M20.6 380.6L30 384.5L33.3 392L24.8 394.3L18.5 390.9Z" fill="#ffffff" fill-opacity="0.32"/><path d="M69.6 403.7L69.5 408L65.4 411.8L59.9 407.9L60.3 403.1L65.7 402.1Z" fill="#ffffff" fill-opacity="0.30"/><path d="M46.2 324.8L46.7 320.4L50.6 320.3L54.1 322.8L51.9 325.3L49.3 327.7Z" fill="#cfcfcf" fill-opacity="0.34"/><path d="M19.5 418.6L16 416.5L17.7 413.9L20.8 412.6L22.7 414.2L22 418.2Z" fill="#cfcfcf" fill-opacity="0.16"/><path d="M59 337.5L57.5 342.9L51.5 340.7L54.4 335.5Z" fill="#cfcfcf" fill-opacity="0.20"/><path d="M41 341L29.8 340.6L28.9 331.4L38.4 329.4Z" fill="#cfcfcf" fill-opacity="0.22"/><path d="M9.4 388.2L8.4 379.2L16.1 376.7L21.6 379.6L22.2 385.5L17 389.4Z" fill="#ffffff" fill-opacity="0.30"/><path d="M33.8 444.8L29.2 438L37.9 433.2L41.7 442.5Z" fill="#ffffff" fill-opacity="0.15"/><path d="M28.7 439.3L24.9 439.6L22.5 436L25.9 432.4L29.6 432.3L30.3 436.5Z" fill="#ffffff" fill-opacity="0.27"/><path d="M48.2 423.4L51.5 419.5L56 421L57.1 426.8L54 429.8L47.4 428.9Z" fill="#cfcfcf" fill-opacity="0.29"/><path d="M42.2 348.3L46 353.6L44.1 358.9L39.1 362.3L35.3 356.4L35.6 351.3Z" fill="#ffffff" fill-opacity="0.19"/><path d="M40 329.76 C38.48 328.68 37.68 326.9 34.3 325.7 C30.92 324.5 30.92 324.71 27.31 325.26 C23.71 325.8 24.34 326.71 20.77 327.75 C17.2 328.79 15.74 328.78 13.91 329.15" fill="none" stroke="#c8c8c8" stroke-width="0.6"/><path d="M31.21 439.46 C32.93 438.73 34.07 437.55 37.65 436.71 C41.23 435.87 41.14 437.32 44.64 436.3 C48.13 435.28 48.27 435.46 50.74 432.88 C53.22 430.31 53.08 428.31 53.93 426.65" fill="none" stroke="#c8c8c8" stroke-width="0.6"/><path d="M55.53 433.93 C56.25 435.66 57.2 436.83 58.22 440.39 C59.24 443.96 57.73 444.15 59.36 447.3 C61 450.45 61.21 450.44 64.34 452.22 C67.48 454 69.31 453.51 71.12 453.98" fill="none" stroke="#c8c8c8" stroke-width="0.6"/><path d="M40.18 368.16 C39.96 370.01 39.06 371.46 39.35 375.11 C39.63 378.76 39.95 378.36 41.27 381.84 C42.59 385.32 43.61 384.6 44.3 388.15 C45 391.69 43.99 393.27 43.87 395.14" fill="none" stroke="#c8c8c8" stroke-width="0.6"/><path d="M45.32 368.44 C43.74 367.44 41.29 367.52 39.41 364.68 C37.54 361.83 37.67 361.23 38.3 357.77 C38.93 354.3 39.29 354.35 41.76 351.68 C44.23 349.01 46.01 348.8 47.55 347.75" fill="none" stroke="#c8c8c8" stroke-width="0.6"/><path d="M36.99 379.06 C36.89 380.93 35.78 382.58 36.62 386.05 C37.47 389.53 37.42 389.98 40.17 392.09 C42.91 394.2 43.47 392.58 46.91 393.97 C50.35 395.35 51.43 396.41 53.07 397.3" fill="none" stroke="#c8c8c8" stroke-width="0.6"/><path d="M19.9 408.83 C18.6 410.16 17.74 411.29 15.02 413.84 C12.3 416.39 11.5 415.36 9.71 418.4 C7.92 421.45 9.11 421.62 8.3 425.26 C7.5 428.91 7.13 430.26 6.7 432.07" fill="none" stroke="#c8c8c8" stroke-width="0.6"/><path d="M49.43 310.7 C50.97 311.76 52.31 312.31 55.19 314.67 C58.07 317.03 57.34 317.18 60.22 319.54 C63.1 321.89 62.76 321.67 65.99 323.5 C69.23 325.33 70.66 325.64 72.36 326.41" fill="none" stroke="#c8c8c8" stroke-width="0.6"/><path d="M49.41 342.37 C48.97 344.18 49.8 346.38 47.77 349.17 C45.75 351.97 44.8 350.63 41.81 352.85 C38.83 355.06 38.11 354.39 36.57 357.49 C35.03 360.58 36.18 362.6 36.04 364.47" fill="none" stroke="#c8c8c8" stroke-width="0.6"/><path d="M26.43 379.32 C28.28 379.51 29.69 379.54 33.39 380.04 C37.09 380.53 36.68 381.44 40.3 381.17 C43.92 380.9 43.65 380.66 46.96 379.02 C50.27 377.38 51.17 376.08 52.7 375.01" fill="none" stroke="#c8c8c8" stroke-width="0.6"/><path d="M60.43 440.15 C58.85 441.15 57.91 442.5 54.5 443.88 C51.1 445.26 51.31 445.31 47.65 445.32 C44 445.33 44.46 443.95 40.79 443.93 C37.13 443.9 35.75 444.89 33.92 445.24" fill="none" stroke="#c8c8c8" stroke-width="0.6"/><path d="M26.77 359.14 C25.24 360.2 22.79 360.2 21 363.1 C19.22 366.01 21.78 367.01 20.08 370.04 C18.39 373.07 17.2 371.78 14.66 374.47 C12.12 377.16 11.65 378.62 10.55 380.13" fill="none" stroke="#c8c8c8" stroke-width="0.6"/><path d="M40.18 348.72 C42.04 348.59 43.74 347.34 47.16 348.23 C50.59 349.13 49.6 350.87 53.02 352.07 C56.44 353.27 56.56 351.55 59.99 352.74 C63.42 353.92 64.31 355.5 65.88 356.51" fill="none" stroke="#c8c8c8" stroke-width="0.6"/><path d="M37.38 343.1 C35.55 342.75 33.34 343.7 30.51 341.77 C27.68 339.84 29.51 338.1 26.77 335.86 C24.02 333.62 23.11 335.51 20.23 333.36 C17.34 331.22 17.1 329.29 15.96 327.81" fill="none" stroke="#c8c8c8" stroke-width="0.6"/><path d="M37.47 329.19 C36.41 327.66 34.6 326.84 33.48 323.44 C32.36 320.04 34.27 319.93 33.28 316.45 C32.3 312.96 32.21 313.11 29.78 310.39 C27.34 307.66 25.65 307.33 24.15 306.22" fill="none" stroke="#c8c8c8" stroke-width="0.6"/><path d="M16.06 320.84 C17.83 320.24 19.22 319.95 22.69 318.57 C26.15 317.18 25.51 316.13 29.05 315.65 C32.59 315.18 32.3 316.92 35.96 316.78 C39.62 316.65 40.95 315.59 42.77 315.16" fill="none" stroke="#c8c8c8" stroke-width="0.6"/><path d="M36.82 363.43 C35.6 364.84 34.64 365.86 32.23 368.72 C29.83 371.58 30.64 371.82 27.81 374.15 C24.99 376.48 25.16 376.54 21.65 377.46 C18.14 378.38 16.52 377.56 14.65 377.6" fill="none" stroke="#c8c8c8" stroke-width="0.6"/><path d="M34.07 367.31 C32.26 367.77 30.06 366.99 27.29 369.04 C24.51 371.1 24.11 371.64 23.65 375.03 C23.2 378.42 25.43 378.13 25.58 381.76 C25.74 385.39 24.6 386.8 24.24 388.63" fill="none" stroke="#c8c8c8" stroke-width="0.6"/><path d="M22.62 324.61 C23.19 322.84 23.82 321.56 24.78 317.96 C25.74 314.36 26.65 314.62 26.23 311.11 C25.81 307.6 23.49 308.28 23.2 304.8 C22.9 301.32 24.61 299.86 25.13 298.07" fill="none" stroke="#c8c8c8" stroke-width="0.6"/><path d="M26.77 327.01 C25.77 325.43 23.5 324.47 23.02 321.1 C22.53 317.73 22.88 317.2 24.96 314.38 C27.04 311.56 27.81 312.75 30.81 310.53 C33.81 308.32 34.77 307.27 36.21 306.08" fill="none" stroke="#c8c8c8" stroke-width="0.6"/><path d="M54.71 331.02 C53.39 329.71 52.89 327.82 49.74 326.09 C46.6 324.37 46.26 326.05 42.91 324.56 C39.57 323.07 39.03 323.43 37.2 320.51 C35.37 317.59 36.35 315.45 36.04 313.61" fill="none" stroke="#c8c8c8" stroke-width="0.6"/><path d="M43.04 414.2 C42.03 415.77 41.78 417.42 39.25 420.08 C36.72 422.74 36.86 422.5 33.57 424.17 C30.29 425.85 29.38 424.05 26.93 426.37 C24.48 428.7 25.06 431.16 24.38 432.89" fill="none" stroke="#c8c8c8" stroke-width="0.6"/><path d="M25.42 400.07 C23.9 401.16 22.43 401.61 19.71 404.13 C17 406.64 18.28 407.87 15.23 409.51 C12.18 411.14 11.45 408.74 8.27 410.26 C5.1 411.78 4.64 413.89 3.32 415.2" fill="none" stroke="#c8c8c8" stroke-width="0.6"/><path d="M14.5 318.55 C13.78 316.83 11.73 315.51 11.79 312.1 C11.85 308.69 12.97 309.04 14.73 305.75 C16.49 302.46 17.55 303.23 18.37 299.77 C19.2 296.32 17.97 294.66 17.82 292.79" fill="none" stroke="#c8c8c8" stroke-width="0.6"/><path d="M20.41 426.46 C21.12 424.73 20.62 422.38 23.08 419.99 C25.53 417.59 26.08 418.67 29.62 417.49 C33.16 416.31 32.71 415.81 36.35 415.56 C39.99 415.31 41.43 416.28 43.28 416.54" fill="none" stroke="#c8c8c8" stroke-width="0.6"/><path d="M35.41 310.42 C36.86 309.24 39.23 309.03 40.84 305.99 C42.44 302.96 40.16 302.38 41.44 299.02 C42.71 295.66 44.55 296.76 45.61 293.4 C46.66 290.03 45.45 288.27 45.39 286.4" fill="none" stroke="#c8c8c8" stroke-width="0.6"/><path d="M28.39 419.3 C29.07 417.56 28.65 415.47 30.93 412.77 C33.21 410.08 34.06 411.51 36.94 409.19 C39.82 406.87 39.5 407.05 41.72 404.07 C43.93 401.09 44.29 399.63 45.23 398.02" fill="none" stroke="#c8c8c8" stroke-width="0.6"/><path d="M22.64 416.07 C23.57 414.46 23.57 412.52 26.15 410.02 C28.73 407.52 28.94 406.85 32.3 406.68 C35.67 406.51 35.57 407.52 38.76 409.39 C41.96 411.25 42.82 412.53 44.29 413.68" fill="none" stroke="#c8c8c8" stroke-width="0.6"/><path d="M40.29 399.58 C38.42 399.5 37.03 399.45 33.3 399.3 C29.56 399.16 29.62 400.26 26.3 399.02 C22.98 397.79 24.09 396.31 20.83 394.66 C17.57 393.01 15.87 393.33 14.07 392.84" fill="none" stroke="#c8c8c8" stroke-width="0.6"/><path d="M18.95 437.11 C20.58 438.03 21.58 439.38 25.05 440.54 C28.53 441.71 29.09 439.69 31.99 441.49 C34.89 443.29 33.98 444.1 35.92 447.28 C37.86 450.47 38.37 451.79 39.27 453.43" fill="none" stroke="#c8c8c8" stroke-width="0.6"/><path d="M57.84 405.15 C57 403.48 57.26 401.27 54.69 398.9 C52.13 396.52 51.43 398.07 48.22 396.24 C45 394.4 44.92 394.83 42.63 392.01 C40.35 389.2 40.45 387.37 39.65 385.68" fill="none" stroke="#c8c8c8" stroke-width="0.6"/><path d="M55.45 360.94 C53.58 361.04 52 362.02 48.46 361.29 C44.92 360.57 45.69 359.35 42.17 358.21 C38.66 357.08 38.7 358.33 35.27 357.04 C31.84 355.74 30.91 354.34 29.32 353.35" fill="none" stroke="#c8c8c8" stroke-width="0.6"/><path d="M18.41 412.72 C19.18 414.42 20.06 415.59 21.28 419.1 C22.51 422.61 22.22 422.24 23 425.89 C23.79 429.53 23.86 429.07 24.23 432.78 C24.59 436.48 24.32 437.91 24.36 439.78" fill="none" stroke="#c8c8c8" stroke-width="0.6"/><path d="M26.25 422.71 C24.4 422.51 22.2 423.69 19.29 421.95 C16.39 420.2 18.02 418.64 15.34 416.17 C12.67 413.7 12.71 413.19 9.27 412.69 C5.83 412.18 4.27 413.85 2.45 414.27" fill="none" stroke="#c8c8c8" stroke-width="0.6"/><path d="M49.44 387.26 C51.25 387.71 52.56 388.45 56.24 388.93 C59.92 389.41 59.9 387.88 63.24 389.07 C66.57 390.26 65.42 392.09 68.75 393.39 C72.08 394.68 73.87 393.78 75.73 393.93" fill="none" stroke="#c8c8c8" stroke-width="0.6"/><path d="M25.34 312.92 C25.56 314.78 25.58 316.19 26.16 319.87 C26.74 323.56 26.64 323.11 27.52 326.74 C28.39 330.37 27.61 330.36 29.45 333.47 C31.29 336.58 33.08 337.09 34.4 338.41" fill="none" stroke="#c8c8c8" stroke-width="0.6"/><path d="M33.45 383.36 C34.26 381.67 36.09 380.54 36.47 377.04 C36.85 373.54 34.44 373.7 34.87 370.23 C35.3 366.75 36.6 367.42 38.08 364 C39.56 360.59 39.81 359.17 40.44 357.41" fill="none" stroke="#c8c8c8" stroke-width="0.6"/><path d="M22.34 353.96 C21.26 355.48 18.87 356.33 18.26 359.65 C17.65 362.97 18.27 363.28 20.05 366.42 C21.83 369.55 22.44 368.66 24.95 371.41 C27.47 374.17 28.27 375.33 29.48 376.75" fill="none" stroke="#c8c8c8" stroke-width="0.6"/><path d="M25.8 424.34 C26.23 426.16 27.1 427.48 27.39 431.16 C27.69 434.84 28.27 434.87 26.91 438.14 C25.56 441.41 24.75 440.6 22.31 443.42 C19.87 446.24 18.97 447.31 17.75 448.73" fill="none" stroke="#c8c8c8" stroke-width="0.6"/><path d="M17.14 418.08 C15.6 419.14 14.76 420.7 11.38 422.05 C7.99 423.4 7.58 421.48 4.46 423.14 C1.34 424.8 1.47 425.1 -0.31 428.26 C-2.1 431.42 -1.72 433.2 -2.23 434.99" fill="none" stroke="#c8c8c8" stroke-width="0.6"/><path d="M31.1 332.28 C32.67 331.28 34.24 330.96 37 328.52 C39.76 326.07 38.58 325.36 41.46 323.12 C44.33 320.89 44.23 320.87 47.79 320.14 C51.34 319.4 52.92 320.31 54.78 320.37" fill="none" stroke="#c8c8c8" stroke-width="0.6"/><path d="M30.79 410.49 C31.65 408.83 31.54 406.87 34.01 404.27 C36.48 401.67 38.09 403.51 40.05 400.73 C42.01 397.96 40.98 397.56 41.37 393.86 C41.76 390.16 41.47 388.73 41.5 386.86" fill="none" stroke="#c8c8c8" stroke-width="0.6"/><path d="M36.67 367.92 C38.54 367.96 40.42 366.78 43.67 368.07 C46.92 369.36 45.9 370.52 48.86 372.77 C51.82 375.02 51.48 374.76 54.77 376.52 C58.06 378.27 59.47 378.59 61.18 379.34" fill="none" stroke="#c8c8c8" stroke-width="0.6"/><path d="M29.27 395.42 C30.63 394.14 33.1 393.76 34.36 390.61 C35.62 387.47 34.73 387.24 34 383.62 C33.28 380 34.03 379.41 31.64 377.03 C29.25 374.65 26.8 375.32 25.04 374.7" fill="none" stroke="#c8c8c8" stroke-width="0.6"/><path d="M29.33 337.86 C30.73 339.1 31.33 340.94 34.56 342.5 C37.8 344.07 38.57 341.86 41.45 343.74 C44.34 345.61 42.5 347.67 45.39 349.52 C48.28 351.38 50.45 350.38 52.29 350.7" fill="none" stroke="#c8c8c8" stroke-width="0.6"/><path d="M55.99 421 C55.34 419.25 53.57 417.95 53.54 414.44 C53.5 410.93 53.5 410.28 55.85 407.84 C58.21 405.39 58.79 405.64 62.37 405.28 C65.95 404.92 67.42 406.17 69.26 406.49" fill="none" stroke="#c8c8c8" stroke-width="0.6"/><path d="M63.31 351.67 C63.6 349.82 65.32 348.01 64.39 344.75 C63.47 341.49 62.12 342.38 59.84 339.43 C57.56 336.48 58.71 335.71 55.85 333.68 C52.98 331.65 50.9 332.32 49.1 331.82" fill="none" stroke="#c8c8c8" stroke-width="0.6"/><path d="M60.65 406.37 C59.33 405.05 57.06 404.6 55.71 401.41 C54.36 398.22 56.39 397.98 55.58 394.41 C54.77 390.85 53.98 391.53 52.67 388.05 C51.36 384.56 51.2 383.13 50.66 381.34" fill="none" stroke="#c8c8c8" stroke-width="0.6"/><path d="M55.07 316.41 C53.91 317.87 52.92 318.88 50.72 321.89 C48.52 324.91 49.68 325.76 46.82 327.71 C43.95 329.65 43.64 328.44 39.98 329.18 C36.32 329.91 34.93 330.12 33.09 330.46" fill="none" stroke="#c8c8c8" stroke-width="0.6"/><path d="M61.99 431.05 C62.74 429.34 62.42 427.24 64.82 424.65 C67.22 422.06 67.62 422.95 70.98 421.33 C74.34 419.7 74.31 420.54 77.41 418.55 C80.5 416.56 81.22 415.11 82.6 413.86" fill="none" stroke="#c8c8c8" stroke-width="0.6"/></g>
<path d="M35.5 317 C36.7 315.68 38.59 314.04 40.5 313.2 C42.41 312.36 46.03 311.82 48.2 311.4 C50.38 310.98 53.08 310.52 55 310.4 C56.92 310.28 59.59 310.21 61 310.6 C62.41 310.99 63.71 311.59 64.4 313 C65.09 314.41 65.36 315.95 65.6 320 C65.84 324.05 65.89 330.25 66 340 C66.11 349.75 66.15 373.15 66.3 385 C66.45 396.85 66.97 411.35 67 419 C67.03 426.65 67.1 432.7 66.5 436 C65.9 439.3 64.72 440.01 63 441 C61.27 441.99 57.59 442.42 55 442.6 C52.41 442.78 48.25 442.81 45.7 442.2 C43.15 441.58 40.05 439.95 38 438.5 C35.95 437.05 33.38 434.52 32 432.5 C30.62 430.48 29.5 427.02 28.8 425 C28.1 422.98 28.1 420.57 27.3 419 C26.5 417.43 24.82 415.85 23.5 414.5 C22.18 413.15 19.73 411.57 18.5 410 C17.27 408.43 15.93 406.25 15.3 404 C14.67 401.75 14.44 397.85 14.3 395 C14.17 392.15 14.25 388.45 14.4 385 C14.55 381.55 14.81 375.45 15.3 372 C15.79 368.55 16.84 364.93 17.7 362 C18.55 359.07 19.91 355.05 21 352.5 C22.09 349.95 23.91 347.25 25 345 C26.09 342.75 27.48 339.82 28.3 337.5 C29.12 335.18 29.87 331.82 30.5 329.5 C31.13 327.18 31.75 323.88 32.5 322 C33.25 320.12 34.3 318.32 35.5 317 Z" fill="none" stroke="#bcbcbc" stroke-width="0.7"/>
<path d="M105.5 317 C104.3 315.68 102.41 314.04 100.5 313.2 C98.59 312.36 94.97 311.82 92.8 311.4 C90.62 310.98 87.92 310.52 86 310.4 C84.08 310.28 81.41 310.21 80 310.6 C78.59 310.99 77.29 311.59 76.6 313 C75.91 314.41 75.64 315.95 75.4 320 C75.16 324.05 75.11 330.25 75 340 C74.89 349.75 74.85 373.15 74.7 385 C74.55 396.85 74.03 411.35 74 419 C73.97 426.65 73.9 432.7 74.5 436 C75.1 439.3 76.28 440.01 78 441 C79.72 441.99 83.41 442.42 86 442.6 C88.59 442.78 92.75 442.81 95.3 442.2 C97.85 441.58 100.94 439.95 103 438.5 C105.06 437.05 107.62 434.52 109 432.5 C110.38 430.48 111.5 427.02 112.2 425 C112.91 422.98 112.91 420.57 113.7 419 C114.5 417.43 116.18 415.85 117.5 414.5 C118.82 413.15 121.27 411.57 122.5 410 C123.73 408.43 125.07 406.25 125.7 404 C126.33 401.75 126.56 397.85 126.7 395 C126.84 392.15 126.75 388.45 126.6 385 C126.45 381.55 126.2 375.45 125.7 372 C125.2 368.55 124.16 364.93 123.3 362 C122.44 359.07 121.09 355.05 120 352.5 C118.91 349.95 117.09 347.25 116 345 C114.91 342.75 113.53 339.82 112.7 337.5 C111.88 335.18 111.13 331.82 110.5 329.5 C109.87 327.18 109.25 323.88 108.5 322 C107.75 320.12 106.7 318.32 105.5 317 Z" fill="#e9e9e9" stroke="#c2c2c2" stroke-width="0.7"/>
<defs><clipPath id="cl102"><path d="M105.5 317 C104.3 315.68 102.41 314.04 100.5 313.2 C98.59 312.36 94.97 311.82 92.8 311.4 C90.62 310.98 87.92 310.52 86 310.4 C84.08 310.28 81.41 310.21 80 310.6 C78.59 310.99 77.29 311.59 76.6 313 C75.91 314.41 75.64 315.95 75.4 320 C75.16 324.05 75.11 330.25 75 340 C74.89 349.75 74.85 373.15 74.7 385 C74.55 396.85 74.03 411.35 74 419 C73.97 426.65 73.9 432.7 74.5 436 C75.1 439.3 76.28 440.01 78 441 C79.72 441.99 83.41 442.42 86 442.6 C88.59 442.78 92.75 442.81 95.3 442.2 C97.85 441.58 100.94 439.95 103 438.5 C105.06 437.05 107.62 434.52 109 432.5 C110.38 430.48 111.5 427.02 112.2 425 C112.91 422.98 112.91 420.57 113.7 419 C114.5 417.43 116.18 415.85 117.5 414.5 C118.82 413.15 121.27 411.57 122.5 410 C123.73 408.43 125.07 406.25 125.7 404 C126.33 401.75 126.56 397.85 126.7 395 C126.84 392.15 126.75 388.45 126.6 385 C126.45 381.55 126.2 375.45 125.7 372 C125.2 368.55 124.16 364.93 123.3 362 C122.44 359.07 121.09 355.05 120 352.5 C118.91 349.95 117.09 347.25 116 345 C114.91 342.75 113.53 339.82 112.7 337.5 C111.88 335.18 111.13 331.82 110.5 329.5 C109.87 327.18 109.25 323.88 108.5 322 C107.75 320.12 106.7 318.32 105.5 317 Z"/></clipPath></defs>
<g clip-path="url(#cl102)"><path d="M80 388.8L83.6 388L86.5 391.7L84.3 396.1L80.2 396.1L77.8 392Z" fill="#ffffff" fill-opacity="0.16"/><path d="M82 379.5L90.4 384.9L84.9 394L75.3 388Z" fill="#ffffff" fill-opacity="0.24"/><path d="M103.8 424L103.1 419.5L108.5 417.6L109.3 423.7Z" fill="#ffffff" fill-opacity="0.30"/><path d="M104.9 373.9L112.1 374.1L115.2 382.1L111.4 387.9L103.8 388.6L98.7 380.7Z" fill="#ffffff" fill-opacity="0.32"/><path d="M123.3 358.6L124 362.4L121.4 364.7L116.9 364.2L117.5 360L119.8 357.8Z" fill="#cfcfcf" fill-opacity="0.15"/><path d="M88.6 350.3L83.3 348L83.8 342.8L88.1 340.5L93.8 342.6L92.4 347.5Z" fill="#ffffff" fill-opacity="0.31"/><path d="M89.3 422.4L90.4 415L97.2 412.2L102.8 419.3L99.9 426.7L91.7 427.3Z" fill="#cfcfcf" fill-opacity="0.30"/><path d="M122.8 321.4L116.1 320.5L116.5 315.1L122.8 315.1Z" fill="#cfcfcf" fill-opacity="0.31"/><path d="M117.4 352.8L109.1 350.1L103.9 345.5L107.4 339.6L114.7 337.7L117.7 344.2Z" fill="#ffffff" fill-opacity="0.29"/><path d="M114.8 331.4L118.7 336L112.1 339.8L108.6 333.4Z" fill="#ffffff" fill-opacity="0.28"/><path d="M90.9 419.8L90.1 413.5L96.5 408.2L102 413.8L100.2 419.7Z" fill="#ffffff" fill-opacity="0.29"/><path d="M129.8 308.1L132.3 314.8L123.8 318.4L122 310.3Z" fill="#ffffff" fill-opacity="0.23"/><path d="M118.4 444.1L113.2 442.7L113.7 437.3L117.6 434.3L120.2 438.5Z" fill="#cfcfcf" fill-opacity="0.32"/><path d="M92.6 378.9L88.6 383.3L84.3 377.7L90 373Z" fill="#ffffff" fill-opacity="0.33"/><path d="M111 336.9L118.8 342.2L113 348.6L104.5 343.5Z" fill="#ffffff" fill-opacity="0.31"/><path d="M127 439.8L122.5 443.8L117.4 439.7L118.5 434.3L122.5 431.8L127.6 435.3Z" fill="#ffffff" fill-opacity="0.34"/><path d="M95.1 424.9L89.3 427L87.1 420.7L93.4 420Z" fill="#cfcfcf" fill-opacity="0.16"/><path d="M98.1 417L89.9 412.5L96.2 403.5L103.3 404.4L105.5 414.8Z" fill="#ffffff" fill-opacity="0.33"/><path d="M89.9 363.1L90.3 355.7L97.3 351.7L104.9 356.8L99 366.3Z" fill="#cfcfcf" fill-opacity="0.30"/><path d="M108.8 405.1L113.7 412.5L103.7 418.7L100.3 407.5Z" fill="#ffffff" fill-opacity="0.25"/><path d="M95.6 320.8L87.1 314.8L91.4 305.2L99.1 311Z" fill="#ffffff" fill-opacity="0.25"/><path d="M102 332.6L101.6 337.1L98.4 336.4L96 334.6L97.2 330.6L100.1 329.6Z" fill="#ffffff" fill-opacity="0.25"/><path d="M105.4 340.8L105.6 333.3L112.5 334.3L112.3 342.3Z" fill="#cfcfcf" fill-opacity="0.29"/><path d="M107.7 363.9L106.8 359.6L110.6 357.3L114.8 359.3L114.9 363.8L110.8 365.9Z" fill="#cfcfcf" fill-opacity="0.35"/><path d="M99.1 323.1L98.4 330.2L94.2 331.9L89.6 331.4L88.1 323.4L93.4 320.3Z" fill="#cfcfcf" fill-opacity="0.30"/><path d="M90 378.7L83.5 382L78.6 377L80 369.5L84.5 368.4L91.8 371.5Z" fill="#ffffff" fill-opacity="0.29"/><path d="M78.8 400.7L74.1 398L77.8 393.5L81.9 397Z" fill="#ffffff" fill-opacity="0.35"/><path d="M112.5 351.2L108.4 348.2L111.8 344.8L115.6 347.2Z" fill="#ffffff" fill-opacity="0.28"/><path d="M80.3 413.9L91.4 415.1L92.4 424.9L79.7 425.9Z" fill="#cfcfcf" fill-opacity="0.20"/><path d="M96.6 334.5L89.9 326.2L96.1 316.4L105.1 325.6Z" fill="#cfcfcf" fill-opacity="0.20"/><path d="M97.5 345.2L92.4 349.9L86.8 345.6L91.9 340.8Z" fill="#cfcfcf" fill-opacity="0.31"/><path d="M79.5 365.5L80.2 359.3L87.4 355.6L92.2 360.4L92.5 366.8L86.2 369.5Z" fill="#cfcfcf" fill-opacity="0.34"/><path d="M113.8 312.4L109.7 319L105.1 312.8L109.2 308.1Z" fill="#ffffff" fill-opacity="0.26"/><path d="M131.2 364L125.8 366.2L120.8 362.2L123.4 356L127.9 355.7L130.2 358.3Z" fill="#ffffff" fill-opacity="0.30"/><path d="M74 359.8L82.2 357.7L84.6 365.6L76.2 368.6Z" fill="#cfcfcf" fill-opacity="0.19"/><path d="M106.4 350.7L112.4 354.8L108.1 361.3L103.4 356.9Z" fill="#ffffff" fill-opacity="0.30"/><path d="M92 322.8L88.9 326.7L83.7 325.7L82.4 320.5L87 317.3L91.4 317.9Z" fill="#ffffff" fill-opacity="0.26"/><path d="M128.6 339.1L129.9 344.1L126.8 347.1L120.8 346.9L121.5 340L124.5 338Z" fill="#ffffff" fill-opacity="0.23"/><path d="M91 393.2L94.3 390.8L97.7 392.1L97.7 396L95.2 398.9L92.8 396.9Z" fill="#ffffff" fill-opacity="0.21"/><path d="M83.8 404.5L87.4 408L85.3 411.3L80.7 411.9L80.4 407.3Z" fill="#cfcfcf" fill-opacity="0.18"/><path d="M99.2 383.9L96.5 377L101.6 374.2L107.5 375.5L106.4 383.1Z" fill="#cfcfcf" fill-opacity="0.21"/><path d="M86.1 398.5L89.7 394.7L93.1 397.7L90.7 402.1Z" fill="#cfcfcf" fill-opacity="0.32"/><path d="M120.4 366.1L115.6 376.7L106 370.9L110.2 360.8Z" fill="#ffffff" fill-opacity="0.24"/><path d="M82.1 330.4L77.1 325.4L80.5 318.6L86.8 323.8Z" fill="#cfcfcf" fill-opacity="0.25"/><path d="M115 436.9L123.2 436.9L122.3 446.4L114.5 444Z" fill="#cfcfcf" fill-opacity="0.29"/><path d="M79.3 385L82.9 379.3L89.9 381.8L86.8 388.9Z" fill="#ffffff" fill-opacity="0.23"/><path d="M81.4 423.2L82.2 429.2L75.8 431.1L73 426.3L76 421.7Z" fill="#ffffff" fill-opacity="0.32"/><path d="M115.8 369.4L120.5 371.6L122.4 377.2L116.5 379.5L111.6 374.8Z" fill="#ffffff" fill-opacity="0.29"/><path d="M104.9 436.9L106.8 443.4L101.8 446L96.6 443.7L98.2 438.2Z" fill="#ffffff" fill-opacity="0.16"/><path d="M102.7 309.5L114 308.4L112.7 319.6L104.2 316.3Z" fill="#cfcfcf" fill-opacity="0.33"/><path d="M83.2 378.5L74.2 377.6L74.9 370.2L77.5 364.5L83.6 367.5L87.8 372.5Z" fill="#cfcfcf" fill-opacity="0.18"/><path d="M94.6 358.1L87.2 356.6L85.5 350.4L89.7 345.1L96.9 346.9L98.8 351.6Z" fill="#cfcfcf" fill-opacity="0.32"/><path d="M95.1 383.2L94.3 391.3L87.8 394.9L84 388.9L86.7 380.8Z" fill="#ffffff" fill-opacity="0.21"/><path d="M108.3 424.8L97.2 429.2L94 418.9L105 412.8Z" fill="#cfcfcf" fill-opacity="0.17"/><path d="M92 353.2L89.1 358.1L85 355.3L84 350.2L89.8 349.8Z" fill="#cfcfcf" fill-opacity="0.34"/><path d="M79 321.2L79.6 315.2L86.9 311.6L93.5 318.4L89.3 323.7L83.1 328.1Z" fill="#ffffff" fill-opacity="0.28"/><path d="M100.7 421.7L100.9 424.7L99.3 427.8L95.9 425.8L94.1 422.9L97.4 420Z" fill="#cfcfcf" fill-opacity="0.17"/><path d="M93 353.1L89 359.4L83 356.5L80.1 352.4L83.7 346.3L88.9 349Z" fill="#ffffff" fill-opacity="0.25"/><path d="M98.5 339.2L91.6 339.4L91.2 332.8L97.4 333.1Z" fill="#ffffff" fill-opacity="0.16"/><path d="M91.8 344.3L99 342.1L102.7 347.7L99.3 353.8L92.4 352Z" fill="#ffffff" fill-opacity="0.22"/><path d="M101.1 348.4L91.4 350.6L88.8 340.7L97.6 340.6Z" fill="#ffffff" fill-opacity="0.30"/><path d="M96.9 410.8L100.7 411.7L102.2 415.2L99.3 419.6L94.9 417.8L94.7 413.8Z" fill="#cfcfcf" fill-opacity="0.25"/><path d="M112.4 395.8L116.3 396.2L119.2 402.2L116.6 406L110.2 405.3L108.8 401.5Z" fill="#ffffff" fill-opacity="0.25"/><path d="M97 397.6L98.9 402.8L95.4 406L90 403L92.5 397.4Z" fill="#ffffff" fill-opacity="0.30"/><path d="M118.8 317.3L116.9 322.8L110.6 327.1L104.6 321L108.6 314.1L114.3 311.7Z" fill="#ffffff" fill-opacity="0.18"/><path d="M72.6 363.8L78.8 360.7L84.5 366.5L76.2 371.9Z" fill="#cfcfcf" fill-opacity="0.27"/><path d="M78.6 314.6L78.3 308L85 307.7L84.7 314.2Z" fill="#cfcfcf" fill-opacity="0.28"/><path d="M122.4 337.1L131.7 341L126.1 349.6L117.9 345.5Z" fill="#ffffff" fill-opacity="0.31"/><path d="M107.9 340.6L104.3 334.6L110.2 330.5L116.4 332.9L114.5 340.5Z" fill="#cfcfcf" fill-opacity="0.24"/><path d="M94.6 355.2L95.7 362.2L86.4 364L81.5 357.1L88.9 352Z" fill="#cfcfcf" fill-opacity="0.34"/><path d="M118.1 437L114.5 445L106.3 443.4L103.5 435.3L110.7 431.8Z" fill="#ffffff" fill-opacity="0.16"/><path d="M108.4 354.9L114.4 364.1L107.4 371.5L100.2 366.6L102.1 358.5Z" fill="#cfcfcf" fill-opacity="0.25"/><path d="M83 395.4L84.6 388.8L91.4 391.8L88.5 398.1Z" fill="#ffffff" fill-opacity="0.26"/><path d="M107.8 406.6L118.8 402.9L123.4 410.4L113.3 417Z" fill="#cfcfcf" fill-opacity="0.32"/><path d="M122.8 329L117.9 329.3L116.2 324.6L120 320.7L124.1 322.1L125.4 327.1Z" fill="#ffffff" fill-opacity="0.28"/><path d="M101.8 420.4L103.1 424.2L101.1 427.2L97.8 427.1L95.5 423.8L97.4 420.5Z" fill="#ffffff" fill-opacity="0.17"/><path d="M103.8 339.2L107.6 334.8L112.1 336.3L114 342.7L106.8 345.6Z" fill="#cfcfcf" fill-opacity="0.19"/><path d="M75.7 388.29 C77 389.63 79.03 390.12 80.58 393.31 C82.13 396.5 80.52 396.69 81.51 400.25 C82.49 403.82 82.15 403.72 84.28 406.68 C86.41 409.64 88.11 410.1 89.5 411.35" fill="none" stroke="#c8c8c8" stroke-width="0.6"/><path d="M84.84 439.88 C83.39 441.07 82.45 442.15 79.43 444.33 C76.41 446.52 76.91 446.63 73.52 448.08 C70.13 449.53 70.27 448.64 66.73 449.77 C63.18 450.9 61.95 451.65 60.21 452.33" fill="none" stroke="#c8c8c8" stroke-width="0.6"/><path d="M105.79 327.22 C107.12 328.52 108.39 329.27 110.8 332.11 C113.2 334.94 112.63 334.82 114.8 337.85 C116.98 340.89 116.29 340.95 118.95 343.49 C121.61 346.03 123.22 346.34 124.77 347.37" fill="none" stroke="#c8c8c8" stroke-width="0.6"/><path d="M92.28 315.98 C92.82 314.19 92.56 312.49 94.29 309.27 C96.01 306.04 95.86 306.09 98.75 303.88 C101.64 301.66 102.19 303.15 105.12 300.98 C108.05 298.8 108.5 297.11 109.73 295.71" fill="none" stroke="#c8c8c8" stroke-width="0.6"/><path d="M90.9 369.35 C92.74 369.68 94.59 368.98 97.79 370.58 C101 372.18 100.22 372.77 102.93 375.34 C105.63 377.92 106.28 377.09 107.93 380.24 C109.57 383.38 108.78 385.3 109.1 387.14" fill="none" stroke="#c8c8c8" stroke-width="0.6"/><path d="M113.14 363.3 C114.64 364.41 115.76 365.24 118.76 367.47 C121.75 369.7 121.75 369.05 124.37 371.66 C127 374.26 125.91 374.73 128.6 377.23 C131.29 379.74 132.9 380.04 134.47 381.05" fill="none" stroke="#c8c8c8" stroke-width="0.6"/><path d="M92.79 343.25 C92.24 345.04 91.8 346.37 90.75 349.95 C89.69 353.53 88.37 353.29 88.83 356.68 C89.29 360.07 91.43 359.2 92.47 362.67 C93.51 366.13 92.65 367.8 92.72 369.66" fill="none" stroke="#c8c8c8" stroke-width="0.6"/><path d="M115.1 389.69 C115.5 387.86 115.81 386.5 116.6 382.85 C117.39 379.2 116.19 378.95 118.07 376.01 C119.96 373.06 120.32 372.67 123.66 371.79 C127 370.92 128.75 372.47 130.6 372.72" fill="none" stroke="#c8c8c8" stroke-width="0.6"/><path d="M122.67 440.41 C122.27 442.23 122.77 444 121.16 447.24 C119.54 450.49 118.65 449.48 116.62 452.58 C114.6 455.68 115.01 455.44 113.57 458.88 C112.12 462.31 111.84 463.71 111.21 465.47" fill="none" stroke="#c8c8c8" stroke-width="0.6"/><path d="M94.65 416.17 C96.05 417.41 98.3 417.73 99.88 420.82 C101.47 423.92 100.54 424.07 100.61 427.79 C100.68 431.5 101.65 431.64 100.16 434.77 C98.67 437.9 96.39 438.26 95.02 439.53" fill="none" stroke="#c8c8c8" stroke-width="0.6"/><path d="M87.73 313.25 C89.53 313.77 90.81 314.72 94.47 315.17 C98.13 315.62 98.11 316.14 101.46 314.96 C104.81 313.77 103.69 311.61 107.03 310.71 C110.37 309.82 112.12 311.36 113.97 311.6" fill="none" stroke="#c8c8c8" stroke-width="0.6"/><path d="M124.96 341.04 C126.75 340.52 128.03 339.72 131.69 339.1 C135.34 338.47 135.22 339.77 138.67 338.69 C142.13 337.6 142.56 337.8 144.64 335.03 C146.72 332.25 145.98 330.07 146.47 328.27" fill="none" stroke="#c8c8c8" stroke-width="0.6"/><path d="M91.37 317.45 C93.15 316.87 94.39 316.01 98.03 315.29 C101.67 314.58 101.69 313.73 105.01 314.76 C108.32 315.79 107.3 317.23 110.46 319.16 C113.62 321.08 115.16 321.23 116.87 321.98" fill="none" stroke="#c8c8c8" stroke-width="0.6"/><path d="M82.98 408.13 C83.43 409.95 85.14 411.49 84.68 414.92 C84.22 418.36 84 419.04 81.26 421.03 C78.51 423.01 77.9 421.2 74.39 422.37 C70.88 423.55 69.77 424.63 68.1 425.45" fill="none" stroke="#c8c8c8" stroke-width="0.6"/><path d="M93.1 375.1 C93.79 376.83 93.35 379 95.7 381.6 C98.05 384.2 98.51 383.3 101.9 384.84 C105.3 386.39 104.9 386.18 108.42 387.39 C111.95 388.61 113.34 388.86 115.13 389.39" fill="none" stroke="#c8c8c8" stroke-width="0.6"/><path d="M123.27 326.23 C125.13 326.42 126.58 327.27 130.24 326.96 C133.89 326.64 134.13 327.1 136.97 325.05 C139.82 323 138.6 322.18 140.91 319.26 C143.22 316.34 144.37 315.48 145.63 314.1" fill="none" stroke="#c8c8c8" stroke-width="0.6"/><path d="M91.48 433.58 C91.31 435.44 90.98 436.83 90.86 440.55 C90.74 444.28 91.73 443.97 91.04 447.55 C90.35 451.13 88.87 450.4 88.27 453.98 C87.66 457.55 88.64 459.1 88.77 460.96" fill="none" stroke="#c8c8c8" stroke-width="0.6"/><path d="M76.26 413.15 C75.99 415 76.41 416.6 75.24 420.08 C74.07 423.56 73.84 423.05 71.87 426.21 C69.89 429.37 70.34 429.21 67.82 431.92 C65.29 434.63 63.85 435.18 62.41 436.36" fill="none" stroke="#c8c8c8" stroke-width="0.6"/><path d="M89.19 424.87 C87.89 426.21 86.43 426.87 84.3 429.88 C82.17 432.89 83.25 433.07 81.2 436.15 C79.15 439.24 79.03 438.6 76.61 441.44 C74.19 444.28 73.33 445.39 72.13 446.82" fill="none" stroke="#c8c8c8" stroke-width="0.6"/><path d="M89.23 337.02 C88.13 335.51 87.4 334.31 85.1 331.37 C82.8 328.43 82.22 329.25 80.62 325.99 C79.03 322.73 78.62 322.61 79.12 319.15 C79.61 315.69 81.58 314.65 82.47 313.01" fill="none" stroke="#c8c8c8" stroke-width="0.6"/><path d="M88.86 382.28 C88.98 384.14 89.9 385.68 89.31 389.27 C88.72 392.85 87.07 392.17 86.64 395.74 C86.21 399.31 88.44 399.25 87.7 402.66 C86.96 406.06 84.88 406.95 83.86 408.51" fill="none" stroke="#c8c8c8" stroke-width="0.6"/><path d="M112.49 387.33 C110.98 386.24 109.06 386.05 106.81 383.24 C104.56 380.44 105.82 380.08 104.05 376.81 C102.29 373.54 102.61 373.77 100.18 370.98 C97.75 368.18 96.35 367.56 94.96 366.32" fill="none" stroke="#c8c8c8" stroke-width="0.6"/><path d="M92.63 324.43 C93.47 322.76 95.28 321.69 95.8 318.19 C96.31 314.69 95.52 314.9 94.57 311.3 C93.62 307.7 94.15 307.8 92.24 304.7 C90.32 301.59 88.68 301 87.38 299.65" fill="none" stroke="#c8c8c8" stroke-width="0.6"/><path d="M119.6 329.87 C120.25 328.13 122.23 326.74 122.06 323.32 C121.88 319.9 121.15 319.99 118.95 317.05 C116.74 314.11 115.66 315.37 113.8 312.31 C111.93 309.24 112.44 307.36 111.95 305.56" fill="none" stroke="#c8c8c8" stroke-width="0.6"/><path d="M105.61 373.57 C106.29 371.83 105.76 369.48 108.18 367.06 C110.6 364.64 111.47 366.31 114.7 364.51 C117.93 362.7 118.04 363.12 120.29 360.29 C122.53 357.46 122.37 355.6 123.12 353.89" fill="none" stroke="#c8c8c8" stroke-width="0.6"/><path d="M111.68 382.26 C113.54 382.4 115.37 381.46 118.66 382.8 C121.95 384.14 120.76 386.4 124.03 387.29 C127.3 388.18 127.47 387.36 130.94 386.14 C134.4 384.92 135.41 383.62 137.03 382.7" fill="none" stroke="#c8c8c8" stroke-width="0.6"/><path d="M120.32 431.99 C122.13 431.57 123.75 429.8 127.13 430.4 C130.51 431 129.58 433.49 132.99 434.24 C136.4 434.98 136.25 433.04 139.91 433.2 C143.57 433.36 144.9 434.41 146.72 434.84" fill="none" stroke="#c8c8c8" stroke-width="0.6"/><path d="M118.87 402.91 C117.5 404.18 115.6 404.6 113.72 407.66 C111.85 410.72 111.37 411.01 111.84 414.4 C112.31 417.79 112.67 418.46 115.48 420.38 C118.29 422.3 120.53 421.28 122.37 421.61" fill="none" stroke="#c8c8c8" stroke-width="0.6"/><path d="M79.71 433.95 C80.13 435.77 79.78 437.43 81.26 440.78 C82.75 444.12 83.64 443.2 85.28 446.51 C86.92 449.81 86.84 449.53 87.41 453.17 C87.98 456.82 87.43 458.31 87.43 460.17" fill="none" stroke="#c8c8c8" stroke-width="0.6"/><path d="M84.16 314.21 C84.01 316.07 83.74 317.46 83.59 321.19 C83.44 324.91 82.65 324.71 83.59 328.19 C84.53 331.67 84.88 331.28 87.12 334.23 C89.36 337.18 90.7 337.91 92.01 339.24" fill="none" stroke="#c8c8c8" stroke-width="0.6"/><path d="M99.21 440.44 C97.45 439.8 96.01 437.76 92.63 438.04 C89.25 438.31 90 440.93 86.54 441.49 C83.09 442.04 83.33 440.9 79.68 440.11 C76.03 439.32 74.68 438.95 72.86 438.53" fill="none" stroke="#c8c8c8" stroke-width="0.6"/><path d="M91.08 425.83 C92.91 426.18 94.92 425.36 97.95 427.14 C100.99 428.92 101.28 429.2 102.46 432.5 C103.63 435.79 101.63 435.92 102.37 439.5 C103.1 443.07 104.44 444.19 105.2 445.9" fill="none" stroke="#c8c8c8" stroke-width="0.6"/><path d="M89.9 399.82 C89.51 401.65 88.15 403.1 88.44 406.67 C88.73 410.23 90.91 409.68 90.98 413.19 C91.05 416.69 89.06 416.19 88.71 419.81 C88.36 423.42 89.4 424.9 89.66 426.74" fill="none" stroke="#c8c8c8" stroke-width="0.6"/><path d="M100.75 421.83 C102.26 420.74 104.03 420.48 106.43 417.74 C108.82 415.01 109.32 415.02 109.73 411.57 C110.14 408.12 108.67 408.46 107.96 404.8 C107.25 401.14 107.3 399.71 107.06 397.86" fill="none" stroke="#c8c8c8" stroke-width="0.6"/><path d="M103.73 406.45 C101.88 406.2 100.42 406.36 96.79 405.53 C93.17 404.7 92.93 405.49 90.14 403.34 C87.36 401.18 87.2 400.88 86.35 397.45 C85.5 394.03 86.8 392.34 86.96 390.48" fill="none" stroke="#c8c8c8" stroke-width="0.6"/><path d="M77.24 429.68 C77.09 431.55 75.62 433.39 76.69 436.66 C77.76 439.94 78.33 439.81 81.25 441.97 C84.18 444.14 84.16 443.5 87.66 444.79 C91.16 446.08 92.58 446.26 94.37 446.8" fill="none" stroke="#c8c8c8" stroke-width="0.6"/><path d="M95.23 388.88 C96.99 388.26 99.01 388.72 101.84 386.57 C104.67 384.42 105.12 384.2 105.85 380.83 C106.58 377.47 104.56 377.62 104.56 373.95 C104.57 370.28 105.52 368.91 105.87 367.08" fill="none" stroke="#c8c8c8" stroke-width="0.6"/><path d="M112.04 405.81 C111.97 407.67 113.13 409.58 111.78 412.8 C110.44 416.03 109.39 415.05 107 417.92 C104.62 420.78 104.7 420.33 102.85 423.55 C100.99 426.76 100.8 428.26 100.06 429.97" fill="none" stroke="#c8c8c8" stroke-width="0.6"/><path d="M104.51 415.95 C104.19 417.79 104.94 419.68 103.31 422.85 C101.67 426.01 101.33 425.6 98.38 427.82 C95.43 430.04 94.57 428.54 92.23 431.17 C89.9 433.8 90.33 435.94 89.63 437.67" fill="none" stroke="#c8c8c8" stroke-width="0.6"/><path d="M106.32 374.36 C104.55 374.94 102.4 374.37 99.67 376.56 C96.94 378.75 98.5 379.8 96.08 382.57 C93.67 385.33 92.14 383.9 90.61 386.92 C89.07 389.95 90.4 392.05 90.33 393.92" fill="none" stroke="#c8c8c8" stroke-width="0.6"/><path d="M86.83 376.25 C88.07 377.65 88.37 380 91.47 381.49 C94.57 382.98 94.75 381.45 98.46 381.83 C102.17 382.2 102.57 381 105.38 382.88 C108.19 384.76 108.03 387.28 108.99 388.88" fill="none" stroke="#c8c8c8" stroke-width="0.6"/><path d="M76.5 439.78 C76.46 437.91 77.59 436.08 76.34 432.78 C75.1 429.49 74.8 429.45 71.83 427.43 C68.85 425.42 68.67 426.56 65.19 425.22 C61.71 423.88 60.48 423.17 58.77 422.42" fill="none" stroke="#c8c8c8" stroke-width="0.6"/><path d="M113.71 321.22 C114.59 322.86 116.09 323.87 117.02 327.39 C117.94 330.9 118.08 330.91 117.18 334.38 C116.27 337.86 113.9 337.06 113.62 340.41 C113.34 343.76 115.46 345.2 116.12 346.95" fill="none" stroke="#c8c8c8" stroke-width="0.6"/><path d="M80.15 389.56 C80.71 387.77 80.43 386.03 82.25 382.88 C84.08 379.73 84.04 379.89 87 377.73 C89.96 375.57 89.86 376.07 93.35 374.78 C96.84 373.5 98.3 373.42 100.1 372.93" fill="none" stroke="#c8c8c8" stroke-width="0.6"/><path d="M105 372.02 C103.38 371.08 102.39 369.81 98.95 368.5 C95.5 367.19 95.62 368.24 92.09 367.11 C88.55 365.98 88.25 366.68 85.69 364.26 C83.13 361.84 83.35 359.7 82.49 358.04" fill="none" stroke="#c8c8c8" stroke-width="0.6"/><path d="M82.5 332.11 C84.31 331.67 86.08 332.13 89.3 330.45 C92.52 328.78 92.54 328.83 94.56 325.84 C96.58 322.84 94.62 321.89 96.86 319.23 C99.11 316.56 101.36 316.74 102.99 315.84" fill="none" stroke="#c8c8c8" stroke-width="0.6"/><path d="M85.33 315.62 C87.14 316.09 89.52 315.22 92.11 317.38 C94.69 319.54 94.94 320.3 95.04 323.74 C95.14 327.17 93.67 326.72 92.49 330.26 C91.3 333.79 91.09 335.2 90.58 336.99" fill="none" stroke="#c8c8c8" stroke-width="0.6"/><path d="M104.43 439.68 C106.17 440.35 107.36 441.35 110.96 442.2 C114.56 443.05 114.72 441.39 117.93 442.87 C121.13 444.34 121.2 444.61 122.97 447.72 C124.74 450.83 124.15 452.72 124.58 454.54" fill="none" stroke="#c8c8c8" stroke-width="0.6"/><path d="M119.92 422.15 C121.7 422.72 122.95 423.64 126.59 424.29 C130.23 424.94 130.48 425.91 133.58 424.6 C136.69 423.29 135.13 420.74 138.24 419.37 C141.34 418 143.37 419.45 145.24 419.48" fill="none" stroke="#c8c8c8" stroke-width="0.6"/><path d="M88.34 332.21 C87.08 333.59 86.25 334.73 83.62 337.38 C80.99 340.02 81.25 339.63 78.48 342.13 C75.71 344.64 76.5 345.51 73.24 346.77 C69.97 348.03 68.11 346.84 66.24 346.86" fill="none" stroke="#c8c8c8" stroke-width="0.6"/></g>
<path d="M105.5 317 C104.3 315.68 102.41 314.04 100.5 313.2 C98.59 312.36 94.97 311.82 92.8 311.4 C90.62 310.98 87.92 310.52 86 310.4 C84.08 310.28 81.41 310.21 80 310.6 C78.59 310.99 77.29 311.59 76.6 313 C75.91 314.41 75.64 315.95 75.4 320 C75.16 324.05 75.11 330.25 75 340 C74.89 349.75 74.85 373.15 74.7 385 C74.55 396.85 74.03 411.35 74 419 C73.97 426.65 73.9 432.7 74.5 436 C75.1 439.3 76.28 440.01 78 441 C79.72 441.99 83.41 442.42 86 442.6 C88.59 442.78 92.75 442.81 95.3 442.2 C97.85 441.58 100.94 439.95 103 438.5 C105.06 437.05 107.62 434.52 109 432.5 C110.38 430.48 111.5 427.02 112.2 425 C112.91 422.98 112.91 420.57 113.7 419 C114.5 417.43 116.18 415.85 117.5 414.5 C118.82 413.15 121.27 411.57 122.5 410 C123.73 408.43 125.07 406.25 125.7 404 C126.33 401.75 126.56 397.85 126.7 395 C126.84 392.15 126.75 388.45 126.6 385 C126.45 381.55 126.2 375.45 125.7 372 C125.2 368.55 124.16 364.93 123.3 362 C122.44 359.07 121.09 355.05 120 352.5 C118.91 349.95 117.09 347.25 116 345 C114.91 342.75 113.53 339.82 112.7 337.5 C111.88 335.18 111.13 331.82 110.5 329.5 C109.87 327.18 109.25 323.88 108.5 322 C107.75 320.12 106.7 318.32 105.5 317 Z" fill="none" stroke="#bcbcbc" stroke-width="0.7"/>
<path d="M131.6 343.2 C131.7 340.57 132.03 336.07 133 333 C133.97 329.93 136.01 325.55 138.1 322.7 C140.19 319.85 143.83 316.19 146.9 314 C149.97 311.81 154.88 309.42 158.6 308.1 C162.32 306.78 167.54 305.74 171.7 305.2 C175.85 304.66 181.86 304.26 186.3 304.5 C190.74 304.74 197.69 305.44 201.3 306.8 C204.92 308.17 207.67 310.87 210.4 313.6 C213.13 316.33 217.12 321.77 219.5 325 C221.88 328.23 224.7 332.04 226.3 335.1 C227.91 338.16 230.03 342.16 230.2 345.4 C230.36 348.64 228.84 354.66 227.4 356.7 C225.96 358.74 222.82 358.73 220.6 359 C218.38 359.27 214.67 357.81 212.6 358.5 C210.53 359.19 208.99 362.18 206.8 363.6 C204.61 365.03 201.07 366.91 198 368 C194.93 369.09 190.02 370.57 186.3 370.9 C182.58 371.23 176.69 370.63 173.2 370.2 C169.7 369.76 165.09 368.99 163 368 C160.91 367.01 160.19 364.92 159.3 363.6 C158.42 362.28 158.96 360.07 157.1 359.2 C155.24 358.33 149.96 358.44 146.9 357.8 C143.84 357.16 138.89 356 136.7 354.9 C134.51 353.8 133.06 352.25 132.3 350.5 C131.54 348.75 131.5 345.82 131.6 343.2 Z" fill="#e9e9e9" stroke="#c2c2c2" stroke-width="0.7"/>
<defs><clipPath id="cl103"><path d="M131.6 343.2 C131.7 340.57 132.03 336.07 133 333 C133.97 329.93 136.01 325.55 138.1 322.7 C140.19 319.85 143.83 316.19 146.9 314 C149.97 311.81 154.88 309.42 158.6 308.1 C162.32 306.78 167.54 305.74 171.7 305.2 C175.85 304.66 181.86 304.26 186.3 304.5 C190.74 304.74 197.69 305.44 201.3 306.8 C204.92 308.17 207.67 310.87 210.4 313.6 C213.13 316.33 217.12 321.77 219.5 325 C221.88 328.23 224.7 332.04 226.3 335.1 C227.91 338.16 230.03 342.16 230.2 345.4 C230.36 348.64 228.84 354.66 227.4 356.7 C225.96 358.74 222.82 358.73 220.6 359 C218.38 359.27 214.67 357.81 212.6 358.5 C210.53 359.19 208.99 362.18 206.8 363.6 C204.61 365.03 201.07 366.91 198 368 C194.93 369.09 190.02 370.57 186.3 370.9 C182.58 371.23 176.69 370.63 173.2 370.2 C169.7 369.76 165.09 368.99 163 368 C160.91 367.01 160.19 364.92 159.3 363.6 C158.42 362.28 158.96 360.07 157.1 359.2 C155.24 358.33 149.96 358.44 146.9 357.8 C143.84 357.16 138.89 356 136.7 354.9 C134.51 353.8 133.06 352.25 132.3 350.5 C131.54 348.75 131.5 345.82 131.6 343.2 Z"/></clipPath></defs>
<g clip-path="url(#cl103)"><path d="M231.1 327.5L235.5 334.1L231.8 339.5L225.2 340.6L223.1 335.5L223.3 331Z" fill="#cfcfcf" fill-opacity="0.29"/><path d="M185.1 321.3L191.3 316.4L197.5 321.4L196.2 326.6L191.6 330.6L184.8 327.8Z" fill="#cfcfcf" fill-opacity="0.30"/><path d="M182.5 352.7L187.8 356.5L184.9 361.8L177.2 358.9Z" fill="#cfcfcf" fill-opacity="0.29"/><path d="M141.1 329.6L145.5 333.6L147.1 340.8L139.6 343.2L131.9 339.3L133.2 332.7Z" fill="#ffffff" fill-opacity="0.15"/><path d="M157.1 324.2L153.3 323.6L152.1 319.2L155.3 316.5L159.7 319.2Z" fill="#ffffff" fill-opacity="0.24"/><path d="M172 312.1L176.2 315.9L173.7 319.9L169.1 321L167.3 316.9L167.4 312.6Z" fill="#ffffff" fill-opacity="0.24"/><path d="M164.2 360L163.5 363.9L160.1 366.7L155.4 364.9L157 360L160.1 356.3Z" fill="#cfcfcf" fill-opacity="0.28"/><path d="M208 340.1L210.3 345.5L205 347.5L202.7 341.8Z" fill="#cfcfcf" fill-opacity="0.26"/><path d="M195.2 310.1L196.6 314.9L192 317.5L187.7 314.8L189.7 310.1Z" fill="#ffffff" fill-opacity="0.19"/><path d="M193.4 345.2L197.5 341.8L203.7 345.3L200.9 350.8L197.1 354.2L191.9 350.5Z" fill="#ffffff" fill-opacity="0.19"/><path d="M205.2 314.1L204.5 309.6L207.9 306.9L212.5 310.2L210.1 314.5Z" fill="#ffffff" fill-opacity="0.28"/><path d="M144.4 330.9L143.2 334.8L139.7 334.3L137.3 331.2L139 327.8L142.7 328.6Z" fill="#ffffff" fill-opacity="0.33"/><path d="M214.2 363.5L211.8 369.5L204.8 371.2L204.4 364.5L208.3 359.2Z" fill="#ffffff" fill-opacity="0.15"/><path d="M156.5 368L152.1 365.9L153.1 359.3L158.1 354.9L164 360L163.7 366.5Z" fill="#cfcfcf" fill-opacity="0.31"/><path d="M158 314.1L164.6 315.3L167 322.9L160.2 324.7L156.3 321.3Z" fill="#cfcfcf" fill-opacity="0.27"/><path d="M212.4 358.8L207.5 361.2L204.2 356.8L206.8 350L214.4 351.5Z" fill="#cfcfcf" fill-opacity="0.15"/><path d="M156.7 375.4L149.9 374.3L150 367.9L156.5 365.2L163 370.8Z" fill="#cfcfcf" fill-opacity="0.16"/><path d="M176.8 333.7L169.3 332.6L168.5 326.7L175.6 322L182 328.3Z" fill="#ffffff" fill-opacity="0.31"/><path d="M196.7 340L196 336.7L198.3 333.6L201.9 334.4L201.9 338.6L200.4 340.3Z" fill="#cfcfcf" fill-opacity="0.25"/><path d="M150.1 324L140.7 319.3L148.2 309L157.8 317.5Z" fill="#ffffff" fill-opacity="0.34"/><path d="M170.4 347.1L177.5 347.3L180.3 355.7L172.7 360.9L165.9 353.9Z" fill="#ffffff" fill-opacity="0.27"/><path d="M190.8 359.9L197.7 364.5L192.7 370.9L185.7 366.4Z" fill="#ffffff" fill-opacity="0.34"/><path d="M219.5 363.6L216.3 358.1L219.2 353L226.4 353.1L229.6 359L225.5 364.4Z" fill="#ffffff" fill-opacity="0.27"/><path d="M135.2 329L139.7 330.6L139.6 335.1L134.7 334.4Z" fill="#cfcfcf" fill-opacity="0.35"/><path d="M220.7 321L221.4 313.7L230.8 311.2L232.5 320.7L226.4 327.5Z" fill="#ffffff" fill-opacity="0.24"/><path d="M210.1 329.2L213.5 332.4L211.6 337.9L206.3 335.7L206.4 331.6Z" fill="#cfcfcf" fill-opacity="0.33"/><path d="M166.2 362.2L168.5 358.7L173.4 359.4L174.7 363.3L171.6 366.8L168.1 366.1Z" fill="#cfcfcf" fill-opacity="0.33"/><path d="M222.6 319L231.2 319.3L231.2 328L225.9 332.8L218.9 326.3Z" fill="#ffffff" fill-opacity="0.18"/><path d="M183.3 310.3L187.6 318.2L179.2 320.9L173.5 314.2Z" fill="#ffffff" fill-opacity="0.19"/><path d="M232.5 309L230.5 313.9L224.5 315L219.7 310.3L223.5 304.2L229.1 304Z" fill="#cfcfcf" fill-opacity="0.28"/><path d="M178.6 367L178 361.7L183.7 361.2L183.6 367.6Z" fill="#cfcfcf" fill-opacity="0.25"/><path d="M170.9 329.6L170.1 337.3L163.7 339.2L157.3 336.5L158.2 328.3L164.9 325.5Z" fill="#cfcfcf" fill-opacity="0.31"/><path d="M199.9 351.2L201.3 346.1L205.9 344.7L208.2 351L203.7 354.7Z" fill="#ffffff" fill-opacity="0.28"/><path d="M156.7 345.4L162.3 343.6L167.3 345.9L164.6 351.7L159.5 350Z" fill="#ffffff" fill-opacity="0.26"/><path d="M221.1 358.3L212.9 353.1L217.7 343L227 348.9Z" fill="#ffffff" fill-opacity="0.21"/><path d="M148.2 353.9L154.4 348.9L157.2 356.5L151.4 359Z" fill="#ffffff" fill-opacity="0.17"/><path d="M185.9 302.8L188.9 308.3L181.4 313.3L175.8 311.1L173.7 305.6L177.7 298.8Z" fill="#ffffff" fill-opacity="0.19"/><path d="M144 312.3L146.1 309L149.8 308.9L151.6 312.1L149.9 315.3L146.6 315.1Z" fill="#cfcfcf" fill-opacity="0.32"/><path d="M202.5 349.9L201.4 344.7L206.4 343.2L209.1 347.3L206.9 351.2Z" fill="#ffffff" fill-opacity="0.30"/><path d="M219.4 359.6L221.9 356.9L224.9 359.2L224.7 364.3L219.6 363.4Z" fill="#cfcfcf" fill-opacity="0.23"/><path d="M141.7 356.4L132.1 360.8L128.1 353.3L134.4 349.2Z" fill="#cfcfcf" fill-opacity="0.22"/><path d="M161.9 363.5L160.3 367.6L154.6 366L157 360.4Z" fill="#cfcfcf" fill-opacity="0.33"/><path d="M204.3 317.4L208.5 321.8L203.4 326.9L198.9 323.8L198.9 318.1Z" fill="#ffffff" fill-opacity="0.29"/><path d="M200.2 374.9L193.3 377.5L190.1 371.9L191 364.3L198.7 363.1L203.9 369.4Z" fill="#cfcfcf" fill-opacity="0.20"/><path d="M195.7 312.6L188.1 308.9L190.6 300.6L198.3 297.4L202.1 302.7L202.9 311.1Z" fill="#cfcfcf" fill-opacity="0.16"/><path d="M148.1 359.1L143.3 364L136.7 363.3L136.2 357.5L139.2 351.8L144.8 354.3Z" fill="#ffffff" fill-opacity="0.22"/><path d="M148.3 337.8L146.8 344L140 345.6L135.5 339.4L142.1 332.7Z" fill="#cfcfcf" fill-opacity="0.17"/><path d="M187.3 342L182 337.7L184.2 331.6L188.9 327.4L194.8 332.4L194.6 338.3Z" fill="#cfcfcf" fill-opacity="0.33"/><path d="M144.8 347.2L150.5 344L156.4 348.6L150.9 355.2L145.8 354.3Z" fill="#ffffff" fill-opacity="0.31"/><path d="M134.6 351.1L134.1 347.8L136.7 343.8L140.3 346L142.4 349.5L138.5 352.6Z" fill="#cfcfcf" fill-opacity="0.30"/><path d="M200.6 365.8L192.9 367.7L187 363.4L189.8 356.9L194.6 355L200.3 357.2Z" fill="#cfcfcf" fill-opacity="0.22"/><path d="M173.4 368.9L169.5 364.1L174.2 357.7L179 361.6L180.2 367.1Z" fill="#ffffff" fill-opacity="0.24"/><path d="M152.6 351.2L155.2 344.3L161.9 342.7L166.2 350.4L159.5 353.2Z" fill="#ffffff" fill-opacity="0.25"/><path d="M211.2 330.7L206.5 328.5L209.1 323.9L215 326.3Z" fill="#cfcfcf" fill-opacity="0.23"/><path d="M211.9 329.3L215.9 326.7L218.9 329.2L218.4 333.2L213.9 334.4Z" fill="#cfcfcf" fill-opacity="0.15"/><path d="M142.1 324.2L140.6 317.1L146.6 311.5L152.1 317.9L150.7 325.2Z" fill="#ffffff" fill-opacity="0.28"/><path d="M216.3 310.3L222.1 316.4L217.6 324.1L211.3 317.9Z" fill="#cfcfcf" fill-opacity="0.17"/><path d="M160.7 313.2L153.1 310L158.6 302.5L166.1 308Z" fill="#cfcfcf" fill-opacity="0.33"/><path d="M199.7 326L202.3 329.6L200.3 334.5L194.7 332.5L196.4 327.1Z" fill="#cfcfcf" fill-opacity="0.28"/><path d="M176.9 354.4L176.7 358.2L175.1 359.6L171.5 358.8L169.8 355.6L173.3 353.3Z" fill="#cfcfcf" fill-opacity="0.19"/><path d="M175.5 352.3L170.5 343.5L177.4 336.7L185.5 341.3L183.2 348.3Z" fill="#cfcfcf" fill-opacity="0.24"/><path d="M183.7 318.7L190.1 323.2L187.7 331.7L179.9 332.1L176.4 324.1Z" fill="#ffffff" fill-opacity="0.17"/><path d="M198.8 364.9L195.5 366.8L190.6 363.1L194.3 357.6L199.3 360.2Z" fill="#ffffff" fill-opacity="0.23"/><path d="M161.4 308.6L166 314.2L159.3 318.7L156.2 312.2Z" fill="#ffffff" fill-opacity="0.23"/><path d="M192.3 305.7L192.1 308.9L187.5 310L185.1 308.6L185.9 304L188.9 304.1Z" fill="#cfcfcf" fill-opacity="0.32"/><path d="M229.7 326.9L222.4 323.2L222 315.2L231.1 312.2L236.9 320.1Z" fill="#cfcfcf" fill-opacity="0.29"/><path d="M184.1 362.3L186.5 364.8L184 367.8L179.4 368.4L178.2 364.2L180.4 361Z" fill="#cfcfcf" fill-opacity="0.32"/><path d="M154.7 317.7L164.4 315.1L168 324L160.2 327.6L152.9 324.5Z" fill="#cfcfcf" fill-opacity="0.34"/><path d="M230.4 367.3L231.8 371.5L228.6 374L225.9 371.8L226.2 367.4Z" fill="#ffffff" fill-opacity="0.29"/><path d="M190.9 346.6L193.4 357.6L185.3 360.3L180.4 351.7Z" fill="#cfcfcf" fill-opacity="0.17"/><path d="M153.3 363.1L158.1 362.5L161.3 366L157.5 370L152.7 367.4Z" fill="#cfcfcf" fill-opacity="0.31"/><path d="M183.4 322.9L186.7 326.4L183.8 330.2L180 330.4L178.4 327.2L179.8 323.5Z" fill="#cfcfcf" fill-opacity="0.25"/><path d="M152.36 326.12 C153.66 324.79 154.21 323.17 157.23 321.11 C160.25 319.04 160.1 318.99 163.68 318.37 C167.26 317.76 167.08 319.4 170.67 318.81 C174.26 318.22 175.42 316.86 177.14 316.15" fill="none" stroke="#c8c8c8" stroke-width="0.6"/><path d="M151.78 335.53 C151.29 333.73 152.01 331.58 149.96 328.77 C147.9 325.96 147.3 326.85 144.07 324.99 C140.84 323.12 141.22 321.89 137.85 321.77 C134.48 321.66 133.14 323.81 131.42 324.55" fill="none" stroke="#c8c8c8" stroke-width="0.6"/><path d="M139.69 352.28 C140.98 350.92 143.02 350.4 144.5 347.19 C145.98 343.97 145.12 343.94 145.23 340.22 C145.34 336.5 144.45 336.88 144.91 333.23 C145.37 329.58 146.4 328.32 146.95 326.53" fill="none" stroke="#c8c8c8" stroke-width="0.6"/><path d="M200.71 316.74 C202.52 317.16 203.89 318.35 207.52 318.34 C211.15 318.33 210.73 316.59 214.33 316.71 C217.93 316.83 217.41 318.63 221.01 318.78 C224.62 318.94 226.03 317.69 227.85 317.3" fill="none" stroke="#c8c8c8" stroke-width="0.6"/><path d="M153.46 315.09 C154.21 316.8 156.28 318.08 156.28 321.5 C156.28 324.92 155.46 324.8 153.47 327.91 C151.48 331.02 151.02 330.15 148.82 333.15 C146.63 336.14 146.19 337.55 145.24 339.16" fill="none" stroke="#c8c8c8" stroke-width="0.6"/><path d="M185.77 317.65 C186.84 316.13 187.97 315.17 189.79 311.93 C191.62 308.69 190.08 307.82 192.59 305.51 C195.11 303.21 196.08 305.14 199.23 303.28 C202.37 301.42 203.01 299.81 204.39 298.55" fill="none" stroke="#c8c8c8" stroke-width="0.6"/><path d="M178.93 359.29 C179.86 360.91 180.9 361.97 182.43 365.35 C183.95 368.74 184.97 368.59 184.66 371.99 C184.35 375.39 183.94 375.89 181.26 378.11 C178.58 380.33 176.39 379.72 174.62 380.31" fill="none" stroke="#c8c8c8" stroke-width="0.6"/><path d="M184.11 309.95 C183.84 308.1 182.7 306.62 183.08 303.02 C183.46 299.43 184.95 300.08 185.54 296.47 C186.13 292.86 184.81 293.13 185.29 289.47 C185.76 285.82 186.78 284.56 187.33 282.78" fill="none" stroke="#c8c8c8" stroke-width="0.6"/><path d="M179.46 360.89 C178.18 359.53 177.75 357.63 174.67 355.79 C171.58 353.96 171.57 354.42 167.89 354.02 C164.22 353.62 164.32 355.25 160.9 354.28 C157.48 353.31 156.63 351.42 155.08 350.38" fill="none" stroke="#c8c8c8" stroke-width="0.6"/><path d="M226.85 319.98 C226.52 318.14 226.32 316.76 225.6 313.09 C224.89 309.43 223.94 309.83 224.17 306.24 C224.39 302.65 226.14 303.23 226.46 299.63 C226.77 296.02 225.64 294.56 225.34 292.72" fill="none" stroke="#c8c8c8" stroke-width="0.6"/><path d="M168.02 325.22 C169.57 324.18 170.83 323.53 173.83 321.31 C176.82 319.09 176.02 318.6 179.26 316.89 C182.49 315.19 182.41 316.03 185.97 314.92 C189.54 313.82 190.85 313.33 192.63 312.75" fill="none" stroke="#c8c8c8" stroke-width="0.6"/><path d="M155.59 322.95 C156.6 321.38 157.25 320.13 159.37 317.06 C161.5 314 162.75 314.8 163.57 311.46 C164.4 308.13 164.32 307.4 162.45 304.55 C160.58 301.7 158.14 301.78 156.57 300.77" fill="none" stroke="#c8c8c8" stroke-width="0.6"/><path d="M144.38 306.81 C146.11 306.1 147.29 305.21 150.86 304.15 C154.42 303.1 154.16 303.88 157.73 302.85 C161.31 301.83 160.66 301.09 164.26 300.32 C167.86 299.55 169.39 300.06 171.25 299.96" fill="none" stroke="#c8c8c8" stroke-width="0.6"/><path d="M137.84 322.42 C138.72 324.06 138.55 326.23 141.17 328.58 C143.78 330.93 144.2 329.8 147.64 331.23 C151.09 332.67 150.51 333.37 154.09 333.96 C157.67 334.55 159.21 333.59 161.07 333.45" fill="none" stroke="#c8c8c8" stroke-width="0.6"/><path d="M133.58 324.03 C134.97 325.28 136.34 325.93 138.79 328.71 C141.24 331.49 142.19 331.13 142.77 334.47 C143.35 337.81 142.54 337.91 140.96 341.23 C139.38 344.54 137.95 345.39 136.85 346.9" fill="none" stroke="#c8c8c8" stroke-width="0.6"/><path d="M214.31 335.64 C215.58 334.27 216.75 333.41 219.07 330.51 C221.4 327.6 221.59 328.1 223.05 324.74 C224.5 321.38 225.16 321.28 224.52 317.9 C223.89 314.52 221.69 313.62 220.66 312.06" fill="none" stroke="#c8c8c8" stroke-width="0.6"/><path d="M158.73 330.27 C157.1 331.17 156.09 332.53 152.61 333.66 C149.12 334.79 149.25 334.95 145.66 334.5 C142.06 334.05 142.69 332.23 139.13 331.98 C135.57 331.72 134.13 333.13 132.31 333.55" fill="none" stroke="#c8c8c8" stroke-width="0.6"/><path d="M152.57 334.73 C150.74 335.08 149.19 336.52 145.69 336.02 C142.19 335.51 141.81 335.42 139.45 332.84 C137.1 330.25 139.03 329.21 136.86 326.34 C134.68 323.47 132.78 323.21 131.3 322.07" fill="none" stroke="#c8c8c8" stroke-width="0.6"/><path d="M182 314.82 C180.13 314.74 178.66 315.12 175.01 314.5 C171.35 313.88 171.86 312.45 168.3 312.5 C164.74 312.56 165.28 313.94 161.65 314.71 C158.02 315.48 156.55 315.21 154.69 315.4" fill="none" stroke="#c8c8c8" stroke-width="0.6"/><path d="M180.78 364.05 C179.34 365.24 178.53 366.57 175.38 368.51 C172.22 370.44 172.53 370.67 168.96 371.3 C165.38 371.92 165.62 370.44 161.97 370.84 C158.32 371.25 157.05 372.29 155.25 372.82" fill="none" stroke="#c8c8c8" stroke-width="0.6"/><path d="M164.72 340.86 C165.38 342.6 166.2 343.83 167.18 347.41 C168.16 351 169.13 350.92 168.41 354.3 C167.69 357.68 165.37 356.69 164.48 360.1 C163.58 363.5 164.9 365.21 165.05 367.07" fill="none" stroke="#c8c8c8" stroke-width="0.6"/><path d="M140.03 359.19 C138.62 357.97 137.78 356.73 134.74 354.61 C131.69 352.49 132.1 352.31 128.61 351.23 C125.11 350.15 125.18 349.93 121.64 350.55 C118.1 351.18 117.01 352.77 115.33 353.58" fill="none" stroke="#c8c8c8" stroke-width="0.6"/><path d="M132.56 329.67 C134.33 329.07 135.56 328.18 139.19 327.42 C142.82 326.67 142.77 328.05 146.16 326.84 C149.56 325.62 150.04 325.75 151.92 322.85 C153.8 319.96 152.87 317.81 153.21 315.97" fill="none" stroke="#c8c8c8" stroke-width="0.6"/><path d="M190.93 365.8 C190.47 367.61 190.42 369.07 189.2 372.58 C187.97 376.1 188.84 376.6 186.34 378.97 C183.83 381.35 183.38 380.44 179.81 381.49 C176.24 382.53 174.78 382.52 172.95 382.89" fill="none" stroke="#c8c8c8" stroke-width="0.6"/><path d="M138.65 309.02 C137.35 307.69 136.39 306.66 133.75 304.03 C131.11 301.39 131.78 301.22 128.75 299.13 C125.72 297.04 125.94 297.19 122.4 296.19 C118.85 295.2 117.3 295.6 115.44 295.38" fill="none" stroke="#c8c8c8" stroke-width="0.6"/><path d="M177.35 363.12 C179.18 363.48 180.52 364.04 184.22 364.46 C187.91 364.89 188.06 366.01 191.21 364.73 C194.36 363.44 192.89 360.87 196.03 359.65 C199.18 358.44 201.15 360.03 203.01 360.17" fill="none" stroke="#c8c8c8" stroke-width="0.6"/><path d="M175.2 321.28 C177.07 321.26 179.04 322.57 182.2 321.21 C185.36 319.84 184.96 319.19 187.05 316.16 C189.15 313.13 187.47 312.02 190.07 309.85 C192.68 307.67 195.03 308.49 196.83 308" fill="none" stroke="#c8c8c8" stroke-width="0.6"/><path d="M199.67 325.65 C201.28 324.7 202.77 324.36 205.69 322.09 C208.62 319.81 208.15 319.9 210.63 317.12 C213.11 314.34 211.98 313.4 214.99 311.65 C218 309.9 220.06 310.84 221.91 310.55" fill="none" stroke="#c8c8c8" stroke-width="0.6"/><path d="M214.94 346.73 C213.2 347.41 211.84 349.39 208.41 349.26 C204.99 349.13 204.67 348.69 202.09 346.25 C199.51 343.81 201.13 342.86 198.73 340.11 C196.34 337.36 194.61 337.05 193.11 335.94" fill="none" stroke="#c8c8c8" stroke-width="0.6"/><path d="M222.26 308.06 C223.99 307.37 225.15 306.1 228.75 305.45 C232.35 304.79 232.51 306.84 235.75 305.61 C238.99 304.39 238.83 303.86 240.89 300.86 C242.94 297.85 242.77 296.08 243.45 294.35" fill="none" stroke="#c8c8c8" stroke-width="0.6"/><path d="M138.57 351.06 C136.71 351.15 135.28 351.66 131.58 351.42 C127.88 351.17 128.09 349.44 124.7 350.14 C121.31 350.83 121.72 351.64 118.87 354.02 C116.03 356.4 115.32 357.73 114.03 359.07" fill="none" stroke="#c8c8c8" stroke-width="0.6"/><path d="M205.06 340.33 C205.63 338.55 205.9 337.16 207.19 333.66 C208.47 330.16 209.03 330.78 209.89 327.2 C210.76 323.62 209.09 323.51 210.44 320.22 C211.79 316.94 213.75 316.3 214.95 314.88" fill="none" stroke="#c8c8c8" stroke-width="0.6"/><path d="M155.83 365.47 C154.69 364 153.55 363.07 151.54 359.94 C149.53 356.82 149.98 357.07 148.3 353.74 C146.63 350.4 147.44 350.38 145.25 347.44 C143.06 344.5 141.47 343.97 140.09 342.71" fill="none" stroke="#c8c8c8" stroke-width="0.6"/><path d="M188.82 306.92 C186.95 306.81 185.47 307.2 181.83 306.5 C178.2 305.8 178.81 305.11 175.19 304.3 C171.56 303.49 171.79 302.92 168.24 303.46 C164.68 304 163.55 305.55 161.85 306.32" fill="none" stroke="#c8c8c8" stroke-width="0.6"/><path d="M210.32 319.5 C209.79 317.71 209.33 316.39 208.35 312.79 C207.36 309.19 207.06 309.68 206.61 306 C206.17 302.33 206.09 302.65 206.67 299 C207.26 295.36 208.24 294.12 208.81 292.34" fill="none" stroke="#c8c8c8" stroke-width="0.6"/><path d="M151.84 321.98 C153.2 323.27 153.91 324.66 156.93 326.79 C159.95 328.92 159.8 328.36 163.17 329.97 C166.53 331.58 166.3 331.03 169.55 332.83 C172.81 334.63 173.83 335.68 175.38 336.71" fill="none" stroke="#c8c8c8" stroke-width="0.6"/><path d="M204.59 361.97 C202.73 361.86 201.05 362.67 197.6 361.56 C194.16 360.46 195.12 359.01 191.68 357.83 C188.24 356.65 188.14 356.3 184.71 357.14 C181.29 357.97 180.41 359.93 178.84 360.95" fill="none" stroke="#c8c8c8" stroke-width="0.6"/><path d="M178.37 323.76 C178.71 325.6 179.86 327.03 179.66 330.64 C179.46 334.26 177.88 333.71 177.61 337.34 C177.34 340.97 176.78 341.44 178.65 344.26 C180.51 347.08 183.02 346.95 184.61 347.93" fill="none" stroke="#c8c8c8" stroke-width="0.6"/><path d="M150.13 306 C150.92 304.31 150.66 302.24 153.09 299.66 C155.53 297.09 155.76 297.41 159.26 296.35 C162.77 295.3 162.71 296.73 166.23 295.71 C169.76 294.69 170.81 293.38 172.47 292.54" fill="none" stroke="#c8c8c8" stroke-width="0.6"/><path d="M204.8 328.68 C204.79 326.81 205.27 325.34 204.74 321.68 C204.21 318.02 203.01 318.58 202.83 314.95 C202.64 311.31 204.69 311.49 204.05 308.05 C203.41 304.62 201.38 303.67 200.41 302.08" fill="none" stroke="#c8c8c8" stroke-width="0.6"/><path d="M207.39 324.23 C205.62 323.64 204.19 323.44 200.75 322.03 C197.3 320.62 196.73 321.54 194.46 318.94 C192.19 316.35 193.37 315.87 192.24 312.31 C191.11 308.75 190.77 307.39 190.23 305.6" fill="none" stroke="#c8c8c8" stroke-width="0.6"/><path d="M226.9 335.04 C225.15 335.69 222.97 335.18 220.33 337.47 C217.7 339.77 217.73 340.14 217.03 343.64 C216.34 347.15 216.89 347 217.73 350.61 C218.57 354.22 219.52 355.42 220.18 357.17" fill="none" stroke="#c8c8c8" stroke-width="0.6"/><path d="M178.89 335.43 C177.13 334.83 175.78 333.11 172.27 333.18 C168.76 333.25 169.3 335.41 165.74 335.69 C162.17 335.97 162.58 334.51 158.89 334.22 C155.2 333.94 153.77 334.51 151.9 334.62" fill="none" stroke="#c8c8c8" stroke-width="0.6"/><path d="M157.76 342.36 C159.11 343.65 159.77 345.13 162.82 347.2 C165.86 349.28 165.67 348.87 169.17 350.14 C172.67 351.41 172.53 350.5 175.93 351.96 C179.32 353.42 180.31 354.64 181.9 355.62" fill="none" stroke="#c8c8c8" stroke-width="0.6"/><path d="M149.33 368.67 C150.27 370.28 151.17 371.39 152.86 374.71 C154.55 378.03 153.29 378.5 155.66 381.13 C158.03 383.76 158.26 383.69 161.75 384.58 C165.24 385.47 166.88 384.5 168.75 384.47" fill="none" stroke="#c8c8c8" stroke-width="0.6"/><path d="M204.02 344.25 C205.86 344.58 207.53 344.12 210.91 345.51 C214.28 346.9 214.79 346.58 216.68 349.47 C218.57 352.36 217.5 352.65 217.99 356.34 C218.49 360.04 218.4 361.46 218.55 363.32" fill="none" stroke="#c8c8c8" stroke-width="0.6"/><path d="M223.24 320.79 C224.99 321.45 226.34 323.36 229.79 323.26 C233.25 323.17 233 322.32 236.2 320.45 C239.4 318.58 238.46 317.68 241.8 316.25 C245.13 314.81 246.86 315.39 248.7 315.08" fill="none" stroke="#c8c8c8" stroke-width="0.6"/><path d="M189.08 366.59 C190.45 367.86 192.86 368.22 194.21 371.35 C195.56 374.49 194.73 374.71 194.14 378.35 C193.56 382 192.07 381.45 192.01 385.02 C191.96 388.59 193.42 389.96 193.93 391.75" fill="none" stroke="#c8c8c8" stroke-width="0.6"/><path d="M164.78 352.63 C166.5 353.35 167.65 354.68 171.24 355.32 C174.82 355.97 174.75 354.18 178.23 355.05 C181.71 355.91 180.87 357.14 184.29 358.56 C187.7 359.98 189.25 359.88 191.05 360.36" fill="none" stroke="#c8c8c8" stroke-width="0.6"/><path d="M209.04 315.52 C208.64 313.69 207.9 312.37 207.55 308.68 C207.2 304.99 207.01 305.29 207.73 301.68 C208.45 298.07 208.4 298.34 210.24 295.15 C212.08 291.95 213.46 291.15 214.63 289.69" fill="none" stroke="#c8c8c8" stroke-width="0.6"/><path d="M194.99 325.72 C196.37 326.98 196.96 328.81 200.18 330.43 C203.39 332.04 203.76 332.58 207.05 331.77 C210.33 330.95 210.11 330.16 212.49 327.37 C214.87 324.57 215.04 322.91 215.96 321.29" fill="none" stroke="#c8c8c8" stroke-width="0.6"/><path d="M147.19 345.59 C145.32 345.71 143.66 346.89 140.2 346.04 C136.74 345.18 137.19 344.64 134.22 342.4 C131.25 340.17 131.11 340.67 129.07 337.65 C127.04 334.64 127.26 332.85 126.6 331.11" fill="none" stroke="#c8c8c8" stroke-width="0.6"/><path d="M229.93 329.26 C230.52 327.48 232.53 325.97 232.13 322.61 C231.73 319.25 230.83 319.46 228.42 316.67 C226.01 313.88 226.37 313.3 223.08 312.14 C219.8 310.98 217.95 312.27 216.09 312.32" fill="none" stroke="#c8c8c8" stroke-width="0.6"/><path d="M219.31 323.5 C219.78 321.7 218.97 319.45 221.08 316.73 C223.18 314.02 223.71 313.97 227.19 313.32 C230.67 312.68 230.4 314.09 234.12 314.32 C237.83 314.55 239.25 314.22 241.12 314.18" fill="none" stroke="#c8c8c8" stroke-width="0.6"/><path d="M148.5 365.95 C147.99 364.15 148.75 361.89 146.6 359.21 C144.45 356.53 143.54 357.94 140.43 355.91 C137.32 353.87 137.44 354.28 134.94 351.57 C132.44 348.86 132.09 347.3 131.06 345.74" fill="none" stroke="#c8c8c8" stroke-width="0.6"/></g>
<path d="M131.6 343.2 C131.7 340.57 132.03 336.07 133 333 C133.97 329.93 136.01 325.55 138.1 322.7 C140.19 319.85 143.83 316.19 146.9 314 C149.97 311.81 154.88 309.42 158.6 308.1 C162.32 306.78 167.54 305.74 171.7 305.2 C175.85 304.66 181.86 304.26 186.3 304.5 C190.74 304.74 197.69 305.44 201.3 306.8 C204.92 308.17 207.67 310.87 210.4 313.6 C213.13 316.33 217.12 321.77 219.5 325 C221.88 328.23 224.7 332.04 226.3 335.1 C227.91 338.16 230.03 342.16 230.2 345.4 C230.36 348.64 228.84 354.66 227.4 356.7 C225.96 358.74 222.82 358.73 220.6 359 C218.38 359.27 214.67 357.81 212.6 358.5 C210.53 359.19 208.99 362.18 206.8 363.6 C204.61 365.03 201.07 366.91 198 368 C194.93 369.09 190.02 370.57 186.3 370.9 C182.58 371.23 176.69 370.63 173.2 370.2 C169.7 369.76 165.09 368.99 163 368 C160.91 367.01 160.19 364.92 159.3 363.6 C158.42 362.28 158.96 360.07 157.1 359.2 C155.24 358.33 149.96 358.44 146.9 357.8 C143.84 357.16 138.89 356 136.7 354.9 C134.51 353.8 133.06 352.25 132.3 350.5 C131.54 348.75 131.5 345.82 131.6 343.2 Z" fill="none" stroke="#bcbcbc" stroke-width="0.7"/>
<path d="M128.4 425.4 C128.53 423.39 128.84 420.28 130.1 417 C131.36 413.72 134.54 407.02 136.8 403.5 C139.06 399.98 142.68 396 145.2 393.5 C147.72 391 150.84 388.69 153.6 386.8 C156.36 384.91 160.59 381.66 163.6 380.9 C166.61 380.13 170.17 381.2 173.7 381.7 C177.22 382.19 183.06 383.19 187.1 384.2 C191.13 385.2 196.82 386.51 200.6 388.4 C204.38 390.29 209.29 394.03 212.3 396.8 C215.31 399.57 218.81 403.87 220.7 406.9 C222.59 409.93 224.39 414.23 224.9 417 C225.41 419.77 224.98 423.39 224.1 425.4 C223.22 427.41 220.51 429.27 219 430.4 C217.49 431.52 215.75 431.64 214 432.9 C212.25 434.16 209.56 436.91 207.3 438.8 C205.04 440.69 201.42 443.87 198.9 445.5 C196.38 447.13 193.02 449.19 190.5 449.7 C187.98 450.21 184.36 449.53 182.1 448.9 C179.84 448.27 177.66 446.52 175.4 445.5 C173.14 444.48 170.27 443.11 167 442.1 C163.73 441.1 157.38 439.55 153.6 438.8 C149.82 438.05 144.83 437.85 141.8 437.1 C138.77 436.35 135.29 434.81 133.4 433.8 C131.51 432.8 129.95 431.66 129.2 430.4 C128.45 429.14 128.27 427.41 128.4 425.4 Z" fill="#e9e9e9" stroke="#c2c2c2" stroke-width="0.7"/>
<defs><clipPath id="cl104"><path d="M128.4 425.4 C128.53 423.39 128.84 420.28 130.1 417 C131.36 413.72 134.54 407.02 136.8 403.5 C139.06 399.98 142.68 396 145.2 393.5 C147.72 391 150.84 388.69 153.6 386.8 C156.36 384.91 160.59 381.66 163.6 380.9 C166.61 380.13 170.17 381.2 173.7 381.7 C177.22 382.19 183.06 383.19 187.1 384.2 C191.13 385.2 196.82 386.51 200.6 388.4 C204.38 390.29 209.29 394.03 212.3 396.8 C215.31 399.57 218.81 403.87 220.7 406.9 C222.59 409.93 224.39 414.23 224.9 417 C225.41 419.77 224.98 423.39 224.1 425.4 C223.22 427.41 220.51 429.27 219 430.4 C217.49 431.52 215.75 431.64 214 432.9 C212.25 434.16 209.56 436.91 207.3 438.8 C205.04 440.69 201.42 443.87 198.9 445.5 C196.38 447.13 193.02 449.19 190.5 449.7 C187.98 450.21 184.36 449.53 182.1 448.9 C179.84 448.27 177.66 446.52 175.4 445.5 C173.14 444.48 170.27 443.11 167 442.1 C163.73 441.1 157.38 439.55 153.6 438.8 C149.82 438.05 144.83 437.85 141.8 437.1 C138.77 436.35 135.29 434.81 133.4 433.8 C131.51 432.8 129.95 431.66 129.2 430.4 C128.45 429.14 128.27 427.41 128.4 425.4 Z"/></clipPath></defs>
<g clip-path="url(#cl104)"><path d="M217.5 444.1L216.1 434.6L224.9 437.6L224.1 446.7Z" fill="#ffffff" fill-opacity="0.16"/><path d="M151.2 403.5L144.1 404.1L138.4 398.3L145.4 393.7L152.6 393.5L154.1 398.8Z" fill="#ffffff" fill-opacity="0.16"/><path d="M195.8 420.2L186.7 425.3L180.3 415.9L189.9 411.4Z" fill="#ffffff" fill-opacity="0.23"/><path d="M146.6 393.7L139.8 396.3L136.9 389.5L144.6 385.2Z" fill="#ffffff" fill-opacity="0.19"/><path d="M175.2 376.5L175.3 386.9L165.3 388.1L166.3 377.5Z" fill="#ffffff" fill-opacity="0.25"/><path d="M178.2 390.7L171.9 394.2L167.9 389.4L166.6 384.4L172.2 379.7L176.9 384.4Z" fill="#ffffff" fill-opacity="0.19"/><path d="M215.1 442.2L210.9 445L205.7 442.5L206.7 437.1L210.9 432.7L216.2 437.2Z" fill="#cfcfcf" fill-opacity="0.34"/><path d="M172 405.3L177.3 404L180.4 408.3L177.2 411.4L171.4 409.8Z" fill="#ffffff" fill-opacity="0.33"/><path d="M155.6 422.9L151 422.1L147.8 417L151.4 413.5L157.2 412.8L158.6 417.7Z" fill="#cfcfcf" fill-opacity="0.16"/><path d="M141.4 399.9L142.5 405L136.6 406.8L133.2 403.6L135.7 398.5Z" fill="#ffffff" fill-opacity="0.27"/><path d="M218.3 430L219.6 439.8L211.8 445.1L209.2 432.9Z" fill="#ffffff" fill-opacity="0.21"/><path d="M188.8 396.3L183.7 396.3L184 392.2L187.1 390.7L190 392.9Z" fill="#cfcfcf" fill-opacity="0.31"/><path d="M149.1 390.1L149.3 398.1L144.4 402.4L137.9 399.2L137.5 391.5L143.5 388.3Z" fill="#cfcfcf" fill-opacity="0.25"/><path d="M196 389L197.4 393.1L193.4 395L190.7 393.5L190.5 389Z" fill="#cfcfcf" fill-opacity="0.30"/><path d="M216.6 404.5L215.7 397.7L222 396.4L225.5 402.3Z" fill="#ffffff" fill-opacity="0.31"/><path d="M129 427.9L133 433.4L128.9 437.3L123.6 433.3Z" fill="#cfcfcf" fill-opacity="0.33"/><path d="M145.7 425L146.6 418.7L153.2 420.6L152.8 425.3Z" fill="#cfcfcf" fill-opacity="0.27"/><path d="M147 447.8L138.2 442.9L144.7 434.1L154.3 440Z" fill="#cfcfcf" fill-opacity="0.33"/><path d="M185.7 400.8L177.7 397.8L182.7 390.8L190.1 394.7Z" fill="#cfcfcf" fill-opacity="0.29"/><path d="M168.2 391.7L161.5 389.6L159.9 385.1L164.1 379.4L171 380.9L171.5 387.4Z" fill="#ffffff" fill-opacity="0.15"/><path d="M173.6 386.8L179.1 386.3L181 390.9L176.8 394.3L171 391.2Z" fill="#ffffff" fill-opacity="0.34"/><path d="M156.3 387.4L160.3 391.3L155.1 394.3L153 390.1Z" fill="#cfcfcf" fill-opacity="0.30"/><path d="M183.2 444.8L186.1 438.6L192.3 440.1L193.9 446.6L187.8 450.8Z" fill="#cfcfcf" fill-opacity="0.16"/><path d="M144.1 406.4L152.4 401L158 410.7L147.7 415.8Z" fill="#cfcfcf" fill-opacity="0.30"/><path d="M170.4 420.2L175.7 427.6L170.9 435.7L162.8 431.6L164.6 423.2Z" fill="#ffffff" fill-opacity="0.20"/><path d="M210.9 412.4L211.6 416.6L207.6 417.5L204.3 414.6L207.2 411.7Z" fill="#ffffff" fill-opacity="0.17"/><path d="M152.3 390.4L148.6 389.3L148.7 384.6L151.7 383.1L154.8 385.2L156.6 389.6Z" fill="#ffffff" fill-opacity="0.18"/><path d="M210.3 423L203.3 424.7L201.1 417.8L206.3 413.4L211.9 417.4Z" fill="#ffffff" fill-opacity="0.34"/><path d="M191.7 442.4L197.7 436.4L203.8 440.7L199.4 447.2Z" fill="#ffffff" fill-opacity="0.15"/><path d="M218.2 440.6L223.7 441.5L224.2 446.9L218 446.1Z" fill="#cfcfcf" fill-opacity="0.20"/><path d="M206.4 429.4L210.3 421.7L218.7 425.4L219.5 431.5L211.3 434.1Z" fill="#ffffff" fill-opacity="0.26"/><path d="M134.7 431.3L141.3 423.7L147.4 429.6L142.8 435.3Z" fill="#cfcfcf" fill-opacity="0.34"/><path d="M166.3 394L171.9 386.8L178.8 390.2L175.5 399.2Z" fill="#ffffff" fill-opacity="0.31"/><path d="M179.3 439.7L177.6 435.2L181.7 429.8L186.6 433.5L187.2 438.6L183.5 441.6Z" fill="#ffffff" fill-opacity="0.16"/><path d="M214.1 428.3L214.5 423.3L218.9 421.6L221.7 426.6L218.4 430.6Z" fill="#ffffff" fill-opacity="0.17"/><path d="M158.7 391.4L154 392.5L148.9 389.4L150.7 384.6L156.7 383.2L159.5 387Z" fill="#cfcfcf" fill-opacity="0.30"/><path d="M195.1 404.3L196.3 413.9L188.5 413.2L186.3 405.4Z" fill="#ffffff" fill-opacity="0.27"/><path d="M182.9 401.1L179.5 404.5L175.3 403L174.5 399.3L179.4 398Z" fill="#ffffff" fill-opacity="0.17"/><path d="M217.4 406.4L214.4 401.3L218.1 396.9L224.8 397L227.3 403.5L223.1 407.2Z" fill="#ffffff" fill-opacity="0.22"/><path d="M215.3 416.5L212.3 419.1L207.5 417.3L207.2 411.9L211.2 410L216.4 411.5Z" fill="#cfcfcf" fill-opacity="0.33"/><path d="M200.6 429.4L201.5 422.8L205.9 420.2L212.4 422.4L212.7 428L206 432.4Z" fill="#cfcfcf" fill-opacity="0.29"/><path d="M149.9 413.5L154.7 410L160.3 414.6L159.8 420.9L152.7 423.6L149.3 419.3Z" fill="#cfcfcf" fill-opacity="0.34"/><path d="M161.5 399.2L166.2 390.6L176.9 392.5L175.3 400.6L168.5 405.8Z" fill="#cfcfcf" fill-opacity="0.29"/><path d="M205.5 405.8L201.9 409.5L196.7 408.2L196.3 404.1L198.6 400.6L203.3 401.5Z" fill="#ffffff" fill-opacity="0.18"/><path d="M124.7 411.1L129.7 405.4L136 405.2L139.4 409.7L137.4 416.2L130.5 415.7Z" fill="#ffffff" fill-opacity="0.23"/><path d="M226.5 400.5L221.2 402.5L218.2 397.6L217.3 390.5L223.9 390.3L227.7 393.5Z" fill="#cfcfcf" fill-opacity="0.28"/><path d="M135.2 446.9L130.9 444.2L131.2 437.8L136.6 438.2L139.1 442.3Z" fill="#ffffff" fill-opacity="0.32"/><path d="M161.5 405.6L159.3 403L159.2 398.8L162.7 398.7L164.5 400.8L164.3 404.9Z" fill="#ffffff" fill-opacity="0.20"/><path d="M209.4 415.8L214.9 411.4L220.1 417.1L213.5 421Z" fill="#ffffff" fill-opacity="0.22"/><path d="M174.3 399.6L169.3 405.1L163.6 399.7L169.1 395.4Z" fill="#ffffff" fill-opacity="0.20"/><path d="M186.3 423.2L181.8 415.4L192.8 412.4L194.4 422.1Z" fill="#cfcfcf" fill-opacity="0.24"/><path d="M194.2 424.9L194.1 430.7L189.5 434.8L184.1 432.1L183.8 426.6L188.7 423.7Z" fill="#cfcfcf" fill-opacity="0.31"/><path d="M158.6 425.1L159.9 420.6L164.1 417.8L167.4 422.6L166.8 427.7L161.7 428.5Z" fill="#cfcfcf" fill-opacity="0.27"/><path d="M196.9 388.9L200.1 380.9L207 386.3L202.6 392.3Z" fill="#cfcfcf" fill-opacity="0.31"/><path d="M186.9 394.6L189.2 398.2L185.3 401.4L182.4 396.6Z" fill="#ffffff" fill-opacity="0.21"/><path d="M219.9 427L217.8 432.3L210.5 432.3L208.6 425.4L216.7 421.4Z" fill="#cfcfcf" fill-opacity="0.17"/><path d="M180.1 411.6L169.3 413.2L164.9 405L173.3 400.2L180.7 403Z" fill="#ffffff" fill-opacity="0.28"/><path d="M193.1 427.8L193.7 432.3L190.2 434.8L186.4 432.9L187.8 428.6Z" fill="#cfcfcf" fill-opacity="0.33"/><path d="M156.8 412L159.1 418.2L151.9 424L145 418L147.8 410.6Z" fill="#ffffff" fill-opacity="0.25"/><path d="M209.5 414.6L213.8 421.5L207 425.9L201.7 418.4Z" fill="#ffffff" fill-opacity="0.25"/><path d="M137.9 383.6L146.7 384.4L144.7 390.7L139 391.8Z" fill="#cfcfcf" fill-opacity="0.32"/><path d="M127.2 378.2L133 378.1L131.5 385.1L125.7 384.3Z" fill="#cfcfcf" fill-opacity="0.23"/><path d="M198 435.9L204.9 441.1L200.2 448.1L191.3 446.5L192.4 439.7Z" fill="#ffffff" fill-opacity="0.27"/><path d="M193.7 439L191.9 443.8L187.6 442.6L185.9 438.6L190.2 435.1Z" fill="#ffffff" fill-opacity="0.30"/><path d="M160 443.3L154.7 447L149.7 443.8L150.1 436.5L157.8 437.4Z" fill="#cfcfcf" fill-opacity="0.34"/><path d="M189.2 431.4L185.9 438.6L178.1 437.1L180.5 429.9Z" fill="#cfcfcf" fill-opacity="0.18"/><path d="M189.7 399.7L189.6 404.1L186.4 408.1L180.8 406.1L177.8 401.8L183 398Z" fill="#cfcfcf" fill-opacity="0.19"/><path d="M154.4 415.9L153.2 404.6L162 405.1L164.8 413.3Z" fill="#cfcfcf" fill-opacity="0.26"/><path d="M205.7 414.9L214.4 415.6L214.7 422.8L205.2 426.7L199.8 420Z" fill="#ffffff" fill-opacity="0.29"/><path d="M154.3 425.6L160.9 424.1L167.1 427.3L165.6 434.7L159.6 437.9L153.3 432.7Z" fill="#cfcfcf" fill-opacity="0.33"/><path d="M177.8 418.2L183.5 421.2L179.9 427L174.8 430.2L171 425.3L170.9 419.9Z" fill="#cfcfcf" fill-opacity="0.24"/><path d="M186.5 387.7L181.3 387L180.5 379.4L186.9 375.3L191.8 379.8L191.1 385.8Z" fill="#ffffff" fill-opacity="0.30"/><path d="M192.5 385.1L196 378.9L203.1 380.4L203.7 388.8L195.3 392.9Z" fill="#cfcfcf" fill-opacity="0.35"/><path d="M203.49 445.72 C205.14 446.6 206.15 448.16 209.66 449.03 C213.17 449.91 213.31 450.14 216.66 449 C220.01 447.86 219.77 447.48 222.22 444.75 C224.68 442.02 224.9 440.37 225.87 438.77" fill="none" stroke="#c8c8c8" stroke-width="0.6"/><path d="M136.27 437.01 C134.45 436.57 133.12 436.08 129.46 435.36 C125.8 434.65 125.87 435.74 122.54 434.33 C119.21 432.92 118.95 433.02 116.98 430.08 C115.01 427.14 115.65 425.12 115.17 423.32" fill="none" stroke="#c8c8c8" stroke-width="0.6"/><path d="M180.47 398.02 C182.34 398.04 183.84 397.48 187.47 398.1 C191.11 398.72 190.76 398.74 194.11 400.34 C197.45 401.93 196.67 402.52 200.03 404.07 C203.39 405.61 204.93 405.58 206.72 406.13" fill="none" stroke="#c8c8c8" stroke-width="0.6"/><path d="M207.93 382.96 C206.21 383.68 204.88 385.74 201.47 385.65 C198.07 385.56 198.7 383.62 195.16 382.62 C191.62 381.63 191.59 381.04 188.2 381.91 C184.81 382.78 183.98 384.84 182.44 385.9" fill="none" stroke="#c8c8c8" stroke-width="0.6"/><path d="M151.69 443.49 C150.06 442.58 149.08 441.07 145.59 440.06 C142.09 439.05 141.94 440.92 138.59 439.7 C135.25 438.47 136 437.7 133.03 435.45 C130.05 433.19 128.93 432.36 127.44 431.24" fill="none" stroke="#c8c8c8" stroke-width="0.6"/><path d="M140.67 391.75 C142.54 391.69 143.98 391.16 147.67 391.51 C151.35 391.87 150.84 393.02 154.49 393.08 C158.14 393.14 157.78 392.74 161.36 391.73 C164.94 390.72 166.17 389.94 167.92 389.29" fill="none" stroke="#c8c8c8" stroke-width="0.6"/><path d="M169.95 441.25 C169.53 443.07 169.67 444.6 168.37 448.07 C167.07 451.53 167.49 451.54 165.08 454.25 C162.67 456.96 162.71 456.9 159.33 458.23 C155.95 459.57 154.25 458.98 152.4 459.26" fill="none" stroke="#c8c8c8" stroke-width="0.6"/><path d="M219.47 447.91 C218.5 446.32 217.53 445.25 215.81 441.95 C214.09 438.65 214.18 439.06 213.04 435.52 C211.89 431.99 212.02 432.38 211.52 428.69 C211.01 425 211.24 423.56 211.13 421.7" fill="none" stroke="#c8c8c8" stroke-width="0.6"/><path d="M195.77 433.38 C194 432.78 191.62 433.46 189.14 431.14 C186.66 428.82 188.19 427.97 186.48 424.67 C184.76 421.36 184.32 422.1 182.72 418.76 C181.12 415.41 181.07 413.9 180.47 412.13" fill="none" stroke="#c8c8c8" stroke-width="0.6"/><path d="M172.47 387.27 C173.69 385.86 175.72 385.25 177.04 381.97 C178.37 378.7 178.03 378.58 177.45 374.99 C176.87 371.39 175.9 372.05 174.85 368.48 C173.81 364.92 173.87 363.45 173.52 361.61" fill="none" stroke="#c8c8c8" stroke-width="0.6"/><path d="M180.01 397.68 C178.22 397.16 176.89 396.69 173.29 395.71 C169.69 394.72 169.52 395.87 166.51 393.98 C163.5 392.08 163.34 391.9 162.01 388.61 C160.68 385.32 161.64 383.49 161.51 381.63" fill="none" stroke="#c8c8c8" stroke-width="0.6"/><path d="M177.59 416.15 C178.5 414.52 180.67 413.44 180.99 410.03 C181.32 406.62 181.11 405.9 178.82 403.38 C176.53 400.85 175.72 402.26 172.41 400.55 C169.1 398.85 168 397.93 166.4 396.97" fill="none" stroke="#c8c8c8" stroke-width="0.6"/><path d="M159.57 419.11 C159.05 417.31 159.65 415.28 157.63 412.38 C155.61 409.48 155.32 408.95 151.99 408.24 C148.66 407.53 147.85 407.68 145.15 409.72 C142.44 411.76 142.72 414.25 141.84 415.89" fill="none" stroke="#c8c8c8" stroke-width="0.6"/><path d="M193.23 423.31 C193.94 421.58 193.44 419.26 195.88 416.83 C198.32 414.4 198.84 414.41 202.37 414.2 C205.9 413.98 205.67 416.42 209.12 416.03 C212.57 415.65 213.66 413.63 215.31 412.76" fill="none" stroke="#c8c8c8" stroke-width="0.6"/><path d="M156.48 388.51 C155.94 390.29 154.98 391.55 154.45 395.21 C153.93 398.86 155.81 399.01 154.51 402.21 C153.22 405.4 152.62 405.14 149.59 407.18 C146.56 409.23 144.86 409.17 143.13 409.89" fill="none" stroke="#c8c8c8" stroke-width="0.6"/><path d="M173.85 448.63 C175.69 448.35 177.07 447.56 180.76 447.55 C184.45 447.54 183.99 448.55 187.68 448.6 C191.38 448.65 190.93 448.24 194.63 447.73 C198.33 447.21 199.7 446.95 201.55 446.67" fill="none" stroke="#c8c8c8" stroke-width="0.6"/><path d="M146.14 436.47 C147.43 437.82 148.17 439.09 150.96 441.55 C153.75 444.01 154.05 443.04 156.61 445.69 C159.16 448.34 158.21 448.58 160.55 451.47 C162.88 454.37 164.08 455.19 165.37 456.55" fill="none" stroke="#c8c8c8" stroke-width="0.6"/><path d="M178.39 399.45 C177.02 400.71 176.08 401.77 173.24 404.18 C170.39 406.6 171.01 406.88 167.73 408.51 C164.46 410.13 164.63 409.89 160.96 410.27 C157.29 410.66 155.83 410.05 153.97 409.96" fill="none" stroke="#c8c8c8" stroke-width="0.6"/><path d="M198.06 428.93 C198.52 430.74 200.26 432.3 199.78 435.72 C199.29 439.14 197.74 438.37 196.24 441.76 C194.74 445.15 195.91 445.22 194.17 448.44 C192.43 451.67 190.91 452.41 189.72 453.85" fill="none" stroke="#c8c8c8" stroke-width="0.6"/><path d="M143.58 389.1 C145.1 388.02 146.12 387.01 149.27 385.03 C152.42 383.04 153.19 384.33 155.4 381.65 C157.61 378.98 155.25 377.46 157.56 374.99 C159.87 372.53 162.33 373.09 164.06 372.4" fill="none" stroke="#c8c8c8" stroke-width="0.6"/><path d="M128.49 441.54 C126.62 441.46 125.22 441.51 121.49 441.26 C117.77 441 118.22 440.42 114.53 440.57 C110.83 440.73 111.26 442.03 107.64 441.83 C104.02 441.62 102.73 440.34 100.94 439.8" fill="none" stroke="#c8c8c8" stroke-width="0.6"/><path d="M209.34 440.11 C208.13 438.69 207.65 437.1 204.8 434.78 C201.96 432.45 202.18 432.27 198.68 431.39 C195.18 430.5 195.28 432.15 191.68 431.47 C188.08 430.79 186.93 429.54 185.2 428.83" fill="none" stroke="#c8c8c8" stroke-width="0.6"/><path d="M192.88 398.08 C194.21 396.78 195.88 396.23 197.89 393.19 C199.9 390.15 198.98 390.11 200.42 386.67 C201.87 383.23 200.74 382.48 203.32 380.29 C205.89 378.1 208.27 378.95 210.07 378.46" fill="none" stroke="#c8c8c8" stroke-width="0.6"/><path d="M159.11 383.12 C159.31 384.98 159.67 386.36 159.84 390.08 C160.01 393.8 158.75 393.66 159.76 397.08 C160.76 400.51 161.91 399.62 163.61 402.92 C165.3 406.23 165.44 407.72 166.11 409.46" fill="none" stroke="#c8c8c8" stroke-width="0.6"/><path d="M220.17 419.43 C219.5 421.17 219.47 422.75 217.64 425.96 C215.82 429.17 214.08 428.18 213.32 431.47 C212.57 434.76 212.92 435.37 214.81 438.31 C216.7 441.25 218.92 441.38 220.41 442.5" fill="none" stroke="#c8c8c8" stroke-width="0.6"/><path d="M207.67 435.12 C206.2 436.27 204.15 436.48 202.15 439.41 C200.14 442.35 201.49 442.65 200.17 446.13 C198.84 449.61 198.52 448.98 197.17 452.45 C195.81 455.92 195.64 457.35 195.09 459.14" fill="none" stroke="#c8c8c8" stroke-width="0.6"/><path d="M206.09 412.49 C204.74 411.21 204.15 409.52 201.01 407.68 C197.87 405.85 197.94 405.82 194.32 405.62 C190.7 405.41 191.14 406.66 187.44 406.93 C183.74 407.19 182.31 406.7 180.45 406.62" fill="none" stroke="#c8c8c8" stroke-width="0.6"/><path d="M177.45 388.51 C175.73 389.23 174.54 390.1 170.99 391.22 C167.45 392.35 167.3 391 164.16 392.72 C161.02 394.44 162.05 395.26 159.22 397.68 C156.39 400.1 155.07 400.7 153.55 401.8" fill="none" stroke="#c8c8c8" stroke-width="0.6"/><path d="M184 411.9 C184.53 413.7 185.74 414.99 185.97 418.62 C186.19 422.26 184.2 422.09 184.86 425.54 C185.52 428.98 186.57 428.32 188.45 431.55 C190.33 434.77 190.99 436.01 191.92 437.63" fill="none" stroke="#c8c8c8" stroke-width="0.6"/><path d="M163.49 433.69 C163.85 431.86 165.06 430.43 164.85 426.82 C164.63 423.22 164.18 423.57 162.68 420.17 C161.19 416.77 161.93 416.26 159.23 414.08 C156.53 411.9 154.33 412.56 152.54 412.01" fill="none" stroke="#c8c8c8" stroke-width="0.6"/><path d="M179.18 414.81 C177.74 413.63 177.03 411.96 173.77 410.38 C170.5 408.8 170.6 409.03 166.93 408.89 C163.25 408.74 163.37 408.51 159.99 409.83 C156.61 411.15 155.79 412.78 154.26 413.85" fill="none" stroke="#c8c8c8" stroke-width="0.6"/><path d="M213.07 414.67 C212.42 412.92 212.09 411.55 210.65 408.1 C209.22 404.66 209.46 405.04 207.69 401.76 C205.92 398.48 206 398.96 204.03 395.8 C202.05 392.63 201.28 391.46 200.28 389.88" fill="none" stroke="#c8c8c8" stroke-width="0.6"/><path d="M174.79 447.28 C173.14 448.16 171.99 450.41 168.62 450.58 C165.24 450.75 164.85 450.22 162.14 447.93 C159.43 445.63 160.13 445.3 158.46 441.97 C156.79 438.65 156.56 437.2 155.87 435.47" fill="none" stroke="#c8c8c8" stroke-width="0.6"/><path d="M208.02 415.97 C209.83 415.5 211.27 413.95 214.8 414.2 C218.32 414.45 217.67 416.37 221.25 416.9 C224.83 417.43 224.5 416.25 228.22 416.18 C231.93 416.12 233.34 416.53 235.2 416.66" fill="none" stroke="#c8c8c8" stroke-width="0.6"/><path d="M171.85 422.48 C172 424.35 171.55 425.88 172.41 429.46 C173.27 433.05 172.96 432.98 175.08 435.94 C177.19 438.89 177.25 438.51 180.34 440.55 C183.42 442.59 184.96 442.78 186.64 443.59" fill="none" stroke="#c8c8c8" stroke-width="0.6"/><path d="M224.84 397.87 C223.35 396.74 221.83 396.29 219.27 393.64 C216.7 390.98 217.6 390.79 215.23 387.92 C212.86 385.05 212.14 386.03 210.38 382.87 C208.61 379.72 209.08 377.91 208.61 376.1" fill="none" stroke="#c8c8c8" stroke-width="0.6"/><path d="M155.01 443.86 C153.25 443.25 151.63 443.34 148.39 441.58 C145.15 439.83 146.2 438.24 142.87 437.28 C139.54 436.33 139.49 437.1 135.91 438 C132.32 438.9 131.15 439.95 129.43 440.65" fill="none" stroke="#c8c8c8" stroke-width="0.6"/><path d="M204.65 382.26 C203.11 381.2 202.27 379.64 198.89 378.29 C195.51 376.94 195.66 377.77 191.97 377.22 C188.28 376.66 188.57 375.67 185.04 376.22 C181.52 376.77 180.43 378.47 178.75 379.29" fill="none" stroke="#c8c8c8" stroke-width="0.6"/><path d="M223.47 427.48 C225.13 426.63 226.21 424.73 229.7 424.29 C233.18 423.85 233.02 424.62 236.52 425.84 C240.03 427.05 239.34 428.43 242.85 428.84 C246.36 429.24 247.86 427.74 249.69 427.35" fill="none" stroke="#c8c8c8" stroke-width="0.6"/><path d="M128.44 426.31 C129.27 427.97 129.46 429.53 131.57 432.56 C133.68 435.6 134.61 434.51 136.35 437.68 C138.1 440.85 137.19 440.84 138.11 444.45 C139.03 448.07 139.35 449.43 139.81 451.24" fill="none" stroke="#c8c8c8" stroke-width="0.6"/><path d="M209.94 385.55 C208.89 387.09 208.28 388.38 205.98 391.32 C203.68 394.26 203.4 393.49 201.34 396.56 C199.28 399.63 200.68 400.21 198.25 402.84 C195.82 405.47 193.84 405.46 192.23 406.42" fill="none" stroke="#c8c8c8" stroke-width="0.6"/><path d="M167.03 449.24 C168.34 450.57 168.79 452.65 171.96 454.22 C175.12 455.78 175.23 454.43 178.9 455.11 C182.56 455.79 182.26 457.23 185.7 456.75 C189.14 456.27 190.17 454.23 191.8 453.31" fill="none" stroke="#c8c8c8" stroke-width="0.6"/><path d="M137.19 443.5 C136.4 441.81 135.55 440.63 134.23 437.15 C132.91 433.67 134.36 433.22 132.24 430.44 C130.12 427.67 129.66 428.27 126.28 426.76 C122.91 425.24 121.36 425.3 119.58 424.76" fill="none" stroke="#c8c8c8" stroke-width="0.6"/><path d="M217.86 431.47 C217.04 429.79 215.1 428.66 214.77 425.19 C214.45 421.71 215.89 422.09 216.64 418.44 C217.39 414.79 215.94 414.58 217.6 411.51 C219.26 408.43 221.46 408.13 222.87 406.9" fill="none" stroke="#c8c8c8" stroke-width="0.6"/><path d="M150.47 398.05 C149.23 396.65 147.04 396.07 145.83 392.8 C144.62 389.54 147.32 388.89 145.94 385.8 C144.55 382.71 143.75 383.23 140.64 381.22 C137.54 379.21 135.99 379.06 134.29 378.28" fill="none" stroke="#c8c8c8" stroke-width="0.6"/><path d="M215.97 387.01 C216.45 385.21 216.96 383.89 217.78 380.25 C218.6 376.61 219.21 377 219.04 373.37 C218.87 369.73 219.36 369.16 217.13 366.63 C214.91 364.11 212.41 364.63 210.69 363.9" fill="none" stroke="#c8c8c8" stroke-width="0.6"/><path d="M204.49 391.89 C202.73 392.5 201.42 394.13 197.88 394.19 C194.34 394.24 193.86 394.29 191.2 392.09 C188.55 389.88 188.49 389.39 187.92 385.9 C187.35 382.41 188.76 380.84 189.07 379" fill="none" stroke="#c8c8c8" stroke-width="0.6"/><path d="M189.67 439.46 C191.39 438.74 193.64 439.17 196.12 436.74 C198.6 434.31 198.79 433.83 198.98 430.35 C199.16 426.87 196.93 427.28 196.82 423.7 C196.71 420.11 198.1 418.73 198.57 416.92" fill="none" stroke="#c8c8c8" stroke-width="0.6"/><path d="M202.8 445.86 C202.13 444.12 202.05 442.59 200.3 439.33 C198.55 436.06 198.9 436.14 196.23 433.63 C193.57 431.11 193.62 431.6 190.3 429.91 C186.99 428.22 185.54 427.99 183.81 427.3" fill="none" stroke="#c8c8c8" stroke-width="0.6"/><path d="M171.27 430.72 C171.76 428.92 172.38 427.62 173.12 423.97 C173.85 420.32 174.65 420.53 174.02 417.03 C173.39 413.53 173.15 413.56 170.75 410.84 C168.34 408.12 166.54 407.9 165.01 406.83" fill="none" stroke="#c8c8c8" stroke-width="0.6"/><path d="M131.9 408.26 C130.26 409.16 129.18 411.32 125.77 411.64 C122.36 411.95 122.75 409.85 119.12 409.44 C115.49 409.03 115.32 411.24 112.15 410.09 C108.98 408.93 108.54 406.44 107.23 405.11" fill="none" stroke="#c8c8c8" stroke-width="0.6"/><path d="M222.83 426.44 C224.67 426.11 226.09 426.03 229.72 425.19 C233.35 424.35 232.8 423.97 236.46 423.31 C240.12 422.64 239.83 423.53 243.44 422.7 C247.04 421.88 248.23 420.87 249.98 420.21" fill="none" stroke="#c8c8c8" stroke-width="0.6"/><path d="M213.7 446.93 C215.22 448.02 217.38 448.11 219.4 451 C221.42 453.88 219.1 455.13 221.28 457.74 C223.47 460.34 224.53 458.7 227.59 460.77 C230.65 462.84 231.39 464.23 232.77 465.48" fill="none" stroke="#c8c8c8" stroke-width="0.6"/><path d="M213.41 394.17 C214.56 392.69 214.98 391.1 217.71 388.65 C220.45 386.19 221.55 387.74 223.67 384.97 C225.8 382.21 224.53 381.82 225.68 378.27 C226.84 374.72 227.39 373.43 228.01 371.67" fill="none" stroke="#c8c8c8" stroke-width="0.6"/><path d="M219.46 382.4 C217.61 382.64 215.92 382.02 212.52 383.3 C209.12 384.58 209.21 384.55 206.71 387.2 C204.21 389.85 205.75 390.77 203.14 393.22 C200.52 395.67 198.57 395.55 196.9 396.4" fill="none" stroke="#c8c8c8" stroke-width="0.6"/></g>
<path d="M128.4 425.4 C128.53 423.39 128.84 420.28 130.1 417 C131.36 413.72 134.54 407.02 136.8 403.5 C139.06 399.98 142.68 396 145.2 393.5 C147.72 391 150.84 388.69 153.6 386.8 C156.36 384.91 160.59 381.66 163.6 380.9 C166.61 380.13 170.17 381.2 173.7 381.7 C177.22 382.19 183.06 383.19 187.1 384.2 C191.13 385.2 196.82 386.51 200.6 388.4 C204.38 390.29 209.29 394.03 212.3 396.8 C215.31 399.57 218.81 403.87 220.7 406.9 C222.59 409.93 224.39 414.23 224.9 417 C225.41 419.77 224.98 423.39 224.1 425.4 C223.22 427.41 220.51 429.27 219 430.4 C217.49 431.52 215.75 431.64 214 432.9 C212.25 434.16 209.56 436.91 207.3 438.8 C205.04 440.69 201.42 443.87 198.9 445.5 C196.38 447.13 193.02 449.19 190.5 449.7 C187.98 450.21 184.36 449.53 182.1 448.9 C179.84 448.27 177.66 446.52 175.4 445.5 C173.14 444.48 170.27 443.11 167 442.1 C163.73 441.1 157.38 439.55 153.6 438.8 C149.82 438.05 144.83 437.85 141.8 437.1 C138.77 436.35 135.29 434.81 133.4 433.8 C131.51 432.8 129.95 431.66 129.2 430.4 C128.45 429.14 128.27 427.41 128.4 425.4 Z" fill="none" stroke="#bcbcbc" stroke-width="0.7"/>
<path d="M20.3 373.9h0M46.4 404.3h0M53.2 348.6h0M60.4 349.5h0M32.9 402.2h0M29.6 378.4h0M54.3 391.0h0M36.4 380.7h0M33.6 403.8h0M27.8 370.4h0M30.6 402.0h0M29.9 402.9h0M55.4 350.7h0M57.3 384.5h0M45.6 393.5h0M40.7 399.5h0M53.0 376.7h0M55.2 398.6h0M53.3 359.9h0M55.8 351.2h0M39.3 398.4h0M30.8 360.2h0M38.8 394.0h0M35.0 377.6h0M59.9 390.7h0M42.3 367.5h0M49.8 402.6h0M43.7 384.8h0M56.1 394.7h0M27.5 378.2h0M56.4 351.6h0M35.1 381.6h0M18.3 373.1h0M54.4 405.4h0M51.6 378.6h0M31.6 389.5h0M41.4 371.0h0M38.6 371.8h0M47.8 365.2h0M51.6 397.5h0M37.8 365.1h0M24.7 402.1h0M56.7 356.8h0M36.1 361.4h0M65.1 346.4h0M54.9 395.5h0M31.1 374.5h0M55.2 398.1h0M63.7 366.7h0M44.8 401.3h0M36.1 387.5h0M50.2 372.1h0M40.2 381.7h0M44.5 390.4h0M47.1 402.2h0M56.7 353.1h0M37.8 389.2h0M23.7 402.8h0M34.9 397.7h0M50.2 397.8h0M38.4 363.3h0M51.5 391.8h0M44.8 358.0h0M55.1 333.1h0M32.2 391.8h0M48.4 398.3h0M35.6 378.1h0M57.3 399.4h0M27.1 364.4h0M64.2 400.9h0M47.0 383.7h0M40.3 386.5h0M56.7 350.7h0M34.8 401.9h0M56.9 380.7h0M37.2 371.5h0M37.0 402.4h0M39.7 374.6h0M50.3 324.1h0M54.9 322.3h0M59.5 320.5h0M53.0 316.0h0M57.0 318.0h0M81.2 347.2h0M108.0 384.2h0M121.0 364.9h0M119.5 367.4h0M103.2 375.5h0M100.0 388.6h0M83.5 389.8h0M80.3 333.1h0M80.0 336.6h0M81.3 345.3h0M83.2 354.4h0M109.1 380.0h0M79.6 353.3h0M77.1 348.6h0M94.3 389.4h0M112.1 379.1h0M108.8 387.7h0M115.0 380.0h0M80.0 346.6h0M100.3 406.7h0M79.1 332.2h0M88.4 390.8h0M106.4 406.4h0M94.0 384.7h0M78.8 334.4h0M99.5 412.3h0M110.6 384.0h0M77.6 332.5h0M80.9 348.1h0M84.8 387.1h0M90.5 380.6h0M107.6 385.5h0M110.5 383.1h0M98.4 378.8h0M84.3 386.3h0M119.7 375.4h0M93.8 398.5h0M118.1 394.9h0M78.8 351.2h0M79.9 350.7h0M110.9 365.9h0M98.9 384.6h0M89.8 386.4h0M113.6 374.6h0M100.3 390.6h0M98.2 375.4h0M99.5 385.7h0M86.7 391.2h0M109.3 370.1h0M95.0 388.3h0M80.6 337.2h0M100.4 383.7h0M105.2 372.8h0M80.0 356.9h0M81.3 353.9h0M118.3 403.3h0M111.8 376.4h0M90.2 386.1h0M88.3 389.1h0M103.9 367.2h0M103.8 383.3h0M100.3 387.6h0M78.4 337.7h0M109.6 386.7h0M87.6 342.9h0M90.1 343.4h0M91.5 347.4h0M93.3 347.4h0M96.7 351.1h0M110.1 366.9h0M109.9 366.9h0M115.8 372.4h0M80.2 325.0h0M79.4 334.9h0M80.7 344.8h0M80.1 354.7h0M105.5 331.0h0M147.0 357.0h0" stroke="#463d98" stroke-width="2.1" stroke-linecap="square" fill="none"/>
<path d="M25.2 380.3h0M47.0 390.8h0M48.3 344.5h0M37.0 402.1h0M49.9 335.0h0M51.5 402.2h0M36.5 397.4h0M46.0 403.0h0M57.7 396.4h0M40.6 397.5h0M37.7 402.9h0M52.4 354.2h0M26.1 379.0h0M32.4 363.5h0M41.4 350.9h0M37.4 393.1h0M28.1 402.6h0M53.5 393.5h0M52.9 402.5h0M34.6 402.1h0M45.0 392.9h0M29.9 399.3h0M27.1 397.6h0M52.6 350.5h0M56.7 362.2h0M40.8 404.9h0M44.0 395.4h0M38.9 373.6h0M60.6 356.1h0M39.5 393.8h0M28.0 381.7h0M57.9 358.5h0M57.2 343.8h0M33.2 373.6h0M36.7 376.9h0M45.1 392.8h0M33.0 396.0h0M35.1 356.4h0M30.7 365.3h0M43.1 345.6h0M57.1 392.4h0M49.1 349.3h0M56.0 354.7h0M24.6 378.3h0M51.4 360.2h0M45.3 395.0h0M39.2 398.5h0M42.1 406.0h0M31.0 362.3h0M52.0 351.6h0M23.4 403.6h0M47.2 394.7h0M38.7 399.4h0M36.6 379.0h0M42.8 383.5h0M50.3 351.9h0M38.7 402.1h0M56.4 398.1h0M55.7 406.6h0M41.8 383.7h0M59.4 350.8h0M20.1 380.6h0M38.0 385.5h0M57.0 338.7h0M35.9 367.7h0M32.3 380.5h0M23.8 387.1h0M50.1 386.8h0M36.0 382.2h0M59.1 362.9h0M33.5 399.7h0M46.4 388.8h0M52.8 358.8h0M29.5 376.1h0M45.1 385.5h0M37.6 379.3h0M58.2 388.5h0M31.2 399.9h0M42.5 384.6h0M50.4 384.1h0M28.3 397.3h0M23.6 359.9h0M39.8 384.9h0M27.8 388.8h0M45.4 399.4h0M44.2 375.0h0M37.6 379.8h0M23.5 355.4h0M43.0 392.9h0M48.0 325.0h0M52.6 323.2h0M57.2 321.4h0M61.8 319.6h0M55.0 321.0h0M50.0 319.0h0M118.0 378.0h0M102.9 384.6h0M113.6 363.5h0M93.1 380.6h0M92.8 383.3h0M102.5 405.8h0M76.6 383.7h0M95.0 390.0h0M114.9 369.3h0M97.6 411.7h0M109.5 364.4h0M92.7 387.6h0M111.3 377.9h0M79.8 349.1h0M110.3 376.9h0M107.6 377.9h0M104.1 383.0h0M116.9 385.6h0M87.0 386.2h0M78.8 318.0h0M99.1 366.6h0M105.7 371.3h0M109.2 379.2h0M107.0 368.5h0M82.5 326.4h0M79.0 360.0h0M80.2 338.7h0M113.9 379.2h0M108.1 372.1h0M80.0 347.1h0M80.6 381.1h0M93.7 389.0h0M113.2 388.1h0M100.1 388.8h0M81.0 321.0h0M103.9 387.7h0M89.2 394.6h0M97.1 381.0h0M99.2 384.9h0M103.2 403.8h0M103.6 376.8h0M88.9 398.4h0M115.4 362.7h0M100.7 373.8h0M101.9 389.7h0M94.6 389.5h0M111.2 384.1h0M107.0 407.2h0M104.0 370.6h0M79.0 341.6h0M116.5 374.4h0M80.7 340.7h0M104.4 379.2h0M96.5 380.9h0M111.6 362.0h0M92.2 389.9h0M94.3 381.8h0M96.8 386.9h0M102.9 386.1h0M104.7 397.4h0M78.7 356.5h0M95.4 386.8h0M99.5 397.0h0M119.6 391.7h0M113.3 381.6h0M105.1 401.0h0M77.4 345.8h0M109.0 399.7h0M114.3 366.3h0M81.9 334.4h0M87.4 339.2h0M88.0 337.8h0M92.5 343.3h0M93.6 348.1h0M94.2 351.6h0M94.8 348.9h0M100.6 353.9h0M99.7 357.4h0M101.1 359.2h0M104.0 360.4h0M102.9 359.6h0M105.5 362.9h0M106.0 363.6h0M104.3 367.0h0M108.4 371.1h0M111.9 370.6h0M113.7 374.0h0M80.8 328.3h0M79.8 331.6h0M79.2 338.2h0M79.8 341.5h0M80.3 348.1h0M80.0 351.4h0M102.7 320.5h0M75.0 327.0h0M122.5 344.0h0M125.0 348.0h0" stroke="#1eabab" stroke-width="2.1" stroke-linecap="square" fill="none"/>
<path d="M43.7 385.7h0M54.3 387.2h0M34.2 363.0h0M26.8 373.8h0M34.7 358.6h0M35.7 384.2h0M50.1 347.6h0M44.7 364.8h0M32.7 366.9h0M34.8 376.3h0M36.3 402.1h0M65.2 358.0h0M27.5 370.6h0M38.9 377.3h0M44.9 392.2h0M51.9 389.3h0M46.9 366.6h0M32.8 397.6h0M47.2 377.9h0M15.8 386.2h0M32.8 355.9h0M38.9 401.6h0M38.5 397.1h0M89.8 383.7h0M79.5 345.7h0M115.8 354.9h0M88.0 376.7h0M79.0 336.7h0M110.0 382.6h0M92.2 383.3h0M108.5 376.5h0M115.8 381.5h0M99.3 379.1h0M104.6 381.4h0M91.4 386.4h0M85.2 385.3h0M107.7 375.2h0M78.4 335.5h0M118.1 370.0h0M80.4 337.0h0M132.0 402.0h0" stroke="#dcdc3e" stroke-width="2.1" stroke-linecap="square" fill="none"/>
<path d="M179.4 356.5h0M173.7 356.4h0M180.5 354.0h0M187.8 357.5h0M164.7 354.2h0M163.5 349.3h0M182.0 356.8h0M159.4 356.8h0M172.3 359.8h0M176.7 357.6h0M175.3 358.9h0M177.6 358.3h0M173.8 359.0h0M190.0 356.5h0M177.5 359.1h0M155.0 345.4h0M191.5 344.5h0M197.9 352.0h0M197.7 327.3h0M205.9 337.9h0M150.7 352.5h0M173.5 348.7h0M196.3 343.7h0M181.7 350.1h0M195.2 327.0h0M184.7 348.8h0M141.6 329.9h0M147.5 336.0h0M160.1 352.9h0M162.5 355.7h0M167.7 362.3h0M149.7 321.8h0M155.8 329.5h0M161.1 336.5h0M164.0 340.0h0M169.8 346.5h0M175.5 353.5h0M160.5 322.9h0M171.0 328.7h0M171.4 333.6h0M172.1 342.3h0M186.3 318.2h0M189.1 326.0h0M193.6 336.8h0M200.5 330.5h0M205.1 337.2h0M210.1 345.3h0M194.0 310.0h0M205.0 312.0h0M217.0 335.0h0M165.0 369.0h0M187.6 438.1h0M197.0 427.1h0M180.5 435.1h0M170.7 438.7h0M195.3 418.2h0M181.3 434.7h0M173.1 430.4h0M182.9 435.1h0M190.0 429.5h0M176.4 436.2h0M185.4 437.9h0M181.5 422.2h0M169.8 430.1h0M196.9 421.7h0M198.1 425.9h0M181.1 414.1h0M200.5 421.1h0M192.0 412.8h0M179.7 432.1h0M186.5 436.9h0M205.0 423.1h0M218.5 421.2h0M207.4 421.7h0M181.8 436.4h0M189.7 432.2h0M191.5 406.3h0M189.1 429.8h0M181.4 430.0h0M190.4 423.8h0M177.7 425.9h0M193.4 420.8h0M182.3 437.8h0M181.2 411.3h0M171.0 435.8h0M210.4 408.0h0M213.7 422.0h0M197.5 425.9h0M152.8 392.0h0M163.9 402.7h0M162.9 398.4h0M203.8 416.1h0M149.5 397.7h0M217.8 413.6h0M209.6 418.8h0M150.0 392.4h0M170.0 422.1h0M171.2 418.7h0M211.8 397.7h0M211.9 405.3h0M212.2 408.8h0M212.0 411.9h0M212.2 415.5h0M212.1 418.9h0M211.6 423.1h0M211.8 426.5h0M211.7 430.0h0M212.3 433.6h0M206.2 405.9h0M205.8 413.3h0M205.8 417.1h0M205.8 420.8h0M165.2 414.6h0M173.1 423.5h0M179.0 429.0h0M181.0 431.4h0M189.1 440.0h0M175.0 405.4h0M177.2 408.0h0M179.5 411.7h0M184.9 419.2h0M187.1 422.8h0M193.0 429.1h0M197.5 436.9h0M199.8 439.7h0M160.0 429.6h0M163.3 429.8h0M167.1 430.3h0M175.3 431.2h0M179.1 431.5h0M182.4 431.7h0M190.0 390.0h0" stroke="#463d98" stroke-width="1.7" stroke-linecap="square" fill="none"/>
<path d="M188.4 353.8h0M171.6 357.5h0M177.0 347.9h0M157.4 355.2h0M180.2 347.5h0M169.8 354.8h0M192.4 352.2h0M179.3 355.3h0M174.6 354.1h0M178.4 351.9h0M182.3 356.6h0M175.3 358.8h0M179.8 358.5h0M175.1 361.6h0M173.5 357.6h0M187.2 357.1h0M168.8 348.8h0M177.2 356.0h0M177.5 355.8h0M190.6 357.7h0M144.9 332.7h0M199.1 345.6h0M191.4 348.4h0M194.0 319.0h0M154.3 351.6h0M191.3 337.9h0M141.0 343.5h0M199.6 334.9h0M192.6 327.6h0M200.8 349.7h0M167.6 352.0h0M149.3 335.9h0M199.9 354.9h0M153.2 345.5h0M190.7 343.0h0M134.1 340.3h0M200.7 334.0h0M186.8 329.9h0M192.3 346.5h0M144.2 332.8h0M150.0 339.2h0M152.3 342.7h0M165.9 359.1h0M152.9 325.8h0M159.1 333.0h0M167.7 343.8h0M160.1 318.3h0M160.4 327.2h0M161.0 332.0h0M161.3 336.4h0M161.5 340.3h0M161.6 345.1h0M170.1 316.3h0M170.7 320.2h0M171.3 337.2h0M187.2 322.3h0M190.1 329.4h0M191.8 333.7h0M194.4 340.7h0M195.6 344.7h0M202.8 334.1h0M207.4 341.3h0M213.0 322.0h0M138.0 338.0h0M136.0 342.0h0M182.6 430.6h0M195.4 424.0h0M195.9 425.0h0M184.3 440.1h0M181.6 438.1h0M198.6 421.8h0M178.1 433.8h0M178.5 440.9h0M186.8 429.1h0M173.0 439.6h0M195.6 436.3h0M192.4 440.2h0M211.3 423.0h0M179.4 428.8h0M178.9 434.6h0M170.8 440.5h0M191.2 414.5h0M184.0 412.8h0M207.3 419.7h0M200.1 428.2h0M161.1 432.7h0M195.5 420.7h0M197.6 436.6h0M169.0 407.8h0M187.2 429.1h0M186.7 414.0h0M158.3 436.3h0M179.6 443.0h0M173.4 428.3h0M158.0 403.3h0M167.2 414.6h0M153.6 396.4h0M207.6 416.8h0M156.5 394.8h0M213.9 413.1h0M167.1 398.2h0M167.8 403.1h0M206.6 413.6h0M209.8 413.9h0M205.7 417.4h0M212.5 413.8h0M152.7 394.8h0M219.5 425.1h0M160.4 391.2h0M212.1 401.7h0M205.6 401.8h0M205.7 409.4h0M205.6 424.7h0M205.9 428.0h0M167.9 418.0h0M170.5 420.0h0M176.2 425.8h0M184.4 434.2h0M186.9 436.7h0M192.1 442.7h0M194.6 445.4h0M183.0 415.7h0M189.6 425.6h0M195.5 432.5h0M170.8 430.9h0M185.9 431.5h0M190.5 431.6h0M148.0 397.0h0M152.0 399.0h0M170.0 387.0h0M215.0 404.0h0M180.0 447.0h0M172.0 445.0h0" stroke="#1eabab" stroke-width="1.7" stroke-linecap="square" fill="none"/>
<path d="M178.4 356.4h0M180.7 358.5h0M181.4 358.1h0M186.8 358.6h0M173.4 350.3h0M186.2 354.2h0M201.1 336.2h0M192.6 336.1h0M183.4 343.9h0M183.6 341.3h0M154.6 345.5h0M157.5 348.9h0M172.7 350.1h0M170.6 324.5h0M150.0 329.0h0M169.0 320.0h0M196.1 434.1h0M195.1 415.2h0M196.7 434.7h0M181.9 433.6h0M183.7 425.3h0M202.1 417.4h0M200.3 435.4h0M159.9 397.0h0M174.8 411.1h0M211.6 436.9h0M205.9 431.7h0M185.0 397.0h0M147.0 407.0h0M144.0 421.0h0" stroke="#dcdc3e" stroke-width="1.7" stroke-linecap="square" fill="none"/>
<circle cx="102.2" cy="298.8" r="2.1" fill="#463d98"/>
<circle cx="102.2" cy="306.6" r="2.1" fill="#1eabab"/>
<circle cx="102.2" cy="314.6" r="2.1" fill="#dcdc3e"/>
<text x="107" y="301.28" font-size="7.2" text-anchor="start" fill="#231f20" stroke="#231f20" stroke-width="0.042">Low-Mid (δ,θ,α,β)</text>
<text x="107" y="309.08" font-size="7.2" text-anchor="start" fill="#231f20" stroke="#231f20" stroke-width="0.042">High (γ,Hγ)</text>
<text x="107" y="317.08" font-size="7.2" text-anchor="start" fill="#231f20" stroke="#231f20" stroke-width="0.042">Both</text>
<text x="71.6" y="452.17" font-size="9.8" text-anchor="middle" fill="#231f20" stroke="#231f20" stroke-width="0.2">Inferior</text>
<text x="133.4" y="373.1" font-size="9.9" text-anchor="start" fill="#231f20" stroke="#231f20" stroke-width="0.2">Left</text>
<text x="132.6" y="445.5" font-size="9.9" text-anchor="start" fill="#231f20" stroke="#231f20" stroke-width="0.2">Right</text>
<text x="4.2" y="384.37" font-size="9.8" text-anchor="middle" fill="#231f20" transform="rotate(-90 4.2 381)" stroke="#231f20" stroke-width="0.2">Significant Electrodes</text>
</svg>
</body></html>
